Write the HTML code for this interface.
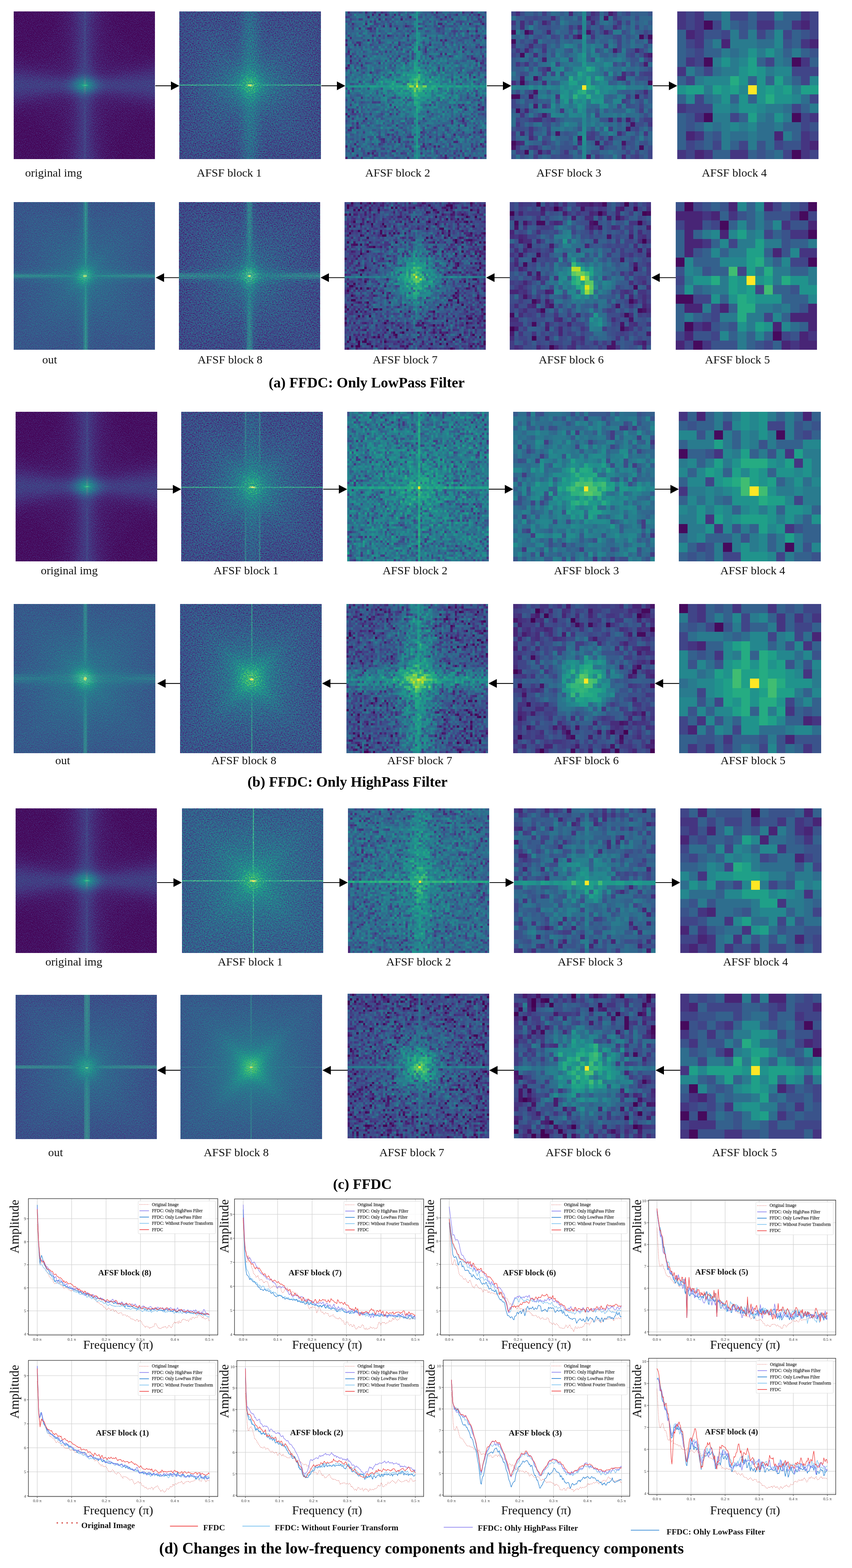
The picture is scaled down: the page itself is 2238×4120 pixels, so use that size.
<!DOCTYPE html><html><head><meta charset="utf-8"><title>FFDC figure</title><style>html,body{margin:0;padding:0;background:#fff}body{width:2238px;height:4120px;position:relative;overflow:hidden;font-family:"Liberation Serif","Times New Roman",serif}.p{position:absolute;display:block;shape-rendering:crispEdges}.l{position:absolute;white-space:nowrap;font-size:31px;line-height:1;color:#111}.t{position:absolute;white-space:nowrap;font-weight:bold;font-size:39px;line-height:1;color:#000}.ov{position:absolute;left:0;top:0}</style></head><body><svg width="0" height="0" style="position:absolute"><defs><filter id="fbA" filterUnits="userSpaceOnUse" x="-4" y="-4" width="72" height="72" color-interpolation-filters="sRGB"><feGaussianBlur in="SourceGraphic" stdDeviation="0.75" result="b"/><feTurbulence type="fractalNoise" baseFrequency="4.2" numOctaves="2" seed="7" result="t"/><feColorMatrix in="t" type="matrix" values="1 0 0 0 0 1 0 0 0 0 1 0 0 0 0 0 0 0 0 1" result="n"/><feComposite in="b" in2="n" operator="arithmetic" k1="0" k2="1" k3="0.7" k4="-0.35"/><feComponentTransfer><feFuncR type="table" tableValues="0.267 0.277 0.282 0.283 0.279 0.271 0.259 0.245 0.230 0.214 0.199 0.186 0.173 0.161 0.149 0.138 0.128 0.121 0.121 0.132 0.158 0.197 0.246 0.304 0.369 0.440 0.516 0.596 0.678 0.762 0.846 0.926 0.993"/><feFuncG type="table" tableValues="0.005 0.050 0.095 0.136 0.175 0.214 0.252 0.288 0.322 0.356 0.388 0.419 0.449 0.479 0.508 0.537 0.567 0.596 0.626 0.655 0.684 0.712 0.739 0.765 0.789 0.811 0.831 0.849 0.864 0.876 0.887 0.897 0.906"/><feFuncB type="table" tableValues="0.329 0.376 0.417 0.453 0.483 0.507 0.525 0.537 0.546 0.551 0.555 0.557 0.558 0.558 0.557 0.555 0.551 0.544 0.533 0.520 0.502 0.479 0.452 0.420 0.383 0.341 0.294 0.243 0.190 0.137 0.100 0.104 0.144"/></feComponentTransfer></filter><filter id="fsA" filterUnits="userSpaceOnUse" x="0" y="0" width="64" height="64" color-interpolation-filters="sRGB"><feTurbulence type="fractalNoise" baseFrequency="4.2" numOctaves="2" seed="7" result="t"/><feColorMatrix in="t" type="matrix" values="1 0 0 0 0 1 0 0 0 0 1 0 0 0 0 0 0 0 0 1" result="n"/><feComposite in="SourceGraphic" in2="n" operator="arithmetic" k1="0" k2="1" k3="0.7" k4="-0.35"/><feComponentTransfer><feFuncR type="table" tableValues="0.267 0.277 0.282 0.283 0.279 0.271 0.259 0.245 0.230 0.214 0.199 0.186 0.173 0.161 0.149 0.138 0.128 0.121 0.121 0.132 0.158 0.197 0.246 0.304 0.369 0.440 0.516 0.596 0.678 0.762 0.846 0.926 0.993"/><feFuncG type="table" tableValues="0.005 0.050 0.095 0.136 0.175 0.214 0.252 0.288 0.322 0.356 0.388 0.419 0.449 0.479 0.508 0.537 0.567 0.596 0.626 0.655 0.684 0.712 0.739 0.765 0.789 0.811 0.831 0.849 0.864 0.876 0.887 0.897 0.906"/><feFuncB type="table" tableValues="0.329 0.376 0.417 0.453 0.483 0.507 0.525 0.537 0.546 0.551 0.555 0.557 0.558 0.558 0.557 0.555 0.551 0.544 0.533 0.520 0.502 0.479 0.452 0.420 0.383 0.341 0.294 0.243 0.190 0.137 0.100 0.104 0.144"/></feComponentTransfer><feComposite in2="SourceAlpha" operator="in"/></filter><filter id="fbB" filterUnits="userSpaceOnUse" x="-4" y="-4" width="72" height="72" color-interpolation-filters="sRGB"><feGaussianBlur in="SourceGraphic" stdDeviation="0.75" result="b"/><feTurbulence type="fractalNoise" baseFrequency="6.5" numOctaves="2" seed="7" result="t"/><feColorMatrix in="t" type="matrix" values="1 0 0 0 0 1 0 0 0 0 1 0 0 0 0 0 0 0 0 1" result="n"/><feComposite in="b" in2="n" operator="arithmetic" k1="0" k2="1" k3="0.6" k4="-0.3"/><feComponentTransfer><feFuncR type="table" tableValues="0.267 0.277 0.282 0.283 0.279 0.271 0.259 0.245 0.230 0.214 0.199 0.186 0.173 0.161 0.149 0.138 0.128 0.121 0.121 0.132 0.158 0.197 0.246 0.304 0.369 0.440 0.516 0.596 0.678 0.762 0.846 0.926 0.993"/><feFuncG type="table" tableValues="0.005 0.050 0.095 0.136 0.175 0.214 0.252 0.288 0.322 0.356 0.388 0.419 0.449 0.479 0.508 0.537 0.567 0.596 0.626 0.655 0.684 0.712 0.739 0.765 0.789 0.811 0.831 0.849 0.864 0.876 0.887 0.897 0.906"/><feFuncB type="table" tableValues="0.329 0.376 0.417 0.453 0.483 0.507 0.525 0.537 0.546 0.551 0.555 0.557 0.558 0.558 0.557 0.555 0.551 0.544 0.533 0.520 0.502 0.479 0.452 0.420 0.383 0.341 0.294 0.243 0.190 0.137 0.100 0.104 0.144"/></feComponentTransfer></filter><filter id="fsB" filterUnits="userSpaceOnUse" x="0" y="0" width="64" height="64" color-interpolation-filters="sRGB"><feTurbulence type="fractalNoise" baseFrequency="6.5" numOctaves="2" seed="7" result="t"/><feColorMatrix in="t" type="matrix" values="1 0 0 0 0 1 0 0 0 0 1 0 0 0 0 0 0 0 0 1" result="n"/><feComposite in="SourceGraphic" in2="n" operator="arithmetic" k1="0" k2="1" k3="0.6" k4="-0.3"/><feComponentTransfer><feFuncR type="table" tableValues="0.267 0.277 0.282 0.283 0.279 0.271 0.259 0.245 0.230 0.214 0.199 0.186 0.173 0.161 0.149 0.138 0.128 0.121 0.121 0.132 0.158 0.197 0.246 0.304 0.369 0.440 0.516 0.596 0.678 0.762 0.846 0.926 0.993"/><feFuncG type="table" tableValues="0.005 0.050 0.095 0.136 0.175 0.214 0.252 0.288 0.322 0.356 0.388 0.419 0.449 0.479 0.508 0.537 0.567 0.596 0.626 0.655 0.684 0.712 0.739 0.765 0.789 0.811 0.831 0.849 0.864 0.876 0.887 0.897 0.906"/><feFuncB type="table" tableValues="0.329 0.376 0.417 0.453 0.483 0.507 0.525 0.537 0.546 0.551 0.555 0.557 0.558 0.558 0.557 0.555 0.551 0.544 0.533 0.520 0.502 0.479 0.452 0.420 0.383 0.341 0.294 0.243 0.190 0.137 0.100 0.104 0.144"/></feComponentTransfer><feComposite in2="SourceAlpha" operator="in"/></filter><filter id="fbC" filterUnits="userSpaceOnUse" x="-4" y="-4" width="72" height="72" color-interpolation-filters="sRGB"><feGaussianBlur in="SourceGraphic" stdDeviation="0.75" result="b"/><feTurbulence type="fractalNoise" baseFrequency="6.5" numOctaves="2" seed="7" result="t"/><feColorMatrix in="t" type="matrix" values="1 0 0 0 0 1 0 0 0 0 1 0 0 0 0 0 0 0 0 1" result="n"/><feComposite in="b" in2="n" operator="arithmetic" k1="0" k2="1" k3="0.45" k4="-0.225"/><feComponentTransfer><feFuncR type="table" tableValues="0.267 0.277 0.282 0.283 0.279 0.271 0.259 0.245 0.230 0.214 0.199 0.186 0.173 0.161 0.149 0.138 0.128 0.121 0.121 0.132 0.158 0.197 0.246 0.304 0.369 0.440 0.516 0.596 0.678 0.762 0.846 0.926 0.993"/><feFuncG type="table" tableValues="0.005 0.050 0.095 0.136 0.175 0.214 0.252 0.288 0.322 0.356 0.388 0.419 0.449 0.479 0.508 0.537 0.567 0.596 0.626 0.655 0.684 0.712 0.739 0.765 0.789 0.811 0.831 0.849 0.864 0.876 0.887 0.897 0.906"/><feFuncB type="table" tableValues="0.329 0.376 0.417 0.453 0.483 0.507 0.525 0.537 0.546 0.551 0.555 0.557 0.558 0.558 0.557 0.555 0.551 0.544 0.533 0.520 0.502 0.479 0.452 0.420 0.383 0.341 0.294 0.243 0.190 0.137 0.100 0.104 0.144"/></feComponentTransfer></filter><filter id="fsC" filterUnits="userSpaceOnUse" x="0" y="0" width="64" height="64" color-interpolation-filters="sRGB"><feTurbulence type="fractalNoise" baseFrequency="6.5" numOctaves="2" seed="7" result="t"/><feColorMatrix in="t" type="matrix" values="1 0 0 0 0 1 0 0 0 0 1 0 0 0 0 0 0 0 0 1" result="n"/><feComposite in="SourceGraphic" in2="n" operator="arithmetic" k1="0" k2="1" k3="0.45" k4="-0.225"/><feComponentTransfer><feFuncR type="table" tableValues="0.267 0.277 0.282 0.283 0.279 0.271 0.259 0.245 0.230 0.214 0.199 0.186 0.173 0.161 0.149 0.138 0.128 0.121 0.121 0.132 0.158 0.197 0.246 0.304 0.369 0.440 0.516 0.596 0.678 0.762 0.846 0.926 0.993"/><feFuncG type="table" tableValues="0.005 0.050 0.095 0.136 0.175 0.214 0.252 0.288 0.322 0.356 0.388 0.419 0.449 0.479 0.508 0.537 0.567 0.596 0.626 0.655 0.684 0.712 0.739 0.765 0.789 0.811 0.831 0.849 0.864 0.876 0.887 0.897 0.906"/><feFuncB type="table" tableValues="0.329 0.376 0.417 0.453 0.483 0.507 0.525 0.537 0.546 0.551 0.555 0.557 0.558 0.558 0.557 0.555 0.551 0.544 0.533 0.520 0.502 0.479 0.452 0.420 0.383 0.341 0.294 0.243 0.190 0.137 0.100 0.104 0.144"/></feComponentTransfer><feComposite in2="SourceAlpha" operator="in"/></filter></defs></svg><svg class="p" style="left:36.0px;top:30.0px" width="371.0" height="388.0" viewBox="0 0 32 32" preserveAspectRatio="none"><g fill="none" stroke-width="1.02" filter="url(#fbC)"><path stroke="#080808" d="M-4 -3.5h12m16 0h12M-4 -2.5h13m14 0h13M-4 -1.5h13m14 0h13M-4 -0.5h13m14 0h13M-4 0.5h13m14 0h13M-4 1.5h13m14 0h13M-4 2.5h14m12 0h14M-4 3.5h13m14 0h13M-4 4.5h13m14 0h13M-4 5.5h12m16 0h12M-4 6.5h11m18 0h11M-4 7.5h10m20 0h10M-1 8.5h6m22 0h6M-1 23.5h6m22 0h6M-4 24.5h10m20 0h10M-4 25.5h11m18 0h11M-4 26.5h12m16 0h12M-4 27.5h13m14 0h13M-4 28.5h13m14 0h13M-4 29.5h14m12 0h14M-4 30.5h13m14 0h13M-4 31.5h13m14 0h13M-4 32.5h13m14 0h13M-4 33.5h13m14 0h13M-4 34.5h13m14 0h13M-4 35.5h12m16 0h12"/><path stroke="#0c0c0c" d="M8 -3.5h2m12 0h2M9 -2.5h1m12 0h1M9 -1.5h2m10 0h2M9 -0.5h2m10 0h2M9 0.5h2m10 0h2M9 1.5h2m10 0h2M10 2.5h1m10 0h1M9 3.5h2m10 0h2M9 4.5h2m10 0h2M8 5.5h3m10 0h3M7 6.5h4m10 0h4M6 7.5h5m10 0h5M-4 8.5h3m6 0h6m10 0h6m6 0h3M-2 9.5h12m12 0h12M1 10.5h8m14 0h8M1 21.5h8m14 0h8M-2 22.5h12m12 0h12M-4 23.5h3m6 0h6m10 0h6m6 0h3M6 24.5h5m10 0h5M7 25.5h4m10 0h4M8 26.5h3m10 0h3M9 27.5h2m10 0h2M9 28.5h2m10 0h2M10 29.5h1m10 0h1M9 30.5h2m10 0h2M9 31.5h2m10 0h2M9 32.5h2m10 0h2M9 33.5h2m10 0h2M9 34.5h1m12 0h1M8 35.5h2m12 0h2"/><path stroke="#101010" d="M10 -3.5h1m10 0h1M10 -2.5h2m8 0h2M11 -1.5h1m8 0h1M11 -0.5h1m8 0h1M11 0.5h1m8 0h1M11 1.5h1m8 0h1M11 2.5h1m8 0h1M11 3.5h1m8 0h1M11 4.5h1m8 0h1M11 5.5h1m8 0h1M11 6.5h2m6 0h2M11 7.5h1m8 0h1M11 8.5h1m8 0h1M-4 9.5h2m12 0h2m8 0h2m12 0h2M-2 10.5h3m8 0h3m8 0h3m8 0h3M2 11.5h9m10 0h9M2 20.5h9m10 0h9M-2 21.5h3m8 0h3m8 0h3m8 0h3M-4 22.5h2m12 0h2m8 0h2m12 0h2M11 23.5h1m8 0h1M11 24.5h1m8 0h1M11 25.5h2m6 0h2M11 26.5h1m8 0h1M11 27.5h1m8 0h1M11 28.5h1m8 0h1M11 29.5h1m8 0h1M11 30.5h1m8 0h1M11 31.5h1m8 0h1M11 32.5h1m8 0h1M11 33.5h1m8 0h1M10 34.5h2m8 0h2M10 35.5h1m10 0h1"/><path stroke="#141414" d="M11 -3.5h1m8 0h1M12 -1.5h1m6 0h1M12 -0.5h1m6 0h1M12 0.5h1m6 0h1M12 1.5h1m6 0h1M12 2.5h1m6 0h1M12 3.5h1m6 0h1M12 4.5h1m6 0h1M12 5.5h1m6 0h1M12 7.5h1m6 0h1M12 8.5h1m6 0h1M12 9.5h1m6 0h1M-4 10.5h2m14 0h1m6 0h1m14 0h2M-1 11.5h3m9 0h2m6 0h2m9 0h3M4 12.5h8m8 0h8M4 19.5h8m8 0h8M-1 20.5h3m9 0h2m6 0h2m9 0h3M-4 21.5h2m14 0h1m6 0h1m14 0h2M12 22.5h1m6 0h1M12 23.5h1m6 0h1M12 24.5h1m6 0h1M12 26.5h1m6 0h1M12 27.5h1m6 0h1M12 28.5h1m6 0h1M12 29.5h1m6 0h1M12 30.5h1m6 0h1M12 31.5h1m6 0h1M12 32.5h1m6 0h1M12 33.5h1m6 0h1M11 35.5h1m8 0h1"/><path stroke="#181818" d="M12 -3.5h1m6 0h1M12 -2.5h1m6 0h1M13 1.5h1m4 0h1M13 2.5h1m4 0h1M13 3.5h1m4 0h1M13 4.5h1m4 0h1M13 5.5h1m4 0h1M13 6.5h1m4 0h1M13 7.5h1m4 0h1M13 8.5h1m4 0h1M13 9.5h1m4 0h1M13 10.5h1m4 0h1M-3 11.5h2m14 0h1m4 0h1m14 0h2M1 12.5h3m8 0h1m6 0h1m8 0h3M8 13.5h4m8 0h4M8 18.5h4m8 0h4M1 19.5h3m8 0h1m6 0h1m8 0h3M-3 20.5h2m14 0h1m4 0h1m14 0h2M13 21.5h1m4 0h1M13 22.5h1m4 0h1M13 23.5h1m4 0h1M13 24.5h1m4 0h1M13 25.5h1m4 0h1M13 26.5h1m4 0h1M13 27.5h1m4 0h1M13 28.5h1m4 0h1M13 29.5h1m4 0h1M13 30.5h1m4 0h1M12 34.5h1m6 0h1M12 35.5h1m6 0h1"/><path stroke="#1c1c1c" d="M13 -3.5h1m4 0h1M13 -2.5h1m4 0h1M13 -1.5h1m4 0h1M13 -0.5h1m4 0h1M13 0.5h1m4 0h1M-4 11.5h1m38 0h1M-1 12.5h2m12 0h1m4 0h1m12 0h2M5 13.5h3m4 0h1m6 0h1m4 0h3M5 18.5h3m4 0h1m6 0h1m4 0h3M-1 19.5h2m12 0h1m4 0h1m12 0h2M-4 20.5h1m38 0h1M13 31.5h1m4 0h1M13 32.5h1m4 0h1M13 33.5h1m4 0h1M13 34.5h1m4 0h1M13 35.5h1m4 0h1"/><path stroke="#202020" d="M14 2.5h1m2 0h1M14 3.5h1m2 0h1M14 4.5h1m2 0h1M14 5.5h1m2 0h1M14 6.5h1m2 0h1M14 7.5h1m2 0h1M14 8.5h1m2 0h1M14 9.5h1m2 0h1M14 10.5h1m2 0h1M-4 12.5h3m34 0h3M2 13.5h3m8 0h1m4 0h1m8 0h3M2 18.5h3m8 0h1m4 0h1m8 0h3M-4 19.5h3m34 0h3M14 21.5h1m2 0h1M14 22.5h1m2 0h1M14 23.5h1m2 0h1M14 24.5h1m2 0h1M14 25.5h1m2 0h1M14 26.5h1m2 0h1M14 27.5h1m2 0h1M14 28.5h1m2 0h1M14 29.5h1m2 0h1"/><path stroke="#242424" d="M14 -3.5h1m2 0h1M14 -2.5h1m2 0h1M14 -1.5h1m2 0h1M14 -0.5h1m2 0h1M14 0.5h1m2 0h1M14 1.5h1m2 0h1M14 11.5h1m2 0h1M14 12.5h1m2 0h1M-1 13.5h3m28 0h3M7 14.5h5m8 0h5M7 17.5h5m8 0h5M-1 18.5h3m28 0h3M14 19.5h1m2 0h1M14 20.5h1m2 0h1M14 30.5h1m2 0h1M14 31.5h1m2 0h1M14 32.5h1m2 0h1M14 33.5h1m2 0h1M14 34.5h1m2 0h1M14 35.5h1m2 0h1"/><path stroke="#282828" d="M-4 13.5h3m34 0h3M2 14.5h5m5 0h1m6 0h1m5 0h5M2 17.5h5m5 0h1m6 0h1m5 0h5M-4 18.5h3m34 0h3"/><path stroke="#2d2d2d" d="M15 -3.5h2M15 -2.5h2M15 -1.5h2M15 -0.5h2M15 0.5h2M15 1.5h2M15 2.5h2M15 3.5h2M15 4.5h2M15 5.5h2M15 6.5h2M15 7.5h2M15 8.5h2M15 9.5h2M15 10.5h2M14 13.5h1m2 0h1M-3 14.5h5m28 0h5M-3 17.5h5m28 0h5M14 18.5h1m2 0h1M15 21.5h2M15 22.5h2M15 23.5h2M15 24.5h2M15 25.5h2M15 26.5h2M15 27.5h2M15 28.5h2M15 29.5h2M15 30.5h2M15 31.5h2M15 32.5h2M15 33.5h2M15 34.5h2M15 35.5h2"/><path stroke="#313131" d="M15 11.5h2M15 12.5h2M-4 14.5h1m16 0h1m4 0h1m16 0h1M-3 15.5h14m10 0h14M-3 16.5h14m10 0h14M-4 17.5h1m16 0h1m4 0h1m16 0h1M15 19.5h2M15 20.5h2"/><path stroke="#353535" d="M-4 15.5h1m14 0h1m8 0h1m14 0h1M-4 16.5h1m14 0h1m8 0h1m14 0h1"/><path stroke="#393939" d="M15 13.5h2M15 18.5h2"/><path stroke="#414141" d="M14 14.5h1m2 0h1M12 15.5h1m6 0h1M12 16.5h1m6 0h1M14 17.5h1m2 0h1"/><path stroke="#555555" d="M15 14.5h2M13 15.5h1m4 0h1M13 16.5h1m4 0h1M15 17.5h2"/><path stroke="#717171" d="M14 15.5h1m2 0h1M14 16.5h1m2 0h1"/><path stroke="#929292" d="M15 15.5h2M15 16.5h2"/></g><g filter="url(#fsC)" style="mix-blend-mode:lighten"><rect x="15.901" y="0.00" width="0.518" height="32.00" fill="#333333"/><ellipse cx="16.160" cy="16.000" rx="0.776" ry="0.247" fill="#949494"/><ellipse cx="16.160" cy="16.000" rx="0.345" ry="0.124" fill="#b2b2b2"/></g></svg><svg class="p" style="left:471.0px;top:30.0px" width="372.0" height="388.0" viewBox="0 0 32 32" preserveAspectRatio="none"><g fill="none" stroke-width="1.02" filter="url(#fbA)"><path stroke="#313131" d="M-4 -3.5h17m6 0h17M-4 -2.5h1m38 0h1M-4 -1.5h1m38 0h1M-4 -0.5h1m38 0h1M-4 0.5h1m38 0h1M-4 1.5h1m38 0h1M-4 2.5h1m38 0h1M-4 3.5h1m38 0h1M-4 4.5h1m38 0h1M-4 5.5h1m38 0h1M-4 6.5h1m38 0h1M-4 7.5h1m38 0h1M-4 8.5h1m38 0h1M-4 9.5h1m38 0h1M-4 10.5h1m38 0h1M-4 11.5h1m38 0h1M-4 12.5h1m38 0h1M-4 13.5h1m38 0h1M-4 14.5h1m38 0h1M-4 15.5h1m38 0h1M-4 16.5h1m38 0h1M-4 17.5h1m38 0h1M-4 18.5h1m38 0h1M-4 19.5h1m38 0h1M-4 20.5h1m38 0h1M-4 21.5h1m38 0h1M-4 22.5h1m38 0h1M-4 23.5h1m38 0h1M-4 24.5h1m38 0h1M-4 25.5h1m38 0h1M-4 26.5h1m38 0h1M-4 27.5h1m38 0h1M-4 28.5h1m38 0h1M-4 29.5h1m38 0h1M-4 30.5h1m38 0h1M-4 31.5h1m38 0h1M-4 32.5h1m38 0h1M-4 33.5h1m38 0h1M-4 34.5h1m38 0h1M-4 35.5h17m6 0h17"/><path stroke="#353535" d="M13 -3.5h1m4 0h1M-3 -2.5h16m6 0h16M-3 -1.5h16m6 0h16M-3 -0.5h2m34 0h2M-3 0.5h2m34 0h2M-3 1.5h2m34 0h2M-3 2.5h2m34 0h2M-3 3.5h2m34 0h2M-3 4.5h2m34 0h2M-3 5.5h2m34 0h2M-3 6.5h2m34 0h2M-3 7.5h2m34 0h2M-3 8.5h2m34 0h2M-3 9.5h2m34 0h2M-3 10.5h2m34 0h2M-3 11.5h2m34 0h2M-3 12.5h2m34 0h2M-3 13.5h2m34 0h2M-3 14.5h2m34 0h2M-3 15.5h2m34 0h2M-3 16.5h2m34 0h2M-3 17.5h2m34 0h2M-3 18.5h2m34 0h2M-3 19.5h2m34 0h2M-3 20.5h2m34 0h2M-3 21.5h2m34 0h2M-3 22.5h2m34 0h2M-3 23.5h2m34 0h2M-3 24.5h2m34 0h2M-3 25.5h2m34 0h2M-3 26.5h2m34 0h2M-3 27.5h2m34 0h2M-3 28.5h2m34 0h2M-3 29.5h2m34 0h2M-3 30.5h2m34 0h2M-3 31.5h2m34 0h2M-3 32.5h2m34 0h2M-3 33.5h16m6 0h16M-3 34.5h16m6 0h16M13 35.5h1m4 0h1"/><path stroke="#393939" d="M13 -2.5h1m4 0h1M13 -1.5h1m4 0h1M-1 -0.5h14m6 0h14M-1 0.5h14m6 0h14M-1 1.5h2m30 0h2M-1 2.5h2m30 0h2M-1 3.5h2m30 0h2M-1 4.5h2m30 0h2M-1 5.5h2m30 0h2M-1 6.5h2m30 0h2M-1 7.5h2m30 0h2M-1 8.5h2m30 0h2M-1 9.5h2m30 0h2M-1 10.5h2m30 0h2M-1 11.5h2m30 0h2M-1 12.5h2m30 0h2M-1 13.5h2m30 0h2M-1 14.5h2m30 0h2M-1 15.5h1m32 0h1M-1 16.5h1m32 0h1M-1 17.5h2m30 0h2M-1 18.5h2m30 0h2M-1 19.5h2m30 0h2M-1 20.5h2m30 0h2M-1 21.5h2m30 0h2M-1 22.5h2m30 0h2M-1 23.5h2m30 0h2M-1 24.5h2m30 0h2M-1 25.5h2m30 0h2M-1 26.5h2m30 0h2M-1 27.5h2m30 0h2M-1 28.5h2m30 0h2M-1 29.5h2m30 0h2M-1 30.5h2m30 0h2M-1 31.5h14m6 0h14M-1 32.5h14m6 0h14M13 33.5h1m4 0h1M13 34.5h1m4 0h1"/><path stroke="#3d3d3d" d="M13 -0.5h1m4 0h1M13 0.5h1m4 0h1M1 1.5h12m6 0h12M1 2.5h12m6 0h12M1 3.5h12m6 0h12M1 4.5h3m24 0h3M1 5.5h3m24 0h3M1 6.5h3m24 0h3M1 7.5h3m24 0h3M1 8.5h3m24 0h3M1 9.5h3m24 0h3M1 10.5h2m26 0h2M1 11.5h2m26 0h2M1 12.5h2m26 0h2M1 13.5h1m28 0h1M1 14.5h1m28 0h1M0 15.5h2m28 0h2M0 16.5h2m28 0h2M1 17.5h1m28 0h1M1 18.5h1m28 0h1M1 19.5h2m26 0h2M1 20.5h2m26 0h2M1 21.5h2m26 0h2M1 22.5h3m24 0h3M1 23.5h3m24 0h3M1 24.5h3m24 0h3M1 25.5h3m24 0h3M1 26.5h3m24 0h3M1 27.5h3m24 0h3M1 28.5h12m6 0h12M1 29.5h12m6 0h12M1 30.5h12m6 0h12M13 31.5h1m4 0h1M13 32.5h1m4 0h1"/><path stroke="#414141" d="M14 -3.5h1m2 0h1M13 1.5h1m4 0h1M13 2.5h1m4 0h1M13 3.5h1m4 0h1M4 4.5h9m6 0h9M4 5.5h9m6 0h9M4 6.5h2m4 0h2m8 0h2m4 0h2M4 7.5h2m20 0h2M4 8.5h2m20 0h2M4 9.5h2m20 0h2M3 10.5h3m20 0h3M3 11.5h2m22 0h2M3 12.5h2m22 0h2M2 13.5h2m24 0h2M2 14.5h2m24 0h2M2 15.5h2m24 0h2M2 16.5h2m24 0h2M2 17.5h2m24 0h2M2 18.5h2m24 0h2M3 19.5h2m22 0h2M3 20.5h2m22 0h2M3 21.5h3m20 0h3M4 22.5h2m20 0h2M4 23.5h2m20 0h2M4 24.5h2m20 0h2M4 25.5h2m4 0h2m8 0h2m4 0h2M4 26.5h9m6 0h9M4 27.5h9m6 0h9M13 28.5h1m4 0h1M13 29.5h1m4 0h1M13 30.5h1m4 0h1M14 35.5h1m2 0h1"/><path stroke="#454545" d="M14 -2.5h1m2 0h1M14 -1.5h1m2 0h1M13 4.5h1m4 0h1M13 5.5h1m4 0h1M6 6.5h4m2 0h2m4 0h2m2 0h4M6 7.5h7m6 0h7M6 8.5h3m1 0h3m6 0h3m1 0h3M6 9.5h2m16 0h2M6 10.5h2m16 0h2M5 11.5h2m18 0h2M5 12.5h2m18 0h2M4 13.5h2m20 0h2M4 14.5h1m22 0h1M4 15.5h1m22 0h1M4 16.5h1m22 0h1M4 17.5h1m22 0h1M4 18.5h2m20 0h2M5 19.5h2m18 0h2M5 20.5h2m18 0h2M6 21.5h2m16 0h2M6 22.5h2m16 0h2M6 23.5h3m1 0h3m6 0h3m1 0h3M6 24.5h7m6 0h7M6 25.5h4m2 0h2m4 0h2m2 0h4M13 26.5h1m4 0h1M13 27.5h1m4 0h1M14 33.5h1m2 0h1M14 34.5h1m2 0h1"/><path stroke="#494949" d="M14 -0.5h1m2 0h1M14 0.5h1m2 0h1M14 1.5h1m2 0h1M13 7.5h1m4 0h1M9 8.5h1m3 0h1m4 0h1m3 0h1M8 9.5h5m6 0h5M8 10.5h2m12 0h2M7 11.5h2m14 0h2M7 12.5h1m16 0h1M6 13.5h1m18 0h1M5 14.5h2m18 0h2M5 15.5h1m20 0h1M5 16.5h1m20 0h1M5 17.5h2m18 0h2M6 18.5h1m18 0h1M7 19.5h1m16 0h1M7 20.5h2m14 0h2M8 21.5h2m12 0h2M8 22.5h5m6 0h5M9 23.5h1m3 0h1m4 0h1m3 0h1M13 24.5h1m4 0h1M14 30.5h1m2 0h1M14 31.5h1m2 0h1M14 32.5h1m2 0h1"/><path stroke="#4d4d4d" d="M14 2.5h1m2 0h1M14 3.5h1m2 0h1M13 9.5h1m4 0h1M10 10.5h3m6 0h3M9 11.5h2m10 0h2M8 12.5h2m12 0h2M7 13.5h2m14 0h2M7 14.5h1m16 0h1M6 15.5h2m16 0h2M6 16.5h2m16 0h2M7 17.5h1m16 0h1M7 18.5h2m14 0h2M8 19.5h2m12 0h2M9 20.5h2m10 0h2M10 21.5h3m6 0h3M13 22.5h1m4 0h1M14 28.5h1m2 0h1M14 29.5h1m2 0h1"/><path stroke="#515151" d="M15 -3.5h2M15 -2.5h2M14 4.5h1m2 0h1M14 5.5h1m2 0h1M14 6.5h1m2 0h1M13 10.5h1m4 0h1M11 11.5h2m6 0h2M10 12.5h1m10 0h1M9 13.5h1m12 0h1M8 14.5h1m14 0h1M8 15.5h1m14 0h1M8 16.5h1m14 0h1M8 17.5h1m14 0h1M9 18.5h1m12 0h1M10 19.5h1m10 0h1M11 20.5h2m6 0h2M13 21.5h1m4 0h1M14 25.5h1m2 0h1M14 26.5h1m2 0h1M14 27.5h1m2 0h1M15 34.5h2M15 35.5h2"/><path stroke="#555555" d="M15 -1.5h2M15 -0.5h2M14 7.5h1m2 0h1M14 8.5h1m2 0h1M13 11.5h1m4 0h1M11 12.5h1m8 0h1M10 13.5h1m10 0h1M9 14.5h1m12 0h1M9 15.5h1m12 0h1M9 16.5h1m12 0h1M9 17.5h1m12 0h1M10 18.5h1m10 0h1M11 19.5h1m8 0h1M13 20.5h1m4 0h1M14 23.5h1m2 0h1M14 24.5h1m2 0h1M15 32.5h2M15 33.5h2"/><path stroke="#595959" d="M15 0.5h2M15 1.5h2M14 9.5h1m2 0h1M14 10.5h1m2 0h1M12 12.5h1m6 0h1M11 13.5h1m8 0h1M10 14.5h1m10 0h1M10 15.5h1m10 0h1M10 16.5h1m10 0h1M10 17.5h1m10 0h1M11 18.5h1m8 0h1M12 19.5h1m6 0h1M14 21.5h1m2 0h1M14 22.5h1m2 0h1M15 30.5h2M15 31.5h2"/><path stroke="#5d5d5d" d="M15 2.5h2M15 3.5h2M15 4.5h2M13 12.5h1m4 0h1M12 13.5h1m6 0h1M11 14.5h1m8 0h1M11 17.5h1m8 0h1M12 18.5h1m6 0h1M13 19.5h1m4 0h1M15 27.5h2M15 28.5h2M15 29.5h2"/><path stroke="#616161" d="M15 5.5h2M15 6.5h2M15 7.5h2M14 11.5h1m2 0h1M11 15.5h1m8 0h1M11 16.5h1m8 0h1M14 20.5h1m2 0h1M15 24.5h2M15 25.5h2M15 26.5h2"/><path stroke="#656565" d="M15 8.5h2M15 9.5h2M13 13.5h1m4 0h1M12 14.5h1m6 0h1M12 17.5h1m6 0h1M13 18.5h1m4 0h1M15 22.5h2M15 23.5h2"/><path stroke="#696969" d="M15 10.5h2M14 12.5h1m2 0h1M12 15.5h1m6 0h1M12 16.5h1m6 0h1M14 19.5h1m2 0h1M15 21.5h2"/><path stroke="#6d6d6d" d="M15 11.5h2M13 14.5h1m4 0h1M13 17.5h1m4 0h1M15 20.5h2"/><path stroke="#717171" d="M14 13.5h1m2 0h1M14 18.5h1m2 0h1"/><path stroke="#757575" d="M15 12.5h2M15 19.5h2"/><path stroke="#797979" d="M13 15.5h1m4 0h1M13 16.5h1m4 0h1"/><path stroke="#828282" d="M15 13.5h2M14 14.5h1m2 0h1M14 17.5h1m2 0h1M15 18.5h2"/><path stroke="#929292" d="M14 15.5h1m2 0h1M14 16.5h1m2 0h1"/><path stroke="#969696" d="M15 14.5h2M15 17.5h2"/><path stroke="#aaaaaa" d="M15 15.5h2M15 16.5h2"/></g><g filter="url(#fsA)" style="mix-blend-mode:lighten"><rect x="0.00" y="15.876" width="32.00" height="0.247" fill="#949494"/><ellipse cx="16.000" cy="16.000" rx="1.032" ry="0.247" fill="#bfbfbf"/><ellipse cx="16.000" cy="16.000" rx="0.430" ry="0.165" fill="#e6e6e6"/></g></svg><svg class="p" style="left:907.0px;top:30.0px" width="371.0" height="388.0" viewBox="0 0 64 64" preserveAspectRatio="none"><g fill="none" stroke-width="1.02"><path stroke="#481c6e" d="M41 0.5h1M12 1.5h1m2 0h1m2 0h1m41 0h1M10 2.5h1m18 0h1M25 3.5h1M62 5.5h1M63 11.5h1M0 14.5h1M61 15.5h1M2 19.5h1M2 21.5h1M1 23.5h1M0 24.5h1M0 44.5h1M1 45.5h1M61 52.5h1M61 57.5h1M0 58.5h1M3 60.5h1M10 61.5h1m1 0h1M0 63.5h1m44 0h1m8 0h1m3 0h1"/><path stroke="#482576" d="M1 0.5h1m7 0h1m47 0h1M22 1.5h1M45 2.5h1M15 3.5h1M9 5.5h1m32 0h2m12 0h1M17 6.5h1m2 0h1m6 0h1M10 7.5h2m11 0h1M55 8.5h1m3 0h1M19 10.5h1m8 0h1M2 11.5h1M0 12.5h1m9 0h1m32 0h1m1 0h1m12 0h1M6 14.5h1M53 15.5h1M1 17.5h1M58 20.5h1M59 21.5h1M61 22.5h1M7 23.5h1M61 37.5h1M60 40.5h1M62 41.5h1M60 42.5h1M3 43.5h1M9 46.5h1m43 0h1M53 47.5h1M5 48.5h1M2 50.5h1m2 0h1M49 53.5h1M44 54.5h1M8 55.5h1m8 0h1m6 0h1M24 56.5h1m24 0h2M4 57.5h1M35 58.5h1m4 0h1m1 0h1M3 59.5h1M21 60.5h1M5 62.5h1m39 0h1m17 0h1M7 63.5h1m20 0h1m26 0h1"/><path stroke="#472d7b" d="M13 0.5h1m2 0h1m36 0h1M50 1.5h1M62 2.5h1M43 3.5h1m4 0h1M61 4.5h1M3 5.5h1M6 7.5h1M12 10.5h1m2 0h1m44 0h1M5 13.5h2M4 14.5h1m19 0h1m13 0h1M36 16.5h1M36 17.5h1M43 18.5h1m1 0h1M8 19.5h1m53 0h1M57 20.5h1M61 24.5h1M11 26.5h1M58 28.5h1M7 37.5h1M53 40.5h1M52 41.5h1M54 42.5h1m7 0h1M48 47.5h1M1 51.5h2m58 0h1M34 52.5h1m23 0h1M19 53.5h1M38 54.5h1M16 55.5h1M17 56.5h1M35 57.5h1m2 0h1M62 58.5h1M36 59.5h1m21 0h1M22 60.5h1m29 0h1M13 62.5h1m37 0h1M49 63.5h1"/><path stroke="#453581" d="M0 2.5h1M18 3.5h1m41 0h1M13 4.5h1M28 6.5h1m15 0h1M13 7.5h1M30 8.5h1M1 10.5h1m55 0h1M15 13.5h1m8 0h1M22 15.5h1m36 0h1M41 16.5h1M18 17.5h1m34 0h1M1 18.5h1M24 19.5h1m13 0h1m8 0h1m9 0h1M39 20.5h1M6 21.5h1m55 0h1M2 22.5h1m12 0h1m46 0h1M42 24.5h1M5 25.5h1M56 27.5h1M63 28.5h1M59 36.5h1M3 38.5h1M2 40.5h1m17 0h1m30 0h1M22 41.5h1m24 0h1M1 42.5h1m1 0h1M5 43.5h1m31 0h1M20 44.5h1M3 46.5h1m31 0h1M8 47.5h1M48 48.5h1M23 49.5h1m27 0h1m2 0h1M3 50.5h1m36 0h1M56 53.5h1M28 54.5h3M22 56.5h1m40 0h1M15 57.5h1M27 58.5h1m31 0h1M13 60.5h1m16 0h1M25 61.5h1m8 0h1m14 0h1M3 63.5h1"/><path stroke="#433d84" d="M39 0.5h1M24 1.5h1m31 0h1M1 2.5h1m19 0h1m19 0h1m5 0h1M2 3.5h1m3 0h2M11 4.5h1M13 5.5h1m6 0h1m31 0h1M59 6.5h1M3 7.5h1m29 0h1m8 0h1M11 8.5h1m37 0h1M20 10.5h1m15 0h1M59 11.5h1M12 12.5h1M44 13.5h1M29 14.5h1M36 15.5h1M54 16.5h1M28 17.5h1m20 0h1m7 0h1M55 19.5h1M26 20.5h1m3 0h1M28 21.5h1M5 22.5h1m21 0h1M1 24.5h1M63 25.5h1M51 26.5h1M20 27.5h1M52 28.5h1M12 29.5h1M6 30.5h1M3 33.5h1M1 35.5h1M17 36.5h1M55 37.5h1M60 38.5h1M12 39.5h2m1 0h1M38 40.5h1M61 42.5h1M3 44.5h2m6 0h1m11 0h1m38 0h1M50 46.5h1M54 48.5h1M5 49.5h1m38 0h1M58 50.5h1M21 51.5h1m24 0h1m4 0h1M8 52.5h1m44 0h1M21 53.5h1M15 54.5h1m6 0h1m1 0h1m9 0h1M21 55.5h1m19 0h1M5 56.5h1m10 0h1m11 0h1m1 0h1M12 57.5h1m44 0h1M5 58.5h1m51 0h1M17 59.5h1m11 0h1M12 60.5h1m28 0h1M41 61.5h1M14 62.5h1m28 0h1m12 0h1M44 63.5h1m14 0h1m1 0h1"/><path stroke="#404588" d="M17 0.5h2M2 1.5h1m16 0h1m20 0h1m17 0h1M25 2.5h1M61 3.5h1M52 4.5h1M14 5.5h1m18 0h1m15 0h1M36 6.5h1M34 7.5h1m24 0h1M42 8.5h1m5 0h1m1 0h1M44 9.5h1m4 0h1M26 10.5h1m32 0h1m3 0h1M38 11.5h1M15 12.5h1m12 0h1M35 13.5h1M11 14.5h1m32 0h1m15 0h1M62 15.5h1M1 16.5h1m21 0h1m1 0h1m7 0h1M20 17.5h1M0 18.5h1m2 0h1m26 0h1M28 19.5h1M20 20.5h1m2 0h1M22 21.5h1M9 22.5h1m27 0h1M22 23.5h1m36 0h1m3 0h1M44 24.5h1M42 25.5h1m1 0h1m16 0h1M2 26.5h1m5 0h1m48 0h1M48 29.5h1M12 30.5h1m45 0h1M0 33.5h1m9 0h1M59 34.5h1M21 37.5h2M0 38.5h1m62 0h1M7 39.5h1m6 0h1M0 41.5h1m4 0h1m55 0h1M23 42.5h1M16 44.5h1m43 0h1M52 45.5h1M27 46.5h1m29 0h1M0 47.5h1m20 0h1m30 0h1M3 48.5h1m26 0h1m2 0h1m19 0h1M10 49.5h1m26 0h1M25 50.5h1M35 51.5h1M23 52.5h1m11 0h1m24 0h1m1 0h1M29 53.5h1m5 0h1m8 0h1M14 54.5h1m46 0h2M15 55.5h1m29 0h1M16 57.5h1m30 0h1m14 0h1M29 58.5h1m4 0h1m13 0h1M7 59.5h1m8 0h1M50 60.5h1M8 61.5h1m5 0h1m1 0h1m1 0h1m7 0h2m25 0h1M53 62.5h1M23 63.5h1m11 0h1m7 0h1m2 0h1"/><path stroke="#3d4d8a" d="M6 0.5h1m5 0h1m11 0h1m38 0h1M9 1.5h1m18 0h1m7 0h1m10 0h1m1 0h1m9 0h1M14 2.5h1m19 0h1m7 0h1m12 0h1m4 0h1M20 3.5h1m6 0h1m17 0h1m9 0h1M0 4.5h1m1 0h1m6 0h1m9 0h1m18 0h1m7 0h1m3 0h2m6 0h2M1 5.5h1m25 0h1m29 0h1M3 6.5h1m7 0h2m1 0h1m7 0h1m6 0h1m10 0h1m6 0h2m11 0h1M41 7.5h1m2 0h1M12 8.5h2m1 0h1m12 0h1m8 0h1m3 0h1m10 0h1M17 10.5h1m5 0h1M17 11.5h1m23 0h1m6 0h1m4 0h3M8 12.5h1m42 0h2M0 13.5h1m2 0h1m34 0h1m9 0h1M20 14.5h1m6 0h1M23 15.5h1m9 0h1m11 0h1m5 0h1M51 16.5h1M8 17.5h1m6 0h1m45 0h1M14 18.5h1M5 19.5h1m24 0h1m11 0h1m5 0h1M2 20.5h1m1 0h1m54 0h1m2 0h2M18 21.5h1m14 0h1M35 22.5h1m10 0h1M20 23.5h1m41 0h1M4 24.5h1m2 0h2M21 25.5h1m30 0h1m5 0h1M14 26.5h1m45 0h1M60 27.5h1M0 28.5h1m55 0h1M2 31.5h2m48 0h1m7 0h1M16 33.5h1M1 34.5h1M14 35.5h1m40 0h1M42 38.5h1m15 0h1M39 39.5h1M7 41.5h1m50 0h1M24 43.5h1M2 44.5h1m5 0h1m30 0h1m17 0h1m3 0h1M6 45.5h1m1 0h1m49 0h1M12 46.5h1m3 0h1M51 47.5h1M7 48.5h1m13 0h1m4 0h1m1 0h1m29 0h1M19 49.5h1m22 0h1m16 0h1M6 50.5h1m28 0h1m5 0h1M20 51.5h1m42 0h1M15 52.5h1m11 0h1m10 0h1M15 53.5h1m21 0h1m15 0h1M21 54.5h1m19 0h1m10 0h1m5 0h1m4 0h1M3 55.5h1m3 0h1m3 0h1m21 0h1m14 0h1m8 0h1M20 56.5h1m6 0h1m13 0h1M19 57.5h1m7 0h1m31 0h1M2 58.5h1m25 0h1m18 0h1m15 0h1M34 59.5h1m5 0h1m9 0h1M1 60.5h1m6 0h1m40 0h1m7 0h1M20 61.5h1M8 62.5h2m2 0h1m3 0h2m3 0h1M4 63.5h1m7 0h1m24 0h2"/><path stroke="#3a538b" d="M2 0.5h1m1 0h1m2 0h1m2 0h1m14 0h1m4 0h1m11 0h2m10 0h2M1 1.5h1m39 0h1m2 0h1m1 0h1m6 0h1m7 0h1M28 2.5h1m4 0h1m23 0h1m1 0h1M3 3.5h1m9 0h1m5 0h1m11 0h1m5 0h1m6 0h1m12 0h1M1 4.5h1m14 0h1m4 0h1m13 0h1m4 0h1m12 0h1m6 0h1m1 0h1M15 5.5h1m1 0h1m17 0h1m4 0h1m4 0h1m8 0h1m6 0h1m1 0h1M2 6.5h1m5 0h1m7 0h1m6 0h1m2 0h1m3 0h1m10 0h1m8 0h1m12 0h1M9 7.5h1m33 0h1m5 0h1M24 8.5h1m11 0h1m7 0h1M0 9.5h1m5 0h1m22 0h1m17 0h1m3 0h1m3 0h1M8 10.5h1m12 0h1m25 0h1m1 0h1M7 11.5h1m6 0h1m35 0h1m9 0h1M14 12.5h1m16 0h1m9 0h1m19 0h1M7 13.5h1m4 0h1m3 0h1m4 0h1m4 0h1m3 0h1m22 0h1M12 14.5h1m15 0h1m30 0h1M13 15.5h2m48 0h1M2 16.5h1m4 0h1m4 0h1m16 0h1m31 0h1M30 17.5h1m4 0h1m27 0h1M4 18.5h1m11 0h1m19 0h1m24 0h2M0 19.5h1m8 0h1m9 0h1m1 0h1m21 0h1M6 20.5h1m20 0h1m27 0h1M26 21.5h1m26 0h1m7 0h1m1 0h1M3 22.5h1m3 0h1m2 0h1m39 0h1M4 23.5h1M36 24.5h1m15 0h1M0 25.5h1m13 0h2m46 0h1M55 26.5h2M17 27.5h1M13 28.5h1m5 0h1M14 29.5h1m39 0h1m6 0h1M23 30.5h1M48 35.5h1m10 0h1M5 36.5h2m48 0h1M2 37.5h1m9 0h1m11 0h1m2 0h1m19 0h1m15 0h1M19 38.5h1m8 0h2M4 39.5h1m3 0h1m48 0h1m3 0h1m1 0h1M36 40.5h1m3 0h1m8 0h1m2 0h1m3 0h1m4 0h1M51 41.5h1m2 0h1M2 42.5h1m7 0h1m2 0h1m7 0h1m26 0h1M7 43.5h1m11 0h1m24 0h1m13 0h1M6 44.5h1m45 0h1m10 0h1M14 45.5h2m22 0h1m15 0h1m8 0h1M29 46.5h1m29 0h1M30 47.5h1m5 0h1m18 0h1M0 48.5h1m10 0h1m5 0h1m7 0h1m37 0h1M3 49.5h1m11 0h1M0 50.5h1m45 0h1M12 51.5h2m12 0h2m11 0h1m1 0h1m3 0h1M0 52.5h1m4 0h1m30 0h1M2 53.5h2m14 0h1m4 0h1m17 0h1m9 0h2m7 0h1m1 0h1M0 54.5h1m9 0h3m30 0h1m4 0h2m4 0h2M2 55.5h1m32 0h1M18 56.5h1m7 0h1m32 0h1M25 57.5h1m11 0h1m6 0h1M6 58.5h1m6 0h1m1 0h1m5 0h1m14 0h1m15 0h1m8 0h1M0 59.5h1m1 0h1m16 0h1m3 0h1m14 0h1m6 0h2M7 60.5h1m18 0h1m13 0h1m4 0h1m1 0h1m6 0h1m3 0h1m3 0h1M2 61.5h1m8 0h1m5 0h1m5 0h1m14 0h1m3 0h1M10 62.5h1m9 0h1m6 0h1m2 0h1m5 0h1m10 0h2m1 0h1M22 63.5h1m1 0h1m17 0h1"/><path stroke="#375b8d" d="M3 0.5h1m15 0h1m8 0h1m9 0h1m8 0h1m3 0h1m4 0h1m1 0h2M3 1.5h1m9 0h1m20 0h1m4 0h1M2 2.5h1m12 0h1m3 0h1m18 0h1m12 0h1M4 3.5h1m17 0h2m4 0h2m12 0h1m3 0h1m4 0h1M17 4.5h1m29 0h1M4 5.5h1m14 0h1m2 0h1m11 0h1M5 6.5h1m32 0h1m4 0h1m2 0h1m10 0h2M1 7.5h1m24 0h1m2 0h1m31 0h1m1 0h1M0 8.5h1m2 0h1m3 0h1m12 0h1m2 0h1m1 0h1m5 0h1m11 0h1m18 0h1M7 9.5h1m5 0h1m4 0h1m3 0h1m3 0h1m15 0h2m15 0h1M13 10.5h1m21 0h1m15 0h2m2 0h1m6 0h1M21 11.5h1m3 0h1m2 0h1m16 0h1m16 0h1M3 12.5h1m40 0h1m1 0h1m6 0h1M17 13.5h1m7 0h1m24 0h1m7 0h1M35 14.5h1m1 0h1m2 0h1m7 0h1m2 0h1m2 0h1M1 15.5h1m2 0h1m1 0h2m1 0h1m9 0h2m21 0h1m17 0h1M13 16.5h2m20 0h1m2 0h1m7 0h1m9 0h2M4 17.5h1m22 0h1m12 0h1m2 0h1M12 18.5h2m10 0h3m8 0h1M3 19.5h1m35 0h1m1 0h1m14 0h1M10 20.5h1m35 0h1M0 21.5h1m13 0h1m35 0h1m3 0h1m5 0h1M11 22.5h1m5 0h1m3 0h1m29 0h1m7 0h1M42 23.5h1m13 0h1m4 0h1M9 24.5h1m7 0h1m2 0h1m32 0h1m4 0h1m1 0h1m2 0h1M50 25.5h1M7 26.5h1m4 0h1m9 0h1M40 27.5h1M38 28.5h1m7 0h1m1 0h1M61 30.5h1M5 31.5h1m44 0h1M6 33.5h1m35 0h1M14 34.5h1m36 0h1m6 0h1M57 35.5h1M2 36.5h1m19 0h1M3 37.5h1m6 0h1m41 0h1M12 38.5h1m36 0h1m2 0h1m6 0h1M6 39.5h1m3 0h1m10 0h1m5 0h1M6 40.5h1m40 0h1m15 0h1M63 41.5h1M4 42.5h1m2 0h1m4 0h1m1 0h1m14 0h1m25 0h1M1 43.5h2m13 0h1m29 0h1m6 0h1m7 0h1m1 0h1M5 44.5h1m3 0h1m5 0h1m1 0h1m3 0h1M4 45.5h1m11 0h1m26 0h1m4 0h1m6 0h1m6 0h1M0 46.5h1m16 0h1m12 0h1m16 0h1m13 0h1M1 47.5h1m3 0h1m3 0h1m9 0h1m7 0h2m6 0h1m6 0h1m4 0h1M8 48.5h2m46 0h1m3 0h1M6 49.5h1m7 0h1m5 0h1m5 0h1M24 50.5h1m4 0h1m15 0h1m10 0h1M15 51.5h1m2 0h1m21 0h1m18 0h1M1 52.5h1m16 0h1m3 0h1m6 0h1m11 0h1m2 0h1m1 0h2m2 0h1M20 53.5h1m7 0h1m2 0h1m23 0h1m3 0h1M5 54.5h1m1 0h1m19 0h1m11 0h1m2 0h1M0 55.5h1m22 0h1m23 0h1m2 0h1m3 0h1m8 0h1M1 56.5h1m6 0h1m24 0h3m7 0h1m2 0h2m6 0h1m1 0h1m3 0h1M2 57.5h1m8 0h1m5 0h1m2 0h1m7 0h1m22 0h2M11 58.5h1m4 0h1m8 0h1m11 0h1m1 0h1m5 0h1m14 0h1M5 59.5h1m24 0h1m13 0h1m7 0h1M0 60.5h1m10 0h1m43 0h1m3 0h1M5 61.5h1m31 0h1m6 0h1m1 0h1m10 0h1m1 0h1M42 62.5h1M11 63.5h1m3 0h1m2 0h1m2 0h1m4 0h1m7 0h1m6 0h1m9 0h1m5 0h1m4 0h1"/><path stroke="#34618d" d="M5 0.5h1m8 0h2m10 0h1m2 0h1m5 0h3m10 0h1m1 0h1m10 0h1M0 1.5h1m9 0h1m10 0h1m20 0h2m4 0h1m5 0h1m7 0h1M3 2.5h2m4 0h1m2 0h1m3 0h2m2 0h1m5 0h1m9 0h1m3 0h1m3 0h1m18 0h1M16 3.5h1m13 0h1m5 0h1m4 0h1m20 0h2M18 4.5h1m7 0h1m2 0h1m6 0h1m5 0h1m11 0h2m7 0h1M16 5.5h1m9 0h1m2 0h1M4 6.5h1m14 0h1m4 0h1m12 0h1m7 0h1m3 0h1m6 0h1M12 7.5h1m2 0h1m4 0h1m7 0h1m11 0h1m10 0h1M1 8.5h2m7 0h1m5 0h2m9 0h1m10 0h1m14 0h2m1 0h3M2 9.5h1m7 0h1m1 0h1m3 0h1m8 0h1m22 0h1m5 0h1m6 0h1M2 10.5h1m1 0h1m20 0h1m15 0h1m12 0h1m1 0h1m1 0h1M4 11.5h3m5 0h1m3 0h1m2 0h2m3 0h1m27 0h1m4 0h1M1 12.5h1m20 0h1m7 0h1m8 0h1m7 0h1m2 0h1m12 0h1M4 13.5h1m8 0h1m33 0h1m7 0h1M7 14.5h2m4 0h3m9 0h1m16 0h1m13 0h1M0 15.5h1m10 0h1m5 0h1m7 0h3m2 0h1m6 0h1m5 0h1m10 0h3M18 16.5h1m2 0h1m18 0h1m8 0h1m8 0h2M6 17.5h1m2 0h1m2 0h1m3 0h1m7 0h1m12 0h1m4 0h1M22 18.5h1m8 0h1m17 0h2m3 0h1m3 0h1M11 19.5h1m11 0h1m12 0h1m9 0h1m11 0h1m1 0h1M3 20.5h1m3 0h1m28 0h1m16 0h1m6 0h1M3 21.5h1m11 0h1m9 0h1m26 0h1M4 22.5h1m19 0h1m15 0h1m8 0h1M0 23.5h1m4 0h2m6 0h1m38 0h1M19 24.5h1m1 0h2m24 0h1m2 0h2m10 0h1M2 25.5h1m4 0h1m1 0h1m3 0h1m2 0h1m11 0h1m8 0h1m19 0h1m1 0h1M39 26.5h2m1 0h1m2 0h1m16 0h2M2 27.5h1m3 0h2m4 0h1m11 0h1m23 0h1m5 0h1M4 28.5h1m2 0h1m7 0h1M3 29.5h1m46 0h1M7 30.5h1m3 0h1m36 0h1M7 31.5h1m18 0h1M58 33.5h1M3 34.5h1m44 0h1M5 35.5h1m10 0h1m33 0h1M4 36.5h1m2 0h1m3 0h1m40 0h1m9 0h1M0 37.5h1m14 0h1m13 0h1m12 0h1m14 0h1M26 38.5h1m24 0h1m2 0h2M0 39.5h1m1 0h1m6 0h1m9 0h1m20 0h1m2 0h1m1 0h1M7 40.5h1m8 0h2M9 41.5h1m33 0h1m1 0h1M8 42.5h1m8 0h1m2 0h1m32 0h1m5 0h1M11 43.5h1m5 0h1m30 0h1m2 0h1m7 0h1M41 44.5h1m6 0h1M19 45.5h2m6 0h1m11 0h1m20 0h2M1 46.5h1m12 0h1m10 0h1m36 0h2M10 47.5h2m12 0h1m4 0h1m24 0h1m7 0h1M1 48.5h1m10 0h1m16 0h1m14 0h3m5 0h1M4 49.5h1m4 0h1m17 0h1m10 0h1m2 0h1m3 0h1M27 50.5h1m11 0h1m11 0h1m7 0h1M8 51.5h1m29 0h1m11 0h1m1 0h1m5 0h1m1 0h1M2 52.5h1m11 0h1m44 0h1m3 0h1M5 53.5h1m20 0h1m11 0h3m7 0h1m5 0h1m3 0h1M3 54.5h1m12 0h1m2 0h1m5 0h1M1 55.5h1m3 0h1m6 0h1m5 0h1m1 0h1m4 0h1m11 0h1m4 0h1m3 0h1m12 0h1m1 0h1M3 56.5h1m7 0h1m39 0h1M0 57.5h1m2 0h1m2 0h1m3 0h1m10 0h1m17 0h1m3 0h1M9 58.5h1m4 0h1m9 0h1m13 0h1m4 0h1m11 0h1m2 0h1M8 59.5h1m4 0h1m7 0h1m2 0h1m17 0h2m10 0h1m2 0h1M14 60.5h2m2 0h1m1 0h1m7 0h1m5 0h1m1 0h1m5 0h3m15 0h1M9 61.5h1m3 0h1m5 0h1m9 0h1m10 0h1m6 0h1m2 0h2M2 62.5h1m1 0h1m21 0h1m22 0h1m7 0h1m2 0h1M5 63.5h2m49 0h1m6 0h1"/><path stroke="#31688e" d="M11 0.5h1m9 0h1m40 0h1M5 1.5h1m21 0h1m7 0h1m2 0h1m13 0h1m10 0h1M11 2.5h1m6 0h1m3 0h1m14 0h1m8 0h1m1 0h2M0 3.5h1m4 0h1m3 0h2m22 0h1m6 0h1m6 0h1M12 4.5h1m9 0h1m1 0h1m5 0h1m12 0h2m12 0h1M2 5.5h1m2 0h3m16 0h2m2 0h1m15 0h1m5 0h2M0 6.5h2m7 0h1m3 0h1m7 0h1m3 0h1m9 0h1m19 0h1m5 0h2M0 7.5h1m1 0h1m22 0h1m5 0h1m3 0h1m3 0h1m6 0h1m6 0h2M4 8.5h2m2 0h1m10 0h1m25 0h2m4 0h1M4 9.5h1m6 0h1m5 0h1m3 0h1m1 0h1m12 0h3m2 0h1m4 0h1m13 0h1M11 10.5h1m4 0h1m7 0h1m19 0h3m14 0h1M3 11.5h1m42 0h1m2 0h1m1 0h1m4 0h1m1 0h1M2 12.5h1m1 0h1m4 0h1m13 0h2m10 0h1m19 0h1m1 0h1M27 13.5h1m6 0h1m17 0h1m4 0h1m1 0h2M2 14.5h1m6 0h1m6 0h1m1 0h2m2 0h1m18 0h1m5 0h1m2 0h1m2 0h1m8 0h2M16 15.5h1m31 0h2m7 0h2M0 16.5h1m2 0h3m5 0h1m3 0h1m12 0h1m15 0h1m10 0h1m4 0h1m1 0h1M22 17.5h1m21 0h4m10 0h2M6 18.5h1m1 0h2m1 0h1m6 0h1m1 0h1m6 0h2m8 0h1M34 19.5h1m18 0h2m4 0h1M0 20.5h2m3 0h1m9 0h1m6 0h1m11 0h1m7 0h1m11 0h1m1 0h1m4 0h1M4 21.5h1m3 0h2m3 0h1m6 0h1m14 0h1m2 0h1m7 0h2m10 0h1M12 22.5h1m1 0h1m5 0h1m2 0h1m19 0h1m12 0h1m6 0h1M8 23.5h1m3 0h1m2 0h1m1 0h1m21 0h1m1 0h1m6 0h1M2 24.5h1m10 0h3m22 0h1m16 0h1M17 25.5h1m28 0h1m8 0h2M3 26.5h1m9 0h1m1 0h1m2 0h1m14 0h1m12 0h1m1 0h1m3 0h1M1 27.5h1m12 0h1m8 0h1M1 28.5h1m10 0h1M0 29.5h2m54 0h1m5 0h1M1 30.5h1m22 0h1m3 0h1m24 0h2m5 0h1m2 0h1M4 31.5h1m54 0h1M4 33.5h1m49 0h1m5 0h1M19 34.5h2m32 0h1m2 0h1m6 0h1M4 35.5h1m1 0h1m39 0h1M3 36.5h1m52 0h1m3 0h1M8 37.5h1m11 0h1m33 0h1m1 0h1M4 38.5h1m1 0h1m13 0h1m9 0h1m6 0h1m3 0h1m2 0h1m1 0h1m9 0h1M58 39.5h1m1 0h1M0 40.5h1m7 0h2m1 0h1m43 0h1M14 41.5h2m8 0h1m1 0h1m30 0h1m2 0h1M0 42.5h1m4 0h1m31 0h1m2 0h2M8 43.5h1m9 0h1m2 0h1m4 0h1m11 0h1m17 0h1m5 0h1M10 44.5h1m3 0h1m12 0h2m4 0h1m1 0h1m1 0h1m4 0h1m7 0h1m7 0h1M0 45.5h1m1 0h2m7 0h1m1 0h1m23 0h1m7 0h1m4 0h2m4 0h1M4 46.5h1m17 0h1m1 0h1m6 0h1m6 0h1m6 0h1m3 0h1m2 0h1m1 0h1m5 0h1M12 47.5h1m5 0h1m4 0h1m9 0h2m5 0h1m5 0h1m3 0h1m8 0h2M2 48.5h1m1 0h1m15 0h1m3 0h1m10 0h1m7 0h1m3 0h1m3 0h1M13 49.5h1m2 0h1m1 0h1m5 0h1m3 0h2m1 0h1m2 0h1m15 0h1m9 0h2M1 50.5h1m2 0h1m6 0h1m2 0h2m5 0h1m4 0h1m7 0h1m12 0h1M0 51.5h1m9 0h1m3 0h1m1 0h1m6 0h1m12 0h2m9 0h2m13 0h1M6 52.5h1m21 0h1m10 0h1m3 0h1m5 0h1m2 0h1m4 0h1M4 53.5h1m2 0h2m4 0h1m20 0h1m8 0h1m1 0h1m11 0h1m3 0h1M2 54.5h1m1 0h1m13 0h1m16 0h1m9 0h1M4 55.5h1m17 0h1m5 0h1m9 0h1m1 0h1m17 0h1m1 0h1M6 56.5h2m11 0h1m9 0h1m7 0h1m2 0h1m16 0h1M7 57.5h1m14 0h1m7 0h2m1 0h1m11 0h1m4 0h1m7 0h1M3 58.5h1m14 0h1m22 0h1m8 0h2m2 0h1M18 59.5h1m8 0h1m5 0h1m3 0h1m21 0h1m3 0h1M5 60.5h2m3 0h1m5 0h2m6 0h2m1 0h1m10 0h1m9 0h1m2 0h1m9 0h1M0 61.5h1m35 0h1m15 0h1m2 0h2m4 0h2M0 62.5h1m6 0h1m11 0h1m3 0h3m2 0h1m11 0h1m5 0h1m8 0h1m2 0h2M2 63.5h1m6 0h1m7 0h1m7 0h1m3 0h1m6 0h1m2 0h1m10 0h1"/><path stroke="#2e6e8e" d="M0 0.5h1m7 0h1m14 0h1m7 0h1m2 0h1m9 0h3m2 0h1M7 1.5h2m5 0h1m1 0h2m2 0h1m2 0h1m2 0h1m6 0h1m3 0h1m13 0h1m3 0h1m1 0h1M7 2.5h1m5 0h1m10 0h1m2 0h1m2 0h1m12 0h1m6 0h1m1 0h1m3 0h1m1 0h1M1 3.5h1m6 0h1m2 0h1m12 0h1m1 0h1m7 0h1m15 0h1m1 0h1m5 0h2M4 4.5h1m15 0h1m4 0h1m1 0h2m8 0h1m10 0h1M21 5.5h1m1 0h1m12 0h2m20 0h2M39 6.5h1m11 0h4M4 7.5h1m11 0h1m1 0h2m10 0h1m6 0h2m9 0h1m1 0h1m4 0h1M6 8.5h1m19 0h1m2 0h1m4 0h1m5 0h1m6 0h1m12 0h1m2 0h1M3 9.5h1m35 0h2m16 0h1M0 10.5h1m2 0h1m5 0h1m4 0h1m7 0h1m11 0h1m13 0h1M0 11.5h1m7 0h2m1 0h1m3 0h1m2 0h1m8 0h1m2 0h1m8 0h1m4 0h1m2 0h1M5 12.5h3m9 0h2m1 0h2m5 0h1m10 0h1m1 0h1m1 0h1m5 0h2m4 0h1m1 0h1m3 0h1M1 13.5h1m6 0h2m8 0h1m9 0h2m12 0h1m3 0h1m2 0h1m1 0h1m9 0h1m1 0h1M1 14.5h1m1 0h1m19 0h1m2 0h1m9 0h1M5 15.5h1m4 0h1m24 0h1m4 0h2m2 0h1m5 0h1M19 16.5h1m4 0h1m2 0h1m6 0h1m4 0h1m5 0h1m1 0h1m5 0h1M0 17.5h1m2 0h1m9 0h1m3 0h1m3 0h1m3 0h1m12 0h1m2 0h1m8 0h1m3 0h1m1 0h1m3 0h1m1 0h1M7 18.5h1m2 0h1m8 0h1m1 0h1m26 0h1m4 0h1m2 0h1m3 0h1M1 19.5h1m15 0h1m9 0h1m16 0h2m17 0h1M8 20.5h1m4 0h1m14 0h1m11 0h1m3 0h1m3 0h1M1 21.5h1m3 0h1m1 0h1m4 0h1m3 0h1m10 0h1m9 0h1m3 0h1m6 0h2m6 0h1M0 22.5h1m18 0h1m25 0h1m8 0h1m2 0h1M16 23.5h1m2 0h1m5 0h1m1 0h1m5 0h1m10 0h1m13 0h1M11 24.5h1m12 0h1m4 0h1m19 0h1m9 0h1M6 25.5h1m1 0h1m2 0h1m10 0h1m2 0h1m15 0h1m6 0h1m11 0h1M5 26.5h1m41 0h1m10 0h2m1 0h1M4 27.5h2m13 0h1m21 0h1m1 0h1m6 0h1m8 0h1m3 0h1M9 28.5h1m8 0h1m28 0h1m11 0h2m1 0h1M8 29.5h1m12 0h1m41 0h1M9 30.5h2m30 0h1m2 0h2m13 0h1M11 31.5h3m37 0h1m4 0h1M2 33.5h1m5 0h1m34 0h1m4 0h1M8 34.5h1m36 0h1m16 0h1M0 35.5h1m1 0h1m9 0h1m6 0h1m32 0h1m7 0h1M8 36.5h1m5 0h1m33 0h1m4 0h2M4 37.5h1m8 0h1m44 0h2m2 0h1M8 38.5h1m2 0h1m2 0h2m37 0h1m3 0h1M1 39.5h1m9 0h1m5 0h1m26 0h1m5 0h1m11 0h1M1 40.5h1m1 0h1m9 0h1m12 0h1m8 0h1m1 0h1m5 0h2m1 0h1m7 0h1m3 0h1m3 0h1M2 41.5h1m8 0h1m1 0h1m3 0h2m12 0h1m3 0h1m6 0h1m12 0h1m3 0h1M15 42.5h1m3 0h1m25 0h1m12 0h1m4 0h1M0 43.5h1m11 0h1m21 0h1m6 0h1m13 0h1M13 44.5h1m26 0h1m13 0h1M7 45.5h1m2 0h1m7 0h1m22 0h1M2 46.5h1m3 0h1m1 0h1m9 0h1m2 0h1m4 0h1m14 0h2m5 0h1m2 0h1m4 0h1M3 47.5h1m2 0h2m5 0h1m1 0h1m21 0h1m1 0h1m3 0h1m12 0h1m6 0h1M13 48.5h1m5 0h1m2 0h1m11 0h1m5 0h2m13 0h1m1 0h1M0 49.5h1m10 0h1m27 0h2m2 0h1m4 0h1m6 0h1m1 0h2M7 50.5h1m1 0h2m1 0h1m4 0h1m4 0h1m7 0h1m12 0h1m5 0h1m2 0h2m6 0h1M4 51.5h4m9 0h1m10 0h2m12 0h2m12 0h1M17 52.5h1m6 0h2m16 0h1m8 0h1m2 0h1m1 0h1M0 53.5h1m21 0h1m1 0h1m2 0h1m22 0h1M6 54.5h1m1 0h1m14 0h1m2 0h1m10 0h1m8 0h1m6 0h1m5 0h1M6 55.5h1m20 0h1m2 0h1m25 0h1M0 56.5h1m3 0h1m5 0h1m4 0h1m7 0h1m1 0h1m13 0h1m2 0h1m5 0h1m4 0h1m4 0h1M13 57.5h1m4 0h1m10 0h1m6 0h1m3 0h1m1 0h1m5 0h1m4 0h3M1 58.5h1m6 0h1m3 0h1m4 0h1m1 0h1m6 0h1m22 0h1m6 0h1M1 59.5h1m2 0h1m4 0h1m4 0h2m9 0h1m21 0h1m3 0h1m1 0h1m2 0h1m4 0h2M2 60.5h1m1 0h1m4 0h1m21 0h1m31 0h1M1 61.5h1m2 0h1m1 0h2m7 0h1m8 0h1m5 0h1m4 0h1m7 0h1m4 0h1M1 62.5h1m1 0h1m14 0h1m10 0h1m4 0h1m4 0h1m4 0h1m9 0h1m6 0h2M1 63.5h1m12 0h1m1 0h1m2 0h2m9 0h1m16 0h1m4 0h1"/><path stroke="#2b748e" d="M20 0.5h1M6 1.5h1m4 0h1m17 0h1M6 2.5h1m1 0h1m14 0h1m11 0h1m3 0h1m14 0h1M14 3.5h1m20 0h1m3 0h1m9 0h1m3 0h1m2 0h1M5 4.5h4m5 0h2m23 0h1m9 0h1m6 0h1M12 5.5h1m5 0h1m11 0h1m8 0h1m1 0h1m4 0h2M6 6.5h2M7 7.5h1m9 0h1m3 0h1m2 0h1m2 0h1m17 0h1m11 0h1m2 0h1M18 8.5h1m2 0h2m10 0h1m1 0h1m3 0h1m21 0h1M1 9.5h1m22 0h1m3 0h1m1 0h2m2 0h2m14 0h1m1 0h1m9 0h1M5 10.5h1m1 0h1m2 0h1m7 0h1m10 0h2m7 0h1M10 11.5h1m11 0h2m2 0h1m4 0h1m8 0h1m1 0h2m17 0h1M11 12.5h1m1 0h1m2 0h1m2 0h1m5 0h1m3 0h1m29 0h1M11 13.5h1m2 0h1m21 0h1m3 0h2m1 0h1m1 0h1m10 0h1m5 0h1M5 14.5h1m4 0h1m10 0h1m17 0h1m3 0h1m1 0h1m6 0h1m2 0h1m1 0h2M3 15.5h1m24 0h1m17 0h1M6 16.5h1m2 0h1m7 0h1m2 0h1m21 0h1m5 0h1m1 0h1m12 0h1M5 17.5h1m4 0h1m8 0h1m19 0h1m8 0h1m6 0h1M5 18.5h1m9 0h1m7 0h1m18 0h1m8 0h1m5 0h1m1 0h1m3 0h1M6 19.5h2m4 0h1m1 0h3m1 0h1m3 0h1m3 0h1m2 0h1m1 0h1m5 0h1m2 0h1m10 0h1M14 20.5h1m4 0h1m1 0h1m3 0h1m5 0h1m20 0h1M10 21.5h2m17 0h1m12 0h1m8 0h1M6 22.5h1m1 0h1m19 0h1m5 0h1m6 0h1m2 0h1m2 0h1m4 0h2m1 0h1M2 23.5h2m5 0h1m1 0h1m2 0h1m3 0h1m9 0h1m1 0h1m6 0h1m13 0h1m1 0h1m1 0h1M6 24.5h1m27 0h1m19 0h1m1 0h1M3 25.5h1m14 0h2m19 0h1m9 0h1m4 0h1M0 26.5h1m3 0h1m4 0h2m42 0h2M9 27.5h1m5 0h1m20 0h1m1 0h2m4 0h1m12 0h1M3 28.5h1m1 0h1m4 0h1m9 0h1m22 0h1m1 0h1M4 29.5h1m1 0h2m8 0h1m28 0h1m7 0h1m6 0h1M0 30.5h1m24 0h1m20 0h1m4 0h1m3 0h1M8 31.5h1m18 0h1m7 0h1m7 0h1m10 0h1m3 0h1m3 0h1M5 33.5h1m9 0h1m45 0h1m1 0h1M7 34.5h1m5 0h1m25 0h1m3 0h1m3 0h1m6 0h1M3 35.5h1m4 0h3m10 0h1m17 0h1m2 0h1m4 0h1M13 36.5h1m25 0h2m4 0h1m5 0h1m11 0h1M1 37.5h1m3 0h1m3 0h1m9 0h1m3 0h1m17 0h1m11 0h1M1 38.5h2m2 0h1m1 0h1m2 0h1m2 0h1m47 0h1M5 39.5h1m10 0h1m7 0h1m21 0h1m6 0h2M12 40.5h1m14 0h1m6 0h1m7 0h1m2 0h1m2 0h1m1 0h1m6 0h1M1 41.5h1m1 0h1m8 0h1m7 0h1m7 0h1m7 0h1m12 0h2M9 42.5h1m1 0h1m4 0h1m8 0h1m2 0h1m14 0h1m2 0h2m2 0h1M9 43.5h1m3 0h1m9 0h1m11 0h2m3 0h1m6 0h1m4 0h1m1 0h1m5 0h1M1 44.5h1m10 0h1m11 0h1m9 0h1m3 0h1m4 0h1m1 0h1m1 0h1m3 0h1m3 0h1m3 0h1M9 45.5h1m11 0h4m1 0h1m3 0h1m5 0h1m3 0h1m5 0h1m2 0h1m3 0h1m5 0h1M7 46.5h1m2 0h2m7 0h1m3 0h1m4 0h1m7 0h2m5 0h2M2 47.5h1m19 0h1m22 0h1m12 0h1M6 48.5h1m8 0h1m2 0h1m23 0h1m6 0h1m12 0h1M1 49.5h1m15 0h1m7 0h1m10 0h1m19 0h1m6 0h1M8 50.5h1m4 0h1m4 0h1m18 0h2m5 0h1m9 0h1m2 0h1m4 0h1M9 51.5h1m1 0h1m7 0h1m2 0h1m2 0h1m27 0h1M3 52.5h1m3 0h1m1 0h2m1 0h2m2 0h1m2 0h1m17 0h1m10 0h1m6 0h1M6 53.5h1m2 0h3m13 0h1m10 0h1m10 0h1M1 54.5h1m7 0h1m7 0h1m2 0h1m15 0h1m3 0h1m6 0h1m12 0h1M19 55.5h1m14 0h1m1 0h1m2 0h1m4 0h1M13 56.5h1m22 0h1m7 0h2m9 0h1m6 0h1M1 57.5h1m7 0h1m4 0h1m11 0h1m22 0h1m6 0h1m3 0h1m2 0h1M4 58.5h1m2 0h1m12 0h1m2 0h1m22 0h1m6 0h1M10 59.5h3m7 0h1m1 0h1m3 0h1m8 0h1m5 0h1m6 0h1m11 0h1M35 60.5h1m10 0h1M22 61.5h1m16 0h1m5 0h1m12 0h1m1 0h1m2 0h1M6 62.5h1m8 0h1m21 0h2m13 0h1M8 63.5h1m1 0h1m22 0h1m14 0h1m4 0h1m6 0h1"/><path stroke="#297b8e" d="M33 0.5h1m6 0h1m11 0h1M45 1.5h1M5 2.5h1m47 0h1M12 3.5h1m8 0h1m16 0h1M3 4.5h1m6 0h1m12 0h1m17 0h1M0 5.5h1m9 0h1m27 0h1m9 0h1m11 0h1M15 6.5h1m2 0h1M8 7.5h1m49 0h1m3 0h1M9 8.5h1m4 0h1M5 9.5h1m3 0h1m4 0h2m11 0h1m35 0h1M37 10.5h1m1 0h2m2 0h1M1 11.5h1m32 0h1m1 0h2M26 12.5h1m9 0h2m24 0h1M2 13.5h1m28 0h1m5 0h1m1 0h1m14 0h1M17 14.5h1m43 0h1M2 15.5h1m5 0h1m38 0h1M8 16.5h1m1 0h1m41 0h1M2 17.5h1m4 0h1m3 0h1m11 0h1m10 0h1M2 18.5h1m14 0h1m20 0h3m11 0h1m2 0h1M4 19.5h1m5 0h1m14 0h1m23 0h1m2 0h1m8 0h1M9 20.5h1m2 0h1m3 0h3m10 0h1m7 0h2m2 0h1m3 0h1m3 0h3M21 21.5h1m17 0h1m4 0h1m10 0h1m1 0h1M1 22.5h1m11 0h1m8 0h1m7 0h1m5 0h1m1 0h2M24 23.5h1m11 0h1m3 0h1m2 0h1m1 0h1m3 0h1m7 0h1M16 24.5h1m6 0h1m3 0h1m2 0h1m4 0h1m5 0h1m4 0h1M1 25.5h1m8 0h1m12 0h1m3 0h1m17 0h1M1 26.5h1m4 0h1m10 0h1m17 0h1m13 0h1M0 27.5h1m7 0h1m7 0h1m5 0h1m24 0h1m3 0h3m7 0h2M2 28.5h1m3 0h1m1 0h1m12 0h1m1 0h1m33 0h1m3 0h1M2 29.5h1m7 0h2m31 0h1M2 30.5h1m1 0h1m8 0h1m23 0h1m12 0h1M0 31.5h2m13 0h1m1 0h2m27 0h1m1 0h1m6 0h1M47 33.5h1m2 0h1m2 0h1M4 34.5h2m3 0h2m5 0h1m4 0h1m2 0h1m2 0h1m32 0h1M36 35.5h1m6 0h1m7 0h1m1 0h2m7 0h1M0 36.5h1m11 0h1m5 0h1m38 0h1M6 37.5h1m4 0h1m2 0h1m24 0h1m11 0h1m8 0h1M9 38.5h1m35 0h1m1 0h1M3 39.5h1m16 0h1m4 0h1m2 0h1m1 0h1m4 0h1m6 0h1m8 0h1m7 0h1M4 40.5h1m5 0h1m3 0h1m3 0h1m3 0h2m6 0h1m28 0h1M4 41.5h1m1 0h1m9 0h1m8 0h1m1 0h1m1 0h2m7 0h1m7 0h1m6 0h1M6 42.5h1m20 0h1m8 0h1m1 0h1m3 0h1m14 0h1M10 43.5h1m4 0h1m6 0h1m2 0h1m1 0h1m1 0h1m13 0h1m13 0h1M7 44.5h1m11 0h1m9 0h1m6 0h1m9 0h1m2 0h1m6 0h1M5 45.5h1m6 0h1m4 0h1m10 0h2m17 0h1m9 0h1M5 46.5h1m7 0h1m6 0h1M16 47.5h2m20 0h1m2 0h1m2 0h1m16 0h1M27 48.5h1m8 0h4m10 0h1m8 0h1m1 0h1M7 49.5h1m4 0h1m8 0h2m10 0h1m1 0h1m10 0h2m5 0h1M20 50.5h1m7 0h1m13 0h1m7 0h1m10 0h1m1 0h1M3 51.5h1m20 0h1m19 0h1m9 0h2m1 0h1M20 52.5h2M1 53.5h1m12 0h1m1 0h2m15 0h1m8 0h1m20 0h1M50 54.5h1m6 0h1M9 55.5h2m2 0h2m11 0h1m2 0h1m21 0h1m1 0h1m1 0h1M2 56.5h1m6 0h1m11 0h1m9 0h1m6 0h1M5 57.5h1m2 0h1m14 0h2m16 0h1m4 0h1M10 58.5h1m11 0h1m7 0h1M28 59.5h1m10 0h1m9 0h1M19 60.5h1m3 0h1m5 0h1m7 0h1m15 0h1m2 0h1M21 61.5h1m9 0h1M11 62.5h1m10 0h1m18 0h1M13 63.5h1m13 0h1m12 0h1"/><path stroke="#26818e" d="M22 0.5h1m4 0h1m32 0h1M25 1.5h1M61 2.5h1M17 3.5h1m36 0h1M31 4.5h1m1 0h2m10 0h1M53 5.5h1m1 0h1M10 6.5h1m20 0h1m2 0h1M5 7.5h1m8 0h1m7 0h1m13 0h1m10 0h1M8 9.5h1m10 0h1m25 0h1m10 0h1m1 0h1M6 10.5h1m20 0h1m3 0h1m10 0h1m7 0h1m2 0h1M13 11.5h1m15 0h1M19 13.5h2m1 0h2M30 14.5h2m1 0h1m12 0h1M12 15.5h1m5 0h1m2 0h1m2 0h1m4 0h1m4 0h1m3 0h2m12 0h1M26 16.5h1m16 0h1M51 17.5h2M29 18.5h1m4 0h1m6 0h1m4 0h1M11 20.5h1m31 0h1m3 0h1M17 21.5h1m5 0h1m6 0h1M18 22.5h1m7 0h1m21 0h1m9 0h1M10 23.5h1m10 0h1m1 0h1m11 0h1m10 0h2m6 0h1M3 24.5h1m1 0h1m4 0h1m1 0h1m15 0h1m8 0h1m1 0h1m3 0h1m4 0h1m8 0h1M20 25.5h1m5 0h1m24 0h1M16 26.5h1m2 0h1m5 0h1m11 0h1m5 0h1m6 0h1M3 27.5h1m7 0h1m1 0h1m4 0h1m8 0h1m9 0h1m8 0h1m2 0h1M14 28.5h1m9 0h1m2 0h1m25 0h2M9 29.5h1m9 0h1m16 0h1m2 0h1m6 0h1m2 0h1m7 0h1M3 30.5h1m10 0h1m2 0h1m15 0h1m9 0h1m12 0h1m5 0h1M47 31.5h1m15 0h1M56 32.5h1M9 33.5h1m3 0h2m40 0h1M0 34.5h1m10 0h2m2 0h1m28 0h1m4 0h1m2 0h1m4 0h1m3 0h1M13 35.5h1m1 0h1m6 0h1m6 0h1m19 0h1M1 36.5h1m7 0h1m5 0h2m2 0h2m2 0h1m34 0h1m2 0h1M16 37.5h1m8 0h1m19 0h1m2 0h1M16 38.5h2m3 0h1m1 0h1m14 0h1m1 0h1m21 0h1M18 39.5h1m3 0h1m29 0h1M15 40.5h1m8 0h1m4 0h1M8 41.5h1m1 0h1m26 0h1m1 0h1m4 0h1M22 42.5h1m1 0h1m5 0h2m3 0h1m3 0h1m4 0h1m4 0h1m6 0h1M4 43.5h1m34 0h1m5 0h1M18 44.5h1m3 0h1m2 0h2m3 0h1m22 0h1M25 45.5h1m7 0h2m9 0h1M15 46.5h1m17 0h1m6 0h1m5 0h1M4 47.5h1m15 0h1m28 0h1M10 48.5h1m3 0h1m8 0h1m7 0h1M2 49.5h1m5 0h1m40 0h1M19 50.5h1m3 0h1m24 0h1m6 0h1M31 51.5h1m2 0h1m14 0h1M4 52.5h1m21 0h1m3 0h1m9 0h1m4 0h1M30 53.5h1m15 0h1M51 54.5h1m4 0h1M49 55.5h1m2 0h1m9 0h1M12 56.5h1m1 0h1m37 0h1m8 0h1M34 57.5h1M44 58.5h1M55 59.5h1M33 60.5h1M3 61.5h1m24 0h1m4 0h1m20 0h1M31 63.5h1"/><path stroke="#24878e" d="M4 1.5h1m25 0h2M31 2.5h1M8 5.5h1m2 0h1m19 0h1M42 6.5h1M52 7.5h1m3 0h1M20 9.5h1m32 0h1M34 12.5h1M10 13.5h1m22 0h1M34 14.5h1m14 0h1M15 15.5h1M16 16.5h1m5 0h1m7 0h1m6 0h1M14 17.5h1m14 0h1M44 18.5h1m2 0h1M13 19.5h1m6 0h1m14 0h1M35 20.5h1M19 21.5h1m4 0h1m11 0h1m3 0h1m2 0h1m1 0h1M16 22.5h1m8 0h1m7 0h1m8 0h1m17 0h1M29 23.5h1m30 0h1M40 24.5h1m4 0h1M4 25.5h1m19 0h1m5 0h1m5 0h1m6 0h1m3 0h1M28 26.5h1m9 0h1M25 27.5h1m19 0h1m9 0h1m2 0h1M11 28.5h1m5 0h1m8 0h1m13 0h2m2 0h1m5 0h2m3 0h1M5 29.5h1m7 0h1m1 0h1m1 0h1m9 0h1m14 0h1m9 0h1M5 30.5h1m21 0h1m8 0h1m20 0h1M6 31.5h1m3 0h1m8 0h1m16 0h1m16 0h1m7 0h1M0 32.5h1M7 33.5h1m3 0h1m13 0h1m19 0h1m5 0h1m4 0h1M6 34.5h1m11 0h1m7 0h1m1 0h1m6 0h1m6 0h1M7 35.5h1m9 0h1m2 0h1m20 0h1m14 0h1m1 0h1m2 0h1m1 0h1M10 36.5h1m10 0h1m4 0h1m1 0h1m15 0h1m1 0h1m2 0h1M17 37.5h1m17 0h1m7 0h1m2 0h1m2 0h1M22 38.5h1m1 0h1m2 0h1m11 0h1m8 0h1m1 0h1M23 39.5h1m10 0h1m1 0h2m10 0h1m7 0h1M5 40.5h1m13 0h1m19 0h1m1 0h1M19 41.5h1m1 0h1m19 0h1m6 0h1m7 0h1M34 42.5h1m16 0h2M6 43.5h1m7 0h1m5 0h1m7 0h1m1 0h2m10 0h1m6 0h2M42 45.5h1M39 46.5h1m15 0h1m2 0h1M14 47.5h1m10 0h1m31 0h1M16 48.5h1M30 49.5h1m21 0h1m9 0h1M33 50.5h1M30 51.5h1m2 0h1M11 52.5h1m19 0h1M12 53.5h1M31 55.5h1m11 0h1M31 59.5h1M39 60.5h1M33 62.5h1m1 0h1"/><path stroke="#228d8d" d="M32 4.5h1M32 5.5h1M32 6.5h2M33 10.5h1M33 11.5h1m1 0h1M32 12.5h2M26 17.5h1M50 19.5h1M24 20.5h1M31 21.5h1m2 0h1M29 22.5h1M34 23.5h1m3 0h1m11 0h1M18 24.5h1m6 0h1M12 25.5h1m16 0h1m5 0h1M23 26.5h2m4 0h3m2 0h1m6 0h1M10 27.5h1m10 0h1m13 0h1m6 0h1M28 28.5h2m6 0h1M20 29.5h1m4 0h2m1 0h1m11 0h1m6 0h1m3 0h1m3 0h1m2 0h2M20 30.5h1m19 0h1m11 0h1M9 31.5h1m15 0h1m12 0h1m5 0h1m4 0h1M9 32.5h1m39 0h1m3 0h1m3 0h1m1 0h2M1 33.5h1m16 0h3m1 0h1m1 0h1m19 0h1m4 0h1m2 0h1m4 0h1m4 0h1M23 34.5h1m26 0h1M11 35.5h1m6 0h1m21 0h1M24 36.5h1m4 0h1m17 0h1M18 37.5h1m11 0h1m3 0h1m3 0h1m1 0h1m9 0h1M18 38.5h1m14 0h1m2 0h1M41 39.5h1m5 0h1m1 0h1m5 0h1M21 40.5h1m3 0h1M40 41.5h1M18 42.5h1M44 44.5h1M35 45.5h1M34 46.5h1M26 47.5h1M16 50.5h1m14 0h1m4 0h1M33 52.5h1M13 54.5h1m19 0h1M31 58.5h1M6 59.5h1M32 60.5h1M32 61.5h1M31 62.5h1"/><path stroke="#20938c" d="M32 1.5h1M32 3.5h1M32 8.5h1M33 9.5h1M32 10.5h1M31 15.5h1M31 16.5h1M32 17.5h1M32 18.5h2M32 19.5h2M32 20.5h2M32 23.5h1M26 24.5h1M34 25.5h1m5 0h1m12 0h1M20 26.5h2m4 0h2M22 28.5h1m2 0h1m9 0h1m1 0h1m4 0h1m6 0h1M18 29.5h1m3 0h3m9 0h1m3 0h1m5 0h1M8 30.5h1m6 0h1m14 0h1m11 0h1m6 0h1M14 31.5h1m5 0h1m1 0h1m1 0h1m14 0h1m5 0h1M1 32.5h3m1 0h1m2 0h1m1 0h1m4 0h1m2 0h1m26 0h1m16 0h2M12 33.5h1m4 0h1M2 34.5h1m14 0h1m19 0h1m2 0h1M23 35.5h1m2 0h1m11 0h1m5 0h1M25 36.5h1m1 0h1m22 0h1M36 37.5h2M25 38.5h1M26 39.5h1m2 0h1M28 40.5h1M23 41.5h1M26 42.5h1m6 0h1M33 43.5h1M31 44.5h1M31 45.5h1M31 47.5h2M32 48.5h1M32 50.5h1M32 51.5h1M32 53.5h1M31 54.5h2M33 58.5h1M32 59.5h1M32 62.5h1"/><path stroke="#1f998a" d="M32 0.5h1M32 2.5h1M32 7.5h1M32 9.5h1M32 11.5h1M32 14.5h1M31 17.5h1m1 0h1M32 22.5h1M26 23.5h1M33 24.5h1M38 25.5h1M44 26.5h1M29 27.5h1M16 28.5h1m17 0h1M37 29.5h1M18 30.5h2m19 0h1M16 31.5h1m6 0h1m13 0h1m2 0h3m14 0h1M4 32.5h1m1 0h2m6 0h1m1 0h2m1 0h1m1 0h2m14 0h2m2 0h1m2 0h1m1 0h1m1 0h1m5 0h1m3 0h1m2 0h1M23 33.5h1m5 0h1m10 0h1m18 0h1M22 34.5h1m32 0h1M25 35.5h1m2 0h1m8 0h1m7 0h1M33 36.5h1m3 0h2m2 0h3M26 37.5h1m1 0h1M32 38.5h1m1 0h2m7 0h1M38 39.5h1M33 40.5h1M34 41.5h1M32 44.5h1M32 45.5h1M32 49.5h1M32 52.5h1M32 55.5h1M32 56.5h1M32 57.5h1M32 63.5h1"/><path stroke="#1fa088" d="M32 21.5h1M31 22.5h1M31 23.5h1M32 24.5h1M31 25.5h2M36 26.5h1M30 27.5h2m2 0h1M41 29.5h1M21 30.5h2m3 0h1m20 0h1M34 31.5h1M11 32.5h3m12 0h1m15 0h1m4 0h1m4 0h1m2 0h1M27 33.5h1m9 0h1M32 34.5h1m8 0h1m4 0h1M24 35.5h1m2 0h1m6 0h1M30 36.5h1m3 0h3M31 37.5h1m12 0h1M31 38.5h1M33 39.5h1M31 40.5h1M32 41.5h1M32 46.5h1"/><path stroke="#21a585" d="M32 13.5h1M32 15.5h1M32 16.5h1M31 24.5h1M32 26.5h1M26 27.5h1m1 0h1m3 0h1M30 28.5h2m7 0h1M29 29.5h1m5 0h1M16 30.5h1m12 0h1m5 0h1M30 31.5h1m2 0h1M20 32.5h1m2 0h2m2 0h1m15 0h1m6 0h2M26 33.5h1m9 0h1m1 0h1m2 0h1m4 0h1M25 34.5h1m3 0h2m5 0h1m1 0h1M33 35.5h1m1 0h1M32 40.5h1M33 41.5h1M32 43.5h1M32 58.5h1"/><path stroke="#25ac82" d="M33 25.5h1M30 29.5h1M31 30.5h1m2 0h1M21 31.5h1M25 32.5h1m5 0h1m7 0h2M21 33.5h1m17 0h1M30 35.5h1m1 0h1M32 37.5h2M31 39.5h2M32 42.5h1"/><path stroke="#2db27d" d="M32 28.5h1M38 30.5h1M28 32.5h1M28 33.5h1m6 0h1M34 34.5h1"/><path stroke="#35b779" d="M33 27.5h1M33 29.5h1M34 32.5h1M30 33.5h1m1 0h1m1 0h1M31 35.5h1M32 36.5h1"/><path stroke="#40bd72" d="M33 28.5h1M31 29.5h1M29 31.5h1m1 0h1M33 32.5h1M33 34.5h1M31 36.5h1"/><path stroke="#4cc26c" d="M32 29.5h1M28 31.5h1"/><path stroke="#5ac864" d="M32 30.5h1M33 33.5h1"/><path stroke="#67cc5c" d="M31 33.5h1"/><path stroke="#77d153" d="M35 32.5h2M31 34.5h1"/><path stroke="#89d548" d="M32 31.5h1M30 32.5h1"/><path stroke="#98d83e" d="M29 32.5h1"/><path stroke="#fde725" d="M32 32.5h1"/></g></svg><svg class="p" style="left:1343.0px;top:30.0px" width="371.0" height="388.0" viewBox="0 0 32 32" preserveAspectRatio="none"><g fill="none" stroke-width="1.02"><path stroke="#460a5d" d="M0 4.5h1m2 0h1M29 5.5h1m1 0h1M0 6.5h1M2 9.5h1M2 15.5h1m28 0h1M0 18.5h2M1 21.5h1M0 28.5h1M29 29.5h1M3 30.5h1"/><path stroke="#481467" d="M21 1.5h1M17 4.5h1M15 5.5h1M5 14.5h1M5 17.5h1M4 18.5h1m23 0h1M27 24.5h1M26 25.5h1M10 26.5h1M15 27.5h1M19 28.5h1m5 0h1M0 29.5h1"/><path stroke="#481c6e" d="M22 0.5h1M23 8.5h1M31 9.5h1M7 10.5h1M30 11.5h1M2 14.5h1M5 20.5h1M7 22.5h1M26 23.5h1M6 30.5h1M17 31.5h1"/><path stroke="#482576" d="M13 0.5h1M17 1.5h1M7 2.5h1m10 0h1M4 4.5h1m3 0h1m12 0h1M3 8.5h1m24 0h1M8 12.5h1M25 14.5h1M3 21.5h1M22 23.5h1M2 26.5h1M1 28.5h1M25 31.5h1"/><path stroke="#472d7b" d="M1 0.5h1m16 0h1M9 1.5h1M2 2.5h1M2 3.5h1m12 0h1m7 0h1M14 5.5h1M5 6.5h1m25 0h1M4 7.5h1M5 9.5h1m24 0h1M25 13.5h1M24 14.5h1M0 15.5h1m6 0h1M30 17.5h1M5 23.5h2m17 0h1M24 26.5h1M4 27.5h1m17 0h1M2 28.5h1m12 0h1M20 29.5h1"/><path stroke="#453581" d="M23 0.5h1M0 2.5h1m23 0h1M18 5.5h1M0 7.5h1M1 8.5h1m5 0h1M1 11.5h1m1 0h1M10 18.5h1M7 20.5h1M11 21.5h1M2 22.5h1M9 23.5h1M1 24.5h1m29 0h1M4 25.5h1M4 26.5h1m25 0h1M5 29.5h1M8 30.5h1m3 0h1"/><path stroke="#433d84" d="M7 0.5h1m11 0h1M18 1.5h1m4 0h1M4 2.5h1m3 0h1M13 3.5h1M7 7.5h1m13 0h1M31 10.5h1M7 12.5h1M7 13.5h1m19 0h1m2 0h2M26 18.5h1M25 19.5h1M29 21.5h1M4 23.5h1m25 0h2M22 25.5h1M0 26.5h1m7 0h1m9 0h1M17 27.5h2M7 28.5h1m13 0h1M1 29.5h1m2 0h1m9 0h1m10 0h1M1 30.5h1M5 31.5h1m13 0h1m8 0h1"/><path stroke="#404588" d="M0 0.5h1m25 0h1M5 1.5h1m13 0h1M26 2.5h1M17 3.5h1m2 0h1m3 0h1m3 0h1M13 4.5h1m1 0h1m2 0h1m3 0h1m7 0h1M9 5.5h1m2 0h1m11 0h1m5 0h1M24 6.5h1M24 7.5h1M24 8.5h1m4 0h1M0 9.5h1m26 0h1M13 10.5h1M10 11.5h1M9 13.5h1m19 0h1M31 14.5h1M4 17.5h1M30 18.5h1M0 19.5h1M0 20.5h1m28 0h1M6 22.5h1m1 0h1m10 0h1M1 23.5h1m6 0h1M1 25.5h1m6 0h1m19 0h1M17 26.5h1M0 27.5h1m4 0h1m14 0h1M2 30.5h1m4 0h1m18 0h1m1 0h1m2 0h1M11 31.5h2m14 0h1m3 0h1"/><path stroke="#3d4d8a" d="M2 0.5h1M3 1.5h2m1 0h1m8 0h1m12 0h1M0 3.5h1m7 0h1M20 4.5h1m4 0h1M3 5.5h1m2 0h1m3 0h1m12 0h1M2 6.5h1M3 7.5h1m26 0h1M0 8.5h1m3 0h1m14 0h1m7 0h1M26 9.5h1m2 0h1M30 10.5h1M2 11.5h1m2 0h1m17 0h1m1 0h1m3 0h1M6 12.5h1m24 0h1M2 13.5h1m8 0h1m14 0h1M6 14.5h1m22 0h1M1 15.5h1m1 0h1m22 0h1M1 17.5h1m27 0h1M5 18.5h1M5 19.5h1m20 0h1m2 0h1M1 20.5h1m6 0h1m15 0h1m1 0h1M2 21.5h1M30 22.5h1M3 23.5h1m3 0h1m19 0h1m1 0h1M8 24.5h1m19 0h2M2 25.5h1m2 0h1m21 0h1M19 26.5h1m5 0h1M7 27.5h1m19 0h1M8 28.5h1m13 0h1m3 0h1m3 0h1M6 29.5h1m24 0h1M5 30.5h1m5 0h1m3 0h1M2 31.5h1m6 0h1m3 0h1"/><path stroke="#3a538b" d="M5 0.5h1m11 0h1m3 0h1m3 0h1m5 0h1M7 1.5h2m1 0h1m13 0h1M3 2.5h1m2 0h1m3 0h1m6 0h1m1 0h1m3 0h1M6 3.5h2m6 0h1M7 4.5h1m23 0h1M5 5.5h1m20 0h1M4 6.5h1m5 0h1m7 0h1M5 7.5h2M2 8.5h1m10 0h1m12 0h1M1 9.5h1m5 0h1m1 0h1M4 10.5h1m13 0h1m8 0h2M27 11.5h1M4 12.5h1M3 13.5h1m17 0h1M23 14.5h1m4 0h1m1 0h1M3 17.5h1m24 0h1M2 18.5h1M3 19.5h1m6 0h1M3 20.5h1m23 0h1M19 21.5h1m11 0h1M2 23.5h1m7 0h1m9 0h2M2 24.5h1m4 0h1m18 0h1M0 25.5h1m2 0h1m11 0h1m2 0h1m12 0h1M12 26.5h1m15 0h1M8 27.5h1m4 0h1M12 28.5h1m14 0h1m1 0h1M9 29.5h1m1 0h3m7 0h1m5 0h1M18 30.5h2M0 31.5h1m9 0h1m9 0h1m8 0h1"/><path stroke="#375b8d" d="M8 0.5h1m2 0h1m16 0h1M1 1.5h2M15 2.5h1m12 0h1m2 0h1M9 3.5h2m8 0h1m6 0h1m3 0h1M9 4.5h1m16 0h1m2 0h1M7 5.5h1M3 6.5h1m4 0h1m8 0h1m8 0h1m1 0h1M2 7.5h1m7 0h1m4 0h1M9 8.5h1m2 0h1m17 0h1M23 9.5h1M0 10.5h1m5 0h1M0 11.5h1m3 0h1M1 12.5h1m28 0h1M1 13.5h1M5 15.5h1m3 0h1m12 0h1M8 17.5h1m16 0h2m4 0h1M3 18.5h1m25 0h1m1 0h1M1 19.5h1m2 0h1m1 0h1m1 0h1m19 0h1m2 0h1M2 20.5h1m25 0h1M0 21.5h1m3 0h1m16 0h1m6 0h1M3 22.5h1m1 0h1M4 24.5h1m5 0h1m13 0h1m5 0h1M6 25.5h1m13 0h1M3 26.5h1m7 0h1m1 0h1M19 27.5h1m3 0h1m6 0h1M9 28.5h1m1 0h1m1 0h1M3 29.5h1m18 0h2m2 0h1m3 0h1M25 30.5h1m4 0h1M3 31.5h1m2 0h1m15 0h1m3 0h1"/><path stroke="#34618d" d="M3 0.5h2m1 0h1m7 0h1m9 0h1m2 0h1m1 0h2M12 1.5h2m11 0h2M1 2.5h1m7 0h1m3 0h2m10 0h1M1 3.5h1m1 0h1m1 0h1m6 0h1m5 0h1m2 0h2M2 4.5h1m2 0h2m4 0h2m6 0h1m8 0h1M0 5.5h2m11 0h1m5 0h1m1 0h2m4 0h1M1 6.5h1m5 0h1m1 0h1m3 0h1m6 0h2m1 0h1m5 0h1M1 7.5h1m6 0h1m17 0h1M6 8.5h1m13 0h1m1 0h1M4 9.5h1m1 0h1m5 0h1m7 0h2m6 0h1M1 10.5h1m24 0h1M24 11.5h1m3 0h1M0 12.5h1m1 0h1m9 0h1m16 0h1M23 13.5h1M1 14.5h1M4 15.5h1m5 0h1m12 0h1m4 0h1m1 0h1M0 17.5h1m23 0h1M22 18.5h1m4 0h1M7 19.5h1m13 0h1M30 20.5h1M17 21.5h1m5 0h3M1 22.5h1m27 0h1m1 0h1M11 23.5h1m11 0h1m1 0h1M15 24.5h1M24 25.5h1m4 0h1M5 26.5h2m7 0h1M1 27.5h1m9 0h2m8 0h1m2 0h1m1 0h1m1 0h1M5 28.5h2m11 0h1m12 0h1M2 29.5h1m5 0h1m1 0h1m8 0h1m8 0h1M0 30.5h1m9 0h1m2 0h1m10 0h1m2 0h1m1 0h1M8 31.5h1m6 0h1m5 0h1m2 0h1m5 0h1"/><path stroke="#31688e" d="M10 0.5h1m1 0h1m2 0h1m4 0h1M27 1.5h1m1 0h3M5 2.5h1m16 0h1m6 0h1M11 3.5h1m17 0h1m1 0h1M4 5.5h1m3 0h1m2 0h1m5 0h1m2 0h1m4 0h1M12 6.5h1m12 0h1M25 7.5h1m2 0h2m1 0h1M8 8.5h1m6 0h1M17 9.5h1M3 10.5h1m13 0h1M6 11.5h1M26 12.5h2M6 13.5h1M0 14.5h1M6 15.5h1m18 0h1m3 0h1M27 17.5h1M21 18.5h1m1 0h1M13 19.5h1m8 0h1M18 20.5h2m11 0h1M5 21.5h1m8 0h1m3 0h1M0 22.5h1m16 0h1m8 0h1M14 23.5h2M3 24.5h1m5 0h1m12 0h1M7 25.5h1m6 0h1m2 0h1m7 0h1M1 26.5h1m7 0h1m17 0h1m3 0h1M3 27.5h1m6 0h1m14 0h1m5 0h1M4 28.5h1m12 0h1m2 0h1m3 0h1m3 0h1M7 29.5h1m10 0h1m5 0h1M9 30.5h1m7 0h1m2 0h2m1 0h1M4 31.5h1m2 0h1m6 0h1"/><path stroke="#2e6e8e" d="M9 0.5h1M0 1.5h1m10 0h1m2 0h1m7 0h1M12 2.5h1m7 0h1m6 0h1m2 0h1M25 3.5h1m1 0h1M10 4.5h1m3 0h1M2 5.5h1m25 0h1M11 6.5h1m2 0h2m3 0h1m10 0h1M9 7.5h1m13 0h1M5 8.5h1m11 0h1M3 9.5h1m4 0h1m2 0h1m1 0h1m8 0h1M2 10.5h1m5 0h1m1 0h1m10 0h1M7 11.5h1m3 0h1m19 0h1M13 12.5h1m6 0h1m2 0h2m3 0h1M4 13.5h1m23 0h1M3 14.5h1m8 0h1m9 0h1m3 0h2M30 16.5h1M2 17.5h1M2 19.5h1m24 0h1M10 20.5h1m6 0h1m4 0h1M10 21.5h1m11 0h1m7 0h1M12 22.5h1m11 0h1m2 0h2M0 23.5h1m11 0h2m3 0h1m10 0h1M0 24.5h1m4 0h1m13 0h1m1 0h1m1 0h1m1 0h1M12 25.5h1m10 0h1m6 0h1M7 26.5h1m12 0h2m4 0h1m2 0h1M2 27.5h1M10 28.5h1m12 0h1M15 29.5h1m1 0h1M4 30.5h1m9 0h1M1 31.5h1m16 0h1"/><path stroke="#2b748e" d="M20 1.5h1M21 2.5h1M27 4.5h1M6 6.5h1m15 0h1m4 0h1M11 7.5h1m2 0h1m2 0h1m1 0h2m6 0h1M10 8.5h2m19 0h1M14 9.5h1m9 0h2M5 10.5h1m3 0h1m4 0h1m7 0h1m2 0h1M8 11.5h1m3 0h1m1 0h2M3 12.5h1m1 0h1m16 0h1M0 13.5h1m4 0h1m2 0h1m11 0h1m3 0h1M4 14.5h1m2 0h2m2 0h1m9 0h1M8 15.5h1m9 0h1m5 0h1m2 0h1M6 17.5h2m1 0h2M8 18.5h1M17 19.5h1m12 0h1M4 20.5h1m1 0h1m6 0h1M6 21.5h1m20 0h1M4 22.5h1m15 0h3M19 23.5h1M6 24.5h1m4 0h1m5 0h1M9 25.5h2m2 0h1M23 26.5h1M3 28.5h1m10 0h1M22 30.5h1"/><path stroke="#297b8e" d="M11 2.5h1M4 3.5h1M1 4.5h1m21 0h2M22 7.5h1M14 8.5h1m6 0h1m3 0h1M19 9.5h1M20 10.5h1m2 0h1m5 0h1M13 11.5h1m5 0h2m5 0h1M9 12.5h1M14 13.5h1m4 0h1M9 14.5h1m8 0h1M1 16.5h3m1 0h1m1 0h1m2 0h1m15 0h4M6 18.5h1m18 0h1M23 20.5h1m1 0h1M7 21.5h2m3 0h1m7 0h1M23 22.5h1m1 0h1M18 23.5h1M13 24.5h2m5 0h1M11 25.5h1m7 0h1M6 27.5h1m2 0h1m4 0h1m14 0h1M23 31.5h1"/><path stroke="#26818e" d="M16 4.5h1M13 7.5h1m4 0h1M10 9.5h1m7 0h1M11 10.5h2m11 0h1M17 11.5h2M10 12.5h1m8 0h1m1 0h1m3 0h1M12 13.5h2m4 0h1M10 14.5h1M11 15.5h1m7 0h1M0 16.5h1m8 0h1m13 0h1m7 0h1M13 17.5h1m8 0h2M7 18.5h1m1 0h1m3 0h1m10 0h1M9 19.5h1M12 20.5h1m1 0h1M9 21.5h1m16 0h1M10 22.5h2m3 0h1M18 24.5h1M15 26.5h1m6 0h1"/><path stroke="#24878e" d="M16 0.5h1M16 2.5h1M16 3.5h1M12 7.5h1M18 8.5h1M15 9.5h1M15 10.5h1M9 11.5h1m12 0h1M14 12.5h2M10 13.5h1m6 0h1M14 14.5h1M12 15.5h1m2 0h1m5 0h1M6 16.5h1m1 0h1m3 0h1m7 0h1M18 17.5h1m1 0h1M11 19.5h1m3 0h1m7 0h2M11 20.5h1M13 21.5h1m2 0h1M9 22.5h1m3 0h2m3 0h1M16 23.5h1M12 24.5h1m3 0h1M16 29.5h1M16 30.5h1M16 31.5h1"/><path stroke="#228d8d" d="M16 1.5h1M16 6.5h1M16 7.5h1M16 8.5h1M19 10.5h1M21 11.5h1M11 12.5h1m4 0h1M22 13.5h1M16 14.5h1M16 15.5h1m3 0h1M4 16.5h1m9 0h1m6 0h2m1 0h1M11 17.5h1m5 0h1m3 0h1M18 18.5h2M9 20.5h1m6 0h1m3 0h2M16 22.5h1M16 25.5h1m4 0h1M16 26.5h1M16 28.5h1"/><path stroke="#20938c" d="M16 5.5h1M16 10.5h1M16 13.5h1M11 16.5h1m1 0h1m1 0h1m3 0h1m5 0h1M12 17.5h1m1 0h1M12 18.5h1m3 0h1m3 0h1M14 19.5h1m1 0h1m2 0h1M15 21.5h1M16 27.5h1"/><path stroke="#1f998a" d="M16 9.5h1M16 11.5h1M15 14.5h1m4 0h1M11 18.5h1m3 0h1M12 19.5h1m5 0h1m1 0h1M15 20.5h1"/><path stroke="#1fa088" d="M18 12.5h1M13 15.5h2"/><path stroke="#21a585" d="M15 13.5h1M17 14.5h1m1 0h1M17 15.5h1M18 16.5h1M19 17.5h1"/><path stroke="#25ac82" d="M17 12.5h1M13 14.5h1M17 16.5h1M15 17.5h1"/><path stroke="#2db27d" d="M16 17.5h1M14 18.5h1m2 0h1"/><path stroke="#fde725" d="M16 16.5h1"/></g></svg><svg class="p" style="left:1779.0px;top:30.0px" width="371.0" height="388.0" viewBox="0 0 16 16" preserveAspectRatio="none"><g fill="none" stroke-width="1.02"><path stroke="#460a5d" d="M3 1.5h1M3 5.5h1m9 0h1M3 11.5h1m9 0h1M13 15.5h1"/><path stroke="#482576" d="M14 1.5h1M1 2.5h1M5 3.5h1m9 0h1M1 13.5h1m9 0h1M15 14.5h1M2 15.5h1"/><path stroke="#453581" d="M0 0.5h1m1 0h1m11 0h1M0 1.5h1m1 0h1m6 0h2m2 0h1M2 2.5h1M2 3.5h1m11 0h1M1 5.5h1m12 0h1M0 6.5h1M0 10.5h1M2 11.5h1m12 0h1M2 13.5h1m11 0h1M14 14.5h1M0 15.5h1m2 0h1m2 0h2m6 0h1"/><path stroke="#404588" d="M1 0.5h1m4 0h2m1 0h2m4 0h1M1 1.5h1m2 0h1m10 0h1M5 2.5h1m3 0h1m2 0h1m2 0h1M1 3.5h1M2 4.5h1M2 5.5h1m7 0h1M3 6.5h1m9 0h3M1 7.5h1m12 0h1M2 9.5h1m12 0h1M1 10.5h3m9 0h1M6 11.5h1m7 0h1M14 12.5h1M15 13.5h1M1 14.5h1m2 0h1m2 0h1m3 0h1M1 15.5h1m10 0h1m2 0h1"/><path stroke="#3a538b" d="M7 1.5h1M3 2.5h2m2 0h1m6 0h1M12 3.5h1M1 4.5h1m13 0h1M1 11.5h1M1 12.5h1m13 0h1M4 13.5h1M2 14.5h1m6 0h1m2 0h2M9 15.5h1"/><path stroke="#34618d" d="M3 0.5h2m3 0h1m3 0h2M6 1.5h1m1 0h1m2 0h2M0 2.5h1m9 0h1m2 0h1M0 3.5h1m2 0h1m9 0h1M0 4.5h1m2 0h2m7 0h1m1 0h1M0 5.5h1m8 0h1m5 0h1M2 6.5h1M0 7.5h1m7 0h1m1 0h1m2 0h1M0 9.5h1m5 0h1m1 0h1M14 10.5h1M0 11.5h1m6 0h1M0 12.5h1m1 0h1m9 0h2M0 13.5h1m2 0h1m9 0h1M0 14.5h1m2 0h1m2 0h1M4 15.5h2m2 0h1m1 0h1"/><path stroke="#2e6e8e" d="M9 3.5h2M6 4.5h1M12 5.5h1M4 6.5h1M3 9.5h1m10 0h1M12 10.5h1M10 11.5h1M4 12.5h1m4 0h2M6 13.5h2m1 0h2M10 14.5h1M11 15.5h1"/><path stroke="#297b8e" d="M5 0.5h1m5 0h1M5 1.5h1M6 2.5h1m1 0h1M4 3.5h1m1 0h3M5 4.5h1m1 0h1m1 0h1m1 0h1m1 0h1M4 5.5h1m1 0h1m4 0h1M1 6.5h1m3 0h2m3 0h1M2 7.5h1m9 0h1M3 8.5h1m9 0h1M4 9.5h1M6 10.5h1m3 0h2m3 0h1M4 11.5h2m3 0h1m2 0h1M3 12.5h1m1 0h1m1 0h1m3 0h1M5 13.5h1m2 0h1m3 0h1M5 14.5h1m2 0h1"/><path stroke="#24878e" d="M11 2.5h1M11 3.5h1M7 5.5h1M11 6.5h2M3 7.5h3m9 0h1M7 8.5h1M1 9.5h1m11 0h1M4 10.5h2m3 0h1M6 12.5h1m1 0h1"/><path stroke="#20938c" d="M8 4.5h1m1 0h1M5 5.5h1M7 6.5h1m1 0h1M7 7.5h1m1 0h1M0 8.5h1m4 0h1m3 0h1m1 0h1M5 9.5h1m1 0h1m1 0h1m1 0h2M7 10.5h2M11 11.5h1"/><path stroke="#1fa088" d="M8 5.5h1M8 6.5h1M11 7.5h1M1 8.5h2m1 0h1m1 0h1m3 0h1m1 0h1m1 0h2M8 11.5h1"/><path stroke="#25ac82" d="M6 7.5h1M10 9.5h1"/><path stroke="#fde725" d="M8 8.5h1"/></g></svg><svg class="p" style="left:36.0px;top:531.0px" width="371.0" height="388.0" viewBox="0 0 32 32" preserveAspectRatio="none"><g fill="none" stroke-width="1.02" filter="url(#fbB)"><path stroke="#3d3d3d" d="M-4 -3.5h19m2 0h19M-4 -2.5h19m2 0h19M-4 -1.5h2m36 0h2M-4 -0.5h2m36 0h2M-4 0.5h2m36 0h2M-4 1.5h2m36 0h2M-4 2.5h2m36 0h2M-4 3.5h2m36 0h2M-4 4.5h2m36 0h2M-4 5.5h2m36 0h2M-4 6.5h2m36 0h2M-4 7.5h2m36 0h2M-4 8.5h2m36 0h2M-4 9.5h2m36 0h2M-4 10.5h2m36 0h2M-4 11.5h2m36 0h2M-4 12.5h2m36 0h2M-4 13.5h2m36 0h2M-4 14.5h2m36 0h2M-4 17.5h2m36 0h2M-4 18.5h2m36 0h2M-4 19.5h2m36 0h2M-4 20.5h2m36 0h2M-4 21.5h2m36 0h2M-4 22.5h2m36 0h2M-4 23.5h2m36 0h2M-4 24.5h2m36 0h2M-4 25.5h2m36 0h2M-4 26.5h2m36 0h2M-4 27.5h2m36 0h2M-4 28.5h2m36 0h2M-4 29.5h2m36 0h2M-4 30.5h2m36 0h2M-4 31.5h2m36 0h2M-4 32.5h2m36 0h2M-4 33.5h2m36 0h2M-4 34.5h19m2 0h19M-4 35.5h19m2 0h19"/><path stroke="#414141" d="M-2 -1.5h17m2 0h17M-2 -0.5h17m2 0h17M-2 0.5h2m32 0h2M-2 1.5h2m32 0h2M-2 2.5h2m32 0h2M-2 3.5h2m32 0h2M-2 4.5h2m32 0h2M-2 5.5h2m32 0h2M-2 6.5h2m32 0h2M-2 7.5h2m32 0h2M-2 8.5h2m32 0h2M-2 9.5h2m32 0h2M-2 10.5h2m32 0h2M-2 11.5h2m32 0h2M-2 12.5h2m32 0h2M-2 13.5h2m32 0h2M-2 14.5h2m32 0h2M-2 17.5h2m32 0h2M-2 18.5h2m32 0h2M-2 19.5h2m32 0h2M-2 20.5h2m32 0h2M-2 21.5h2m32 0h2M-2 22.5h2m32 0h2M-2 23.5h2m32 0h2M-2 24.5h2m32 0h2M-2 25.5h2m32 0h2M-2 26.5h2m32 0h2M-2 27.5h2m32 0h2M-2 28.5h2m32 0h2M-2 29.5h2m32 0h2M-2 30.5h2m32 0h2M-2 31.5h2m32 0h2M-2 32.5h17m2 0h17M-2 33.5h17m2 0h17"/><path stroke="#454545" d="M0 0.5h15m2 0h15M0 1.5h15m2 0h15M0 2.5h15m2 0h15M0 3.5h3m26 0h3M0 4.5h3m26 0h3M0 5.5h3m26 0h3M0 6.5h3m26 0h3M0 7.5h3m26 0h3M0 8.5h3m26 0h3M0 9.5h3m26 0h3M0 10.5h3m26 0h3M0 11.5h3m26 0h3M0 12.5h3m26 0h3M0 13.5h3m26 0h3M0 14.5h3m26 0h3M0 17.5h3m26 0h3M0 18.5h3m26 0h3M0 19.5h3m26 0h3M0 20.5h3m26 0h3M0 21.5h3m26 0h3M0 22.5h3m26 0h3M0 23.5h3m26 0h3M0 24.5h3m26 0h3M0 25.5h3m26 0h3M0 26.5h3m26 0h3M0 27.5h3m26 0h3M0 28.5h3m26 0h3M0 29.5h15m2 0h15M0 30.5h15m2 0h15M0 31.5h15m2 0h15"/><path stroke="#494949" d="M3 3.5h12m2 0h12M3 4.5h12m2 0h12M3 5.5h12m2 0h12M3 6.5h5m16 0h5M3 7.5h4m18 0h4M3 8.5h3m20 0h3M3 9.5h3m20 0h3M3 10.5h3m20 0h3M3 11.5h3m20 0h3M3 12.5h3m20 0h3M3 13.5h3m20 0h3M3 14.5h3m20 0h3M3 17.5h3m20 0h3M3 18.5h3m20 0h3M3 19.5h3m20 0h3M3 20.5h3m20 0h3M3 21.5h3m20 0h3M3 22.5h3m20 0h3M3 23.5h3m20 0h3M3 24.5h4m18 0h4M3 25.5h5m16 0h5M3 26.5h12m2 0h12M3 27.5h12m2 0h12M3 28.5h12m2 0h12"/><path stroke="#4d4d4d" d="M15 -3.5h2M15 -2.5h2M15 -1.5h2M8 6.5h7m2 0h7M7 7.5h8m2 0h8M6 8.5h6m8 0h6M6 9.5h4m13 0h3M6 10.5h3m14 0h3M6 11.5h3m14 0h3M6 12.5h2m16 0h2M6 13.5h2m16 0h2M6 14.5h2m16 0h2M-4 15.5h3m34 0h3M-4 16.5h3m34 0h3M6 17.5h2m16 0h2M6 18.5h2m16 0h2M6 19.5h2m16 0h2M6 20.5h3m14 0h3M6 21.5h3m14 0h3M6 22.5h3m13 0h4M6 23.5h6m8 0h6M7 24.5h8m2 0h8M8 25.5h7m2 0h7M15 33.5h2M15 34.5h2M15 35.5h2"/><path stroke="#515151" d="M15 -0.5h2M15 0.5h2M12 8.5h3m2 0h3M10 9.5h5m2 0h6M9 10.5h4m6 0h2m1 0h1M9 11.5h2m10 0h2M8 12.5h3m10 0h3M8 13.5h2m12 0h2M8 14.5h2m12 0h2M-1 15.5h2m30 0h2M-1 16.5h2m30 0h2M8 17.5h2m12 0h2M8 18.5h2m12 0h2M8 19.5h3m10 0h3M9 20.5h2m10 0h2M9 21.5h1m1 0h2m6 0h4M9 22.5h6m2 0h5M12 23.5h3m2 0h3M15 31.5h2M15 32.5h2"/><path stroke="#555555" d="M15 1.5h2M15 2.5h2M15 3.5h2M13 10.5h2m2 0h2m2 0h1M11 11.5h4m2 0h3M11 12.5h2m7 0h1M10 13.5h2m8 0h2M10 14.5h2m8 0h2M1 15.5h3m24 0h3M1 16.5h3m24 0h3M10 17.5h2m8 0h2M10 18.5h2m8 0h2M11 19.5h1m7 0h2M12 20.5h3m2 0h4M10 21.5h1m2 0h2m2 0h2M15 28.5h2M15 29.5h2M15 30.5h2"/><path stroke="#595959" d="M15 4.5h2M15 5.5h2M20 11.5h1M13 12.5h2m2 0h2M12 13.5h2m5 0h1M12 14.5h1m6 0h1M4 15.5h2m20 0h2M4 16.5h2m20 0h2M12 17.5h1m6 0h1M12 18.5h1m5 0h2M13 19.5h2m2 0h2M11 20.5h1M15 26.5h2M15 27.5h2"/><path stroke="#5d5d5d" d="M15 6.5h2M15 7.5h2M15 8.5h2M14 13.5h1M13 14.5h1M6 15.5h3m14 0h3M6 16.5h3m14 0h3M18 17.5h1M17 18.5h1M15 23.5h2M15 24.5h2M15 25.5h2"/><path stroke="#616161" d="M15 9.5h2M19 12.5h1M17 13.5h1M18 14.5h1M9 15.5h1m12 0h1M9 16.5h1m12 0h1M13 17.5h1M14 18.5h1M12 19.5h1M15 22.5h2"/><path stroke="#656565" d="M15 10.5h2M15 11.5h2M14 14.5h1M10 15.5h2m8 0h2M10 16.5h2m8 0h2M17 17.5h1M15 20.5h2M15 21.5h2"/><path stroke="#696969" d="M15 12.5h2M18 13.5h1M12 15.5h1m6 0h1M12 16.5h1m6 0h1M13 18.5h1M15 19.5h2"/><path stroke="#6d6d6d" d="M15 13.5h2M13 15.5h1m4 0h1M13 16.5h1m4 0h1M15 18.5h2"/><path stroke="#757575" d="M17 14.5h1M14 17.5h1"/><path stroke="#828282" d="M15 14.5h2M14 15.5h1m2 0h1M14 16.5h1m2 0h1M15 17.5h2"/><path stroke="#aaaaaa" d="M15 15.5h1M16 16.5h1"/><path stroke="#bababa" d="M16 15.5h1M15 16.5h1"/></g><g filter="url(#fsB)" style="mix-blend-mode:lighten"><rect x="0.00" y="15.505" width="32.00" height="0.990" fill="#666666"/><rect x="0.00" y="15.835" width="32.00" height="0.330" fill="#7a7a7a"/><rect x="15.802" y="0.00" width="1.035" height="32.00" fill="#696969"/><rect x="16.147" y="0.00" width="0.345" height="32.00" fill="#808080"/><ellipse cx="16.160" cy="16.000" rx="0.431" ry="0.247" fill="#d9d9d9"/></g></svg><svg class="p" style="left:470.0px;top:531.0px" width="371.0" height="388.0" viewBox="0 0 32 32" preserveAspectRatio="none"><g fill="none" stroke-width="1.02" filter="url(#fbA)"><path stroke="#313131" d="M-4 -3.5h19m2 0h19M-4 -2.5h1m38 0h1M-4 -1.5h1m38 0h1M-4 -0.5h1m38 0h1M-4 0.5h1m38 0h1M-4 1.5h1m38 0h1M-4 2.5h1m38 0h1M-4 3.5h1m38 0h1M-4 4.5h1m38 0h1M-4 5.5h1m38 0h1M-4 6.5h1m38 0h1M-4 7.5h1m38 0h1M-4 8.5h1m38 0h1M-4 9.5h1m38 0h1M-4 10.5h1m38 0h1M-4 11.5h1m38 0h1M-4 12.5h1m38 0h1M-4 13.5h1m38 0h1M-4 14.5h1m38 0h1M-4 17.5h1m38 0h1M-4 18.5h1m38 0h1M-4 19.5h1m38 0h1M-4 20.5h1m38 0h1M-4 21.5h1m38 0h1M-4 22.5h1m38 0h1M-4 23.5h1m38 0h1M-4 24.5h1m38 0h1M-4 25.5h1m38 0h1M-4 26.5h1m38 0h1M-4 27.5h1m38 0h1M-4 28.5h1m38 0h1M-4 29.5h1m38 0h1M-4 30.5h1m38 0h1M-4 31.5h1m38 0h1M-4 32.5h1m38 0h1M-4 33.5h1m38 0h1M-4 34.5h1m38 0h1M-4 35.5h19m2 0h19"/><path stroke="#353535" d="M-3 -2.5h18m2 0h18M-3 -1.5h18m2 0h18M-3 -0.5h2m34 0h2M-3 0.5h2m34 0h2M-3 1.5h2m34 0h2M-3 2.5h2m34 0h2M-3 3.5h2m34 0h2M-3 4.5h2m34 0h2M-3 5.5h2m34 0h2M-3 6.5h2m34 0h2M-3 7.5h2m34 0h2M-3 8.5h2m34 0h2M-3 9.5h2m34 0h2M-3 10.5h2m34 0h2M-3 11.5h2m34 0h2M-3 12.5h2m34 0h2M-3 13.5h2m34 0h2M-3 14.5h2m34 0h2M-3 17.5h2m34 0h2M-3 18.5h2m34 0h2M-3 19.5h2m34 0h2M-3 20.5h2m34 0h2M-3 21.5h2m34 0h2M-3 22.5h2m34 0h2M-3 23.5h2m34 0h2M-3 24.5h2m34 0h2M-3 25.5h2m34 0h2M-3 26.5h2m34 0h2M-3 27.5h2m34 0h2M-3 28.5h2m34 0h2M-3 29.5h2m34 0h2M-3 30.5h2m34 0h2M-3 31.5h2m34 0h2M-3 32.5h2m34 0h2M-3 33.5h18m2 0h18M-3 34.5h18m2 0h18"/><path stroke="#393939" d="M-1 -0.5h16m2 0h16M-1 0.5h16m2 0h16M-1 1.5h16m2 0h16M-1 2.5h3m28 0h3M-1 3.5h3m28 0h3M-1 4.5h3m28 0h3M-1 5.5h3m28 0h3M-1 6.5h3m28 0h3M-1 7.5h3m28 0h3M-1 8.5h3m28 0h3M-1 9.5h3m28 0h3M-1 10.5h3m28 0h3M-1 11.5h3m28 0h3M-1 12.5h3m28 0h3M-1 13.5h3m28 0h3M-1 14.5h3m28 0h3M-1 17.5h3m28 0h3M-1 18.5h3m28 0h3M-1 19.5h3m28 0h3M-1 20.5h3m28 0h3M-1 21.5h3m28 0h3M-1 22.5h3m28 0h3M-1 23.5h3m28 0h3M-1 24.5h3m28 0h3M-1 25.5h3m28 0h3M-1 26.5h3m28 0h3M-1 27.5h3m28 0h3M-1 28.5h3m28 0h3M-1 29.5h3m28 0h3M-1 30.5h16m2 0h16M-1 31.5h16m2 0h16M-1 32.5h16m2 0h16"/><path stroke="#3d3d3d" d="M2 2.5h13m2 0h13M2 3.5h13m2 0h13M2 4.5h9m10 0h9M2 5.5h3m22 0h3M2 6.5h3m22 0h3M2 7.5h3m22 0h3M2 8.5h3m22 0h3M2 9.5h3m22 0h3M2 10.5h3m22 0h3M2 11.5h2m24 0h2M2 12.5h2m24 0h2M2 13.5h2m24 0h2M2 14.5h2m24 0h2M2 17.5h2m24 0h2M2 18.5h2m24 0h2M2 19.5h2m24 0h2M2 20.5h2m24 0h2M2 21.5h3m22 0h3M2 22.5h3m22 0h3M2 23.5h3m22 0h3M2 24.5h3m22 0h3M2 25.5h3m22 0h3M2 26.5h3m22 0h3M2 27.5h9m10 0h9M2 28.5h13m2 0h13M2 29.5h13m2 0h13"/><path stroke="#414141" d="M11 4.5h4m2 0h4M5 5.5h10m2 0h10M5 6.5h10m2 0h10M5 7.5h5m12 0h5M5 8.5h3m16 0h3M5 9.5h3m16 0h3M5 10.5h2m18 0h2M4 11.5h3m18 0h3M4 12.5h3m18 0h3M4 13.5h3m18 0h3M4 14.5h3m18 0h3M4 17.5h3m18 0h3M4 18.5h3m18 0h3M4 19.5h3m18 0h3M4 20.5h3m18 0h3M5 21.5h2m18 0h2M5 22.5h3m16 0h3M5 23.5h3m16 0h3M5 24.5h5m12 0h5M5 25.5h10m2 0h10M5 26.5h10m2 0h10M11 27.5h4m2 0h4"/><path stroke="#454545" d="M10 7.5h5m2 0h5M8 8.5h6m4 0h6M8 9.5h3m10 0h3M7 10.5h3m12 0h3M7 11.5h2m14 0h2M7 12.5h2m14 0h2M7 13.5h2m14 0h2M7 14.5h1m16 0h1M7 17.5h1m16 0h1M7 18.5h2m14 0h2M7 19.5h2m14 0h2M7 20.5h2m14 0h2M7 21.5h3m12 0h3M8 22.5h3m10 0h3M8 23.5h6m4 0h6M10 24.5h5m2 0h5"/><path stroke="#494949" d="M15 -3.5h2M15 -2.5h2M14 8.5h1m2 0h1M11 9.5h4m2 0h4M10 10.5h3m6 0h3M9 11.5h2m10 0h2M9 12.5h2m10 0h2M9 13.5h1m12 0h1M8 14.5h2m12 0h2M-4 15.5h2m36 0h2M-4 16.5h2m36 0h2M8 17.5h2m12 0h2M9 18.5h1m12 0h1M9 19.5h2m10 0h2M9 20.5h2m10 0h2M10 21.5h3m6 0h3M11 22.5h4m2 0h4M14 23.5h1m2 0h1M15 34.5h2M15 35.5h2"/><path stroke="#4d4d4d" d="M15 -1.5h2M15 -0.5h2M13 10.5h2m2 0h2M11 11.5h3m4 0h3M11 12.5h1m8 0h1M10 13.5h2m8 0h2M10 14.5h1m10 0h1M-2 15.5h2m32 0h2M-2 16.5h2m32 0h2M10 17.5h1m10 0h1M10 18.5h2m8 0h2M11 19.5h1m8 0h1M11 20.5h3m4 0h3M13 21.5h2m2 0h2M15 32.5h2M15 33.5h2"/><path stroke="#515151" d="M15 0.5h2M15 1.5h2M15 2.5h2M14 11.5h1m2 0h1M12 12.5h2m4 0h2M12 13.5h1m6 0h1M11 14.5h1m8 0h1M0 15.5h3m26 0h3M0 16.5h3m26 0h3M11 17.5h1m8 0h1M12 18.5h1m6 0h1M12 19.5h2m4 0h2M14 20.5h1m2 0h1M15 29.5h2M15 30.5h2M15 31.5h2"/><path stroke="#555555" d="M15 3.5h2M15 4.5h2M15 5.5h2M14 12.5h1m2 0h1M13 13.5h1m4 0h1M12 14.5h1m6 0h1M3 15.5h3m20 0h3M3 16.5h3m20 0h3M12 17.5h1m6 0h1M13 18.5h1m4 0h1M14 19.5h1m2 0h1M15 26.5h2M15 27.5h2M15 28.5h2"/><path stroke="#595959" d="M15 6.5h2M15 7.5h2M14 13.5h1m2 0h1M13 14.5h1m4 0h1M6 15.5h2m16 0h2M6 16.5h2m16 0h2M13 17.5h1m4 0h1M14 18.5h1m2 0h1M15 24.5h2M15 25.5h2"/><path stroke="#5d5d5d" d="M15 8.5h2M8 15.5h1m14 0h1M8 16.5h1m14 0h1M15 23.5h2"/><path stroke="#616161" d="M15 9.5h2M9 15.5h1m12 0h1M9 16.5h1m12 0h1M15 22.5h2"/><path stroke="#656565" d="M15 10.5h2M15 11.5h2M10 15.5h2m8 0h2M10 16.5h2m8 0h2M15 20.5h2M15 21.5h2"/><path stroke="#696969" d="M14 14.5h1m2 0h1M14 17.5h1m2 0h1"/><path stroke="#6d6d6d" d="M15 12.5h2M12 15.5h1m6 0h1M12 16.5h1m6 0h1M15 19.5h2"/><path stroke="#757575" d="M15 13.5h2M13 15.5h1m4 0h1M13 16.5h1m4 0h1M15 18.5h2"/><path stroke="#8a8a8a" d="M15 14.5h2M14 15.5h1m2 0h1M14 16.5h1m2 0h1M15 17.5h2"/><path stroke="#b6b6b6" d="M15 15.5h2M15 16.5h2"/></g><g filter="url(#fsA)" style="mix-blend-mode:lighten"><rect x="0.00" y="15.340" width="32.00" height="1.320" fill="#616161"/><rect x="0.00" y="15.753" width="32.00" height="0.495" fill="#6e6e6e"/><rect x="15.310" y="0.00" width="1.380" height="32.00" fill="#616161"/><rect x="15.741" y="0.00" width="0.518" height="32.00" fill="#6e6e6e"/><ellipse cx="16.000" cy="16.000" rx="0.345" ry="0.165" fill="#ebebeb"/></g></svg><svg class="p" style="left:905.0px;top:531.0px" width="371.0" height="388.0" viewBox="0 0 64 64" preserveAspectRatio="none"><g fill="none" stroke-width="1.02"><path stroke="#440154" d="M3 0.5h1m3 0h1m49 0h1M1 1.5h1m36 0h1m7 0h1m1 0h1m14 0h1M1 2.5h1m5 0h1m13 0h1m26 0h1M6 3.5h1m8 0h1m30 0h1m10 0h1M37 4.5h1M0 5.5h1m1 0h1M41 6.5h1m13 0h1m3 0h1M46 7.5h1M4 8.5h1m33 0h1m16 0h1M12 9.5h1m4 0h1m23 0h1M2 10.5h1m15 0h1m39 0h1M37 11.5h1m6 0h1M6 12.5h1M2 13.5h1m19 0h1m40 0h1M7 14.5h1m9 0h2m28 0h1M10 15.5h1M50 16.5h1M1 17.5h1m48 0h1m10 0h1m1 0h1M7 18.5h1M13 19.5h1m49 0h1M63 20.5h1M10 21.5h1m42 0h1M7 22.5h1M61 23.5h1M61 26.5h1M9 28.5h1m51 0h1M8 29.5h1m51 0h1M7 31.5h1M9 34.5h1M4 35.5h1M3 36.5h1m54 0h1M7 37.5h1m2 0h1M1 38.5h1M3 40.5h1M63 41.5h1M3 42.5h2M10 43.5h1m40 0h1M53 44.5h1M0 45.5h1M13 46.5h1m48 0h1M5 47.5h1M63 48.5h1M6 49.5h1m4 0h1M56 50.5h2M46 51.5h1m16 0h1M0 52.5h1m17 0h1m36 0h1M40 53.5h1M58 54.5h1M19 55.5h1m8 0h1M22 56.5h1m3 0h1M23 57.5h1m20 0h1m7 0h1m5 0h1M15 58.5h1m35 0h1m9 0h1M2 59.5h1m6 0h1m35 0h1m3 0h1m3 0h1M6 60.5h1m2 0h1m8 0h1m44 0h1M6 61.5h1m39 0h1m16 0h1M3 62.5h1m1 0h2m5 0h1m44 0h1M18 63.5h1m29 0h1"/><path stroke="#460a5d" d="M11 0.5h1M47 1.5h1M23 2.5h1m7 0h1M4 3.5h1m35 0h1M42 4.5h1M53 5.5h1M51 7.5h1M7 9.5h1M43 11.5h1M16 12.5h1m30 0h1M16 13.5h1m40 0h1M37 15.5h1M56 16.5h2M23 17.5h1m29 0h1M4 18.5h2M50 22.5h1M54 23.5h1M0 24.5h1M51 26.5h1M51 27.5h1M59 33.5h1M54 34.5h1M63 35.5h1M2 36.5h1M5 37.5h1M50 39.5h1M49 40.5h1M50 41.5h1m9 0h1M47 42.5h1m3 0h1M1 46.5h1m12 0h1m1 0h1M40 47.5h1M0 50.5h1M35 52.5h1M25 54.5h1m10 0h1M2 58.5h1m10 0h1m27 0h1M5 59.5h1M1 60.5h1m6 0h1M10 61.5h1m28 0h1m3 0h1M28 62.5h1M1 63.5h1"/><path stroke="#481467" d="M13 0.5h1m21 0h1M57 1.5h1M39 2.5h1m5 0h1M11 3.5h1m15 0h1M38 4.5h1m10 0h1m10 0h1M44 5.5h1m3 0h1M28 6.5h1M61 7.5h1M10 8.5h1m22 0h1m20 0h1M27 9.5h1M4 10.5h1M10 12.5h1M24 13.5h1m2 0h1m16 0h1M1 14.5h1M39 15.5h1m5 0h1m6 0h1M55 16.5h1M4 17.5h1m35 0h1M3 18.5h1m6 0h1M11 19.5h2m40 0h1M44 21.5h1m16 0h1M59 22.5h1M6 23.5h1M47 25.5h1M59 26.5h1M17 27.5h1M50 28.5h1M7 29.5h1M47 30.5h1M58 33.5h1M1 35.5h1m54 0h1M55 37.5h1M51 38.5h1m11 0h1M17 39.5h1M60 40.5h1M19 41.5h1M48 42.5h1M6 43.5h1M3 44.5h1m39 0h1m2 0h1M10 45.5h1m31 0h1M0 47.5h1m28 0h1M55 49.5h1M40 50.5h1m11 0h1M19 51.5h1M60 52.5h1M44 53.5h1M9 55.5h1M33 56.5h1m6 0h1m2 0h1m2 0h1M22 57.5h1M23 58.5h1M31 59.5h1m11 0h1M11 61.5h1M26 62.5h1M20 63.5h1m17 0h1"/><path stroke="#481c6e" d="M17 0.5h1m11 0h1m6 0h1m10 0h1M3 1.5h1m5 0h1m6 0h2m16 0h1m26 0h1M11 2.5h1m32 0h1m10 0h1M41 3.5h1m18 0h1M9 4.5h1m12 0h1M4 5.5h1m4 0h1m3 0h1m35 0h1M24 6.5h2M8 7.5h1m20 0h1m1 0h1m16 0h1m4 0h1M25 8.5h1m4 0h1m19 0h1m6 0h1M51 9.5h1M12 10.5h1m9 0h1M33 11.5h1m17 0h1M3 12.5h1m49 0h1M20 13.5h1m26 0h1m14 0h1M8 14.5h1m47 0h2m1 0h1m1 0h1M53 15.5h1M49 16.5h1M11 17.5h1M59 18.5h1M16 19.5h1m24 0h1M0 20.5h1m46 0h1m1 0h1M3 21.5h1m3 0h1m32 0h1m18 0h1M57 23.5h1M5 24.5h1m11 0h1m27 0h1m17 0h1M20 25.5h1M6 26.5h1m6 0h1m36 0h1m6 0h1M49 28.5h1M5 30.5h1m46 0h1M45 31.5h1M19 33.5h1M45 34.5h1M18 36.5h1M56 37.5h1M13 38.5h1m45 0h1M20 39.5h1M13 40.5h1m37 0h1M7 41.5h1M7 43.5h1m12 0h1m40 0h1M6 46.5h1m43 0h1M7 47.5h1m1 0h1M8 49.5h1m53 0h1M61 51.5h1M4 52.5h1m4 0h1m11 0h1m11 0h1M32 53.5h3M6 54.5h1M40 55.5h1M36 56.5h1m26 0h1M8 57.5h1m6 0h1M20 58.5h1m12 0h1M24 60.5h1m1 0h1m8 0h1M29 61.5h1m28 0h1m1 0h1M14 62.5h1m10 0h1m8 0h1m27 0h1M5 63.5h1m21 0h1m21 0h1"/><path stroke="#482576" d="M10 0.5h1m12 0h1m25 0h1M2 1.5h1m9 0h1M5 2.5h1m9 0h1m10 0h1m2 0h1m20 0h1m2 0h2M8 3.5h1m39 0h1M15 4.5h1m25 0h1M5 5.5h1M11 6.5h1m20 0h1m23 0h1M4 7.5h1m12 0h1M8 8.5h1m28 0h1m4 0h1m20 0h1M1 9.5h1m6 0h1M1 11.5h1m61 0h1M29 12.5h1m14 0h1M13 13.5h1m28 0h1m11 0h1M21 14.5h1m33 0h1M3 15.5h1m22 0h1m33 0h1m1 0h1M31 16.5h1m4 0h1M27 17.5h1m14 0h1m14 0h1M48 18.5h1m8 0h1M1 19.5h1m19 0h1m18 0h1M60 20.5h1M4 21.5h1m36 0h1M62 22.5h2M4 23.5h1m45 0h1M60 24.5h1M3 25.5h1m8 0h1M5 27.5h1m40 0h1m3 0h1m11 0h2M58 28.5h1M63 29.5h1M49 30.5h1m5 0h1M0 31.5h1m57 0h1m4 0h1M1 33.5h1m7 0h2M52 34.5h1m7 0h1M15 35.5h1M1 37.5h2m56 0h1m3 0h1M1 39.5h1m10 0h1m38 0h1M4 40.5h1M49 41.5h1m4 0h1M27 44.5h1m20 0h1M24 45.5h1m20 0h1m9 0h1M11 46.5h1m45 0h1M25 47.5h1m13 0h1m15 0h1m6 0h1M27 48.5h1m30 0h1M38 49.5h1m10 0h1m7 0h1m1 0h1M5 50.5h1m31 0h1m3 0h1m18 0h1m1 0h1M50 51.5h1M8 52.5h1m19 0h1m28 0h1M0 53.5h1m13 0h1m9 0h1m17 0h1m10 0h1m9 0h1M35 54.5h1m27 0h1M8 55.5h1m34 0h1m3 0h1M18 56.5h1m2 0h1m3 0h1m19 0h1m8 0h1M4 57.5h1m1 0h1m10 0h1m39 0h1M5 58.5h1M18 59.5h1m9 0h1m9 0h1M16 60.5h1m37 0h1M30 61.5h1m4 0h1M59 62.5h1m1 0h1"/><path stroke="#472d7b" d="M58 0.5h1M19 1.5h1m4 0h1m8 0h1M27 2.5h1m2 0h1m15 0h1M11 4.5h1m13 0h1m3 0h1m22 0h1M25 5.5h1m19 0h1m5 0h2m1 0h1m6 0h2M21 6.5h1m21 0h1m4 0h1M13 7.5h1m13 0h1m10 0h1m4 0h1M3 8.5h1m9 0h1m9 0h1m28 0h1M42 9.5h1m2 0h1M1 10.5h1m5 0h1m8 0h1m25 0h1m8 0h1m2 0h1M22 11.5h1M7 12.5h1m15 0h1M55 13.5h2M15 14.5h2m46 0h1M29 15.5h2M6 16.5h1m47 0h1m3 0h1M38 17.5h2m5 0h1M9 18.5h1m10 0h1M3 19.5h1m6 0h1M7 20.5h1m11 0h1m18 0h1m19 0h1M55 21.5h1m4 0h1m1 0h1M8 22.5h1m17 0h1m1 0h1m9 0h1m1 0h1m20 0h1M19 23.5h1M9 24.5h1m38 0h1M49 25.5h1M2 26.5h2m18 0h1M6 27.5h1m2 0h1m5 0h1m45 0h1M1 28.5h1m2 0h1M6 29.5h1m4 0h1M50 30.5h1m6 0h1M2 31.5h1m50 0h1m5 0h1M6 33.5h2m46 0h1M3 34.5h1M6 35.5h1M4 36.5h1M11 37.5h1m38 0h1m11 0h1M0 38.5h1m3 0h1m1 0h1M0 39.5h1M8 40.5h1m5 0h1m4 0h1m25 0h1m7 0h1M5 41.5h1m53 0h1m2 0h1M60 42.5h1M5 43.5h1m3 0h1m26 0h1m26 0h1M0 44.5h1M34 45.5h1m22 0h1m2 0h1m2 0h1M4 46.5h1m49 0h1M3 47.5h1m34 0h1M2 48.5h2m36 0h1m5 0h1M61 49.5h1M36 50.5h1M15 51.5h1m18 0h1M2 52.5h1m9 0h1m9 0h1m33 0h1M35 53.5h1m3 0h1m10 0h1M10 54.5h1m7 0h1m36 0h1m5 0h2M3 55.5h1m1 0h1m43 0h1m9 0h1M10 56.5h1m28 0h1m1 0h1m2 0h1m12 0h1M10 57.5h1m23 0h1M10 58.5h1m1 0h1m37 0h1m8 0h1M5 60.5h1m5 0h1m7 0h1m21 0h1m6 0h1m12 0h1M0 61.5h1m21 0h1m33 0h1M18 62.5h1m37 0h1M0 63.5h1m46 0h1"/><path stroke="#453581" d="M14 0.5h1m1 0h1m10 0h1m5 0h1m9 0h1m6 0h2m9 0h1M10 1.5h1m3 0h1m12 0h1m4 0h1m2 0h1m1 0h1m11 0h1m9 0h1m2 0h1M4 2.5h1m4 0h1m7 0h1m7 0h1m10 0h1m12 0h1m10 0h1M12 3.5h1m5 0h1m5 0h1m1 0h1m2 0h1m6 0h1m21 0h1M5 4.5h1m48 0h1M7 5.5h1m28 0h2m17 0h1m3 0h1M3 6.5h1m3 0h1m5 0h1m15 0h1m19 0h1m13 0h1M1 7.5h1m1 0h1m16 0h1m1 0h1m10 0h1m1 0h1m9 0h1m3 0h1m9 0h1M1 8.5h1m9 0h1m5 0h1m11 0h1m32 0h1M37 9.5h1m2 0h1m14 0h1M17 10.5h1m9 0h2m4 0h1m13 0h1m9 0h1M9 11.5h1m3 0h2M0 12.5h2m3 0h1m15 0h1m30 0h1m2 0h1M7 13.5h1M39 14.5h1m1 0h1m18 0h1M6 15.5h1m20 0h1m18 0h1m1 0h1m2 0h1M9 16.5h1m20 0h1m20 0h1m7 0h1M15 17.5h1m2 0h2m31 0h1m3 0h1M18 18.5h2m26 0h1m2 0h1M15 19.5h1m2 0h1m29 0h1m9 0h1M45 20.5h1m4 0h1m5 0h2M27 21.5h1m18 0h1m9 0h1M2 22.5h2m11 0h1m40 0h1M22 23.5h1m3 0h1m17 0h1m13 0h1M12 24.5h1m3 0h1M15 25.5h1M60 26.5h1M2 27.5h1m38 0h1M0 29.5h1m13 0h1M3 30.5h2m9 0h1M1 31.5h1m8 0h1m43 0h1m6 0h1M56 33.5h1m6 0h1M0 34.5h1m1 0h1m11 0h1m48 0h1M60 35.5h1M56 36.5h1m6 0h1M14 37.5h1M16 38.5h1M3 39.5h1m15 0h1m34 0h1m5 0h1M50 40.5h1M10 41.5h1m1 0h1m24 0h1m13 0h1M1 42.5h1m53 0h1M13 43.5h1M10 44.5h1M2 45.5h1m1 0h1m4 0h1m9 0h1M8 46.5h1m49 0h1m4 0h1M9 48.5h1m1 0h1m22 0h1m7 0h1m14 0h1m4 0h1M16 49.5h1m2 0h1m9 0h1m12 0h1m1 0h1m11 0h1M46 50.5h1m6 0h1m1 0h1m5 0h1M0 51.5h1m1 0h1M10 52.5h1m6 0h1m6 0h1m11 0h1m7 0h1m8 0h1m7 0h1M23 53.5h1m2 0h1m11 0h1m7 0h1m5 0h1m2 0h1m5 0h1M41 54.5h1m14 0h1m3 0h1M1 55.5h1m13 0h1m1 0h1m32 0h2M13 56.5h1m41 0h1m3 0h1M62 57.5h2M7 58.5h1m6 0h1m2 0h1m16 0h1m5 0h1m2 0h1m8 0h1m10 0h1M56 59.5h1m1 0h1M53 60.5h1M3 61.5h1m19 0h1m1 0h1m12 0h1m18 0h1M19 62.5h1m7 0h1m18 0h1m6 0h1m9 0h1M9 63.5h1m2 0h1m3 0h1m6 0h1m4 0h1m10 0h1m5 0h1m8 0h1m1 0h3m4 0h1"/><path stroke="#433d84" d="M4 0.5h1m3 0h1m9 0h1m1 0h1m13 0h1m3 0h1m2 0h1m6 0h1m11 0h1m2 0h1M8 1.5h1m13 0h1m2 0h1m3 0h1m1 0h1m11 0h1m1 0h1m7 0h1m4 0h1M2 2.5h1m5 0h1m4 0h1m20 0h1m5 0h1m6 0h1m10 0h1m3 0h1M1 3.5h1m8 0h1m8 0h1m2 0h1m21 0h2m1 0h1m11 0h1m3 0h1M4 4.5h1m35 0h1m3 0h1m3 0h1m2 0h1m11 0h1M1 5.5h1m9 0h1m10 0h1m4 0h1m13 0h1m4 0h2m10 0h1M9 6.5h1m10 0h1m13 0h1m9 0h1m9 0h1M18 7.5h1m5 0h1m1 0h1m13 0h1m19 0h1M0 8.5h1m1 0h1m16 0h1m4 0h1m18 0h4m4 0h1M0 9.5h1m2 0h3m10 0h1m3 0h1m35 0h1M20 10.5h1m14 0h1m2 0h1m13 0h1m9 0h1M7 11.5h1m15 0h1m2 0h1m3 0h1m1 0h1m17 0h1m4 0h1m2 0h2M2 12.5h1m1 0h1m6 0h1m6 0h1m1 0h1m16 0h1m7 0h1m3 0h1M3 13.5h1m1 0h1m3 0h1m5 0h1m2 0h1m26 0h1m3 0h1m9 0h1M0 14.5h1m11 0h1m29 0h1m2 0h1M15 15.5h1m9 0h1m32 0h1M1 16.5h2m5 0h1m13 0h2m16 0h1m2 0h1M12 17.5h1m1 0h1m20 0h1m16 0h1m5 0h1M29 18.5h1m21 0h1m4 0h1M4 19.5h1m9 0h1m32 0h1m12 0h1M2 20.5h1m34 0h1m8 0h1M1 21.5h2m8 0h1m10 0h2m25 0h1M4 22.5h1m4 0h1m6 0h1m27 0h1m9 0h1M2 23.5h1m5 0h1m5 0h1m5 0h1m16 0h1m4 0h1m3 0h1m13 0h1m2 0h1M1 24.5h1m1 0h2m44 0h1m1 0h1m1 0h1M0 25.5h2m14 0h2m34 0h1m8 0h1M1 26.5h1m7 0h1m42 0h1M1 27.5h1m23 0h1M18 28.5h1m34 0h1m1 0h1m1 0h1m1 0h1m2 0h1M2 29.5h1m6 0h1m32 0h1m11 0h1m4 0h1M8 30.5h1m42 0h1m11 0h1M57 31.5h1M46 33.5h1m1 0h1m4 0h1m6 0h1M7 34.5h1m4 0h1m36 0h1M9 35.5h1m8 0h1m25 0h2m3 0h1m9 0h1m2 0h1M23 36.5h1M3 37.5h1m4 0h1m4 0h1m37 0h1m2 0h1M2 38.5h1m5 0h1m8 0h1m35 0h1M7 39.5h1M11 40.5h2m8 0h1m26 0h1m7 0h1M57 42.5h1m1 0h1M4 43.5h1m43 0h1m4 0h1m4 0h1m3 0h1M8 44.5h1m2 0h1m13 0h1m30 0h2m2 0h1m1 0h1M5 45.5h1m1 0h1m38 0h1m4 0h1M0 46.5h1m2 0h1m11 0h1M2 47.5h1m10 0h1m5 0h1m34 0h1m4 0h1M1 48.5h1m6 0h1m1 0h1m3 0h1m7 0h1m14 0h1m16 0h1M0 49.5h2m25 0h1m12 0h1M3 50.5h1m8 0h1M18 51.5h1m4 0h1m31 0h1m2 0h1m1 0h1m1 0h1M7 52.5h1m11 0h1m5 0h1m11 0h1m10 0h1m9 0h1M1 53.5h1m3 0h1m15 0h1M3 54.5h1m5 0h1m4 0h1m6 0h1m18 0h1m3 0h2m11 0h1M7 55.5h1m6 0h1m15 0h1m5 0h1m5 0h1m11 0h1M0 56.5h1m1 0h1m3 0h1m31 0h1m8 0h1M5 57.5h1m5 0h1m24 0h1m8 0h1m8 0h1M0 58.5h1m15 0h1m21 0h1m5 0h1m8 0h1m3 0h1M10 59.5h1m3 0h1m1 0h1m8 0h1M20 60.5h4m5 0h1m2 0h1m9 0h1m4 0h1m2 0h1m5 0h1M14 61.5h3m1 0h1m9 0h1m32 0h1M7 62.5h1m7 0h1m21 0h1m12 0h1m3 0h1M6 63.5h3m2 0h1m9 0h1m11 0h1m7 0h1m1 0h1m2 0h1"/><path stroke="#404588" d="M0 0.5h1m5 0h1m2 0h1m5 0h1m6 0h1m2 0h1m11 0h1m1 0h1m6 0h1m5 0h1m2 0h2m5 0h1M0 1.5h1m3 0h1m2 0h1m5 0h1m1 0h1m7 0h1m6 0h1m8 0h2M3 2.5h1m8 0h1m1 0h1m13 0h1m8 0h1M0 3.5h1m15 0h2m10 0h1m1 0h2m29 0h1M2 4.5h1m3 0h1m14 0h1m2 0h1m5 0h1m22 0h1m1 0h1m6 0h1M8 5.5h1m1 0h1m3 0h1m45 0h1M1 6.5h1m3 0h1m2 0h1m5 0h1m2 0h1m1 0h1m3 0h1m2 0h1m13 0h1m4 0h1m1 0h1M5 7.5h1m1 0h1m1 0h1m29 0h1m10 0h1m12 0h1M15 8.5h2m1 0h1m8 0h1m11 0h2m7 0h1m4 0h1m4 0h1m1 0h1M6 9.5h1m3 0h2m3 0h1m6 0h1m15 0h1m9 0h1m9 0h1m2 0h1m1 0h1M13 10.5h1m12 0h1m3 0h2m16 0h1m12 0h1m1 0h1M0 11.5h1m10 0h1m5 0h1m16 0h2m2 0h1m1 0h1m7 0h1m12 0h1M42 12.5h1m11 0h1m5 0h3M1 13.5h1m2 0h1m6 0h1m11 0h1m5 0h1m16 0h1m5 0h1m5 0h1m2 0h1M5 14.5h1m8 0h1m28 0h1m8 0h1m9 0h1M2 15.5h1m14 0h1m5 0h1m32 0h1m6 0h1M4 16.5h1m5 0h1m5 0h2m34 0h1m7 0h1m1 0h1M9 17.5h1m34 0h1m4 0h1m12 0h1M0 18.5h1m13 0h1m1 0h2m7 0h1m26 0h1m2 0h1m7 0h1M0 19.5h1m29 0h1m6 0h1m12 0h1m10 0h2M5 20.5h1m17 0h1m35 0h1m2 0h1M5 21.5h2m2 0h1m8 0h1m32 0h1m11 0h1M5 22.5h1m7 0h1m10 0h1m26 0h1m3 0h1M1 23.5h1m3 0h1m10 0h1m12 0h1m9 0h1m13 0h1M2 24.5h1m11 0h1m7 0h2m17 0h1m17 0h1M4 25.5h1m1 0h1m3 0h1m11 0h1M14 26.5h1m26 0h2m4 0h1m5 0h1M0 27.5h1m17 0h1M10 28.5h1m34 0h1M4 29.5h1m43 0h1m7 0h1M43 30.5h1m2 0h1m9 0h1M48 31.5h1M13 33.5h1m30 0h1M4 34.5h1m8 0h1m5 0h1M2 35.5h2m3 0h1M7 36.5h1m16 0h1m24 0h1m3 0h1m5 0h1M0 37.5h1m41 0h1m9 0h1m4 0h1M9 38.5h1m5 0h1m41 0h1M44 39.5h1m7 0h1M0 40.5h1m1 0h1m40 0h1m13 0h1m3 0h1M1 41.5h2m1 0h1m6 0h1M11 42.5h2M50 43.5h1m1 0h1m2 0h1M7 44.5h1m8 0h1M12 45.5h1m10 0h1m24 0h1m9 0h1M21 46.5h1m20 0h1m9 0h1m8 0h1M1 47.5h1m2 0h1m3 0h1m1 0h1m36 0h1m12 0h1M4 48.5h2m10 0h1m2 0h1m3 0h2m23 0h1m3 0h2M5 49.5h1m29 0h1m24 0h1M6 50.5h3m8 0h1m6 0h1m22 0h2m1 0h1m3 0h1m3 0h1M5 51.5h1m5 0h2m23 0h1m22 0h1M20 52.5h1m8 0h1m8 0h1m7 0h1m3 0h1m1 0h1M6 53.5h1m3 0h1m5 0h3m9 0h2m13 0h1m12 0h1M4 54.5h1m11 0h2m10 0h2m19 0h2m1 0h1M0 55.5h1m5 0h1m4 0h1m6 0h1m3 0h2m13 0h1m3 0h1m13 0h1m6 0h1M11 56.5h1m2 0h1m1 0h2m13 0h1m2 0h1m27 0h1M2 57.5h1m6 0h1m10 0h2m7 0h1m9 0h2m1 0h1m8 0h1m3 0h1M4 58.5h1m3 0h1m2 0h1m9 0h2m5 0h1m6 0h1m9 0h2m2 0h1m6 0h1M6 59.5h1m13 0h1m6 0h1m2 0h1m15 0h1m7 0h1M2 60.5h1m7 0h1m1 0h1m1 0h1m10 0h1m11 0h1m8 0h1m4 0h1m3 0h1m1 0h1M2 61.5h1m1 0h1m19 0h1m1 0h1m7 0h1m1 0h1m7 0h1m3 0h1m3 0h1M4 62.5h1m6 0h1m19 0h1m1 0h1m5 0h1m7 0h1m1 0h1m1 0h1m3 0h1M2 63.5h1m7 0h1m4 0h1m1 0h1m1 0h1m2 0h1m2 0h2m9 0h2m2 0h1m3 0h1m5 0h2m7 0h1m1 0h1"/><path stroke="#3d4d8a" d="M2 0.5h1m2 0h1m20 0h1m3 0h1m22 0h1M18 1.5h1m1 0h1m15 0h1m13 0h1m4 0h1m4 0h1M16 2.5h1m16 0h1m1 0h1m5 0h1m15 0h1m1 0h1M2 3.5h1m2 0h1m7 0h2m19 0h1m3 0h1m3 0h2m5 0h1m3 0h1m8 0h1M8 4.5h1m9 0h1m7 0h1m8 0h1M6 5.5h1m5 0h1m2 0h1m4 0h1m5 0h1m1 0h1m6 0h1m4 0h1m9 0h1m6 0h1M2 6.5h1m1 0h1m10 0h1m6 0h1m19 0h1m10 0h1m7 0h2M2 7.5h1m3 0h1m4 0h1m2 0h2m3 0h1m8 0h1m7 0h1m17 0h1m1 0h2M31 8.5h1m15 0h1m1 0h1m9 0h1m1 0h1M14 9.5h1m4 0h1m8 0h1m10 0h1m3 0h1m3 0h1m2 0h1m11 0h1M5 10.5h1m4 0h2m3 0h1m7 0h1m1 0h1m8 0h1m1 0h1m8 0h1m10 0h1m3 0h1M3 11.5h1m4 0h1m3 0h1m2 0h2m12 0h1m1 0h1m10 0h1m10 0h2m5 0h1M13 12.5h1m1 0h1m3 0h1m16 0h1m1 0h1m1 0h1m10 0h1m7 0h1M6 13.5h1m7 0h1m16 0h1m18 0h1M2 14.5h3m6 0h1m1 0h1m6 0h1m6 0h1m1 0h1m1 0h1m3 0h1M5 15.5h1m8 0h1m23 0h1m3 0h1m11 0h1m2 0h1M0 16.5h1m4 0h1m6 0h1m1 0h1m5 0h1m5 0h1m14 0h1m2 0h1m16 0h1m1 0h1M2 17.5h1m2 0h1m10 0h1m12 0h1m7 0h1m5 0h1M12 18.5h2m16 0h1m10 0h1m20 0h1M8 19.5h2m9 0h1m3 0h1m3 0h1m21 0h1m6 0h1m2 0h1M9 20.5h1m6 0h1m5 0h1m6 0h1m9 0h2m1 0h1m10 0h1M0 21.5h1M0 22.5h1m5 0h1m10 0h1M3 23.5h1m5 0h2m1 0h1m36 0h1m6 0h1M7 24.5h1m7 0h1m39 0h1m6 0h1M18 25.5h1m41 0h1m2 0h1M10 26.5h1m26 0h1m11 0h1m12 0h1M4 27.5h1m2 0h1m2 0h1m32 0h1m8 0h1m2 0h1m4 0h1M3 28.5h1m7 0h2m2 0h1m24 0h1m3 0h1m11 0h1m6 0h1M10 29.5h1m10 0h1m28 0h1m6 0h2M1 30.5h1m13 0h1m9 0h1m28 0h1m3 0h1m2 0h1M50 31.5h1m9 0h1M4 33.5h1m6 0h1m6 0h1m43 0h1M1 34.5h1m4 0h1m1 0h1m1 0h1M8 35.5h1m42 0h3m4 0h1m2 0h1M5 36.5h1m2 0h1m3 0h1m28 0h1m15 0h1m4 0h1M6 37.5h1m9 0h1m41 0h1M46 38.5h1m1 0h1m6 0h2m3 0h1M2 39.5h1m7 0h2m17 0h1m25 0h2m2 0h1M7 40.5h1m8 0h1m27 0h1m10 0h1M9 41.5h1m7 0h2m2 0h1m16 0h1m18 0h2m2 0h1M2 42.5h1m2 0h3m11 0h1m21 0h1m12 0h1m1 0h1m4 0h2M14 43.5h1m25 0h1m6 0h1m6 0h1m2 0h1M1 44.5h1m4 0h1m48 0h1m3 0h1m1 0h1M8 45.5h1m11 0h1m1 0h1m29 0h1m6 0h1m1 0h1M29 46.5h1m5 0h1m9 0h1M46 47.5h1m2 0h1M6 48.5h1m11 0h1m12 0h1m12 0h2m9 0h2m3 0h1M14 49.5h1m2 0h1m5 0h1m4 0h1m22 0h2M2 50.5h1m6 0h1m4 0h1m16 0h1m11 0h2M3 51.5h2m3 0h1m7 0h1m16 0h1m18 0h1M1 52.5h1m9 0h1m4 0h1m9 0h1m35 0h2M3 53.5h2m2 0h1m11 0h1m10 0h1m10 0h1m9 0h1m5 0h1M8 54.5h1m13 0h2m2 0h1m10 0h2M39 55.5h1m17 0h1m2 0h1M1 56.5h1m2 0h1m14 0h1m4 0h1m2 0h1m20 0h1m2 0h1m9 0h1M1 57.5h1m14 0h1m10 0h1m19 0h1M6 58.5h1m2 0h1m19 0h1m18 0h1m9 0h1M0 59.5h1m6 0h1m4 0h1m2 0h1m3 0h1m1 0h1m2 0h1m1 0h1m6 0h3m19 0h1m1 0h1m2 0h1m2 0h1M27 60.5h2m2 0h1m7 0h1m4 0h1M1 61.5h1m17 0h2m20 0h2m4 0h1m1 0h1m4 0h1m4 0h1M0 62.5h1m1 0h1m10 0h1m8 0h1m12 0h2m3 0h2m3 0h1M24 63.5h1m6 0h1m3 0h1m6 0h1m12 0h1"/><path stroke="#3a538b" d="M1 0.5h1m40 0h1m2 0h1M5 1.5h2m4 0h1m16 0h1m13 0h1m1 0h1m7 0h1M0 2.5h1m5 0h1m12 0h1m22 0h2m19 0h1M3 3.5h1m5 0h1m10 0h1m16 0h1m1 0h1M3 4.5h1m3 0h1m2 0h1m3 0h1m4 0h2m6 0h1m4 0h2m16 0h1m6 0h1m1 0h1M17 5.5h1m5 0h2m4 0h1m8 0h2m3 0h1M10 6.5h1m1 0h1m14 0h1m7 0h2m1 0h1m13 0h1m4 0h2M12 7.5h1m8 0h1m1 0h1m1 0h1m15 0h1m10 0h1M7 8.5h1m4 0h1m8 0h1m34 0h1M9 9.5h1m8 0h1m2 0h1m1 0h1m5 0h2m1 0h1m1 0h2m23 0h2M3 10.5h1m5 0h1m4 0h1m4 0h1m21 0h1m4 0h1m3 0h1m2 0h1m5 0h1M5 11.5h2m11 0h1m2 0h1m17 0h1m7 0h1m8 0h1M17 12.5h1m6 0h1m3 0h1m6 0h1m5 0h1m6 0h1m1 0h1m6 0h1m5 0h1M0 13.5h1m7 0h1m12 0h1m3 0h1m7 0h1m3 0h1m2 0h2m6 0h1m11 0h1M6 14.5h1m3 0h1m35 0h1m2 0h2M11 15.5h2m6 0h1m11 0h1m11 0h1m15 0h1M11 16.5h1m1 0h1m1 0h1m12 0h1M0 17.5h1m12 0h1m10 0h1m35 0h1M6 18.5h1M25 19.5h1m10 0h1m8 0h1m11 0h1M4 20.5h1m5 0h1m7 0h1m11 0h1m23 0h1M16 21.5h1m11 0h1m1 0h1m8 0h1m8 0h1m9 0h1M1 22.5h1m8 0h3m1 0h1m20 0h1m9 0h1m2 0h1m8 0h1M0 23.5h1m12 0h1m7 0h1m1 0h1m8 0h1m8 0h1m10 0h1m9 0h1M8 24.5h1m1 0h1m47 0h1M7 25.5h1m1 0h1m9 0h1m1 0h1m1 0h1m32 0h2m4 0h1M0 26.5h1m10 0h1M3 27.5h1m7 0h2m10 0h1m18 0h1m10 0h2m1 0h1m1 0h2M5 28.5h1m8 0h1m5 0h1M61 29.5h2M2 30.5h1m4 0h1m2 0h1m1 0h2m4 0h1m29 0h1m11 0h1M11 31.5h1m3 0h1m8 0h1m21 0h2m3 0h1m10 0h1M0 33.5h1m2 0h1m1 0h1m6 0h1m44 0h1M5 34.5h1m17 0h1m29 0h1m2 0h2M13 35.5h2m32 0h1m6 0h1M0 36.5h2m12 0h1m5 0h1m17 0h1m11 0h1m10 0h1M4 37.5h1m4 0h1m7 0h1m5 0h1m29 0h1M7 38.5h1m54 0h1M4 39.5h1m44 0h1m3 0h1m3 0h1m5 0h1M5 40.5h2m2 0h1m5 0h1m6 0h1m23 0h1m15 0h2M0 41.5h1m2 0h1m2 0h1m1 0h1m7 0h1m3 0h1m4 0h1m8 0h1m8 0h1m2 0h2m8 0h1M8 42.5h1m7 0h1m12 0h1m33 0h1M0 43.5h1m1 0h2m8 0h1m12 0h1m23 0h1m10 0h1M2 44.5h1m41 0h1m7 0h1M3 45.5h1m2 0h1m18 0h1m3 0h2m7 0h1m2 0h1m8 0h1m5 0h1M7 46.5h1m19 0h1m23 0h1m3 0h1M11 47.5h2m2 0h1m4 0h1m10 0h1m18 0h2m1 0h1m3 0h1m5 0h1M15 48.5h1m4 0h2m6 0h1m1 0h1m12 0h1m5 0h1m1 0h1m7 0h1m1 0h1M2 49.5h2m5 0h1m5 0h1m23 0h1m6 0h2m5 0h1m9 0h1M4 50.5h1m10 0h1m5 0h1m3 0h1m2 0h1m13 0h1m20 0h1M7 51.5h1m1 0h2m17 0h1m1 0h1m9 0h1m13 0h1M14 52.5h2m7 0h1m10 0h1m4 0h1m2 0h1m16 0h1M8 53.5h1m2 0h1m3 0h1m4 0h1m4 0h1m11 0h1m9 0h1m6 0h1m3 0h3M0 54.5h1m14 0h1m14 0h1m12 0h1m3 0h1m6 0h1m4 0h1M12 55.5h1m11 0h1m1 0h1m4 0h1m29 0h1M3 56.5h1m24 0h2m5 0h1m6 0h1m6 0h1m2 0h1m7 0h1M0 57.5h1m12 0h2m9 0h1m1 0h1m16 0h1m16 0h1M3 58.5h1m20 0h1m1 0h2M1 59.5h1m1 0h2m3 0h1m4 0h1m3 0h1m5 0h1m15 0h1m1 0h2m5 0h1m10 0h1m1 0h1M0 60.5h1m2 0h1m9 0h1m22 0h1m23 0h1M5 61.5h1m2 0h2m2 0h1m8 0h1m10 0h1m12 0h1m7 0h1m8 0h1M1 62.5h1m7 0h2m5 0h2m3 0h1m1 0h2m4 0h1m8 0h1m3 0h1M3 63.5h1m30 0h1m27 0h1"/><path stroke="#375b8d" d="M19 0.5h1m1 0h1m18 0h1m13 0h1m4 0h1M26 1.5h1m14 0h1m9 0h1m2 0h1m1 0h1M22 2.5h1m28 0h1m4 0h1m4 0h1M23 3.5h1m1 0h1m6 0h1m2 0h1m15 0h1M13 4.5h1m14 0h1m7 0h1m2 0h1m3 0h1m1 0h3m8 0h1m1 0h1m2 0h1M16 5.5h1m4 0h1m34 0h1M16 6.5h1m1 0h1m32 0h1m8 0h1M34 7.5h1m7 0h1m15 0h1m3 0h1M6 8.5h1m2 0h1m10 0h1m7 0h1m5 0h1m1 0h1M2 9.5h1m30 0h1m2 0h1m15 0h3M24 10.5h1m7 0h1m10 0h1M2 11.5h1m1 0h1m19 0h1m37 0h1M9 12.5h1m2 0h1m9 0h1m2 0h1m1 0h1m11 0h1m3 0h1m14 0h1M19 13.5h1m8 0h1m14 0h1M9 14.5h1m12 0h1m1 0h1m11 0h1m1 0h1m12 0h1m1 0h2m3 0h1M1 15.5h1m5 0h1m1 0h1m6 0h1m3 0h2m14 0h1m3 0h1m8 0h1M3 16.5h1m14 0h1m5 0h1m14 0h1m8 0h1M7 17.5h1m12 0h1m15 0h1m11 0h1m5 0h1M1 18.5h2m12 0h1m21 0h1m23 0h1M5 19.5h3m9 0h1m4 0h1m1 0h1m1 0h1m15 0h1m3 0h1m7 0h1M1 20.5h1m1 0h1m4 0h1m6 0h1m1 0h1m9 0h1m13 0h1m6 0h1m6 0h1M12 21.5h1m6 0h1m27 0h1m6 0h1m2 0h1M21 22.5h1m31 0h1M11 23.5h1m5 0h1m10 0h1m5 0h1m16 0h1M6 24.5h1m36 0h1m2 0h2m2 0h1m1 0h1m1 0h1m2 0h1m3 0h1M2 25.5h1m11 0h1m30 0h1m4 0h2M4 26.5h1m2 0h1m38 0h1m11 0h1M14 27.5h1m32 0h1m1 0h1m7 0h1M6 28.5h1m6 0h1m5 0h1m17 0h1m22 0h1M13 29.5h1m4 0h1m26 0h2m2 0h1m3 0h1m1 0h1M9 30.5h1m6 0h1m28 0h1m13 0h1M3 31.5h1m2 0h1m2 0h1m2 0h1m5 0h1m25 0h1m10 0h1M2 33.5h1m5 0h1m7 0h2m2 0h1m40 0h1M61 34.5h1M5 35.5h1m42 0h1m6 0h1m1 0h1M6 36.5h1m2 0h1m5 0h1m1 0h1m4 0h1m22 0h1m2 0h1m11 0h1M12 37.5h1m33 0h1m1 0h1m12 0h1M11 38.5h1m27 0h1m9 0h1m2 0h1m1 0h1m3 0h1M41 39.5h1m4 0h3m9 0h1m2 0h1M1 40.5h1m39 0h1m17 0h1M44 41.5h1m10 0h1M0 42.5h1m12 0h1m1 0h1m8 0h2m10 0h1m5 0h1m2 0h1M1 43.5h1m6 0h1m2 0h1m4 0h1m2 0h1m18 0h1m2 0h1m4 0h1m12 0h1M4 44.5h2m31 0h1m2 0h1m4 0h1m3 0h1m4 0h1M1 45.5h1m15 0h1m21 0h1m7 0h1m5 0h1m8 0h1M2 46.5h1m2 0h1m4 0h1m27 0h1m1 0h1m6 0h1m1 0h1m3 0h1m2 0h1m2 0h1M6 47.5h1m9 0h2m4 0h1m5 0h1m6 0h1m7 0h3m10 0h1m1 0h1M12 48.5h1m13 0h1m14 0h1m8 0h1M7 49.5h1m12 0h1m1 0h1m3 0h1m31 0h1M1 50.5h1m9 0h1m4 0h1m1 0h2m3 0h1m2 0h1m11 0h1m10 0h1m1 0h1m7 0h1M20 51.5h2m3 0h2m10 0h1m5 0h1m1 0h1m2 0h2m6 0h2M5 52.5h2m25 0h1m7 0h2m1 0h1m3 0h1m6 0h1M2 53.5h1m24 0h1m17 0h1m3 0h1m12 0h1M1 54.5h2m2 0h1m7 0h1m5 0h1m4 0h1m8 0h1m5 0h1M2 55.5h1m1 0h1m8 0h1m2 0h1m10 0h1m1 0h1m5 0h1m9 0h1m6 0h1M5 56.5h1m1 0h2m3 0h1m2 0h1m7 0h1m6 0h1m19 0h1m5 0h1M3 57.5h1m3 0h1m11 0h1m17 0h2m11 0h1m8 0h1M18 58.5h1m6 0h1m4 0h1m6 0h1m1 0h1m14 0h1M11 59.5h1m10 0h1m6 0h1m7 0h1m9 0h1m2 0h3m9 0h1M7 60.5h1m9 0h1m16 0h1m3 0h1m19 0h1m3 0h1M13 61.5h1m3 0h1m9 0h1m5 0h1m17 0h1m3 0h1M48 62.5h1m11 0h1M29 63.5h1m22 0h1"/><path stroke="#34618d" d="M12 0.5h1m11 0h1m3 0h1m3 0h1m11 0h1M10 2.5h1m13 0h1m7 0h1m19 0h1M7 3.5h1m13 0h1m30 0h1m1 0h3M0 4.5h1m15 0h2m5 0h1m10 0h1M3 5.5h1m14 0h1m14 0h1m8 0h1M0 6.5h1m5 0h1m24 0h1m1 0h1m3 0h1M16 7.5h1m30 0h1m7 0h1M5 8.5h1m8 0h1m26 0h1M13 9.5h1m11 0h1m5 0h1m17 0h1M6 10.5h1m1 0h1m20 0h1m7 0h1m1 0h1m9 0h1M27 11.5h1m18 0h1m2 0h1m2 0h1M8 12.5h1m5 0h1m18 0h2m11 0h1M12 13.5h1m4 0h1m12 0h1m3 0h1m16 0h1M19 14.5h1m8 0h1m1 0h1m2 0h1m3 0h1m10 0h1M0 15.5h1m3 0h1m3 0h1m4 0h1m4 0h1m3 0h1m5 0h1m3 0h1m8 0h1m19 0h1M7 16.5h1m13 0h1m7 0h1m7 0h1m4 0h1m3 0h2M6 17.5h1m1 0h1m13 0h1m23 0h2m8 0h1M8 18.5h1m2 0h1m10 0h1m13 0h1m6 0h2m2 0h1m10 0h1M2 19.5h1m36 0h1m3 0h2m6 0h1m3 0h1M13 20.5h2m5 0h1M50 21.5h1M18 22.5h2m19 0h1m20 0h1M7 23.5h1m7 0h1M11 24.5h1m6 0h1m2 0h1M11 25.5h1m25 0h1m8 0h1m1 0h1m5 0h1m3 0h2M5 26.5h1m6 0h1m2 0h2m3 0h1m2 0h1m3 0h1m27 0h1m7 0h1M8 27.5h1m4 0h1m7 0h1m2 0h1m2 0h1M0 28.5h1m1 0h1m4 0h1m35 0h1m2 0h1m4 0h2M1 29.5h1m1 0h1m8 0h1m4 0h1m1 0h2M6 30.5h1m4 0h1m50 0h1M4 31.5h2m7 0h1m2 0h1m19 0h1m12 0h1m2 0h1m3 0h1M37 33.5h1m12 0h3M17 34.5h1m30 0h1m9 0h2m2 0h1M12 35.5h1m3 0h1m4 0h1m28 0h1M10 36.5h2m39 0h1m2 0h1M22 37.5h1m7 0h1m7 0h1m2 0h1M3 38.5h1m1 0h1m4 0h1m1 0h1m5 0h1m31 0h1M5 39.5h1m2 0h1m5 0h1m1 0h1m5 0h1m19 0h1m19 0h1M10 40.5h1m12 0h1m1 0h1m1 0h1m24 0h1m1 0h1M14 41.5h1m8 0h1m29 0h1M9 42.5h1m7 0h1m31 0h1m3 0h1m4 0h1M17 43.5h1m6 0h1m5 0h1m11 0h3M12 44.5h1m4 0h1m2 0h1m18 0h1m10 0h2M11 45.5h1m3 0h1m2 0h1m21 0h1m2 0h1M17 46.5h4m1 0h1m7 0h1m10 0h1m4 0h1m1 0h1m11 0h1M14 47.5h1m3 0h1m7 0h2m9 0h1m14 0h1m8 0h1M0 48.5h1m12 0h1m15 0h1m9 0h1M37 49.5h1m5 0h1m1 0h1m4 0h1m3 0h1M10 50.5h1m2 0h1m13 0h1m7 0h1m3 0h1M6 51.5h1m10 0h1m11 0h1m2 0h1m2 0h1m3 0h1m2 0h1M3 52.5h1m9 0h1m16 0h1m18 0h1m1 0h1M13 53.5h1M11 54.5h2m7 0h1m11 0h1M10 55.5h1m14 0h1m8 0h1m11 0h1m1 0h1m4 0h1m4 0h1M32 56.5h1m20 0h1m4 0h1M18 57.5h1m13 0h1m2 0h1m25 0h1M19 58.5h1m16 0h1m10 0h1m14 0h1M40 59.5h1M15 60.5h1m17 0h1m6 0h1M40 61.5h1M8 62.5h1m11 0h1m11 0h1m10 0h1m8 0h1m5 0h1M4 63.5h1m25 0h1m22 0h1m6 0h1"/><path stroke="#31688e" d="M18 2.5h1m19 0h1M33 3.5h1M12 4.5h1M19 5.5h1m10 0h1m1 0h1m1 0h1M30 6.5h1m8 0h1m10 0h1M0 7.5h1m36 0h1m6 0h1M26 8.5h1m5 0h1m2 0h1M26 9.5h1m17 0h1m1 0h1m10 0h1M0 10.5h1m54 0h1M10 11.5h1m8 0h2m4 0h1m2 0h1m7 0h1m20 0h1M30 12.5h1m25 0h1M10 13.5h1m24 0h2m1 0h1m14 0h1M23 14.5h1M33 15.5h1m1 0h1m8 0h1m2 0h1m2 0h1M19 16.5h1m5 0h1m1 0h1m10 0h1m6 0h1M3 17.5h1m6 0h1m14 0h1m7 0h1m25 0h1M24 18.5h1m1 0h2m3 0h1m6 0h1m1 0h1m1 0h1m7 0h1m3 0h1m5 0h1M29 19.5h1M11 20.5h1m9 0h1m29 0h1M8 21.5h1m4 0h1m19 0h1m8 0h1M23 22.5h1m8 0h1m3 0h1m4 0h1m4 0h1m5 0h1M45 23.5h1m9 0h1m3 0h1M42 24.5h1m1 0h1m11 0h1M5 25.5h1m34 0h1m3 0h1m8 0h1M18 26.5h1m21 0h1m13 0h1M16 27.5h1m5 0h1m25 0h1M48 28.5h1m5 0h1M5 29.5h1m9 0h2m30 0h1m3 0h1M0 30.5h1m16 0h1m1 0h1m2 0h1m21 0h1m8 0h1M8 31.5h1m5 0h1m5 0h1m1 0h1M15 33.5h1m33 0h1m5 0h1M15 34.5h2m1 0h1m3 0h1m17 0h1m6 0h1m2 0h2M0 35.5h1m9 0h1M19 36.5h1m27 0h1m4 0h1M20 37.5h1m22 0h2m4 0h1m10 0h1M21 38.5h1m1 0h1m7 0h1m15 0h1m13 0h1M6 39.5h1m2 0h1m3 0h1m1 0h1m24 0h1m4 0h1M17 40.5h1m21 0h2m6 0h1M13 41.5h1m27 0h1M10 42.5h1m3 0h1m18 0h2m5 0h1m2 0h1m8 0h1M15 43.5h1m40 0h1M9 44.5h1m4 0h2m3 0h1m2 0h2m2 0h1m1 0h1m9 0h1m8 0h1M13 45.5h2m1 0h1m10 0h1m5 0h1m1 0h2m7 0h1m4 0h1m4 0h1M12 46.5h1m13 0h1m1 0h1m14 0h2M23 47.5h1m6 0h1m2 0h2m13 0h1M7 48.5h1m25 0h1m2 0h1m1 0h1M4 49.5h1m5 0h1m2 0h1m10 0h1m6 0h1m9 0h1m6 0h1M22 50.5h1m6 0h1m4 0h1m10 0h1M1 51.5h1m11 0h1m8 0h1m18 0h1m5 0h1m3 0h1m1 0h1M27 52.5h1m17 0h1M9 53.5h1m12 0h1m8 0h1M27 54.5h1m20 0h1m4 0h1M20 55.5h2m10 0h1m5 0h1m5 0h1m11 0h1m6 0h1M9 56.5h1m10 0h1M12 57.5h1m17 0h1m25 0h1M1 58.5h1m29 0h2m9 0h1m17 0h1M32 59.5h1m3 0h1M4 60.5h1m38 0h1m1 0h1m3 0h1m9 0h1M7 61.5h1m29 0h1m12 0h1M44 62.5h1M13 63.5h1"/><path stroke="#2e6e8e" d="M31 0.5h1M20 2.5h1M50 3.5h1M1 4.5h1M31 5.5h1m31 0h1M46 6.5h1M10 7.5h1M22 8.5h1M24 9.5h1M21 10.5h1m22 0h1M41 11.5h1m3 0h1M26 12.5h1m4 0h1M26 13.5h1m5 0h1M32 14.5h1m1 0h1m5 0h1M34 15.5h1m20 0h1M53 16.5h1M17 17.5h1m3 0h1m6 0h1m1 0h1m3 0h1M32 18.5h1m2 0h1m3 0h1m5 0h1m7 0h1M28 19.5h1m4 0h2m17 0h1M6 20.5h1m24 0h1m12 0h1m7 0h1m8 0h1M14 21.5h2m1 0h1m2 0h1m4 0h2m18 0h1m6 0h1M22 22.5h1m4 0h1m19 0h1M18 23.5h1m28 0h2M13 24.5h1m5 0h1m5 0h1m14 0h1M8 25.5h1m17 0h1m7 0h1m20 0h1M8 26.5h1m8 0h1m8 0h1m21 0h1M19 27.5h1m6 0h1M16 28.5h2m3 0h2m19 0h1M52 29.5h1M20 30.5h1m14 0h1m5 0h2M17 31.5h1M16 32.5h1m2 0h1m42 0h1M14 33.5h1m6 0h1m1 0h1m17 0h1m3 0h1m1 0h1M11 34.5h1m31 0h1m11 0h1M11 35.5h1m30 0h2M13 36.5h1m7 0h1m20 0h1m1 0h1m1 0h1m8 0h1M15 37.5h1m3 0h1m17 0h1m7 0h1m1 0h1M14 38.5h1m4 0h1m24 0h1M21 39.5h1m1 0h2m2 0h1M20 40.5h1m3 0h1m17 0h1m15 0h1M15 41.5h1m11 0h1m5 0h1m5 0h1m8 0h1M20 42.5h2m5 0h1m18 0h1M22 43.5h1m11 0h1m4 0h1M18 44.5h1m5 0h1m4 0h1m6 0h1m5 0h1m15 0h1M21 45.5h1m4 0h1m4 0h1M9 46.5h1m13 0h1m1 0h1m7 0h1m2 0h2M21 47.5h1m14 0h1m4 0h2M17 48.5h1m29 0h1M12 49.5h1m21 0h1M20 50.5h1m12 0h1M44 51.5h1M12 53.5h1m23 0h1M7 54.5h1m23 0h1m2 0h1m7 0h1m8 0h1M33 55.5h1M37 56.5h1M25 57.5h1m2 0h1m2 0h1m9 0h1m4 0h1m1 0h2m3 0h1M55 58.5h1M44 59.5h1M30 60.5h1m21 0h1M31 61.5h1M30 62.5h1"/><path stroke="#2b748e" d="M21 1.5h1M31 4.5h1M30 7.5h1M40 10.5h1M39 13.5h1M26 14.5h1m17 0h1M24 15.5h1M34 16.5h1M23 18.5h1m4 0h1M31 19.5h1m3 0h1M12 20.5h1m11 0h1m3 0h1m4 0h1m1 0h1m7 0h1M35 21.5h2m1 0h1m4 0h1M20 22.5h1m8 0h1m12 0h1m15 0h1M24 23.5h1m5 0h1m5 0h1m3 0h1m2 0h1M20 24.5h1m7 0h1m8 0h1M39 25.5h1m3 0h1M21 26.5h1m23 0h1m10 0h1M39 27.5h1m4 0h2M8 28.5h1m30 0h1M42 31.5h1M1 32.5h1m2 0h1m3 0h1m1 0h1m1 0h1m7 0h1m30 0h1m8 0h2m1 0h1M43 33.5h1M44 34.5h1M20 35.5h1m25 0h1M18 37.5h1m2 0h1m2 0h1M24 38.5h1m8 0h1m6 0h2m1 0h1m1 0h1M18 39.5h1m24 0h1M18 40.5h1M24 41.5h1m27 0h1M18 42.5h1m3 0h1m5 0h1m2 0h1m7 0h1m10 0h1M18 43.5h1m4 0h1m4 0h1m8 0h1m7 0h1M30 44.5h1m3 0h1m6 0h1m21 0h1M28 45.5h1M39 46.5h1M25 48.5h1m9 0h1M18 49.5h1m6 0h1m6 0h2m2 0h1M30 50.5h1M14 51.5h1m12 0h1m10 0h1M46 54.5h1M14 63.5h1"/><path stroke="#297b8e" d="M32 7.5h1M32 12.5h1M25 14.5h1M32 16.5h2M26 17.5h1m4 0h1m9 0h1M21 18.5h1M20 19.5h1m17 0h1M25 20.5h2m7 0h1M21 21.5h1M25 22.5h1m4 0h1m6 0h1m5 0h1M25 23.5h1m9 0h1M26 24.5h1m12 0h1M13 25.5h1m10 0h1m5 0h1m11 0h1M44 26.5h1M41 28.5h1m5 0h1M22 29.5h2m17 0h1m1 0h1M38 31.5h1M0 32.5h1m1 0h2m3 0h1m1 0h1m1 0h1m1 0h1m3 0h1m19 0h1m2 0h1m1 0h1m1 0h3m6 0h3m2 0h2M22 33.5h1m19 0h1M46 34.5h1M17 35.5h1m1 0h1m8 0h1M16 36.5h1M26 37.5h1m12 0h2M20 38.5h1M34 39.5h1M26 40.5h1M22 41.5h1m3 0h1m8 0h1m9 0h1M26 42.5h1m8 0h1m1 0h2m5 0h1M21 43.5h1M13 44.5h1m7 0h1m11 0h1M32 45.5h1M24 46.5h1M24 47.5h1M32 48.5h1M30 49.5h1M24 51.5h1m6 0h1M31 52.5h1M48 53.5h1M32 63.5h1"/><path stroke="#26818e" d="M35 16.5h1M32 17.5h1M33 18.5h1M32 19.5h1M32 20.5h1M37 21.5h1M33 22.5h1m15 0h1M38 23.5h1M24 24.5h1m5 0h1m4 0h1M35 25.5h1m2 0h1m2 0h1M19 26.5h1m5 0h1M20 27.5h1m17 0h1M24 28.5h1M44 29.5h1M38 30.5h1m1 0h1M19 31.5h1m3 0h1m17 0h1M6 32.5h1m7 0h1m6 0h3m15 0h1m17 0h1M20 34.5h1m3 0h1m16 0h1M25 35.5h2m14 0h1M36 37.5h1M37 38.5h1M25 39.5h1m9 0h2m2 0h1M30 41.5h1m11 0h1M23 42.5h1M27 43.5h1m4 0h1M31 44.5h1M37 45.5h1M21 49.5h1M32 50.5h1M33 57.5h1"/><path stroke="#24878e" d="M34 18.5h1M36 20.5h1M24 21.5h1m9 0h1M33 23.5h1M34 24.5h1m1 0h1M25 25.5h1m1 0h3M24 26.5h1m14 0h1m3 0h1M37 27.5h1m2 0h1M23 28.5h1M29 29.5h1m10 0h1M24 30.5h1m1 0h2m1 0h1m6 0h1M29 31.5h1m13 0h1M5 32.5h1m9 0h1m2 0h1m17 0h1m6 0h1m3 0h1m1 0h2m1 0h1m3 0h1M25 33.5h1m12 0h1M21 34.5h1m3 0h1m16 0h1M22 35.5h1m17 0h1M35 36.5h1m4 0h1M28 37.5h1M22 38.5h1m2 0h1m9 0h1m6 0h1M34 40.5h1m2 0h2M40 41.5h1M30 42.5h1m1 0h1M29 43.5h1m5 0h1M32 44.5h1m2 0h1M32 46.5h1m1 0h1"/><path stroke="#228d8d" d="M31 21.5h1M34 22.5h1M27 23.5h1M27 24.5h1m3 0h1m1 0h1M32 25.5h1m3 0h1M35 26.5h1m2 0h1M27 28.5h1m10 0h1M27 29.5h1m9 0h1m1 0h1M37 30.5h1M26 34.5h1m10 0h1M29 35.5h1m5 0h2M25 36.5h2m16 0h1M27 37.5h1M26 38.5h3m1 0h1m7 0h1M26 39.5h1m3 0h1m6 0h2M35 40.5h2M28 41.5h2M26 43.5h1M31 46.5h1M32 47.5h1"/><path stroke="#20938c" d="M29 21.5h1M31 22.5h1M29 24.5h1m8 0h1M31 25.5h1M29 26.5h1m2 0h2M29 27.5h2m3 0h1M25 28.5h2m8 0h2M24 29.5h2m10 0h1M21 30.5h1m17 0h1M21 31.5h1m5 0h1m11 0h2M24 32.5h1m23 0h1M39 33.5h2M35 34.5h1M24 35.5h1m12 0h1M27 36.5h1m1 0h2m8 0h1M25 37.5h1M34 38.5h1M28 39.5h1M29 40.5h2m2 0h1M31 43.5h1"/><path stroke="#1f998a" d="M32 21.5h1M33 25.5h1M28 26.5h1m5 0h1M28 27.5h1m2 0h2m2 0h1M30 28.5h1M26 29.5h1m11 0h1M23 30.5h1m6 0h1M25 32.5h2m2 0h1m11 0h1M26 33.5h1M36 34.5h1M23 35.5h1m7 0h1m6 0h2M31 36.5h1M35 37.5h1M29 38.5h1M36 41.5h1M33 43.5h1"/><path stroke="#1fa088" d="M31 23.5h1M32 24.5h1M30 26.5h1M33 27.5h1m2 0h1M28 28.5h2M34 29.5h2M25 31.5h2m8 0h1M34 32.5h1m3 0h1M28 34.5h1m1 0h1M27 35.5h1m6 0h1M32 36.5h1M36 38.5h1M31 41.5h1"/><path stroke="#21a585" d="M36 26.5h1M28 29.5h1m4 0h1M34 30.5h1M33 31.5h1M27 32.5h1M24 33.5h1m3 0h1M27 34.5h1m10 0h1M33 35.5h1M34 36.5h1m2 0h1M29 37.5h1M28 40.5h1m2 0h2M32 41.5h1"/><path stroke="#25ac82" d="M31 30.5h1M27 33.5h1m1 0h1M34 34.5h1m4 0h1M36 36.5h1M32 37.5h2M32 39.5h2"/><path stroke="#2db27d" d="M31 26.5h1M32 28.5h1m1 0h1M30 29.5h2M28 30.5h1M37 31.5h1M28 32.5h1M35 33.5h2M28 36.5h1m4 0h1M34 37.5h1M32 38.5h1M31 39.5h1"/><path stroke="#35b779" d="M32 29.5h1M28 31.5h1M31 32.5h1M30 33.5h1M29 34.5h1M30 35.5h1M31 37.5h1"/><path stroke="#40bd72" d="M33 28.5h1M33 30.5h1M32 31.5h1m1 0h1M35 32.5h1M33 33.5h1M31 34.5h1M32 35.5h1"/><path stroke="#4cc26c" d="M31 28.5h1M30 31.5h1M30 32.5h1m2 0h1"/><path stroke="#5ac864" d="M32 30.5h1M31 33.5h2"/><path stroke="#67cc5c" d="M32 34.5h2"/><path stroke="#98d83e" d="M31 31.5h1M34 33.5h1"/><path stroke="#fde725" d="M32 32.5h1"/></g></svg><svg class="p" style="left:1339.0px;top:531.0px" width="371.0" height="388.0" viewBox="0 0 32 32" preserveAspectRatio="none"><g fill="none" stroke-width="1.02"><path stroke="#440154" d="M6 0.5h1m19 0h1M10 1.5h1M0 2.5h1m19 0h1m9 0h1M29 4.5h1M30 8.5h1M0 27.5h1M5 29.5h1M9 31.5h1"/><path stroke="#460a5d" d="M21 0.5h1M28 1.5h1M31 2.5h1M1 4.5h1m4 0h2m11 0h1M4 9.5h1M6 11.5h1M5 12.5h1M3 13.5h1M28 14.5h1M28 18.5h1M5 21.5h1m21 0h1M7 23.5h1m21 0h1M0 24.5h1m25 0h1M5 26.5h1M25 27.5h1"/><path stroke="#481467" d="M16 1.5h1M24 3.5h1M3 4.5h1m14 0h1M1 5.5h1m18 0h1M22 7.5h1M2 11.5h1m28 0h1M25 12.5h1M6 15.5h1M3 20.5h1M9 22.5h1m14 0h1M30 23.5h1M27 25.5h1M25 26.5h1M23 30.5h1M22 31.5h2"/><path stroke="#481c6e" d="M18 0.5h1M7 1.5h1m17 0h1M12 2.5h1M14 3.5h1m7 0h1M18 5.5h1m12 0h1M27 7.5h1M2 8.5h1M9 9.5h1M29 10.5h1M28 13.5h1M4 15.5h1M6 16.5h1M8 19.5h1M8 21.5h1M1 27.5h1m6 0h1M0 28.5h1m30 0h1M8 29.5h1M30 30.5h1"/><path stroke="#482576" d="M16 0.5h2m2 0h1M11 1.5h1m12 0h1M2 2.5h1m4 0h1m10 0h1m2 0h1m2 0h1M10 4.5h1M0 6.5h1M2 7.5h1M6 8.5h1m12 0h1M17 9.5h1M3 10.5h1m27 0h1M1 13.5h1M2 14.5h1M3 17.5h1M0 19.5h2m7 0h1M27 20.5h1M6 21.5h1m21 0h1M5 22.5h1m2 0h1m21 0h1M11 25.5h1M8 26.5h1m4 0h1M11 27.5h1m14 0h1M11 28.5h1M6 31.5h1m3 0h1m19 0h1"/><path stroke="#472d7b" d="M10 0.5h1m1 0h1m2 0h1m3 0h1M31 1.5h1M19 2.5h1M17 3.5h2m6 0h1M11 4.5h1M19 5.5h1m3 0h1M6 6.5h1m22 0h1M0 7.5h1m2 0h1m26 0h1M3 8.5h2m24 0h1M28 9.5h1M1 10.5h1m13 0h1M1 12.5h1M27 17.5h1m2 0h1M2 18.5h1m28 0h1M3 19.5h1m22 0h1M30 20.5h1M30 21.5h1M1 22.5h1m2 0h1M3 23.5h1m2 0h1m24 0h1M2 24.5h1m12 0h1m11 0h1M0 25.5h2m8 0h1m12 0h1M28 26.5h1M0 29.5h1m15 0h1M14 30.5h1m14 0h1M1 31.5h1m12 0h1"/><path stroke="#453581" d="M2 0.5h1m5 0h1m19 0h1m2 0h1M9 1.5h1m8 0h1m1 0h1M15 2.5h1M0 3.5h1m5 0h1M4 4.5h1m4 0h1m17 0h2M3 5.5h1m20 0h1M18 6.5h1m8 0h1M1 7.5h1m27 0h1M31 8.5h1M0 9.5h1M9 10.5h1M0 11.5h1m11 0h1m14 0h1M31 13.5h1M3 14.5h1M25 15.5h1m1 0h1M10 16.5h1M7 17.5h1M2 19.5h1m22 0h1m3 0h2M4 20.5h1m20 0h1M27 22.5h1m3 0h1M7 24.5h1m2 0h1M14 25.5h1M0 26.5h3m24 0h1m3 0h1M16 27.5h1m10 0h1M2 28.5h1m2 0h1M24 29.5h1M16 30.5h1m2 0h1m8 0h1M2 31.5h1m10 0h1m10 0h1"/><path stroke="#433d84" d="M3 0.5h2m20 0h1M2 1.5h1m5 0h1m8 0h1m3 0h1M4 2.5h3m6 0h1m13 0h1M20 3.5h1M30 4.5h1M7 5.5h2m8 0h1m9 0h1M24 8.5h1M3 9.5h1M4 10.5h1m1 0h1m16 0h1m1 0h1M8 11.5h1m13 0h1m2 0h1M0 13.5h1M0 14.5h1m30 0h1M31 15.5h1M5 16.5h1m2 0h1m20 0h2M0 17.5h1m1 0h1m1 0h1m24 0h1M1 18.5h1m1 0h1M27 19.5h1M2 20.5h1m3 0h1m22 0h1m1 0h1M2 21.5h1m6 0h1M2 23.5h1m19 0h1M4 24.5h1m8 0h1m11 0h1m3 0h1m1 0h1M3 27.5h1m17 0h1m7 0h1M13 28.5h1m11 0h1M14 29.5h2m10 0h1M0 30.5h1m2 0h1m5 0h1m11 0h1M0 31.5h1m6 0h1m3 0h1m8 0h1"/><path stroke="#404588" d="M0 0.5h1m4 0h1m3 0h1m20 0h1M0 1.5h1m2 0h1m1 0h1m6 0h1m1 0h1m4 0h1m9 0h1M1 2.5h1m1 0h1m12 0h2M8 3.5h1m17 0h1m2 0h1M6 5.5h1m2 0h1m16 0h1M2 6.5h1m7 0h1m3 0h1m5 0h1m4 0h1m5 0h1M4 7.5h2m12 0h1m5 0h1m6 0h1M7 8.5h1m18 0h2M22 9.5h1m1 0h1m1 0h1m3 0h1M5 10.5h1m2 0h1m19 0h1M1 11.5h1m1 0h1m3 0h1m18 0h1m2 0h1M8 12.5h1m1 0h1m19 0h1M5 13.5h1m1 0h1m19 0h1m2 0h1M29 14.5h1M7 16.5h1m13 0h1m4 0h1m1 0h1M1 17.5h1M9 18.5h1m14 0h1M4 19.5h1m1 0h2m15 0h1m7 0h1M8 20.5h1m3 0h1M26 21.5h1m2 0h1m1 0h1M0 22.5h1m10 0h1m7 0h1m3 0h1M0 23.5h1m3 0h2m4 0h1m2 0h1m9 0h1M3 24.5h1m1 0h1m24 0h1M5 25.5h1m18 0h1M4 26.5h1m4 0h1m1 0h2m2 0h2m6 0h1M10 27.5h1m2 0h1m3 0h1M7 28.5h1m1 0h1m4 0h1m1 0h1m7 0h1m1 0h1m1 0h1M2 29.5h2m7 0h1m17 0h1M6 30.5h1m3 0h2m3 0h1m15 0h1M8 31.5h1m7 0h2"/><path stroke="#3d4d8a" d="M11 0.5h1m2 0h1m9 0h1m2 0h1M26 1.5h2M9 2.5h1m4 0h1m8 0h1M1 3.5h2m2 0h1m6 0h1m17 0h1M5 4.5h1m10 0h2m4 0h1m8 0h1M14 5.5h1m7 0h1m6 0h1M3 6.5h1m1 0h1m1 0h2m8 0h1m12 0h1M9 7.5h1m6 0h1M1 9.5h1m4 0h1m14 0h1m1 0h1m1 0h1M0 10.5h1m6 0h1m19 0h1M28 11.5h1m1 0h1M6 12.5h2m1 0h1m2 0h1m3 0h1m6 0h1m3 0h1m3 0h1M4 13.5h1m4 0h1m19 0h1M1 14.5h1m3 0h1m21 0h1M2 15.5h1m23 0h1m2 0h1M1 16.5h1m1 0h1m27 0h1M28 17.5h1m2 0h1M0 18.5h1m3 0h1m1 0h1M0 20.5h1M0 21.5h2m1 0h1m18 0h1M2 22.5h2m10 0h1m11 0h1m1 0h1M21 23.5h1m3 0h1m1 0h1M17 24.5h1m4 0h3M4 25.5h1m1 0h2m18 0h1m3 0h1M6 26.5h1m7 0h1m9 0h1m4 0h2M2 27.5h1m9 0h1m10 0h1M10 28.5h1m1 0h1m10 0h1M6 29.5h2m1 0h1m2 0h1m18 0h1M4 30.5h1m2 0h1m10 0h1m3 0h1M3 31.5h2m7 0h1m5 0h1m2 0h1m5 0h1"/><path stroke="#3a538b" d="M1 0.5h1m11 0h1m8 0h1m6 0h1M1 1.5h1m2 0h1m1 0h1m8 0h1m6 0h1m7 0h1M10 2.5h1m11 0h1m3 0h1m2 0h1M3 3.5h1m12 0h1m6 0h1M2 4.5h1m5 0h1m6 0h1m4 0h1m3 0h2M30 5.5h1M1 6.5h1m7 0h1m6 0h1m5 0h1m1 0h1M6 7.5h1m10 0h1m1 0h2m2 0h1m1 0h2M1 8.5h1m20 0h1m5 0h1M5 9.5h1m2 0h1m1 0h1m7 0h1m12 0h1M2 10.5h1m23 0h1m3 0h1M5 11.5h1m11 0h1m1 0h1M0 12.5h1m20 0h1m2 0h1m4 0h1M2 13.5h1m10 0h1m10 0h1M4 14.5h1m4 0h1M0 15.5h1m4 0h1m2 0h1m14 0h1m4 0h1m1 0h1M0 16.5h1m3 0h1M5 17.5h1M25 18.5h1m1 0h1M12 19.5h1m11 0h1M5 20.5h1m17 0h1m4 0h1M4 21.5h1m2 0h1m16 0h2M7 22.5h1M1 23.5h1M8 24.5h2M2 25.5h1m9 0h1m4 0h1m4 0h1m2 0h1m3 0h1M10 26.5h1M7 27.5h1m7 0h1m6 0h1m1 0h1m3 0h1m1 0h1M3 28.5h2m3 0h1m8 0h2m3 0h1m4 0h1m1 0h2M1 29.5h1m2 0h1m12 0h1m5 0h1m4 0h1m1 0h1M2 30.5h1m5 0h1m3 0h2m3 0h1m2 0h1m3 0h1m1 0h2M5 31.5h1m9 0h1m3 0h1m6 0h1m1 0h1"/><path stroke="#375b8d" d="M7 0.5h1M8 2.5h1m2 0h1M4 3.5h1m2 0h1m1 0h1m5 0h1m11 0h1m3 0h1M0 4.5h1m20 0h1M0 5.5h1m1 0h1m1 0h2m15 0h1m3 0h1m2 0h1M15 6.5h1m3 0h1m3 0h1m4 0h1M8 7.5h1m5 0h1m6 0h1m6 0h1M5 8.5h1m3 0h1m3 0h1m2 0h1M2 9.5h1m4 0h1m11 0h2m6 0h1m1 0h1M21 10.5h1m2 0h1M4 11.5h1m4 0h1m11 0h1m1 0h2M2 12.5h1m1 0h1m21 0h1M7 14.5h1m16 0h1M3 15.5h1M13 16.5h1m8 0h1M25 17.5h2M11 18.5h1m14 0h1m3 0h1M7 20.5h1m3 0h1m1 0h1m6 0h1m1 0h1M17 22.5h1m7 0h1m3 0h1M8 23.5h1m3 0h1m6 0h1M6 24.5h1m4 0h2m1 0h1m1 0h1m1 0h1M3 25.5h1m4 0h2m5 0h1m12 0h1m2 0h1M3 26.5h1m13 0h1m8 0h1M6 27.5h1m7 0h1m16 0h1M1 28.5h1m4 0h1m8 0h1M13 29.5h1m5 0h1m2 0h1m2 0h1M1 30.5h1m3 0h1m19 0h1M25 31.5h1m5 0h1"/><path stroke="#34618d" d="M23 0.5h1M23 1.5h1M25 2.5h1m2 0h1M10 3.5h1m8 0h1m1 0h1m6 0h1M12 4.5h1m1 0h1M13 5.5h1m2 0h1M11 6.5h1m9 0h1m4 0h1M11 8.5h1m6 0h1m1 0h2m1 0h1M19 10.5h1m2 0h1M3 12.5h1m13 0h2m1 0h1m7 0h1M6 13.5h1m1 0h1m2 0h2m10 0h1m1 0h1M8 14.5h1m12 0h1m3 0h2m3 0h1M1 15.5h1m5 0h1m1 0h1m14 0h1M2 16.5h1M6 17.5h1m17 0h1M5 18.5h1m2 0h1m20 0h1M15 19.5h1M10 20.5h1m10 0h1m4 0h1M12 21.5h1M10 22.5h1m1 0h1m3 0h1m1 0h1m3 0h1M14 23.5h1m1 0h1m7 0h1m1 0h1m1 0h1M1 24.5h1m26 0h1M13 25.5h1M7 26.5h1m14 0h1M4 27.5h2m3 0h1M27 29.5h1M29 31.5h1"/><path stroke="#31688e" d="M13 1.5h1M11 3.5h1m1 0h1M23 4.5h1m2 0h1M10 5.5h1m4 0h1M4 6.5h1M7 7.5h1M0 8.5h1m7 0h1m8 0h1m7 0h1M11 9.5h1m4 0h1M12 10.5h1M10 11.5h2M15 12.5h1m6 0h1M21 13.5h1m4 0h1M6 14.5h1m15 0h1M22 15.5h1M24 16.5h1m2 0h1M8 17.5h1M20 18.5h1M5 19.5h1m13 0h1m2 0h1m5 0h1M1 20.5h1m7 0h1m14 0h1M13 21.5h1m5 0h1M6 22.5h1M9 23.5h1m7 0h1M16 25.5h1M21 28.5h1M10 29.5h1m7 0h1m1 0h2"/><path stroke="#2e6e8e" d="M12 5.5h1M15 7.5h1M10 8.5h1m4 0h1M14 9.5h2M13 10.5h1m2 0h1M18 11.5h1M17 13.5h1m1 0h1M11 14.5h1m11 0h1M21 15.5h1M19 16.5h1m5 0h1M10 17.5h1M7 18.5h1m15 0h1M18 20.5h1M17 21.5h1m5 0h1M13 22.5h1m7 0h1M11 23.5h1m8 0h1M20 24.5h2M21 25.5h1M19 28.5h2"/><path stroke="#2b748e" d="M11 10.5h1m2 0h1m2 0h2m1 0h1M14 11.5h1M13 12.5h1M22 13.5h1M10 15.5h1M9 16.5h1m13 0h1M9 17.5h1m10 0h1m2 0h1M13 18.5h1M21 19.5h1M10 21.5h2m3 0h1m2 0h1m1 0h2M15 22.5h1m4 0h1M15 23.5h1M21 26.5h1"/><path stroke="#297b8e" d="M11 5.5h1M12 6.5h1M10 7.5h2M10 10.5h1M15 11.5h1m4 0h1M19 12.5h1M10 13.5h1m9 0h1M10 14.5h1m1 0h1m6 0h1M20 15.5h1M12 17.5h1M10 18.5h1m11 0h1M14 21.5h1m1 0h1M19 27.5h2"/><path stroke="#26818e" d="M13 4.5h1M13 6.5h1M12 7.5h1M14 8.5h1M12 9.5h2M13 11.5h1m2 0h1M16 13.5h1m1 0h1M20 14.5h1M12 15.5h1m6 0h1M13 17.5h1m5 0h1m2 0h1M12 18.5h1m1 0h1m6 0h1M11 19.5h1m8 0h1M16 20.5h1M18 23.5h1M19 25.5h1M18 26.5h1M18 27.5h1"/><path stroke="#24878e" d="M13 7.5h1M11 12.5h1M13 14.5h1M11 15.5h1M11 16.5h1m8 0h1M21 17.5h1M10 19.5h1m2 0h2M14 20.5h1m4 0h1M19 26.5h1"/><path stroke="#228d8d" d="M17 14.5h1M13 15.5h1M12 16.5h1m5 0h1M11 17.5h1M19 18.5h1M17 20.5h1M20 25.5h1"/><path stroke="#20938c" d="M14 12.5h1M15 13.5h1M15 20.5h1M18 25.5h1M20 26.5h1"/><path stroke="#1f998a" d="M12 8.5h1M19 24.5h1"/><path stroke="#1fa088" d="M18 14.5h1M16 17.5h1"/><path stroke="#21a585" d="M16 14.5h1M18 15.5h1M14 16.5h1M15 18.5h1"/><path stroke="#25ac82" d="M14 17.5h1M16 19.5h1"/><path stroke="#2db27d" d="M16 18.5h1"/><path stroke="#35b779" d="M14 13.5h1M15 16.5h1M15 17.5h1"/><path stroke="#40bd72" d="M17 15.5h1"/><path stroke="#4cc26c" d="M18 19.5h1"/><path stroke="#5ac864" d="M14 15.5h1M17 17.5h2"/><path stroke="#67cc5c" d="M16 15.5h1M18 18.5h1"/><path stroke="#77d153" d="M15 15.5h1M17 16.5h1"/><path stroke="#98d83e" d="M17 19.5h1"/><path stroke="#bade28" d="M14 14.5h2"/><path stroke="#dde318" d="M17 18.5h1"/><path stroke="#efe51c" d="M16 16.5h1"/></g></svg><svg class="p" style="left:1775.0px;top:531.0px" width="371.0" height="388.0" viewBox="0 0 16 16" preserveAspectRatio="none"><g fill="none" stroke-width="1.02"><path stroke="#460a5d" d="M1 0.5h1m13 0h1M14 1.5h1M5 2.5h1M15 3.5h1M0 6.5h1m14 0h1M0 10.5h2M1 13.5h1M11 14.5h1M2 15.5h1"/><path stroke="#482576" d="M6 0.5h1m3 0h1M0 1.5h3m1 0h1M1 2.5h2m12 0h1M1 3.5h1m3 0h1M1 4.5h2M1 5.5h1m9 0h1M1 11.5h2m2 0h1m9 0h1M13 12.5h3M3 13.5h1m7 0h1m3 0h1M1 14.5h1m12 0h1M0 15.5h1m11 0h1m1 0h2"/><path stroke="#453581" d="M3 1.5h1m2 0h1m6 0h1M12 2.5h1M13 3.5h2M3 4.5h1M14 5.5h2M2 13.5h1M15 14.5h1M3 15.5h1m9 0h1"/><path stroke="#404588" d="M2 0.5h1m8 0h1m2 0h1M15 1.5h1M0 2.5h1m3 0h1M10 3.5h1M6 4.5h1M13 6.5h2M7 7.5h1M0 8.5h1M9 9.5h1M2 10.5h2M4 11.5h1M4 12.5h1m5 0h1M0 14.5h1m3 0h1m7 0h1M1 15.5h1m8 0h1"/><path stroke="#3a538b" d="M0 0.5h1m2 0h1m1 0h1m7 0h1M7 1.5h1m2 0h3M3 2.5h1m9 0h2M12 3.5h1M12 4.5h1M2 5.5h1m9 0h1M0 7.5h1m2 0h1M0 9.5h1m12 0h1M14 11.5h1M3 12.5h1M4 13.5h1m1 0h1M2 14.5h2m9 0h1M4 15.5h3m2 0h1"/><path stroke="#34618d" d="M4 0.5h1m3 0h1m3 0h1M5 1.5h1m2 0h1M6 2.5h1m1 0h1m1 0h1M0 3.5h1m1 0h1m8 0h1M0 4.5h1m3 0h1m8 0h2M0 5.5h1m2 0h1m1 0h1m4 0h1M2 6.5h3m6 0h1M4 7.5h2m7 0h2M2 9.5h1m8 0h2M5 10.5h1m6 0h3M0 11.5h1m5 0h1m6 0h1M0 12.5h1m1 0h1m9 0h1M0 13.5h1m4 0h1m8 0h1M6 14.5h1m1 0h1m1 0h1M8 15.5h1m2 0h1"/><path stroke="#2e6e8e" d="M3 9.5h1M11 11.5h1M13 13.5h1"/><path stroke="#297b8e" d="M9 1.5h1M9 2.5h1M3 3.5h1m4 0h1M7 4.5h2m1 0h2m3 0h1M6 5.5h2M10 6.5h1M2 7.5h1m6 0h1m1 0h2m2 0h1M1 8.5h1m3 0h1m5 0h1m3 0h1M4 9.5h2M3 11.5h1m5 0h2m1 0h1M1 12.5h1m3 0h2m1 0h2M8 13.5h1M7 14.5h1M7 15.5h1"/><path stroke="#24878e" d="M7 0.5h1m1 0h1M7 2.5h1m3 0h1M4 3.5h1m1 0h1m2 0h1M5 4.5h1M4 5.5h1m8 0h1M1 6.5h1m3 0h3m4 0h1M1 7.5h1M15 10.5h1M11 12.5h1M12 13.5h1M5 14.5h1m3 0h1"/><path stroke="#20938c" d="M2 8.5h2m3 0h1m1 0h1m3 0h2M1 9.5h1m5 0h1m6 0h2M4 10.5h1m1 0h1m2 0h3M7 13.5h1m2 0h1"/><path stroke="#1fa088" d="M7 3.5h1M9 4.5h1M8 5.5h2M8 6.5h1M8 7.5h1M6 8.5h1m3 0h1M6 9.5h1m1 0h1M8 10.5h1M9 13.5h1"/><path stroke="#25ac82" d="M9 6.5h1M10 7.5h1M4 8.5h1m7 0h1M7 10.5h1M7 11.5h2M7 12.5h1"/><path stroke="#40bd72" d="M6 7.5h1M10 9.5h1"/><path stroke="#fde725" d="M8 8.5h1"/></g></svg><svg class="p" style="left:41.0px;top:1082.0px" width="372.0" height="393.0" viewBox="0 0 32 32" preserveAspectRatio="none"><g fill="none" stroke-width="1.02" filter="url(#fbC)"><path stroke="#080808" d="M-4 -3.5h12m16 0h12M-4 -2.5h13m14 0h13M-4 -1.5h13m14 0h13M-4 -0.5h13m14 0h13M-4 0.5h13m14 0h13M-4 1.5h13m14 0h13M-4 2.5h14m12 0h14M-4 3.5h13m14 0h13M-4 4.5h13m14 0h13M-4 5.5h12m16 0h12M-4 6.5h11m18 0h11M-4 7.5h10m20 0h10M-1 8.5h6m22 0h6M-1 23.5h6m22 0h6M-4 24.5h10m20 0h10M-4 25.5h11m18 0h11M-4 26.5h12m16 0h12M-4 27.5h13m14 0h13M-4 28.5h13m14 0h13M-4 29.5h14m12 0h14M-4 30.5h13m14 0h13M-4 31.5h13m14 0h13M-4 32.5h13m14 0h13M-4 33.5h13m14 0h13M-4 34.5h13m14 0h13M-4 35.5h12m16 0h12"/><path stroke="#0c0c0c" d="M8 -3.5h2m12 0h2M9 -2.5h1m12 0h1M9 -1.5h2m10 0h2M9 -0.5h2m10 0h2M9 0.5h2m10 0h2M9 1.5h2m10 0h2M10 2.5h1m10 0h1M9 3.5h2m10 0h2M9 4.5h2m10 0h2M8 5.5h3m10 0h3M7 6.5h4m10 0h4M6 7.5h5m10 0h5M-4 8.5h3m6 0h6m10 0h6m6 0h3M-2 9.5h12m12 0h12M1 10.5h8m14 0h8M1 21.5h8m14 0h8M-2 22.5h12m12 0h12M-4 23.5h3m6 0h6m10 0h6m6 0h3M6 24.5h5m10 0h5M7 25.5h4m10 0h4M8 26.5h3m10 0h3M9 27.5h2m10 0h2M9 28.5h2m10 0h2M10 29.5h1m10 0h1M9 30.5h2m10 0h2M9 31.5h2m10 0h2M9 32.5h2m10 0h2M9 33.5h2m10 0h2M9 34.5h1m12 0h1M8 35.5h2m12 0h2"/><path stroke="#101010" d="M10 -3.5h1m10 0h1M10 -2.5h2m8 0h2M11 -1.5h1m8 0h1M11 -0.5h1m8 0h1M11 0.5h1m8 0h1M11 1.5h1m8 0h1M11 2.5h1m8 0h1M11 3.5h1m8 0h1M11 4.5h1m8 0h1M11 5.5h1m8 0h1M11 6.5h2m6 0h2M11 7.5h1m8 0h1M11 8.5h1m8 0h1M-4 9.5h2m12 0h2m8 0h2m12 0h2M-2 10.5h3m8 0h3m8 0h3m8 0h3M2 11.5h9m10 0h9M2 20.5h9m10 0h9M-2 21.5h3m8 0h3m8 0h3m8 0h3M-4 22.5h2m12 0h2m8 0h2m12 0h2M11 23.5h1m8 0h1M11 24.5h1m8 0h1M11 25.5h2m6 0h2M11 26.5h1m8 0h1M11 27.5h1m8 0h1M11 28.5h1m8 0h1M11 29.5h1m8 0h1M11 30.5h1m8 0h1M11 31.5h1m8 0h1M11 32.5h1m8 0h1M11 33.5h1m8 0h1M10 34.5h2m8 0h2M10 35.5h1m10 0h1"/><path stroke="#141414" d="M11 -3.5h1m8 0h1M12 -1.5h1m6 0h1M12 -0.5h1m6 0h1M12 0.5h1m6 0h1M12 1.5h1m6 0h1M12 2.5h1m6 0h1M12 3.5h1m6 0h1M12 4.5h1m6 0h1M12 5.5h1m6 0h1M12 7.5h1m6 0h1M12 8.5h1m6 0h1M12 9.5h1m6 0h1M-4 10.5h2m14 0h1m6 0h1m14 0h2M-1 11.5h3m9 0h2m6 0h2m9 0h3M4 12.5h8m8 0h8M4 19.5h8m8 0h8M-1 20.5h3m9 0h2m6 0h2m9 0h3M-4 21.5h2m14 0h1m6 0h1m14 0h2M12 22.5h1m6 0h1M12 23.5h1m6 0h1M12 24.5h1m6 0h1M12 26.5h1m6 0h1M12 27.5h1m6 0h1M12 28.5h1m6 0h1M12 29.5h1m6 0h1M12 30.5h1m6 0h1M12 31.5h1m6 0h1M12 32.5h1m6 0h1M12 33.5h1m6 0h1M11 35.5h1m8 0h1"/><path stroke="#181818" d="M12 -3.5h1m6 0h1M12 -2.5h1m6 0h1M13 1.5h1m4 0h1M13 2.5h1m4 0h1M13 3.5h1m4 0h1M13 4.5h1m4 0h1M13 5.5h1m4 0h1M13 6.5h1m4 0h1M13 7.5h1m4 0h1M13 8.5h1m4 0h1M13 9.5h1m4 0h1M13 10.5h1m4 0h1M-3 11.5h2m14 0h1m4 0h1m14 0h2M1 12.5h3m8 0h1m6 0h1m8 0h3M8 13.5h4m8 0h4M8 18.5h4m8 0h4M1 19.5h3m8 0h1m6 0h1m8 0h3M-3 20.5h2m14 0h1m4 0h1m14 0h2M13 21.5h1m4 0h1M13 22.5h1m4 0h1M13 23.5h1m4 0h1M13 24.5h1m4 0h1M13 25.5h1m4 0h1M13 26.5h1m4 0h1M13 27.5h1m4 0h1M13 28.5h1m4 0h1M13 29.5h1m4 0h1M13 30.5h1m4 0h1M12 34.5h1m6 0h1M12 35.5h1m6 0h1"/><path stroke="#1c1c1c" d="M13 -3.5h1m4 0h1M13 -2.5h1m4 0h1M13 -1.5h1m4 0h1M13 -0.5h1m4 0h1M13 0.5h1m4 0h1M-4 11.5h1m38 0h1M-1 12.5h2m12 0h1m4 0h1m12 0h2M5 13.5h3m4 0h1m6 0h1m4 0h3M5 18.5h3m4 0h1m6 0h1m4 0h3M-1 19.5h2m12 0h1m4 0h1m12 0h2M-4 20.5h1m38 0h1M13 31.5h1m4 0h1M13 32.5h1m4 0h1M13 33.5h1m4 0h1M13 34.5h1m4 0h1M13 35.5h1m4 0h1"/><path stroke="#202020" d="M14 2.5h1m2 0h1M14 3.5h1m2 0h1M14 4.5h1m2 0h1M14 5.5h1m2 0h1M14 6.5h1m2 0h1M14 7.5h1m2 0h1M14 8.5h1m2 0h1M14 9.5h1m2 0h1M14 10.5h1m2 0h1M-4 12.5h3m34 0h3M2 13.5h3m8 0h1m4 0h1m8 0h3M2 18.5h3m8 0h1m4 0h1m8 0h3M-4 19.5h3m34 0h3M14 21.5h1m2 0h1M14 22.5h1m2 0h1M14 23.5h1m2 0h1M14 24.5h1m2 0h1M14 25.5h1m2 0h1M14 26.5h1m2 0h1M14 27.5h1m2 0h1M14 28.5h1m2 0h1M14 29.5h1m2 0h1"/><path stroke="#242424" d="M14 -3.5h1m2 0h1M14 -2.5h1m2 0h1M14 -1.5h1m2 0h1M14 -0.5h1m2 0h1M14 0.5h1m2 0h1M14 1.5h1m2 0h1M14 11.5h1m2 0h1M14 12.5h1m2 0h1M-1 13.5h3m28 0h3M7 14.5h5m8 0h5M7 17.5h5m8 0h5M-1 18.5h3m28 0h3M14 19.5h1m2 0h1M14 20.5h1m2 0h1M14 30.5h1m2 0h1M14 31.5h1m2 0h1M14 32.5h1m2 0h1M14 33.5h1m2 0h1M14 34.5h1m2 0h1M14 35.5h1m2 0h1"/><path stroke="#282828" d="M-4 13.5h3m34 0h3M2 14.5h5m5 0h1m6 0h1m5 0h5M2 17.5h5m5 0h1m6 0h1m5 0h5M-4 18.5h3m34 0h3"/><path stroke="#2d2d2d" d="M15 -3.5h2M15 -2.5h2M15 -1.5h2M15 -0.5h2M15 0.5h2M15 1.5h2M15 2.5h2M15 3.5h2M15 4.5h2M15 5.5h2M15 6.5h2M15 7.5h2M15 8.5h2M15 9.5h2M15 10.5h2M14 13.5h1m2 0h1M-3 14.5h5m28 0h5M-3 17.5h5m28 0h5M14 18.5h1m2 0h1M15 21.5h2M15 22.5h2M15 23.5h2M15 24.5h2M15 25.5h2M15 26.5h2M15 27.5h2M15 28.5h2M15 29.5h2M15 30.5h2M15 31.5h2M15 32.5h2M15 33.5h2M15 34.5h2M15 35.5h2"/><path stroke="#313131" d="M15 11.5h2M15 12.5h2M-4 14.5h1m16 0h1m4 0h1m16 0h1M-3 15.5h14m10 0h14M-3 16.5h14m10 0h14M-4 17.5h1m16 0h1m4 0h1m16 0h1M15 19.5h2M15 20.5h2"/><path stroke="#353535" d="M-4 15.5h1m14 0h1m8 0h1m14 0h1M-4 16.5h1m14 0h1m8 0h1m14 0h1"/><path stroke="#393939" d="M15 13.5h2M15 18.5h2"/><path stroke="#414141" d="M14 14.5h1m2 0h1M12 15.5h1m6 0h1M12 16.5h1m6 0h1M14 17.5h1m2 0h1"/><path stroke="#555555" d="M15 14.5h2M13 15.5h1m4 0h1M13 16.5h1m4 0h1M15 17.5h2"/><path stroke="#717171" d="M14 15.5h1m2 0h1M14 16.5h1m2 0h1"/><path stroke="#929292" d="M15 15.5h2M15 16.5h2"/></g><g filter="url(#fsC)" style="mix-blend-mode:lighten"><rect x="15.902" y="0.00" width="0.516" height="32.00" fill="#333333"/><ellipse cx="16.160" cy="16.000" rx="0.774" ry="0.244" fill="#949494"/><ellipse cx="16.160" cy="16.000" rx="0.344" ry="0.122" fill="#b2b2b2"/></g></svg><svg class="p" style="left:476.0px;top:1082.0px" width="372.0" height="393.0" viewBox="0 0 32 32" preserveAspectRatio="none"><g fill="none" stroke-width="1.02" filter="url(#fbA)"><path stroke="#313131" d="M-4 -3.5h18m4 0h18M-4 -2.5h1m38 0h1M-4 -1.5h1m38 0h1M-4 -0.5h1m38 0h1M-4 0.5h1m38 0h1M-4 1.5h1m38 0h1M-4 2.5h1m38 0h1M-4 3.5h1m38 0h1M-4 4.5h1m38 0h1M-4 5.5h1m38 0h1M-4 6.5h1m38 0h1M-4 7.5h1m38 0h1M-4 8.5h1m38 0h1M-4 9.5h1m38 0h1M-4 10.5h1m38 0h1M-4 11.5h1m38 0h1M-4 12.5h1m38 0h1M-4 13.5h1m38 0h1M-4 14.5h1m38 0h1M-4 15.5h1m38 0h1M-4 16.5h1m38 0h1M-4 17.5h1m38 0h1M-4 18.5h1m38 0h1M-4 19.5h1m38 0h1M-4 20.5h1m38 0h1M-4 21.5h1m38 0h1M-4 22.5h1m38 0h1M-4 23.5h1m38 0h1M-4 24.5h1m38 0h1M-4 25.5h1m38 0h1M-4 26.5h1m38 0h1M-4 27.5h1m38 0h1M-4 28.5h1m38 0h1M-4 29.5h1m38 0h1M-4 30.5h1m38 0h1M-4 31.5h1m38 0h1M-4 32.5h1m38 0h1M-4 33.5h1m38 0h1M-4 34.5h1m38 0h1M-4 35.5h18m4 0h18"/><path stroke="#353535" d="M-3 -2.5h17m4 0h17M-3 -1.5h16m6 0h16M-3 -0.5h2m34 0h2M-3 0.5h2m34 0h2M-3 1.5h2m34 0h2M-3 2.5h2m34 0h2M-3 3.5h2m34 0h2M-3 4.5h2m34 0h2M-3 5.5h2m34 0h2M-3 6.5h2m34 0h2M-3 7.5h2m34 0h2M-3 8.5h2m34 0h2M-3 9.5h2m34 0h2M-3 10.5h2m34 0h2M-3 11.5h2m34 0h2M-3 12.5h2m34 0h2M-3 13.5h2m34 0h2M-3 14.5h2m34 0h2M-3 15.5h2m34 0h2M-3 16.5h2m34 0h2M-3 17.5h2m34 0h2M-3 18.5h2m34 0h2M-3 19.5h2m34 0h2M-3 20.5h2m34 0h2M-3 21.5h2m34 0h2M-3 22.5h2m34 0h2M-3 23.5h2m34 0h2M-3 24.5h2m34 0h2M-3 25.5h2m34 0h2M-3 26.5h2m34 0h2M-3 27.5h2m34 0h2M-3 28.5h2m34 0h2M-3 29.5h2m34 0h2M-3 30.5h2m34 0h2M-3 31.5h2m34 0h2M-3 32.5h2m34 0h2M-3 33.5h16m6 0h16M-3 34.5h17m4 0h17"/><path stroke="#393939" d="M14 -3.5h1m2 0h1M13 -1.5h1m4 0h1M-1 -0.5h15m4 0h15M-1 0.5h14m6 0h14M-1 1.5h2m30 0h2M-1 2.5h2m30 0h2M-1 3.5h2m30 0h2M-1 4.5h2m30 0h2M-1 5.5h2m30 0h2M-1 6.5h2m30 0h2M-1 7.5h2m30 0h2M-1 8.5h2m30 0h2M-1 9.5h2m30 0h2M-1 10.5h2m30 0h2M-1 11.5h2m30 0h2M-1 12.5h2m30 0h2M-1 13.5h2m30 0h2M-1 14.5h2m30 0h2M-1 15.5h2m30 0h2M-1 16.5h2m30 0h2M-1 17.5h2m30 0h2M-1 18.5h2m30 0h2M-1 19.5h2m30 0h2M-1 20.5h2m30 0h2M-1 21.5h2m30 0h2M-1 22.5h2m30 0h2M-1 23.5h2m30 0h2M-1 24.5h2m30 0h2M-1 25.5h2m30 0h2M-1 26.5h2m30 0h2M-1 27.5h2m30 0h2M-1 28.5h2m30 0h2M-1 29.5h2m30 0h2M-1 30.5h2m30 0h2M-1 31.5h14m6 0h14M-1 32.5h15m4 0h15M13 33.5h1m4 0h1M14 35.5h1m2 0h1"/><path stroke="#3d3d3d" d="M14 -2.5h1m2 0h1M14 -1.5h1m2 0h1M13 0.5h1m4 0h1M1 1.5h13m4 0h13M1 2.5h13m4 0h13M1 3.5h12m6 0h12M1 4.5h3m24 0h3M1 5.5h3m24 0h3M1 6.5h3m24 0h3M1 7.5h3m24 0h3M1 8.5h3m24 0h3M1 9.5h2m26 0h2M1 10.5h2m26 0h2M1 11.5h2m26 0h2M1 12.5h2m26 0h2M1 13.5h2m26 0h2M1 14.5h2m26 0h2M1 15.5h2m26 0h2M1 16.5h2m26 0h2M1 17.5h2m26 0h2M1 18.5h2m26 0h2M1 19.5h2m26 0h2M1 20.5h2m26 0h2M1 21.5h2m26 0h2M1 22.5h2m26 0h2M1 23.5h3m24 0h3M1 24.5h3m24 0h3M1 25.5h3m24 0h3M1 26.5h3m24 0h3M1 27.5h3m24 0h3M1 28.5h12m6 0h12M1 29.5h13m4 0h13M1 30.5h13m4 0h13M13 31.5h1m4 0h1M14 33.5h1m2 0h1M14 34.5h1m2 0h1"/><path stroke="#414141" d="M14 -0.5h1m2 0h1M14 0.5h1m2 0h1M13 3.5h1m4 0h1M4 4.5h10m4 0h10M4 5.5h9m6 0h9M4 6.5h2m20 0h2M4 7.5h2m20 0h2M4 8.5h2m20 0h2M3 9.5h3m20 0h3M3 10.5h2m22 0h2M3 11.5h2m22 0h2M3 12.5h2m22 0h2M3 13.5h2m22 0h2M3 14.5h1m24 0h1M3 15.5h1m24 0h1M3 16.5h1m24 0h1M3 17.5h1m24 0h1M3 18.5h2m22 0h2M3 19.5h2m22 0h2M3 20.5h2m22 0h2M3 21.5h2m22 0h2M3 22.5h3m20 0h3M4 23.5h2m20 0h2M4 24.5h2m20 0h2M4 25.5h2m20 0h2M4 26.5h9m6 0h9M4 27.5h10m4 0h10M13 28.5h1m4 0h1M14 31.5h1m2 0h1M14 32.5h1m2 0h1"/><path stroke="#454545" d="M15 -3.5h2M15 -2.5h2M14 1.5h1m2 0h1M14 2.5h1m2 0h1M14 3.5h1m2 0h1M13 5.5h1m4 0h1M6 6.5h8m4 0h8M6 7.5h7m6 0h7M6 8.5h1m18 0h1M6 9.5h1m18 0h1M5 10.5h2m18 0h2M5 11.5h2m18 0h2M5 12.5h1m20 0h1M5 13.5h1m20 0h1M4 14.5h2m20 0h2M4 15.5h2m20 0h2M4 16.5h2m20 0h2M4 17.5h2m20 0h2M5 18.5h1m20 0h1M5 19.5h1m20 0h1M5 20.5h2m18 0h2M5 21.5h2m18 0h2M6 22.5h1m18 0h1M6 23.5h1m18 0h1M6 24.5h7m6 0h7M6 25.5h8m4 0h8M13 26.5h1m4 0h1M14 28.5h1m2 0h1M14 29.5h1m2 0h1M14 30.5h1m2 0h1M15 34.5h2M15 35.5h2"/><path stroke="#494949" d="M15 -1.5h2M15 -0.5h2M14 4.5h1m2 0h1M14 5.5h1m2 0h1M13 7.5h1m4 0h1M7 8.5h7m4 0h7M7 9.5h2m14 0h2M7 10.5h2m14 0h2M7 11.5h1m16 0h1M6 12.5h2m16 0h2M6 13.5h1m18 0h1M6 14.5h1m18 0h1M6 15.5h1m18 0h1M6 16.5h1m18 0h1M6 17.5h1m18 0h1M6 18.5h1m18 0h1M6 19.5h2m16 0h2M7 20.5h1m16 0h1M7 21.5h2m14 0h2M7 22.5h2m14 0h2M7 23.5h7m4 0h7M13 24.5h1m4 0h1M14 26.5h1m2 0h1M14 27.5h1m2 0h1M15 32.5h2M15 33.5h2"/><path stroke="#4d4d4d" d="M15 0.5h2M15 1.5h2M14 6.5h1m2 0h1M14 7.5h1m2 0h1M9 9.5h5m4 0h5M9 10.5h1m12 0h1M8 11.5h1m14 0h1M8 12.5h1m14 0h1M7 13.5h2m14 0h2M7 14.5h1m16 0h1M7 15.5h1m16 0h1M7 16.5h1m16 0h1M7 17.5h1m16 0h1M7 18.5h2m14 0h2M8 19.5h1m14 0h1M8 20.5h1m14 0h1M9 21.5h1m12 0h1M9 22.5h5m4 0h5M14 24.5h1m2 0h1M14 25.5h1m2 0h1M15 30.5h2M15 31.5h2"/><path stroke="#515151" d="M15 2.5h2M15 3.5h2M15 4.5h2M14 8.5h1m2 0h1M10 10.5h1m1 0h1m6 0h1m1 0h1M9 11.5h1m12 0h1M9 12.5h1m12 0h1M9 13.5h1m12 0h1M8 14.5h1m14 0h1M8 15.5h1m14 0h1M8 16.5h1m14 0h1M8 17.5h1m14 0h1M9 18.5h1m12 0h1M9 19.5h1m12 0h1M9 20.5h1m12 0h1M10 21.5h1m1 0h1m6 0h1m1 0h1M14 23.5h1m2 0h1M15 27.5h2M15 28.5h2M15 29.5h2"/><path stroke="#555555" d="M15 5.5h2M15 6.5h2M14 9.5h1m2 0h1M11 10.5h1m1 0h1m4 0h1m1 0h1M10 11.5h1m10 0h1M10 12.5h1m10 0h1M10 13.5h1m10 0h1M9 14.5h1m12 0h1M9 15.5h1m12 0h1M9 16.5h1m12 0h1M9 17.5h1m12 0h1M10 18.5h1m10 0h1M10 19.5h1m10 0h1M10 20.5h1m10 0h1M11 21.5h1m1 0h1m4 0h1m1 0h1M14 22.5h1m2 0h1M15 25.5h2M15 26.5h2"/><path stroke="#595959" d="M15 7.5h2M14 10.5h1m2 0h1M11 11.5h3m4 0h3M10 14.5h1m10 0h1M10 15.5h1m10 0h1M10 16.5h1m10 0h1M10 17.5h1m10 0h1M11 20.5h3m4 0h3M14 21.5h1m2 0h1M15 24.5h2"/><path stroke="#5d5d5d" d="M15 8.5h2M11 12.5h1m8 0h1M11 13.5h1m8 0h1M11 14.5h1m8 0h1M11 17.5h1m8 0h1M11 18.5h1m8 0h1M11 19.5h1m8 0h1M15 23.5h2"/><path stroke="#616161" d="M15 9.5h2M14 11.5h1m2 0h1M12 12.5h2m4 0h2M11 15.5h1m8 0h1M11 16.5h1m8 0h1M12 19.5h2m4 0h2M14 20.5h1m2 0h1M15 22.5h2"/><path stroke="#656565" d="M15 10.5h2M12 13.5h1m6 0h1M12 14.5h1m6 0h1M12 17.5h1m6 0h1M12 18.5h1m6 0h1M15 21.5h2"/><path stroke="#696969" d="M15 11.5h2M14 12.5h1m2 0h1M13 13.5h1m4 0h1M12 15.5h1m6 0h1M12 16.5h1m6 0h1M13 18.5h1m4 0h1M14 19.5h1m2 0h1M15 20.5h2"/><path stroke="#717171" d="M15 12.5h2M14 13.5h1m2 0h1M13 14.5h1m4 0h1M13 17.5h1m4 0h1M14 18.5h1m2 0h1M15 19.5h2"/><path stroke="#757575" d="M13 15.5h1m4 0h1M13 16.5h1m4 0h1"/><path stroke="#7d7d7d" d="M15 13.5h2M15 18.5h2"/><path stroke="#828282" d="M14 14.5h1m2 0h1M14 17.5h1m2 0h1"/><path stroke="#8a8a8a" d="M14 15.5h1m2 0h1M14 16.5h1m2 0h1"/><path stroke="#8e8e8e" d="M15 14.5h2M15 17.5h2"/><path stroke="#9e9e9e" d="M15 15.5h2M15 16.5h2"/></g><g filter="url(#fsA)" style="mix-blend-mode:lighten"><rect x="0.00" y="16.038" width="32.00" height="0.244" fill="#949494"/><rect x="14.388" y="0.00" width="0.344" height="32.00" fill="#666666"/><rect x="17.588" y="0.00" width="0.344" height="32.00" fill="#666666"/><ellipse cx="16.160" cy="16.160" rx="1.032" ry="0.244" fill="#bfbfbf"/><ellipse cx="16.160" cy="16.160" rx="0.430" ry="0.163" fill="#ebebeb"/></g></svg><svg class="p" style="left:912.0px;top:1082.0px" width="371.5" height="393.0" viewBox="0 0 64 64" preserveAspectRatio="none"><g fill="none" stroke-width="1.02"><path stroke="#453581" d="M11 0.5h1m8 0h1m8 0h1m6 0h1m11 0h1M37 1.5h1M10 2.5h1M17 3.5h1m5 0h1m37 0h1M20 4.5h1m4 0h1m30 0h1M23 5.5h1m1 0h1m36 0h1M16 6.5h1m41 0h1M43 7.5h1m18 0h1M30 8.5h1M4 12.5h1m58 0h1M4 16.5h1M59 17.5h1M4 19.5h1m3 0h1m53 0h1M4 20.5h2M3 22.5h1M3 30.5h1M3 31.5h1M2 33.5h1M6 34.5h1M57 39.5h1M56 41.5h1M57 43.5h1m1 0h1M1 44.5h1M59 45.5h1M9 47.5h1m48 0h1M1 51.5h1M1 53.5h1m4 0h1m1 0h1M0 55.5h1m34 0h1M18 56.5h1M31 57.5h1m17 0h1m3 0h1m9 0h1M28 58.5h1m26 0h1M58 59.5h1M1 61.5h1m4 0h1m9 0h1M12 62.5h1m50 0h1M3 63.5h1m17 0h1"/><path stroke="#433d84" d="M16 1.5h1m26 0h1M15 2.5h1m27 0h1m15 0h1M43 4.5h1M15 5.5h1M0 6.5h1m5 0h1M57 11.5h1M6 12.5h1m32 0h2m10 0h1M31 13.5h1m16 0h1m11 0h1M29 14.5h1m3 0h1m10 0h1M48 17.5h1m13 0h1M59 18.5h1M10 19.5h1m13 0h1M18 20.5h1m23 0h1M10 21.5h1m36 0h1M19 22.5h1M48 23.5h1M8 27.5h1m43 0h1M4 29.5h1m1 0h1m41 0h2M51 31.5h1M15 34.5h1M10 36.5h1m1 0h1M15 37.5h1M52 39.5h1M12 40.5h1m4 0h1m33 0h1m6 0h1M52 42.5h1M15 44.5h1M11 45.5h1m12 0h1M47 46.5h1m2 0h1m3 0h1M18 48.5h1m5 0h1M2 49.5h1M6 50.5h1m11 0h1m18 0h1M44 51.5h1m4 0h1M5 53.5h1m4 0h1m2 0h1m17 0h1m31 0h1M25 54.5h1m9 0h1m26 0h1M60 55.5h1M33 56.5h1M62 58.5h1M51 59.5h1M6 60.5h1m4 0h1m40 0h1M15 61.5h1M31 63.5h1"/><path stroke="#404588" d="M38 0.5h1m4 0h1M11 1.5h1m48 0h1M3 2.5h1M4 3.5h1m52 0h1M3 4.5h1m45 0h1M29 5.5h1m4 0h1M23 6.5h1m18 0h1m4 0h1M20 7.5h1M9 9.5h1m51 0h1M7 10.5h1m42 0h1m9 0h1M17 11.5h1m43 0h1M22 13.5h1m40 0h1M34 14.5h1m4 0h1m17 0h1M23 15.5h1m17 0h1M9 16.5h1m17 0h1m2 0h1m32 0h1M2 17.5h1M28 18.5h1m7 0h1m21 0h1M34 20.5h1M26 21.5h1m12 0h1m11 0h1M24 22.5h1M53 25.5h1M63 28.5h1M1 29.5h1M0 30.5h1M45 31.5h1M44 34.5h1m7 0h1M0 35.5h1M45 38.5h1M2 39.5h1m39 0h1M60 40.5h1M56 42.5h1m5 0h1M20 44.5h1m6 0h1m9 0h1M25 45.5h1m27 0h1M30 46.5h1m2 0h1m18 0h1M26 49.5h1M0 51.5h1m16 0h1m13 0h1M20 52.5h1M22 53.5h1M27 54.5h1M15 55.5h1m47 0h1M38 56.5h1M0 57.5h1m33 0h1M1 59.5h1m45 0h1m15 0h1M0 61.5h1m37 0h1M38 62.5h1m2 0h1M2 63.5h1m54 0h1"/><path stroke="#3d4d8a" d="M0 0.5h1m11 0h1m5 0h1m21 0h1m3 0h1M46 1.5h1m11 0h2m2 0h1M5 4.5h1M9 5.5h1m43 0h1M14 7.5h1M50 8.5h1M33 9.5h1m17 0h2m3 0h1M1 10.5h1m18 0h1M7 11.5h1m13 0h1m3 0h1m28 0h1M1 12.5h1m20 0h1m30 0h1M27 13.5h1m12 0h1M1 14.5h1m24 0h1M1 15.5h1M17 17.5h1m31 0h1m5 0h1M58 19.5h1M13 21.5h1m42 0h1m2 0h1M11 23.5h1m37 0h1m4 0h1m4 0h1M16 25.5h1m8 0h1M13 26.5h1m34 0h1M5 27.5h1m38 0h1M10 28.5h1m4 0h1M41 30.5h1m19 0h1M44 33.5h1M50 34.5h1M13 35.5h1M49 36.5h1m5 0h1M58 37.5h1M6 39.5h1m42 0h1m4 0h1m4 0h1M1 41.5h1m3 0h1m27 0h1M11 42.5h1m9 0h1m13 0h1M13 43.5h1m19 0h1M9 44.5h1m36 0h1M4 45.5h1m50 0h1M11 46.5h1m50 0h1M23 47.5h1m18 0h1M25 48.5h1M2 51.5h1m31 0h1m5 0h1M0 52.5h1m53 0h1M6 54.5h1m5 0h1m23 0h1M23 55.5h2m14 0h1M21 56.5h2m19 0h2M2 57.5h1m42 0h1M22 59.5h1m4 0h1m21 0h1M31 60.5h1M36 61.5h1M33 62.5h1m19 0h1M1 63.5h1m42 0h1"/><path stroke="#3a538b" d="M41 0.5h1M0 1.5h1m39 0h1m16 0h1M5 2.5h1M36 3.5h1m16 0h1M13 5.5h1m4 0h1m19 0h1m9 0h1M2 7.5h1m5 0h1m1 0h1m13 0h1m14 0h1m12 0h1M2 8.5h2m38 0h1M23 9.5h1m39 0h1M24 11.5h1m24 0h1M0 12.5h1M6 14.5h1m31 0h1M58 15.5h1M40 16.5h1M8 17.5h1M17 19.5h1M11 20.5h1M16 21.5h1m2 0h1m1 0h1M17 23.5h1m22 0h1m1 0h1m2 0h1M6 25.5h1m20 0h1m21 0h1M23 26.5h1m34 0h1M3 27.5h1m35 0h1m17 0h1M3 28.5h1M50 29.5h1M48 31.5h1M53 34.5h1M11 35.5h1m28 0h1m13 0h1M7 36.5h1M49 37.5h1M16 39.5h1m29 0h1m3 0h1m2 0h1m6 0h1M27 40.5h1m3 0h1M12 41.5h1M18 42.5h1m32 0h1M9 43.5h1M4 44.5h1m33 0h1M63 46.5h1M30 47.5h1M62 48.5h1M61 49.5h1M3 51.5h1M17 52.5h1m19 0h1m19 0h1M25 53.5h1m10 0h1m5 0h1M1 55.5h1m1 0h1m21 0h1M10 56.5h1m50 0h1M36 57.5h1m4 0h1m1 0h1M2 58.5h1M11 59.5h1m29 0h1m4 0h1M1 60.5h1m27 0h1m14 0h1M9 61.5h1m14 0h1m5 0h1M56 62.5h1M23 63.5h1m35 0h1m1 0h1"/><path stroke="#375b8d" d="M13 0.5h1M33 1.5h1M2 2.5h1m21 0h1M12 3.5h1M8 4.5h1m14 0h1m20 0h1M8 5.5h1m17 0h1m9 0h1m13 0h1M27 6.5h1m2 0h1m10 0h1m3 0h1M29 7.5h1m19 0h1M15 8.5h1m32 0h1m5 0h1M17 9.5h1m16 0h1m19 0h1M16 10.5h1m10 0h1m1 0h1m18 0h1m9 0h1M28 11.5h1m7 0h1m13 0h1M2 12.5h1m39 0h1m2 0h1M26 13.5h1m28 0h1M8 14.5h1m15 0h1M2 15.5h1m14 0h1m30 0h1m13 0h1M60 16.5h1M19 17.5h1M53 18.5h1M2 19.5h1M1 20.5h1M34 21.5h1m9 0h1m10 0h1M40 22.5h1m17 0h1M20 23.5h1m36 0h1M56 24.5h1M1 25.5h2m16 0h1M16 26.5h1m42 0h1M9 27.5h1m26 0h1m17 0h1m1 0h1M45 28.5h1M5 29.5h1m18 0h1m19 0h1m13 0h1M6 31.5h1m2 0h1m39 0h1M11 33.5h1m7 0h1m6 0h1M16 34.5h1m4 0h1m33 0h2M45 35.5h1m4 0h1m5 0h1m2 0h1m3 0h1M1 36.5h1m52 0h1m7 0h1M25 37.5h1m15 0h1M48 38.5h1M23 39.5h1m10 0h1M45 42.5h1m2 0h1m5 0h1M4 43.5h1m16 0h1M3 44.5h1m8 0h1m6 0h1m8 0h1M13 45.5h1m13 0h1m21 0h1M8 46.5h1m50 0h1M17 47.5h1m7 0h1m5 0h1m31 0h1M22 48.5h1m10 0h1m5 0h1m5 0h1m7 0h2M35 51.5h2m15 0h1M55 52.5h1M24 53.5h1M0 54.5h1m23 0h1m23 0h1M13 55.5h1m13 0h1m20 0h1M8 57.5h1m41 0h1M31 58.5h1m19 0h1m2 0h1M24 59.5h1m23 0h1M17 60.5h1m9 0h1m13 0h1m21 0h1M2 61.5h1m44 0h1M17 62.5h2m24 0h1M6 63.5h1m4 0h1m29 0h1m3 0h1m7 0h1"/><path stroke="#34618d" d="M5 0.5h2m16 0h1m3 0h1m11 0h1m12 0h2M29 1.5h1m25 0h1M36 2.5h1m25 0h1M18 3.5h1m36 0h1M4 4.5h1m7 0h1m13 0h1m6 0h1m24 0h1m1 0h1M19 5.5h1m10 0h1m6 0h1m2 0h1M13 6.5h1m11 0h1m29 0h1m5 0h1M42 7.5h1m17 0h1M17 8.5h1m29 0h1M6 10.5h1m5 0h1m8 0h1m11 0h1m1 0h1M0 11.5h1m1 0h1m8 0h2m9 0h1M20 12.5h1m14 0h1m11 0h1M2 13.5h1m9 0h1m5 0h1m2 0h1m19 0h1M5 14.5h1m45 0h1m8 0h1M22 15.5h1m6 0h1m19 0h1M35 16.5h2m9 0h1M14 17.5h1m9 0h1m38 0h1M9 18.5h1m7 0h1m30 0h1M26 19.5h1m12 0h1m5 0h1m1 0h1m11 0h1M8 20.5h1m6 0h1m19 0h1m2 0h1M2 21.5h1m4 0h1m52 0h1m1 0h1M5 22.5h1m42 0h1M0 23.5h1m14 0h1M11 24.5h1m21 0h1m13 0h1M8 25.5h1m5 0h1m32 0h1m3 0h1M27 26.5h1M11 27.5h1m4 0h1m32 0h1M2 28.5h1m6 0h1M2 29.5h1m4 0h3m52 0h1M5 30.5h1m37 0h1m8 0h1M10 31.5h1m45 0h1M39 33.5h1m20 0h1M7 34.5h1m5 0h1m26 0h1m7 0h1M5 35.5h1m14 0h1m10 0h1m26 0h1M14 36.5h1m43 0h1M9 37.5h1m4 0h1m37 0h1m8 0h1M14 38.5h1m29 0h1m2 0h1M15 39.5h1m5 0h1M4 40.5h1m34 0h1M3 41.5h1m7 0h1m37 0h1M29 42.5h1m30 0h1M7 43.5h1m4 0h1m34 0h1m2 0h1m9 0h3M25 44.5h1m22 0h1m4 0h1m1 0h1M7 45.5h1m44 0h1m4 0h1M43 46.5h1m1 0h1M0 47.5h1m10 0h1m3 0h1m45 0h1M12 48.5h1m3 0h1m4 0h1m36 0h1m1 0h1m2 0h1M33 49.5h1m18 0h1M2 50.5h1m4 0h1m50 0h1M8 51.5h1m10 0h1m10 0h1m6 0h1m8 0h1M5 52.5h1m25 0h1m11 0h1M2 53.5h1m1 0h1m14 0h1m6 0h1m6 0h1M42 54.5h1m15 0h1m2 0h1M6 55.5h1m3 0h1m6 0h1m28 0h1m11 0h1M16 56.5h1m6 0h1m1 0h2M17 57.5h1m4 0h1m7 0h1m16 0h1M3 58.5h1m2 0h3m5 0h1m4 0h2m27 0h1M35 59.5h1m9 0h1m9 0h1m6 0h1M2 60.5h1m45 0h1M25 61.5h1m2 0h2m16 0h1m5 0h1m2 0h1M1 62.5h1m1 0h1m5 0h1m14 0h1m1 0h1m4 0h1m8 0h1M25 63.5h1m7 0h1m20 0h1m7 0h1"/><path stroke="#31688e" d="M28 0.5h1m22 0h1m4 0h2m2 0h1M2 1.5h2m10 0h1m2 0h1m7 0h1m13 0h1m1 0h2m2 0h1m3 0h1M11 2.5h1m1 0h1m15 0h1m12 0h1m15 0h1M22 3.5h1m1 0h1m4 0h1m5 0h1m6 0h1m4 0h1M16 4.5h1m2 0h1m17 0h2m1 0h2m3 0h1m17 0h1M5 5.5h1m4 0h1m11 0h1m35 0h1M9 6.5h1m11 0h1m13 0h2m3 0h1m3 0h1m6 0h1M15 7.5h1m7 0h1m24 0h1m1 0h1m6 0h1M16 8.5h1m18 0h2m9 0h1m2 0h1M3 9.5h1m1 0h1M18 10.5h1m17 0h1m20 0h1M6 11.5h1m2 0h1m6 0h1m14 0h1m8 0h1m1 0h1m3 0h1m6 0h1M24 12.5h1m23 0h1m9 0h1M5 13.5h1m2 0h1m5 0h1m13 0h1m13 0h1m2 0h1m10 0h1m2 0h1M12 14.5h1M30 15.5h2m25 0h1M18 16.5h1m28 0h1M0 17.5h1m36 0h1m16 0h1m1 0h1M6 18.5h1m18 0h1m4 0h1m18 0h1M9 19.5h1m26 0h1m1 0h1M14 20.5h1m22 0h1M6 21.5h1m50 0h1M57 22.5h1m5 0h1M2 23.5h1m15 0h1m20 0h1M1 24.5h1m16 0h1m38 0h1M12 25.5h1m10 0h1m9 0h1M1 26.5h1m2 0h1m3 0h1m1 0h1m15 0h1m7 0h1M50 27.5h1M19 28.5h1m23 0h1m5 0h1m11 0h1M12 29.5h1m3 0h1m3 0h2m1 0h1m21 0h1m7 0h1M12 31.5h1m5 0h1M6 33.5h1m26 0h1m9 0h1m4 0h1m13 0h1M4 34.5h1m14 0h1m9 0h1M19 35.5h1m1 0h1m4 0h1m21 0h1m8 0h1M2 36.5h1m6 0h1M11 37.5h1m1 0h1M16 38.5h1m1 0h1m27 0h1m12 0h1M1 39.5h1m9 0h1m6 0h1m24 0h1M0 40.5h1m14 0h1m6 0h1m19 0h1m16 0h1M4 41.5h1m5 0h1m15 0h1m4 0h1m14 0h1m13 0h1m1 0h1M5 42.5h1m10 0h1m19 0h1M25 43.5h1m4 0h1m6 0h1M52 44.5h1m6 0h2M2 45.5h1m17 0h1m12 0h1m7 0h2m11 0h1M1 46.5h1m1 0h1m14 0h1m10 0h1m1 0h1m14 0h1M1 47.5h1m2 0h1m2 0h1m5 0h1m10 0h1m16 0h1m5 0h1m9 0h1m4 0h1M23 48.5h1m4 0h1m7 0h1m3 0h1m6 0h1M6 49.5h1m3 0h1m14 0h1m1 0h2m8 0h1m19 0h1m4 0h1M1 50.5h1m29 0h1m10 0h1m2 0h1m5 0h1m3 0h1M4 51.5h1m10 0h1m38 0h1m5 0h1m2 0h1M23 52.5h1M17 53.5h1m11 0h1m17 0h1M3 54.5h1m3 0h1m10 0h1M29 55.5h1m13 0h1m3 0h1m3 0h1m3 0h1M1 56.5h1m22 0h1m12 0h1m2 0h1m15 0h1M3 57.5h1m9 0h1m9 0h1m15 0h1m19 0h1m1 0h1M9 58.5h2m22 0h2m10 0h1m11 0h1M3 59.5h1m4 0h1m28 0h1m23 0h1M3 60.5h1m10 0h1m8 0h1m18 0h1m10 0h1m3 0h1M4 61.5h1m2 0h1m18 0h1m16 0h1m13 0h1m2 0h1M2 62.5h1m11 0h1m24 0h1m11 0h1M17 63.5h1m33 0h2m2 0h2m6 0h1"/><path stroke="#2e6e8e" d="M2 0.5h1m55 0h1M4 1.5h1m2 0h2m10 0h2m1 0h1m1 0h1m1 0h1m8 0h1m8 0h1m6 0h2M12 2.5h1m3 0h1m20 0h1m10 0h1m1 0h1m2 0h1M11 3.5h1m14 0h1m4 0h1m27 0h1M15 4.5h1m1 0h1m16 0h1m17 0h1m4 0h1M24 5.5h1m2 0h1m17 0h1m8 0h1m4 0h1m3 0h1M10 6.5h1m13 0h1m1 0h1m6 0h1m15 0h1M0 7.5h2m9 0h1m6 0h1m6 0h1m4 0h2m1 0h1m3 0h1m21 0h1m3 0h1M8 8.5h1m25 0h1m24 0h1M10 9.5h1m1 0h1m24 0h1m4 0h1m3 0h1m1 0h1m6 0h1M3 10.5h1m1 0h1m22 0h1m5 0h1m14 0h1M5 11.5h1m4 0h1m18 0h1m3 0h1m7 0h1m5 0h1m10 0h1M33 12.5h1m26 0h1M23 13.5h1m1 0h1m3 0h1m22 0h1M13 14.5h1m5 0h1m16 0h1m9 0h1m7 0h1M3 15.5h1m4 0h1m10 0h1m4 0h1m15 0h1m12 0h1M6 16.5h1m1 0h1m34 0h1m11 0h2M20 17.5h1m10 0h1m6 0h1m6 0h1m4 0h1M7 18.5h2m9 0h1m5 0h1m16 0h1m3 0h1m8 0h1M0 19.5h1m6 0h1m17 0h1m7 0h1m6 0h1m5 0h1m1 0h1M30 20.5h1m13 0h1m4 0h3M0 21.5h1m7 0h1m39 0h1M8 22.5h1m21 0h1m6 0h1m16 0h1m1 0h1m2 0h1M56 23.5h1M9 24.5h1m13 0h1m13 0h1m3 0h2m8 0h1m1 0h1M7 25.5h1m12 0h1m37 0h1m1 0h1M29 26.5h1m9 0h1m5 0h1m5 0h1m9 0h1M7 27.5h1m19 0h1m20 0h1M50 28.5h1m1 0h1m1 0h1m1 0h1m3 0h1M15 29.5h1m14 0h1m24 0h1M17 30.5h1m15 0h1M1 31.5h1m11 0h1m6 0h1m26 0h1m6 0h1m2 0h2m2 0h1M5 33.5h1m24 0h1m15 0h2m9 0h1M0 34.5h1m11 0h1m1 0h1m44 0h1M4 35.5h1m39 0h1m8 0h1M5 36.5h1m44 0h1M0 37.5h1m1 0h1m1 0h1m49 0h1m8 0h1M0 38.5h1m6 0h1m4 0h1m2 0h1m4 0h1m2 0h1m10 0h1m15 0h1m7 0h1M0 39.5h1m29 0h1m25 0h1m1 0h1m4 0h1M1 40.5h3m15 0h1m23 0h1M22 41.5h1m24 0h1m2 0h4m5 0h1M7 42.5h2m46 0h1m7 0h1M20 43.5h1m25 0h1m16 0h1M11 44.5h1m38 0h1M3 45.5h1m5 0h1m20 0h1m8 0h1m16 0h1m6 0h1M24 46.5h1m23 0h1M2 47.5h1m5 0h1m18 0h1m9 0h1M2 48.5h1m2 0h1m2 0h1m11 0h1m6 0h1m6 0h1m8 0h1m5 0h1m9 0h1M1 49.5h1m3 0h1m1 0h1m4 0h1m3 0h2m21 0h1m3 0h2M5 50.5h1m9 0h1m4 0h2m3 0h2m17 0h1m16 0h1M14 51.5h1m6 0h1m34 0h3M21 52.5h1m38 0h2M3 53.5h1m39 0h1m2 0h1m9 0h1m2 0h1m2 0h1M16 54.5h1m2 0h1m11 0h1m2 0h1m12 0h1m9 0h1M4 55.5h2m13 0h1m10 0h1M2 56.5h1m31 0h1m14 0h1m1 0h1m8 0h1M10 57.5h1m4 0h1m3 0h1m5 0h1m3 0h1m16 0h1m4 0h2M30 58.5h1m5 0h1m2 0h1m10 0h1m2 0h1M4 59.5h1m1 0h2m25 0h1m16 0h1M20 60.5h2m16 0h1m4 0h1M10 61.5h1m8 0h1m1 0h1m41 0h1M20 62.5h1m6 0h1m22 0h1m3 0h1m4 0h1M4 63.5h1m21 0h1m13 0h1m1 0h1m3 0h1"/><path stroke="#2b748e" d="M19 0.5h1m1 0h1m15 0h1m11 0h1m5 0h1m6 0h2M10 1.5h1m4 0h1m2 0h1m4 0h1m39 0h1M0 2.5h1m27 0h1m2 0h1m3 0h1m4 0h2m5 0h1m8 0h2M0 3.5h2m23 0h1m11 0h2m2 0h1m7 0h1m1 0h1M6 4.5h2m2 0h2m9 0h1m2 0h1m23 0h1m1 0h2M0 5.5h3m14 0h1m17 0h1m5 0h1m10 0h1M5 6.5h1m1 0h1m3 0h1m3 0h1m13 0h1m1 0h1m11 0h1M6 7.5h1m9 0h1m10 0h1m23 0h1m9 0h1M1 8.5h1m12 0h1m3 0h1m19 0h1m1 0h1M0 9.5h1m6 0h1m6 0h2m23 0h1m1 0h1m11 0h1M0 10.5h1m9 0h1m2 0h1m5 0h1m17 0h1m1 0h1m1 0h1m10 0h1M1 11.5h1m13 0h1m10 0h1m7 0h1m2 0h1m1 0h1m22 0h2M14 12.5h1m3 0h1m17 0h1M0 13.5h1m6 0h1m5 0h1m19 0h1m3 0h1m6 0h1m1 0h1m15 0h1M3 14.5h1m14 0h1m8 0h1m2 0h1m30 0h2M5 15.5h2m20 0h1m11 0h1m5 0h1m14 0h1M1 16.5h1m10 0h1m21 0h1m15 0h1m10 0h1M9 17.5h1m1 0h1m1 0h1m1 0h1m10 0h1M0 18.5h1m1 0h2m7 0h1m7 0h1m13 0h1m10 0h1m11 0h2m3 0h1M49 19.5h2m3 0h1M10 20.5h1m2 0h1m19 0h1m27 0h1m1 0h1M3 21.5h1m18 0h1m23 0h1M4 22.5h1m17 0h1m10 0h1m11 0h1m6 0h1m2 0h1m5 0h1M1 23.5h1m24 0h1m28 0h1m7 0h1M5 24.5h1m2 0h1m17 0h1m18 0h1m3 0h1m9 0h1m2 0h1M4 25.5h1m6 0h1m23 0h1m12 0h1m3 0h1m3 0h2M3 26.5h1m3 0h1m3 0h1m37 0h1m10 0h1M2 27.5h1m57 0h1m1 0h1M47 28.5h1m10 0h1m3 0h1M13 29.5h1m32 0h1m4 0h1M6 30.5h1m7 0h1m12 0h1m22 0h1m6 0h1M2 31.5h1m21 0h1m19 0h1m7 0h1M7 33.5h2m5 0h1m25 0h1m4 0h1m5 0h1m2 0h1m1 0h1m2 0h1M57 34.5h1M14 35.5h1m27 0h1M6 36.5h1m4 0h1m29 0h1m9 0h1m7 0h1M6 37.5h1m16 0h1m13 0h1m18 0h1M4 38.5h1m3 0h1m13 0h1m16 0h1m12 0h1m2 0h1M9 39.5h1m21 0h1m13 0h1m1 0h1m3 0h1m9 0h1M18 40.5h1m14 0h1m7 0h1m7 0h1m5 0h1M6 41.5h1m9 0h2m12 0h1m5 0h1m6 0h1m4 0h1m5 0h1M0 42.5h1m9 0h1m3 0h1m4 0h1m2 0h1m1 0h1m5 0h2m2 0h1M0 43.5h1m5 0h1m24 0h1m23 0h1M13 44.5h1m4 0h1m10 0h1m1 0h1m2 0h1m21 0h2M12 45.5h1m10 0h1m4 0h1m21 0h1m9 0h3M0 46.5h1m5 0h1m18 0h1m9 0h1m1 0h1m11 0h1m3 0h1m3 0h1m2 0h1M5 47.5h2m11 0h1m19 0h1M11 48.5h1m2 0h1m2 0h1m8 0h1m8 0h1m8 0h1m7 0h1m4 0h1m3 0h1M3 49.5h1m4 0h2m20 0h1m20 0h1m4 0h1M19 50.5h1m4 0h1m4 0h1m11 0h1m6 0h1m7 0h2m4 0h1M10 51.5h1m1 0h1m13 0h1m1 0h1m16 0h1m7 0h1m8 0h1M1 52.5h1m2 0h1m10 0h1m3 0h1m13 0h1m4 0h1m1 0h1m17 0h1M27 53.5h1m12 0h1m4 0h1m2 0h1m1 0h1m9 0h1M11 54.5h1m25 0h1m3 0h1m10 0h1m1 0h1M9 55.5h1m2 0h1m20 0h1m6 0h1m3 0h1m5 0h1M0 56.5h1m7 0h1m3 0h1m14 0h1m8 0h1m2 0h1m7 0h1m7 0h1M16 57.5h1m4 0h1m4 0h1m8 0h1m12 0h1M0 58.5h1m4 0h1m10 0h1m8 0h1m1 0h1m9 0h1m8 0h1m9 0h1M10 59.5h1m7 0h1m2 0h1m7 0h1m6 0h1m2 0h1m2 0h2m8 0h1m6 0h1M8 60.5h1m21 0h1m8 0h2m10 0h1m4 0h1m1 0h1M5 61.5h1m2 0h1m31 0h1m4 0h1m2 0h2m6 0h1M8 62.5h1m10 0h1m15 0h2m7 0h1m3 0h1m12 0h2M15 63.5h1m6 0h1m6 0h1m4 0h1m1 0h1m12 0h1"/><path stroke="#297b8e" d="M1 0.5h1m5 0h2m5 0h1m1 0h2m8 0h1m4 0h1m3 0h1m18 0h1M1 1.5h1m25 0h2m1 0h2m21 0h2m1 0h1M1 2.5h1m2 0h1m2 0h1m9 0h3m10 0h1m13 0h2m15 0h1M8 3.5h1m4 0h2m5 0h1m6 0h1m6 0h1m8 0h1m6 0h1m1 0h1m1 0h1m1 0h1m3 0h1m2 0h1M1 4.5h1m12 0h1m7 0h1m5 0h3m5 0h1m17 0h1m7 0h1M44 5.5h1m10 0h1m5 0h1M1 6.5h1m1 0h1m8 0h1m1 0h1m22 0h1M3 7.5h2m7 0h1m9 0h1m5 0h1m5 0h1m3 0h1m1 0h1m14 0h1M5 8.5h2m3 0h1m12 0h2m6 0h1m1 0h1m9 0h1m8 0h1m5 0h1m1 0h2M6 9.5h1m1 0h1m11 0h2m3 0h1m4 0h1m7 0h1m11 0h1m6 0h1M4 10.5h1m17 0h3m1 0h1m15 0h1m1 0h1m6 0h1m11 0h1M27 11.5h1m16 0h1m14 0h2M9 12.5h3m14 0h1m7 0h1m21 0h2M3 13.5h1m2 0h1m27 0h1m16 0h1m2 0h1m2 0h1M0 14.5h1m1 0h1m1 0h1m26 0h1m15 0h1m8 0h1m6 0h1M10 15.5h1m4 0h1m9 0h1m9 0h1m10 0h1m4 0h1m2 0h1M7 16.5h1m5 0h1m37 0h2m6 0h1m2 0h1M6 17.5h1m18 0h1m8 0h1m1 0h1m5 0h1m8 0h1M5 18.5h1m15 0h1m7 0h1m8 0h1m13 0h1m2 0h1M12 19.5h1m10 0h1m5 0h2m22 0h1m1 0h1M6 20.5h1m15 0h1m23 0h1m5 0h1m6 0h1M4 21.5h1m7 0h1m10 0h1m6 0h1m19 0h1m2 0h2m6 0h1M2 22.5h1m3 0h1m2 0h2m4 0h3m3 0h1m7 0h1m1 0h1m4 0h1M4 23.5h1m2 0h1m4 0h1m8 0h1m3 0h1m7 0h1m4 0h1m13 0h1m8 0h2M55 24.5h1m4 0h1m2 0h1M10 25.5h1m4 0h1m18 0h1m7 0h1m2 0h1m13 0h1m2 0h2M2 26.5h1m2 0h1m3 0h1m15 0h1m18 0h1m1 0h1m6 0h1m2 0h1M19 27.5h1m1 0h1m3 0h1m37 0h1M5 28.5h1m2 0h1m2 0h1m1 0h1m3 0h1m2 0h2m19 0h1M11 29.5h1m7 0h1m39 0h1M8 30.5h1m1 0h2m9 0h1m13 0h1m8 0h1m8 0h2m4 0h2m2 0h1M25 31.5h1m29 0h1m7 0h1M13 33.5h1m1 0h2m32 0h2m1 0h1m5 0h1M5 34.5h1m36 0h2m19 0h1M2 35.5h1m7 0h1m38 0h1m5 0h1m4 0h1m1 0h1M4 36.5h1m12 0h2m7 0h1m13 0h1m15 0h2M3 37.5h1M5 38.5h1m4 0h1m8 0h1m5 0h1m34 0h1m1 0h1M8 39.5h1M5 40.5h3m1 0h1m3 0h2m9 0h1m1 0h1m10 0h1m7 0h2m1 0h1m1 0h1m2 0h1m2 0h1M13 41.5h1m1 0h1m3 0h1m8 0h2m9 0h1m4 0h2m9 0h1m5 0h1M4 42.5h1m7 0h1m12 0h2m14 0h1m1 0h1m3 0h1m10 0h1m2 0h1M2 43.5h1m20 0h1m19 0h1m4 0h1m2 0h1M10 44.5h1m31 0h1m4 0h1m1 0h1m8 0h1M1 45.5h1m4 0h1m1 0h1m5 0h1m2 0h2M4 46.5h1m2 0h1m9 0h1m2 0h1m19 0h1m15 0h1M40 47.5h1m10 0h1m2 0h1m4 0h2M1 48.5h1m1 0h1m9 0h1m36 0h1M4 49.5h1m9 0h1m3 0h1m23 0h1m4 0h1m5 0h1m4 0h1m1 0h1M3 50.5h1m10 0h1m7 0h2m6 0h1m5 0h1m1 0h1m8 0h1m4 0h1m7 0h1M5 51.5h1m5 0h1m11 0h1m9 0h1m4 0h1m2 0h1m8 0h1m4 0h1M2 52.5h2m4 0h2m4 0h1m13 0h1m12 0h1m3 0h3m2 0h3m6 0h1M7 53.5h1m3 0h1m6 0h1m9 0h1m5 0h1m6 0h1m9 0h1M9 54.5h1m4 0h1m8 0h1m16 0h1m8 0h1m6 0h1M2 55.5h1m8 0h1m2 0h1m7 0h1m18 0h1m3 0h1m3 0h1m4 0h1m6 0h1M6 56.5h1m7 0h2m25 0h1m3 0h1m2 0h1m3 0h2m9 0h1M4 57.5h1m1 0h1m2 0h1m4 0h1m5 0h1m3 0h1m17 0h1m1 0h1m10 0h1m6 0h1M18 58.5h1m7 0h1m8 0h1m2 0h1m1 0h1m1 0h1m17 0h1M14 59.5h1m8 0h1m4 0h1m15 0h1m11 0h2M4 60.5h1m2 0h1m2 0h1m1 0h1m6 0h1m14 0h1m1 0h1m9 0h2m2 0h1m9 0h1M3 61.5h1m18 0h2m9 0h1m10 0h1M6 62.5h2m2 0h1m2 0h1m14 0h2m25 0h1m2 0h1M7 63.5h2m3 0h1m1 0h1m4 0h1m10 0h1m6 0h2m9 0h1m9 0h1m1 0h1"/><path stroke="#26818e" d="M3 0.5h1m21 0h1m8 0h1m7 0h1m2 0h2M12 1.5h2m33 0h1M6 2.5h1m7 0h1m5 0h1m1 0h1m16 0h1m6 0h1m13 0h1M2 3.5h1m3 0h2m1 0h1m18 0h1m11 0h1m4 0h2m1 0h1M35 4.5h1m3 0h1m6 0h1m8 0h1m3 0h1m1 0h1M4 5.5h1m2 0h1m3 0h2m8 0h1m17 0h1m3 0h1m5 0h1m7 0h1m2 0h1M2 6.5h1m17 0h1m1 0h1m15 0h1m11 0h1m1 0h1m4 0h1m2 0h1m1 0h1M5 7.5h1m11 0h1m1 0h1m24 0h1m8 0h1M0 8.5h1m3 0h1m4 0h1m3 0h1m6 0h1m4 0h1m2 0h2m26 0h1m5 0h2M1 9.5h2m16 0h1m2 0h1m4 0h2m6 0h1m7 0h2m2 0h1m11 0h2M2 10.5h1m40 0h1m2 0h1m8 0h1m5 0h1M4 11.5h1m15 0h1m2 0h1m6 0h1m4 0h1m7 0h1m1 0h1m5 0h1m3 0h1M3 12.5h1m3 0h1m5 0h1m2 0h2m1 0h1m1 0h1m5 0h2m9 0h1m5 0h1m9 0h1m7 0h1M1 13.5h1m7 0h1m1 0h1m3 0h2m2 0h1m4 0h1m36 0h1M16 14.5h1m3 0h1m1 0h1m12 0h1m4 0h1m2 0h1m6 0h1m4 0h1m3 0h1M13 15.5h1m4 0h1m2 0h1m6 0h1m14 0h1m3 0h1m4 0h1m6 0h1M5 16.5h1m22 0h1m2 0h1m1 0h1m4 0h1m5 0h1m3 0h2m3 0h1M4 17.5h2m17 0h1m4 0h1m12 0h1m2 0h1m13 0h1m2 0h1M1 18.5h1m10 0h1m3 0h1m20 0h1m4 0h2m3 0h1M6 19.5h1m8 0h1m2 0h1m8 0h1m14 0h1m8 0h2M7 20.5h1m1 0h1m2 0h1m14 0h2m16 0h1m2 0h1m5 0h2m1 0h1m4 0h1M31 21.5h1m4 0h1m3 0h1m22 0h1M1 22.5h1m10 0h1m7 0h1m4 0h2m11 0h1m3 0h1m3 0h1m2 0h1m1 0h1m8 0h1m1 0h1M9 23.5h1m3 0h1m9 0h1m6 0h2m14 0h1m3 0h1M0 24.5h1m3 0h1m1 0h1m7 0h3m10 0h1m3 0h1m6 0h1m19 0h1M0 25.5h1m17 0h1m3 0h1m8 0h1m7 0h1m10 0h1M0 26.5h1m5 0h1m11 0h1m22 0h2m4 0h1m7 0h1m1 0h1m4 0h2M0 27.5h2m4 0h1m5 0h1m1 0h1m43 0h1M1 28.5h1m4 0h1m5 0h1m3 0h1m5 0h1m8 0h1m5 0h2m9 0h1m8 0h1M0 29.5h1m13 0h1m22 0h1m9 0h1m9 0h1M1 30.5h1m5 0h1m15 0h1m13 0h1m10 0h1M0 31.5h1m3 0h1m2 0h1m6 0h1m1 0h2m1 0h1m39 0h2m1 0h1M3 33.5h1m5 0h1m2 0h1m8 0h1m13 0h1m19 0h1m5 0h1M11 34.5h1m11 0h1m7 0h1m19 0h1m10 0h1M6 35.5h1m54 0h1M3 36.5h1m19 0h1m14 0h1m7 0h1m16 0h1M12 37.5h1m3 0h1m7 0h1m6 0h1m4 0h1m6 0h1m18 0h1M6 38.5h1m6 0h1m23 0h1m16 0h1m2 0h1M3 39.5h1m3 0h1m5 0h1m24 0h1m2 0h1M8 40.5h1m1 0h1m29 0h1m3 0h1m7 0h1m9 0h1M2 41.5h1m4 0h1m17 0h1m14 0h1m1 0h1m14 0h1m5 0h1M6 42.5h1m16 0h1m29 0h1M1 43.5h1m1 0h1m7 0h1m2 0h3m22 0h1m2 0h1m1 0h1m11 0h1m1 0h1M5 44.5h3m6 0h1m21 0h1m3 0h1m3 0h1m17 0h1M0 45.5h1m14 0h1m5 0h1m4 0h1m11 0h1m7 0h1m1 0h1m9 0h1M16 46.5h1m2 0h1m1 0h1m4 0h2m8 0h1m4 0h1m16 0h1M35 47.5h1m7 0h1m1 0h1M29 48.5h3m24 0h1M0 49.5h1m12 0h1m5 0h1m2 0h2m5 0h1m11 0h1m6 0h3m12 0h1M9 50.5h1m29 0h2m8 0h1M7 51.5h1m1 0h1m8 0h1m5 0h1m4 0h1m9 0h1m8 0h1m10 0h1M7 52.5h1m17 0h1m1 0h1m1 0h1M14 53.5h1m1 0h1m13 0h1m7 0h2m9 0h1m4 0h1m6 0h1M1 54.5h2m23 0h1m1 0h1m1 0h1m2 0h1m10 0h1m5 0h1m9 0h1m2 0h1M20 55.5h1m13 0h1m22 0h1m1 0h1m2 0h1M4 56.5h1m4 0h1m9 0h1m8 0h1m15 0h1m17 0h1M37 57.5h2m17 0h1m1 0h1M11 58.5h1m3 0h1m25 0h1m5 0h1m4 0h1m10 0h1M0 59.5h1m1 0h1m9 0h2m1 0h2m3 0h1m5 0h1m3 0h2m2 0h1m3 0h1m15 0h1m5 0h1M15 60.5h1m2 0h1m7 0h1m1 0h1m4 0h1m3 0h1m16 0h1m4 0h1M14 61.5h1m3 0h1m1 0h1m13 0h1m4 0h1m11 0h1m1 0h1m4 0h1M11 62.5h1m3 0h2m8 0h1m4 0h1m3 0h1m25 0h1M5 63.5h1m4 0h1m2 0h1m10 0h1m22 0h1m2 0h1"/><path stroke="#24878e" d="M4 0.5h1m4 0h1m5 0h1m6 0h1m7 0h1m16 0h1M21 1.5h1m12 0h1m1 0h1m1 0h1M9 2.5h1m24 0h1m28 0h1M3 3.5h1m12 0h1m13 0h1m2 0h1m10 0h1m17 0h1M0 4.5h1m12 0h1m13 0h1m3 0h1m10 0h1m4 0h1m5 0h1M20 5.5h1m7 0h1m2 0h1m1 0h1m17 0h1m4 0h1M18 6.5h2m14 0h1m18 0h1m2 0h1m2 0h1M13 7.5h1m12 0h1m8 0h2m8 0h2m7 0h1m3 0h1M19 8.5h1m6 0h1m10 0h1m3 0h1m2 0h2m11 0h1M4 9.5h1m8 0h1m4 0h1m7 0h1m13 0h1m8 0h1M8 10.5h2m1 0h1m2 0h1m10 0h1m4 0h2m13 0h1m8 0h1m1 0h1M19 11.5h1m18 0h1M8 12.5h1m16 0h1m5 0h1m9 0h1m4 0h1m2 0h2m8 0h1m1 0h1M4 13.5h1m15 0h1m9 0h1m7 0h1m4 0h1m3 0h1m1 0h2m2 0h1m4 0h1M37 14.5h1m3 0h2m2 0h1m2 0h1m4 0h1M0 15.5h1m6 0h1m6 0h1m1 0h1m16 0h1m27 0h1M0 16.5h1m1 0h1m14 0h1m8 0h1m18 0h1m8 0h1M39 17.5h1m12 0h1m7 0h1M20 18.5h1m1 0h1m3 0h1m12 0h1m6 0h1m3 0h1m11 0h1M1 19.5h1m1 0h1m1 0h1m16 0h1m11 0h1m8 0h2m16 0h1M3 20.5h1m17 0h1m4 0h1m2 0h1m1 0h1m7 0h1m7 0h1m5 0h1m4 0h1m1 0h1M9 21.5h1m4 0h1M7 22.5h1m10 0h1m24 0h2m5 0h1M3 23.5h1m2 0h1m7 0h1m7 0h1m12 0h1m22 0h1M2 24.5h1m4 0h1m2 0h1m2 0h1m5 0h2m27 0h1m5 0h1M3 25.5h1m1 0h1m7 0h1m3 0h1m8 0h1m14 0h1M12 26.5h1m6 0h1m1 0h1m2 0h1m3 0h1m9 0h1m4 0h1m8 0h1m1 0h1M22 27.5h1m5 0h1m16 0h1m9 0h1m5 0h1M0 28.5h1m17 0h1m4 0h2m17 0h1m12 0h1M10 29.5h1m15 0h2m24 0h1M9 30.5h1m32 0h1m3 0h1m8 0h2m1 0h1M5 31.5h1m9 0h1m6 0h2m2 0h1m11 0h1m4 0h1m6 0h1M1 33.5h1m21 0h1m39 0h1M3 34.5h1m18 0h1m18 0h1m3 0h1m1 0h1m1 0h1m8 0h1m2 0h1M3 35.5h1m4 0h1m3 0h1m3 0h1m13 0h1m4 0h1m2 0h1m4 0h1m8 0h1M8 36.5h1m10 0h1m1 0h1m2 0h1m19 0h1m15 0h2M1 37.5h1m5 0h1m11 0h1m2 0h1m5 0h1m13 0h1m4 0h2m10 0h1M1 38.5h1m9 0h1m31 0h1m12 0h1M10 39.5h1m1 0h1m7 0h1m1 0h1m12 0h1m8 0h1m10 0h1m6 0h1M21 40.5h1m1 0h1m4 0h2m5 0h1m11 0h1m6 0h1m8 0h1M0 41.5h1m7 0h1m5 0h1m6 0h1m1 0h1m14 0h1M9 42.5h1m3 0h1m32 0h1m2 0h1m9 0h1M18 43.5h1m9 0h2m11 0h1m7 0h1M0 44.5h1m7 0h1m7 0h1m5 0h3m18 0h1m10 0h1m8 0h1M5 45.5h1m4 0h1m8 0h1m14 0h1m5 0h1M5 46.5h1m8 0h2m6 0h1m5 0h1m32 0h1M16 47.5h1m4 0h2m10 0h1m2 0h1m2 0h1m8 0h1m7 0h1M0 48.5h1m3 0h1m14 0h1m28 0h1M34 49.5h1m5 0h1m13 0h2M4 50.5h1m3 0h1m4 0h1m14 0h1m4 0h1m19 0h2M6 51.5h1m6 0h1m2 0h1m3 0h1m1 0h1M6 52.5h1m3 0h1m1 0h2m2 0h1m5 0h1m3 0h1m7 0h2m3 0h1m13 0h1m2 0h1M0 53.5h1m11 0h1m2 0h1m5 0h1m1 0h1m29 0h1m3 0h1M4 54.5h1m3 0h1m12 0h1m7 0h1m8 0h1M8 55.5h1m7 0h1m4 0h1m4 0h1m4 0h1m6 0h1m3 0h1m9 0h1m3 0h1M13 56.5h1m16 0h2m14 0h1m7 0h1m2 0h1M11 57.5h2m5 0h1m35 0h1m2 0h1m2 0h1M1 58.5h1m2 0h1m7 0h1m11 0h1m24 0h1m11 0h1M5 59.5h1m11 0h1m1 0h1m20 0h1m12 0h1M5 60.5h1m7 0h1m10 0h1m37 0h1M12 61.5h1m4 0h1m13 0h1m3 0h1m18 0h1M21 62.5h1m1 0h1m13 0h1m4 0h1m9 0h1m4 0h1M16 63.5h1m3 0h1m6 0h2m6 0h1"/><path stroke="#228d8d" d="M24 0.5h1m25 0h1m10 0h1M5 1.5h1m3 0h1m38 0h1m1 0h1m10 0h1M8 2.5h1m14 0h1m1 0h1m12 0h1m10 0h1M5 3.5h1m13 0h1m1 0h1m17 0h1M2 4.5h1m6 0h1m8 0h1M47 5.5h1M4 6.5h1m12 0h1m10 0h1m17 0h1m1 0h1m5 0h1m8 0h1M7 7.5h1m33 0h1m14 0h1M12 8.5h1m9 0h1m28 0h1M11 9.5h1m12 0h1m4 0h1m1 0h1m4 0h1m25 0h1M15 10.5h1m1 0h1m22 0h1m6 0h1m11 0h1m2 0h1M3 11.5h1m14 0h1m33 0h1M12 12.5h1m2 0h1m14 0h1m21 0h1M17 13.5h1m17 0h2M7 14.5h1m1 0h3m5 0h1m3 0h1m3 0h1m23 0h1M4 15.5h1m15 0h1m5 0h1m9 0h3M3 16.5h1m6 0h2m2 0h1m7 0h1m1 0h1m12 0h1m1 0h1m1 0h2m14 0h2M10 17.5h1m5 0h1m4 0h2m10 0h1m6 0h1m2 0h1m9 0h1m3 0h1M10 18.5h1m2 0h2m8 0h1m3 0h1m32 0h1M11 19.5h1m2 0h1m4 0h2m14 0h1m1 0h1m19 0h1M0 20.5h1m1 0h1m13 0h2m2 0h1m2 0h2m15 0h1M1 21.5h1m13 0h1m1 0h1m7 0h1m12 0h1m3 0h1m2 0h1m3 0h1m8 0h1M0 22.5h1m27 0h1m24 0h1M5 23.5h1m2 0h1m1 0h1m16 0h1m15 0h1m16 0h1M3 24.5h1m8 0h1m9 0h1m1 0h1m5 0h1m8 0h1M24 25.5h1m4 0h1m6 0h2m5 0h2m9 0h2m5 0h1M14 26.5h1m16 0h1m18 0h1M4 27.5h1m5 0h1m2 0h1m9 0h1m6 0h1m4 0h1m1 0h1m9 0h1m5 0h1M4 28.5h1m23 0h1m24 0h1M17 29.5h1m38 0h1m4 0h1m1 0h1M12 30.5h2m1 0h1m2 0h1m12 0h1m30 0h1M8 31.5h1m2 0h1M48 32.5h1M17 33.5h2m5 0h1m9 0h1m1 0h1M2 34.5h1m5 0h1m1 0h1m7 0h1m18 0h1M7 35.5h1m9 0h2m3 0h1m2 0h1m1 0h2m8 0h1m1 0h1m6 0h2M0 36.5h1m12 0h1m2 0h1m3 0h1m26 0h1M5 37.5h1m2 0h1m1 0h1m7 0h1m1 0h1m6 0h1m18 0h1m4 0h1m1 0h1m3 0h1m2 0h1M2 38.5h1m6 0h1m18 0h1m1 0h1m18 0h1m1 0h1m1 0h1m7 0h1m1 0h1M4 39.5h2m11 0h1m6 0h1m1 0h1m12 0h2m7 0h1M11 40.5h1m24 0h1m24 0h1M20 41.5h1m20 0h1M1 42.5h1m1 0h1m29 0h1m3 0h2m11 0h1M17 43.5h1m4 0h1m15 0h1m1 0h1m4 0h1m6 0h1M2 44.5h1m14 0h1m3 0h1m8 0h1m4 0h1m5 0h1M16 45.5h1m18 0h1m7 0h1m3 0h1M9 46.5h2m2 0h1m9 0h1m27 0h1m3 0h1M3 47.5h1m6 0h1m1 0h1m1 0h1m11 0h1m1 0h2m4 0h1m9 0h1m5 0h1m1 0h1M6 48.5h2m2 0h1m31 0h1m3 0h1m4 0h1m3 0h1M20 49.5h1m3 0h1m10 0h1m2 0h1M0 50.5h1m15 0h2m9 0h1m15 0h1m2 0h1m12 0h1M25 51.5h1m1 0h1m14 0h1m4 0h1M18 52.5h1m5 0h1m17 0h1m6 0h1m12 0h1M9 53.5h1m27 0h1m6 0h1m7 0h1m5 0h1M5 54.5h1m4 0h1m2 0h1m3 0h1m2 0h1m1 0h1m20 0h1m1 0h2m4 0h1M28 55.5h1m24 0h1M5 56.5h1m11 0h1m17 0h1m14 0h1m8 0h1M1 57.5h1m3 0h1m21 0h1m5 0h1m6 0h1M13 58.5h1m3 0h1m11 0h1m28 0h2M25 59.5h1M16 60.5h1m8 0h1m19 0h1m3 0h1m11 0h1M13 61.5h1m13 0h1m9 0h1m3 0h2m7 0h1m10 0h1M5 62.5h1m41 0h1M0 63.5h1m8 0h1m8 0h1m24 0h1"/><path stroke="#20938c" d="M33 0.5h1m25 0h1M6 1.5h1M21 2.5h1m4 0h2m4 0h2m17 0h1m2 0h2M15 3.5h1m42 0h1M3 5.5h1m2 0h1m7 0h1m1 0h1m25 0h1m3 0h1M9 7.5h1m37 0h1M7 8.5h1m3 0h1m9 0h1m5 0h1m11 0h1m13 0h1M16 9.5h1m28 0h1M38 10.5h1m14 0h1M14 11.5h1m33 0h1M5 12.5h1m23 0h1m7 0h1m5 0h1M10 13.5h1M14 14.5h1m8 0h1m4 0h1M9 15.5h1m1 0h2m21 0h1m7 0h1m13 0h1m6 0h1M15 16.5h1m3 0h3m7 0h1M7 17.5h1m19 0h1m19 0h1M34 18.5h2m4 0h1m10 0h1M13 19.5h1m2 0h1m4 0h1m9 0h1m28 0h1m2 0h1M25 20.5h1m30 0h1M11 21.5h1m6 0h1m1 0h1m3 0h1m10 0h1m5 0h1M11 22.5h1m1 0h1m9 0h1m3 0h1m11 0h1M16 23.5h1m2 0h1m4 0h1m4 0h1m6 0h2m3 0h1m9 0h1M28 24.5h2m4 0h1m8 0h1m6 0h1m10 0h1M9 25.5h1m20 0h1m9 0h1M15 26.5h1m6 0h1m7 0h1m6 0h1M17 27.5h2m1 0h1m3 0h1m8 0h1m7 0h1m1 0h1m2 0h1m4 0h1m7 0h1M7 28.5h1m6 0h1m10 0h1m3 0h1m16 0h1M3 29.5h1m18 0h1m2 0h1m13 0h2m1 0h2m10 0h1m5 0h1M4 30.5h1m11 0h1m5 0h1m1 0h3m13 0h1m8 0h1M31 31.5h1m5 0h1m4 0h1M19 32.5h1M0 33.5h1m3 0h1m5 0h1m14 0h1m3 0h1M1 34.5h1m7 0h1m16 0h1m19 0h1m7 0h1M9 35.5h1m5 0h1m7 0h1m17 0h1m9 0h1M15 36.5h1m13 0h1m12 0h1m5 0h1M17 37.5h1m3 0h1m11 0h1m11 0h1m4 0h1m4 0h1M3 38.5h1m17 0h1m5 0h1m5 0h1m2 0h1m1 0h1M19 39.5h1m5 0h1m3 0h1M16 40.5h1m3 0h1m4 0h1m8 0h1m3 0h1M9 41.5h1M2 42.5h1m12 0h1m1 0h1m24 0h1m14 0h1M10 43.5h1m8 0h1m6 0h2m8 0h1m16 0h1M39 44.5h1m5 0h1m15 0h1M29 45.5h1m1 0h1m4 0h2m7 0h1m5 0h1M2 46.5h1m9 0h1m21 0h1m4 0h1m2 0h1m1 0h1M19 47.5h1m33 0h1m1 0h1M9 48.5h1m5 0h1m21 0h1M21 49.5h1m9 0h1m4 0h1m8 0h2m12 0h1M10 50.5h1m1 0h1m22 0h1m14 0h1m12 0h1M51 51.5h1M11 52.5h1m18 0h1m5 0h1m11 0h1M15 54.5h1m37 0h1m5 0h1M18 55.5h1m17 0h2M3 56.5h1m7 0h1m17 0h1m28 0h1M21 58.5h3m19 0h2M9 60.5h1m12 0h1m12 0h1m19 0h1M11 61.5h1m47 0h1m2 0h1M0 62.5h1m3 0h1m17 0h1m22 0h2m2 0h1"/><path stroke="#1f998a" d="M10 0.5h1M52 2.5h1M10 3.5h1M8 6.5h1m30 0h1M58 9.5h1M13 11.5h1M55 12.5h1M15 14.5h1M16 16.5h1m6 0h1m1 0h1M3 17.5h1m25 0h2m4 0h1m10 0h1M4 18.5h1m26 0h1m31 0h1M28 19.5h1m12 0h1m14 0h1M19 20.5h1m12 0h1m8 0h1M5 21.5h1m23 0h1m7 0h1m14 0h1M14 22.5h1m20 0h1m5 0h1M34 23.5h1m9 0h1m2 0h1M17 24.5h1m18 0h1m9 0h1M21 25.5h1M17 26.5h1m15 0h1M29 27.5h1m1 0h1m8 0h1m1 0h1M27 28.5h1m2 0h1m8 0h2m10 0h1m7 0h1M18 29.5h1M2 30.5h1m42 0h1m5 0h1M29 31.5h1m4 0h1m1 0h1m3 0h1m5 0h1m6 0h1M0 32.5h3m1 0h1m3 0h2m2 0h2m25 0h1m5 0h1m10 0h1m1 0h1M20 33.5h1m1 0h1m15 0h1m14 0h1M17 34.5h1m9 0h2m5 0h1m25 0h1M1 35.5h1m22 0h1m4 0h1m4 0h1M22 36.5h1m8 0h1m7 0h1m3 0h1m1 0h1M26 37.5h1m11 0h2M29 38.5h1m1 0h1m8 0h1m1 0h1M14 39.5h1m12 0h1M30 40.5h1m26 0h1M24 41.5h1m33 0h1M27 42.5h1m11 0h1M5 43.5h1m29 0h1M26 44.5h1m6 0h1m17 0h1M44 45.5h1M38 46.5h1M20 47.5h1m25 0h1M11 49.5h1m3 0h1M11 50.5h1M43 51.5h1m17 0h1M44 52.5h1m18 0h1M35 53.5h1m19 0h1M39 54.5h1M7 56.5h1m12 0h1M7 57.5h1m20 0h1M9 59.5h1M32 60.5h1M39 63.5h1"/><path stroke="#1fa088" d="M32 0.5h1M32 1.5h1M32 3.5h1M32 6.5h1M21 7.5h1M55 8.5h1M8 11.5h1m47 0h1M23 12.5h1M39 13.5h1M32 14.5h1m19 0h1m5 0h1M32 15.5h1m11 0h1m5 0h1M12 17.5h1m5 0h1M15 18.5h1M32 19.5h1M36 20.5h1m6 0h1M27 21.5h2m3 0h2m9 0h1M47 22.5h1M53 23.5h1M21 24.5h1m3 0h1m6 0h1m2 0h1m4 0h1m3 0h1m7 0h1M46 25.5h1M20 26.5h1m14 0h1M15 27.5h1m18 0h1m3 0h1M44 28.5h1M28 29.5h2m1 0h1m1 0h1m7 0h1M19 30.5h2m15 0h1m2 0h1M21 31.5h1m17 0h1M3 32.5h1m1 0h1m1 0h1m7 0h1m1 0h2m11 0h1m4 0h1m5 0h2m4 0h1m2 0h1m6 0h1m1 0h1m1 0h3M31 33.5h1m5 0h1m3 0h2M36 34.5h1m2 0h1M33 35.5h1M35 36.5h1m1 0h1m15 0h1M34 37.5h1m5 0h1M17 38.5h1m23 0h1M36 39.5h1M27 41.5h1m4 0h1m1 0h2M20 42.5h1m7 0h1m11 0h1m3 0h1M8 43.5h1m15 0h1m7 0h1m1 0h1m19 0h1M49 47.5h1M41 48.5h1M34 50.5h1M20 53.5h1M55 54.5h1M7 55.5h1M32 58.5h1M0 60.5h1M32 61.5h1M32 63.5h1"/><path stroke="#21a585" d="M32 9.5h1M32 12.5h1M32 13.5h1M55 15.5h1M1 17.5h1M32 18.5h1M34 22.5h1M28 23.5h1M28 25.5h1m9 0h1M32 26.5h1m3 0h1m3 0h1M32 28.5h1m1 0h1M32 29.5h1m2 0h1m2 0h1M47 30.5h1M27 31.5h1m2 0h1m4 0h1m5 0h1M6 32.5h1m3 0h2m2 0h1m5 0h3m1 0h2m1 0h1m6 0h1m2 0h2m4 0h1m5 0h1m4 0h2m4 0h1M24 34.5h1m5 0h1m4 0h1M25 36.5h1m1 0h2m1 0h1m2 0h1m18 0h1M35 37.5h1m8 0h1M26 38.5h1m8 0h1M32 39.5h1m4 0h1M32 40.5h1M18 41.5h1M32 42.5h1M22 45.5h1M32 47.5h1M32 48.5h1m5 0h1M32 49.5h1M32 53.5h1M32 54.5h1M32 56.5h1M32 59.5h1M32 62.5h1"/><path stroke="#25ac82" d="M32 4.5h1M32 7.5h1M32 10.5h1M32 11.5h1M32 16.5h1M32 17.5h1M32 22.5h1M32 23.5h1M32 25.5h1M26 27.5h1m5 0h1M26 28.5h1m6 0h1m1 0h2M34 29.5h1m1 0h1M34 30.5h1m3 0h1M28 31.5h1m3 0h2M16 32.5h1m9 0h1m1 0h1m2 0h1m8 0h1m5 0h1m4 0h3M27 33.5h2M20 34.5h1m4 0h1m12 0h1M36 35.5h1M34 36.5h1m1 0h1M29 37.5h1m2 0h1M24 38.5h1m7 0h1M33 39.5h1M32 44.5h1M32 45.5h1M32 46.5h1M32 50.5h1M32 51.5h1M32 57.5h1"/><path stroke="#2db27d" d="M32 5.5h1M32 8.5h1M28 30.5h3M23 32.5h1m9 0h1m2 0h1m7 0h1M32 34.5h2M32 36.5h1M30 37.5h1M37 41.5h1M32 52.5h1M32 55.5h1"/><path stroke="#35b779" d="M32 30.5h1M32 33.5h1M28 39.5h1"/><path stroke="#40bd72" d="M29 32.5h1M32 35.5h1"/><path stroke="#fde725" d="M32 32.5h1"/></g></svg><svg class="p" style="left:1348.0px;top:1082.0px" width="371.5" height="393.0" viewBox="0 0 32 32" preserveAspectRatio="none"><g fill="none" stroke-width="1.02"><path stroke="#453581" d="M31 6.5h1M31 26.5h1M2 29.5h1M18 31.5h1m3 0h1"/><path stroke="#433d84" d="M16 1.5h1M24 3.5h2m1 0h1M14 4.5h1m7 0h1M22 5.5h1m5 0h1M7 6.5h1M6 9.5h1M5 10.5h1M27 11.5h1M2 13.5h1M2 22.5h1M29 23.5h1M29 24.5h1M3 25.5h1M4 26.5h1M11 28.5h1M15 29.5h1M6 30.5h1m24 0h1"/><path stroke="#404588" d="M3 0.5h1M17 6.5h1M1 7.5h1m12 0h1m7 0h1M3 8.5h1m24 0h1M4 19.5h1m1 0h1"/><path stroke="#3d4d8a" d="M6 0.5h1m6 0h1M20 1.5h1M25 2.5h1M8 3.5h1M1 10.5h1m19 0h1m3 0h1M22 11.5h1m2 0h1M27 14.5h1M26 15.5h1M1 18.5h1m5 0h1M1 19.5h1M9 23.5h1m2 0h1M2 25.5h1M29 26.5h1M8 27.5h1m9 0h1M8 28.5h1M22 29.5h1m5 0h1M11 31.5h1m1 0h1m10 0h2"/><path stroke="#3a538b" d="M5 0.5h1m15 0h1m6 0h1M11 1.5h1m19 0h1M3 2.5h1m8 0h1m8 0h1m6 0h1M6 3.5h1m2 0h1M12 4.5h1M31 5.5h1M3 7.5h1m27 0h1M11 9.5h1M2 10.5h1M28 12.5h1M0 14.5h1m22 0h1M1 15.5h1M3 16.5h1M7 17.5h1M0 19.5h1M11 21.5h1M22 23.5h1M11 26.5h1m8 0h1M4 30.5h1m23 0h1M0 31.5h1m19 0h1m9 0h1"/><path stroke="#375b8d" d="M0 0.5h1m14 0h1m1 0h4m2 0h1m5 0h1M9 1.5h1m4 0h1m13 0h1M26 2.5h1M0 3.5h1m2 0h2M18 4.5h1m2 0h1M13 5.5h1m7 0h1M29 6.5h1M23 7.5h1m3 0h1M4 8.5h1m10 0h1m10 0h1M8 11.5h1m22 0h1M9 14.5h1m15 0h1M3 17.5h1m5 0h1m21 0h1M28 20.5h1M4 21.5h1M5 22.5h1M3 23.5h1m24 0h1M24 24.5h1M8 25.5h1m15 0h1m6 0h1M15 26.5h1M15 27.5h1m12 0h1m1 0h1M13 28.5h1M6 29.5h1m16 0h1M10 30.5h1m5 0h1M2 31.5h1m4 0h2m14 0h1"/><path stroke="#34618d" d="M30 0.5h2M3 1.5h1m1 0h1m15 0h1M1 2.5h1m15 0h1M26 3.5h1m2 0h1M30 4.5h1M4 5.5h1m19 0h1M2 6.5h1m15 0h1m7 0h1m1 0h1M21 8.5h1m7 0h1M7 9.5h1M0 10.5h1M28 11.5h1M28 13.5h1M22 14.5h1M0 16.5h1m7 0h2m13 0h1M1 17.5h1M2 18.5h1m5 0h1m21 0h1M7 19.5h1M2 20.5h1m19 0h1M8 21.5h1m22 0h1M16 22.5h1m2 0h1m1 0h1m3 0h1m4 0h1M23 23.5h1M0 25.5h1m28 0h1M6 27.5h1m3 0h1m6 0h1m4 0h1M9 28.5h1m15 0h1m4 0h1M8 29.5h1m3 0h1m1 0h1m16 0h1M13 30.5h1M21 31.5h1m7 0h1"/><path stroke="#31688e" d="M12 0.5h1M10 1.5h1m2 0h1m8 0h1m6 0h1M8 2.5h1m4 0h1m15 0h2M14 3.5h2m4 0h1m9 0h1M2 4.5h1m6 0h1m6 0h1m3 0h1m2 0h2M3 5.5h1M8 6.5h1m5 0h1m8 0h1M7 7.5h1m9 0h1M2 8.5h1m3 0h1m11 0h1m11 0h2M0 9.5h1m1 0h2m12 0h1m4 0h1m4 0h1m4 0h1M30 10.5h1M3 11.5h1m3 0h1M3 12.5h1m3 0h1M0 13.5h1m2 0h1m16 0h1m9 0h1M2 14.5h1m3 0h1m21 0h2m1 0h1M27 15.5h1M25 17.5h1M28 18.5h2M2 19.5h1m22 0h1m1 0h1m3 0h1M1 20.5h1m2 0h1m14 0h2M5 21.5h1m23 0h2M0 22.5h1M7 25.5h1M3 27.5h1m17 0h1m7 0h1M4 28.5h1m2 0h1m2 0h1m1 0h1m2 0h1m5 0h2M13 29.5h1m6 0h1M8 30.5h2m8 0h1m2 0h2m3 0h1m3 0h1M4 31.5h1m11 0h1"/><path stroke="#2e6e8e" d="M1 0.5h2m4 0h1m3 0h1m13 0h3M7 1.5h1m7 0h1m3 0h1M5 2.5h3m3 0h1m10 0h2M7 3.5h1m2 0h1m1 0h2m14 0h1M8 4.5h1m8 0h1m8 0h2m1 0h1M1 5.5h1m5 0h1m9 0h1M0 6.5h1m2 0h2m6 0h1m4 0h1m2 0h2m3 0h1M4 7.5h1m5 0h1M22 8.5h2M5 9.5h1m22 0h2M9 10.5h1M0 11.5h3m26 0h1M9 12.5h1m13 0h1m6 0h1M1 13.5h1m5 0h1m11 0h1m5 0h1M4 14.5h1m25 0h1M3 15.5h1M22 17.5h1M3 19.5h1M0 20.5h1m5 0h1m23 0h2M6 21.5h1m9 0h1m8 0h1m2 0h1M3 22.5h1m4 0h1m11 0h1m8 0h1M1 23.5h1m2 0h1m10 0h1M0 24.5h1m1 0h2m1 0h1m2 0h1m9 0h1m6 0h1M6 25.5h1m3 0h2m3 0h1m1 0h1M28 26.5h1m1 0h1M0 27.5h1m6 0h1m8 0h1m8 0h1M2 28.5h2m10 0h1m11 0h1M1 29.5h1m3 0h1m4 0h1m6 0h2m2 0h1m7 0h1M2 30.5h1m8 0h1m17 0h1"/><path stroke="#2b748e" d="M8 0.5h3m3 0h1m7 0h1m1 0h1M0 1.5h3m1 0h1m1 0h1m10 0h2m5 0h2M2 2.5h1m6 0h2m13 0h1M1 3.5h1m3 0h1m5 0h1m4 0h1m4 0h1M0 4.5h2m29 0h1M2 5.5h1m5 0h1m3 0h1m2 0h1m2 0h1m8 0h1M13 6.5h1M8 7.5h1m4 0h1m5 0h1m1 0h1m2 0h1m1 0h1m1 0h1M0 8.5h1m4 0h1m1 0h1m5 0h1m3 0h1M4 9.5h1m8 0h2m12 0h1M4 10.5h1m6 0h1m7 0h1m6 0h1M4 11.5h2m5 0h1M2 12.5h1m5 0h1m1 0h1m7 0h1m12 0h1M4 13.5h1m19 0h1m4 0h1m1 0h1M7 14.5h1M9 15.5h1m21 0h1M1 16.5h1M0 17.5h1m20 0h1m4 0h1m2 0h2M3 18.5h1m2 0h1M28 19.5h1M9 20.5h1m1 0h1M0 21.5h2M28 22.5h1m2 0h1M13 23.5h1m10 0h1M26 24.5h1m1 0h1m1 0h2M5 25.5h1m7 0h1m7 0h1M1 26.5h3M2 27.5h1m2 0h1m5 0h1m2 0h1M16 28.5h1m3 0h1m2 0h1m7 0h1M0 29.5h1m10 0h1m4 0h1m8 0h1m4 0h1M0 30.5h1m2 0h1m3 0h1m4 0h1m1 0h1m8 0h1m3 0h1M1 31.5h1m1 0h1m1 0h1m8 0h1m2 0h1m1 0h1m7 0h1"/><path stroke="#297b8e" d="M16 0.5h1M8 1.5h1m3 0h1m13 0h2M0 2.5h1m3 0h1m10 0h1m2 0h1m1 0h1m10 0h1M18 3.5h1m3 0h2M3 4.5h2m1 0h2m2 0h1m4 0h1M0 5.5h1m4 0h2m2 0h3m4 0h1m2 0h2m2 0h1m1 0h2m2 0h2M9 6.5h1m5 0h1M0 7.5h1m1 0h1m3 0h1m5 0h1m16 0h2M1 8.5h1m7 0h1m2 0h1m1 0h1m1 0h1m2 0h1m7 0h1M1 9.5h1m20 0h1m7 0h1M8 10.5h1m3 0h1m3 0h1m6 0h1m3 0h1M21 11.5h1M20 12.5h1m6 0h1m1 0h1M8 13.5h1m14 0h1m2 0h1M1 14.5h1m1 0h1m1 0h1m4 0h1M0 15.5h1m3 0h1m24 0h1M4 17.5h1m18 0h1M26 18.5h1M5 19.5h1m5 0h1m17 0h1M15 20.5h1m7 0h1m5 0h1M3 21.5h1m18 0h2M1 22.5h1m7 0h1m2 0h1m9 0h1M0 23.5h1m10 0h1m14 0h1m4 0h1M1 24.5h1m7 0h1m2 0h1m3 0h2m1 0h2m2 0h1M1 25.5h1m7 0h1m9 0h1m5 0h3M8 26.5h1m9 0h2m1 0h1m2 0h1M9 27.5h1m3 0h1m6 0h1m3 0h1m2 0h1m3 0h1M1 28.5h1m16 0h2m4 0h1m3 0h1M19 29.5h1m4 0h1M15 30.5h1m8 0h1M6 31.5h1m3 0h1m17 0h1"/><path stroke="#26818e" d="M4 0.5h1M30 1.5h1M16 2.5h1M14 5.5h1M1 6.5h1m8 0h1m10 0h2m2 0h1m4 0h1M9 7.5h1m1 0h1m3 0h1m9 0h1M10 8.5h2M10 9.5h1m12 0h2M3 10.5h1m3 0h1m10 0h1m3 0h1m6 0h1m1 0h1M15 11.5h1m7 0h2m1 0h1m3 0h1M5 12.5h1m19 0h1M5 13.5h2M24 14.5h1M2 15.5h1m20 0h1m1 0h1M30 16.5h1M28 17.5h1M0 18.5h1m22 0h1m3 0h1m3 0h1M26 19.5h1m3 0h1M3 20.5h1m1 0h1m1 0h1M2 21.5h1m4 0h1m1 0h1m16 0h1M4 22.5h1m1 0h2m3 0h1m14 0h2M5 23.5h1m2 0h1m1 0h1m3 0h1m12 0h1M6 24.5h1m3 0h2m3 0h1m5 0h1m5 0h1M14 25.5h1m3 0h1m1 0h1m1 0h2m4 0h1m1 0h1M0 26.5h1m6 0h1m6 0h1m2 0h1m4 0h1m2 0h1M1 27.5h1m2 0h1m18 0h1M5 28.5h1m11 0h1m9 0h1m1 0h1M3 29.5h2m4 0h1M5 30.5h1m14 0h1M9 31.5h1m2 0h1m2 0h1m10 0h1m4 0h1"/><path stroke="#24878e" d="M23 1.5h1M14 2.5h1m4 0h1m7 0h1M2 3.5h1m14 0h1m1 0h1m11 0h1M5 4.5h1m5 0h1m1 0h1m5 0h1m5 0h1M6 6.5h1m20 0h1M5 7.5h1m12 0h1m1 0h1M8 9.5h2m5 0h1m1 0h1m2 0h1M10 10.5h1m3 0h2m1 0h1m6 0h1m3 0h1M10 11.5h1m1 0h1M0 12.5h2m12 0h1m9 0h1m1 0h1M11 13.5h1m9 0h2M6 15.5h2m22 0h1M2 16.5h1m2 0h3m23 0h1M2 17.5h1m2 0h1m5 0h1m15 0h1M4 18.5h1m5 0h1m7 0h1m1 0h1m3 0h1M8 19.5h2m12 0h2M10 20.5h1m3 0h1m1 0h1m4 0h1m2 0h2m1 0h1M10 21.5h1m10 0h1m2 0h1m2 0h1M10 22.5h1m3 0h1m8 0h1M6 23.5h2m9 0h1m3 0h1m3 0h1m4 0h1M4 24.5h1m2 0h1m6 0h1M4 25.5h1m7 0h1M16 26.5h1m9 0h2M12 27.5h1M6 28.5h1M7 29.5h1m18 0h2M1 30.5h1m17 0h1m5 0h1"/><path stroke="#228d8d" d="M28 4.5h1M5 6.5h1m6 0h1M16 7.5h1M8 8.5h1m11 0h1m3 0h2M18 9.5h2M6 10.5h1M9 11.5h1m4 0h1m3 0h2M11 12.5h1m10 0h1M9 13.5h2m1 0h1m14 0h1M8 14.5h1m12 0h1m4 0h1M10 15.5h1m17 0h1M4 16.5h1m21 0h2m1 0h1M6 17.5h1M5 18.5h1m8 0h1m7 0h1m2 0h1M12 19.5h1m6 0h1m4 0h1M12 20.5h1m4 0h1m8 0h1M13 21.5h1m6 0h1M24 22.5h1M2 23.5h1m15 0h3M13 24.5h1M16 25.5h1M5 26.5h2m2 0h2m1 0h2m9 0h1M19 27.5h1m6 0h1M0 28.5h1M17 30.5h1"/><path stroke="#20938c" d="M12 9.5h1m12 0h1M20 10.5h1M6 11.5h1m6 0h1m3 0h1M4 12.5h1m1 0h1m12 0h1M12 14.5h1m5 0h1M10 17.5h1m1 0h1m7 0h1m3 0h1M9 18.5h1m1 0h1m9 0h1M10 19.5h1M8 20.5h1M14 21.5h1M18 22.5h1M16 23.5h1"/><path stroke="#1f998a" d="M12 12.5h1M5 15.5h1m2 0h1m2 0h2m8 0h1m2 0h1M11 16.5h1m12 0h2m2 0h1M12 18.5h2m2 0h1M17 19.5h2m2 0h1M15 21.5h1M13 22.5h1m1 0h1M22 24.5h1"/><path stroke="#1fa088" d="M13 10.5h1M20 11.5h1M13 13.5h1m1 0h1M11 14.5h1m1 0h2m5 0h1M22 15.5h1M22 16.5h1M8 17.5h1M13 20.5h1M12 21.5h1m4 0h3"/><path stroke="#21a585" d="M16 11.5h1M17 12.5h1m3 0h1M16 13.5h2M19 14.5h1M10 16.5h1m8 0h1m1 0h1M15 18.5h1M15 19.5h1M18 20.5h1M17 22.5h1"/><path stroke="#25ac82" d="M15 12.5h2M18 13.5h1M16 14.5h1M13 15.5h1M15 16.5h1M17 18.5h1m1 0h1M13 19.5h1m6 0h1"/><path stroke="#2db27d" d="M13 12.5h1M14 13.5h1M18 15.5h1M12 16.5h1m1 0h1M13 17.5h2M14 19.5h1m1 0h1"/><path stroke="#35b779" d="M15 14.5h1m1 0h1M19 15.5h1M20 16.5h1M15 17.5h1"/><path stroke="#40bd72" d="M15 15.5h1m4 0h1M13 16.5h1M18 17.5h2"/><path stroke="#4cc26c" d="M14 15.5h1m1 0h2M17 16.5h2"/><path stroke="#5ac864" d="M16 17.5h2"/><path stroke="#fde725" d="M16 16.5h1"/></g></svg><svg class="p" style="left:1783.0px;top:1082.0px" width="372.5" height="393.0" viewBox="0 0 16 16" preserveAspectRatio="none"><g fill="none" stroke-width="1.02"><path stroke="#460a5d" d="M4 2.5h1m6 0h1M0 4.5h1M0 12.5h1M5 14.5h1m6 0h1"/><path stroke="#482576" d="M2 0.5h1m11 0h1"/><path stroke="#453581" d="M0 0.5h1M4 4.5h1m7 0h1M13 5.5h1M0 8.5h1M3 11.5h1M4 12.5h1m7 0h1"/><path stroke="#404588" d="M5 1.5h1m4 0h2M14 2.5h1M3 7.5h1M13 9.5h1M2 14.5h1M5 15.5h2m4 0h1"/><path stroke="#3a538b" d="M1 1.5h1m11 0h1m1 0h1M2 2.5h1m10 0h1M9 3.5h1M3 4.5h1m6 0h1M6 12.5h1m6 0h1M7 13.5h1M3 14.5h1m10 0h1M1 15.5h1m1 0h1m11 0h1"/><path stroke="#34618d" d="M1 0.5h1m1 0h1m1 0h1m5 0h1m1 0h1m1 0h1M0 1.5h1m1 0h2m10 0h1M6 2.5h1m8 0h1M0 3.5h1m5 0h1m4 0h3M1 4.5h2m5 0h1M2 5.5h1M1 6.5h1m3 0h1m4 0h1M0 7.5h1m10 0h1M0 9.5h1m4 0h1M6 10.5h1m4 0h1m3 0h1M14 11.5h1M8 12.5h1m5 0h2M0 13.5h1m2 0h3m4 0h1m3 0h2M1 14.5h1m8 0h1M0 15.5h1m1 0h1m10 0h2"/><path stroke="#2e6e8e" d="M14 7.5h1M2 9.5h1m1 0h1"/><path stroke="#297b8e" d="M4 0.5h1m1 0h1m3 0h1m1 0h1M4 1.5h1m7 0h1M3 2.5h1m1 0h1m2 0h1m1 0h1m1 0h1M1 3.5h3m1 0h1m2 0h1m1 0h1M6 4.5h1m2 0h1m4 0h2M0 5.5h1m2 0h1m1 0h1m9 0h1M15 6.5h1M12 7.5h1M1 8.5h2m1 0h1m6 0h2m1 0h2M14 9.5h2M1 10.5h1m1 0h1m5 0h1M0 11.5h2m9 0h1m1 0h1M1 12.5h2m4 0h1M1 13.5h1m4 0h1m1 0h1m2 0h1m1 0h1M4 14.5h1m1 0h1m1 0h1m2 0h1m1 0h1M4 15.5h1m7 0h1"/><path stroke="#24878e" d="M8 0.5h1M6 1.5h1m1 0h1M0 2.5h2m5 0h1M7 3.5h1m6 0h2M5 4.5h1m5 0h1M1 5.5h1m9 0h1M0 6.5h1m1 0h1m4 0h1m5 0h1M1 7.5h2m12 0h1M3 8.5h1m1 0h1m7 0h1M1 9.5h1m1 0h1m8 0h1M0 10.5h1m4 0h1m1 0h1m6 0h1M5 11.5h1M5 12.5h1m4 0h1M2 13.5h1m6 0h1M0 14.5h1m8 0h1m5 0h1M10 15.5h1"/><path stroke="#20938c" d="M7 0.5h1m1 0h1M7 1.5h1m1 0h1M9 2.5h1M6 5.5h1m3 0h1m3 0h1M4 6.5h1m4 0h1m1 0h2m1 0h1M4 7.5h1m4 0h1m3 0h1M6 8.5h1m3 0h1M6 9.5h3M2 10.5h1m1 0h1m3 0h1m1 0h1m1 0h2M2 11.5h1m3 0h1m3 0h1m1 0h1m2 0h1M3 12.5h1m7 0h1M7 14.5h1M7 15.5h3"/><path stroke="#1fa088" d="M4 3.5h1M7 4.5h1m5 0h1M4 5.5h1m7 0h1M3 6.5h1m2 0h1m1 0h1M5 7.5h1m2 0h1m1 0h1M10 9.5h2M4 11.5h1m2 0h3M9 12.5h1M12 13.5h1"/><path stroke="#25ac82" d="M7 5.5h3M6 7.5h1M9 9.5h1"/><path stroke="#40bd72" d="M7 7.5h1M7 8.5h1m1 0h1"/><path stroke="#fde725" d="M8 8.5h1"/></g></svg><svg class="p" style="left:36.0px;top:1586.5px" width="372.0" height="392.5" viewBox="0 0 32 32" preserveAspectRatio="none"><g fill="none" stroke-width="1.02" filter="url(#fbB)"><path stroke="#3d3d3d" d="M-4 -3.5h19m2 0h19M-4 -2.5h1m38 0h1M-4 -1.5h1m38 0h1M-4 -0.5h1m38 0h1M-4 0.5h1m38 0h1M-4 1.5h1m38 0h1M-4 2.5h1m38 0h1M-4 3.5h1m38 0h1M-4 4.5h1m38 0h1M-4 5.5h1m38 0h1M-4 6.5h1m38 0h1M-4 7.5h1m38 0h1M-4 8.5h1m38 0h1M-4 9.5h1m38 0h1M-4 10.5h1m38 0h1M-4 11.5h1m38 0h1M-4 12.5h1m38 0h1M-4 13.5h1m38 0h1M-4 18.5h1m38 0h1M-4 19.5h1m38 0h1M-4 20.5h1m38 0h1M-4 21.5h1m38 0h1M-4 22.5h1m38 0h1M-4 23.5h1m38 0h1M-4 24.5h1m38 0h1M-4 25.5h1m38 0h1M-4 26.5h1m38 0h1M-4 27.5h1m38 0h1M-4 28.5h1m38 0h1M-4 29.5h1m38 0h1M-4 30.5h1m38 0h1M-4 31.5h1m38 0h1M-4 32.5h1m38 0h1M-4 33.5h1m38 0h1M-4 34.5h1m38 0h1M-4 35.5h19m2 0h19"/><path stroke="#414141" d="M-3 -2.5h18m2 0h18M-3 -1.5h18m2 0h18M-3 -0.5h2m34 0h2M-3 0.5h2m34 0h2M-3 1.5h2m34 0h2M-3 2.5h2m34 0h2M-3 3.5h2m34 0h2M-3 4.5h2m34 0h2M-3 5.5h2m34 0h2M-3 6.5h2m34 0h2M-3 7.5h2m34 0h2M-3 8.5h2m34 0h2M-3 9.5h2m34 0h2M-3 10.5h2m34 0h2M-3 11.5h2m34 0h2M-3 12.5h2m34 0h2M-3 13.5h2m34 0h2M-4 14.5h2m36 0h2M-4 17.5h2m36 0h2M-3 18.5h2m34 0h2M-3 19.5h2m34 0h2M-3 20.5h2m34 0h2M-3 21.5h2m34 0h2M-3 22.5h2m34 0h2M-3 23.5h2m34 0h2M-3 24.5h2m34 0h2M-3 25.5h2m34 0h2M-3 26.5h2m34 0h2M-3 27.5h2m34 0h2M-3 28.5h2m34 0h2M-3 29.5h2m34 0h2M-3 30.5h2m34 0h2M-3 31.5h2m34 0h2M-3 32.5h2m34 0h2M-3 33.5h18m2 0h18M-3 34.5h18m2 0h18"/><path stroke="#454545" d="M15 -3.5h2M-1 -0.5h16m2 0h16M-1 0.5h16m2 0h16M-1 1.5h2m30 0h2M-1 2.5h2m30 0h2M-1 3.5h2m30 0h2M-1 4.5h2m30 0h2M-1 5.5h2m30 0h2M-1 6.5h2m30 0h2M-1 7.5h2m30 0h2M-1 8.5h2m30 0h2M-1 9.5h2m30 0h2M-1 10.5h2m30 0h2M-1 11.5h2m30 0h2M-1 12.5h2m30 0h2M-1 13.5h2m30 0h2M-2 14.5h2m32 0h2M-2 17.5h2m32 0h2M-1 18.5h2m30 0h2M-1 19.5h2m30 0h2M-1 20.5h2m30 0h2M-1 21.5h2m30 0h2M-1 22.5h2m30 0h2M-1 23.5h2m30 0h2M-1 24.5h2m30 0h2M-1 25.5h2m30 0h2M-1 26.5h2m30 0h2M-1 27.5h2m30 0h2M-1 28.5h2m30 0h2M-1 29.5h2m30 0h2M-1 30.5h2m30 0h2M-1 31.5h16m2 0h16M-1 32.5h16m2 0h16M15 35.5h2"/><path stroke="#494949" d="M15 -2.5h2M15 -1.5h2M1 1.5h14m2 0h14M1 2.5h14m2 0h14M1 3.5h11m8 0h11M1 4.5h3m24 0h3M1 5.5h3m24 0h3M1 6.5h3m24 0h3M1 7.5h3m24 0h3M1 8.5h3m24 0h3M1 9.5h3m24 0h3M1 10.5h3m24 0h3M1 11.5h3m24 0h3M1 12.5h2m26 0h2M1 13.5h2m26 0h2M0 14.5h2m28 0h2M0 17.5h2m28 0h2M1 18.5h2m26 0h2M1 19.5h2m26 0h2M1 20.5h3m24 0h3M1 21.5h3m24 0h3M1 22.5h3m24 0h3M1 23.5h3m24 0h3M1 24.5h3m24 0h3M1 25.5h3m24 0h3M1 26.5h3m24 0h3M1 27.5h3m24 0h3M1 28.5h11m8 0h11M1 29.5h14m2 0h14M1 30.5h14m2 0h14M15 33.5h2M15 34.5h2"/><path stroke="#4d4d4d" d="M15 -0.5h2M15 0.5h2M12 3.5h3m2 0h3M4 4.5h11m2 0h11M4 5.5h11m2 0h11M4 6.5h5m14 0h5M4 7.5h3m18 0h3M4 8.5h3m18 0h3M4 9.5h2m20 0h2M4 10.5h2m20 0h2M4 11.5h2m20 0h2M3 12.5h3m20 0h3M3 13.5h3m20 0h3M2 14.5h3m22 0h3M2 17.5h3m22 0h3M3 18.5h3m20 0h3M3 19.5h3m20 0h3M4 20.5h2m20 0h2M4 21.5h2m20 0h2M4 22.5h2m20 0h2M4 23.5h3m18 0h3M4 24.5h3m18 0h3M4 25.5h5m14 0h5M4 26.5h11m2 0h11M4 27.5h11m2 0h11M12 28.5h3m2 0h3M15 31.5h2M15 32.5h2"/><path stroke="#515151" d="M15 1.5h2M15 2.5h2M15 3.5h2M9 6.5h6m2 0h6M7 7.5h8m2 0h8M7 8.5h4m10 0h4M6 9.5h3m14 0h3M6 10.5h3m14 0h3M6 11.5h2m16 0h2M6 12.5h2m16 0h2M6 13.5h2m16 0h2M5 14.5h2m18 0h2M-4 15.5h2m36 0h2M-4 16.5h2m36 0h2M5 17.5h2m18 0h2M6 18.5h2m16 0h2M6 19.5h2m16 0h2M6 20.5h2m16 0h2M6 21.5h3m14 0h3M6 22.5h3m14 0h3M7 23.5h4m10 0h4M7 24.5h8m2 0h8M9 25.5h6m2 0h6M15 28.5h2M15 29.5h2M15 30.5h2"/><path stroke="#555555" d="M15 4.5h2M15 5.5h2M11 8.5h4m2 0h4M9 9.5h5m4 0h5M9 10.5h1m11 0h2M8 11.5h2m12 0h2M8 12.5h2m12 0h2M8 13.5h2m12 0h2M7 14.5h2m14 0h2M-2 15.5h2m32 0h2M-2 16.5h2m32 0h2M7 17.5h2m14 0h2M8 18.5h2m12 0h2M8 19.5h2m12 0h2M8 20.5h2m12 0h2M9 21.5h2m11 0h1M9 22.5h5m4 0h5M11 23.5h4m2 0h4M15 26.5h2M15 27.5h2"/><path stroke="#595959" d="M15 6.5h2M15 7.5h2M14 9.5h1m2 0h1M10 10.5h5m2 0h4M10 11.5h1m7 0h4M10 12.5h1m9 0h2M10 13.5h1m9 0h2M9 14.5h1m12 0h1M0 15.5h3m26 0h3M0 16.5h3m26 0h3M9 17.5h1m12 0h1M10 18.5h2m9 0h1M10 19.5h2m9 0h1M10 20.5h4m7 0h1M11 21.5h4m2 0h5M14 22.5h1m2 0h1M15 24.5h2M15 25.5h2"/><path stroke="#5d5d5d" d="M15 8.5h2M11 11.5h4m2 0h1M11 12.5h1m5 0h3M11 13.5h1m7 0h1M10 14.5h2m8 0h2M3 15.5h2m22 0h2M3 16.5h2m22 0h2M10 17.5h2m8 0h2M12 18.5h1m7 0h1M12 19.5h3m5 0h1M14 20.5h1m2 0h4M15 23.5h2"/><path stroke="#616161" d="M15 9.5h2M15 10.5h2M12 12.5h3M12 13.5h1m5 0h1M12 14.5h1m6 0h1M5 15.5h2m18 0h2M5 16.5h2m18 0h2M12 17.5h1m6 0h1M13 18.5h1m5 0h1M17 19.5h3M15 21.5h2M15 22.5h2"/><path stroke="#656565" d="M15 11.5h2M17 13.5h1M18 14.5h1M7 15.5h2m14 0h2M7 16.5h2m14 0h2M13 17.5h1M14 18.5h1M15 20.5h2"/><path stroke="#696969" d="M15 12.5h2M13 13.5h2M9 15.5h2m10 0h2M9 16.5h2m10 0h2M17 18.5h2M15 19.5h2"/><path stroke="#6d6d6d" d="M13 14.5h1M11 15.5h1m8 0h1M11 16.5h1m8 0h1M18 17.5h1"/><path stroke="#717171" d="M15 13.5h2M12 15.5h1m6 0h1M12 16.5h1m6 0h1M15 18.5h2"/><path stroke="#757575" d="M17 14.5h1M14 17.5h1"/><path stroke="#7d7d7d" d="M13 15.5h1m4 0h1M13 16.5h1m4 0h1"/><path stroke="#828282" d="M14 14.5h1M17 17.5h1"/><path stroke="#8a8a8a" d="M16 14.5h1M15 17.5h1"/><path stroke="#929292" d="M15 14.5h1M17 15.5h1M14 16.5h1M16 17.5h1"/><path stroke="#9a9a9a" d="M14 15.5h1M17 16.5h1"/><path stroke="#bababa" d="M16 15.5h1M15 16.5h1"/><path stroke="#bebebe" d="M15 15.5h1M16 16.5h1"/></g><g filter="url(#fsB)" style="mix-blend-mode:lighten"><rect x="15.730" y="0.00" width="0.860" height="32.00" fill="#6b6b6b"/><rect x="15.988" y="0.00" width="0.344" height="32.00" fill="#757575"/><rect x="0.00" y="15.103" width="32.00" height="1.794" fill="#5c5c5c"/><rect x="0.00" y="15.674" width="32.00" height="0.652" fill="#666666"/><ellipse cx="16.160" cy="16.000" rx="0.344" ry="0.408" fill="#e6e6e6"/></g></svg><svg class="p" style="left:472.8px;top:1586.5px" width="372.3" height="392.5" viewBox="0 0 32 32" preserveAspectRatio="none"><g fill="none" stroke-width="1.02" filter="url(#fbA)"><path stroke="#393939" d="M-4 -3.5h40M-4 -2.5h1m38 0h1M-4 -1.5h1m38 0h1M-4 -0.5h1m38 0h1M-4 0.5h1m38 0h1M-4 1.5h1m38 0h1M-4 2.5h1m38 0h1M-4 3.5h1m38 0h1M-4 4.5h1m38 0h1M-4 5.5h1m38 0h1M-4 6.5h1m38 0h1M-4 7.5h1m38 0h1M-4 8.5h1m38 0h1M-4 9.5h1m38 0h1M-4 10.5h1m38 0h1M-4 11.5h1m38 0h1M-4 12.5h1m38 0h1M-4 13.5h1m38 0h1M-4 14.5h1m38 0h1M-4 15.5h1m38 0h1M-4 16.5h1m38 0h1M-4 17.5h1m38 0h1M-4 18.5h1m38 0h1M-4 19.5h1m38 0h1M-4 20.5h1m38 0h1M-4 21.5h1m38 0h1M-4 22.5h1m38 0h1M-4 23.5h1m38 0h1M-4 24.5h1m38 0h1M-4 25.5h1m38 0h1M-4 26.5h1m38 0h1M-4 27.5h1m38 0h1M-4 28.5h1m38 0h1M-4 29.5h1m38 0h1M-4 30.5h1m38 0h1M-4 31.5h1m38 0h1M-4 32.5h1m38 0h1M-4 33.5h1m38 0h1M-4 34.5h1m38 0h1M-4 35.5h40"/><path stroke="#3d3d3d" d="M-3 -2.5h38M-3 -1.5h38M-3 -0.5h2m34 0h2M-3 0.5h2m34 0h2M-3 1.5h2m34 0h2M-3 2.5h2m34 0h2M-3 3.5h2m34 0h2M-3 4.5h2m34 0h2M-3 5.5h2m34 0h2M-3 6.5h2m34 0h2M-3 7.5h2m34 0h2M-3 8.5h2m34 0h2M-3 9.5h2m34 0h2M-3 10.5h2m34 0h2M-3 11.5h2m34 0h2M-3 12.5h2m34 0h2M-3 13.5h2m34 0h2M-3 14.5h2m34 0h2M-3 15.5h2m34 0h2M-3 16.5h2m34 0h2M-3 17.5h2m34 0h2M-3 18.5h2m34 0h2M-3 19.5h2m34 0h2M-3 20.5h2m34 0h2M-3 21.5h2m34 0h2M-3 22.5h2m34 0h2M-3 23.5h2m34 0h2M-3 24.5h2m34 0h2M-3 25.5h2m34 0h2M-3 26.5h2m34 0h2M-3 27.5h2m34 0h2M-3 28.5h2m34 0h2M-3 29.5h2m34 0h2M-3 30.5h2m34 0h2M-3 31.5h2m34 0h2M-3 32.5h2m34 0h2M-3 33.5h38M-3 34.5h38"/><path stroke="#414141" d="M-1 -0.5h34M-1 0.5h34M-1 1.5h34M-1 2.5h3m28 0h3M-1 3.5h3m28 0h3M-1 4.5h3m28 0h3M-1 5.5h3m28 0h3M-1 6.5h3m28 0h3M-1 7.5h3m28 0h3M-1 8.5h3m28 0h3M-1 9.5h3m28 0h3M-1 10.5h3m28 0h3M-1 11.5h3m28 0h3M-1 12.5h3m28 0h3M-1 13.5h3m28 0h3M-1 14.5h3m28 0h3M-1 15.5h3m28 0h3M-1 16.5h3m28 0h3M-1 17.5h3m28 0h3M-1 18.5h3m28 0h3M-1 19.5h3m28 0h3M-1 20.5h3m28 0h3M-1 21.5h3m28 0h3M-1 22.5h3m28 0h3M-1 23.5h3m28 0h3M-1 24.5h3m28 0h3M-1 25.5h3m28 0h3M-1 26.5h3m28 0h3M-1 27.5h3m28 0h3M-1 28.5h3m28 0h3M-1 29.5h3m28 0h3M-1 30.5h34M-1 31.5h34M-1 32.5h34"/><path stroke="#454545" d="M2 2.5h28M2 3.5h28M2 4.5h3m1 0h3m14 0h3m1 0h3M2 5.5h2m24 0h2M2 6.5h3m22 0h3M2 7.5h3m22 0h3M2 8.5h3m22 0h3M2 9.5h2m24 0h2M2 10.5h2m24 0h2M2 11.5h2m24 0h2M2 12.5h2m24 0h2M2 13.5h2m24 0h2M2 14.5h2m24 0h2M2 15.5h2m24 0h2M2 16.5h2m24 0h2M2 17.5h2m24 0h2M2 18.5h2m24 0h2M2 19.5h2m24 0h2M2 20.5h2m24 0h2M2 21.5h2m24 0h2M2 22.5h2m24 0h2M2 23.5h3m22 0h3M2 24.5h3m22 0h3M2 25.5h3m22 0h3M2 26.5h2m24 0h2M2 27.5h3m1 0h3m14 0h3m1 0h3M2 28.5h28M2 29.5h28"/><path stroke="#494949" d="M5 4.5h1m3 0h14m3 0h1M4 5.5h11m2 0h11M5 6.5h1m20 0h1M5 7.5h1m20 0h1M5 8.5h1m20 0h1M4 9.5h2m20 0h2M4 10.5h2m20 0h2M4 11.5h2m20 0h2M4 12.5h2m20 0h2M4 13.5h2m20 0h2M4 14.5h2m20 0h2M4 15.5h1m22 0h1M4 16.5h1m22 0h1M4 17.5h2m20 0h2M4 18.5h2m20 0h2M4 19.5h2m20 0h2M4 20.5h2m20 0h2M4 21.5h2m20 0h2M4 22.5h2m20 0h2M5 23.5h1m20 0h1M5 24.5h1m20 0h1M5 25.5h1m20 0h1M4 26.5h11m2 0h11M5 27.5h1m3 0h14m3 0h1"/><path stroke="#4d4d4d" d="M15 5.5h2M6 6.5h20M6 7.5h6m8 0h6M6 8.5h2m16 0h2M6 9.5h2m16 0h2M6 10.5h2m16 0h2M6 11.5h2m16 0h2M6 12.5h1m18 0h1M6 13.5h1m18 0h1M6 14.5h1m18 0h1M5 15.5h2m18 0h2M5 16.5h2m18 0h2M6 17.5h1m18 0h1M6 18.5h1m18 0h1M6 19.5h1m18 0h1M6 20.5h2m16 0h2M6 21.5h2m16 0h2M6 22.5h2m16 0h2M6 23.5h2m16 0h2M6 24.5h6m8 0h6M6 25.5h20M15 26.5h2"/><path stroke="#515151" d="M12 7.5h8M8 8.5h1m1 0h3m6 0h3m1 0h1M8 10.5h1m14 0h1M8 11.5h1m14 0h1M7 12.5h2m14 0h2M7 13.5h1m16 0h1M7 14.5h1m16 0h1M7 15.5h1m16 0h1M7 16.5h1m16 0h1M7 17.5h1m16 0h1M7 18.5h1m16 0h1M7 19.5h2m14 0h2M8 20.5h1m14 0h1M8 21.5h1m14 0h1M8 23.5h1m1 0h3m6 0h3m1 0h1M12 24.5h8"/><path stroke="#555555" d="M9 8.5h1m3 0h6m3 0h1M8 9.5h1m3 0h1m6 0h1m3 0h1M9 12.5h1m12 0h1M8 13.5h1m14 0h1M8 14.5h1m14 0h1M8 15.5h1m14 0h1M8 16.5h1m14 0h1M8 17.5h1m14 0h1M8 18.5h1m14 0h1M9 19.5h1m12 0h1M8 22.5h1m3 0h1m6 0h1m3 0h1M9 23.5h1m3 0h6m3 0h1"/><path stroke="#595959" d="M9 9.5h3m1 0h6m1 0h3M9 10.5h1m12 0h1M9 11.5h1m12 0h1M9 13.5h1m12 0h1M9 14.5h1m12 0h1M9 15.5h1m12 0h1M9 16.5h1m12 0h1M9 17.5h1m12 0h1M9 18.5h1m12 0h1M9 20.5h1m12 0h1M9 21.5h1m12 0h1M9 22.5h3m1 0h6m1 0h3"/><path stroke="#5d5d5d" d="M10 10.5h1m1 0h8m1 0h1M10 12.5h1m10 0h1M10 13.5h1m10 0h1M10 14.5h1m10 0h1M10 15.5h1m10 0h1M10 16.5h1m10 0h1M10 17.5h1m10 0h1M10 18.5h1m10 0h1M10 19.5h1m10 0h1M10 21.5h1m1 0h8m1 0h1"/><path stroke="#616161" d="M11 10.5h1m8 0h1M10 11.5h1m10 0h1M10 20.5h1m10 0h1M11 21.5h1m8 0h1"/><path stroke="#656565" d="M11 11.5h1m1 0h6m1 0h1M11 13.5h1m8 0h1M11 14.5h1m8 0h1M11 15.5h1m8 0h1M11 16.5h1m8 0h1M11 17.5h1m8 0h1M11 18.5h1m8 0h1M11 20.5h1m1 0h6m1 0h1"/><path stroke="#696969" d="M12 11.5h1m6 0h1M11 12.5h1m8 0h1M11 19.5h1m8 0h1M12 20.5h1m6 0h1"/><path stroke="#717171" d="M12 12.5h1m1 0h4m1 0h1M12 14.5h1m6 0h1M12 15.5h1m6 0h1M12 16.5h1m6 0h1M12 17.5h1m6 0h1M12 19.5h1m1 0h4m1 0h1"/><path stroke="#757575" d="M13 12.5h1m4 0h1M12 13.5h1m6 0h1M12 18.5h1m6 0h1M13 19.5h1m4 0h1"/><path stroke="#828282" d="M13 13.5h1m4 0h1M13 18.5h1m4 0h1"/><path stroke="#868686" d="M14 13.5h4M13 14.5h1m4 0h1M13 15.5h1m4 0h1M13 16.5h1m4 0h1M13 17.5h1m4 0h1M14 18.5h4"/><path stroke="#969696" d="M14 14.5h1m2 0h1M14 17.5h1m2 0h1"/><path stroke="#a2a2a2" d="M15 14.5h2M14 15.5h1m2 0h1M14 16.5h1m2 0h1M15 17.5h2"/><path stroke="#b6b6b6" d="M15 15.5h2M15 16.5h2"/></g><g filter="url(#fsA)" style="mix-blend-mode:lighten"><rect x="16.031" y="0.00" width="0.258" height="32.00" fill="#808080"/><ellipse cx="16.160" cy="16.160" rx="0.430" ry="0.245" fill="#f2f2f2"/></g></svg><svg class="p" style="left:910.4px;top:1586.5px" width="371.6" height="392.5" viewBox="0 0 64 64" preserveAspectRatio="none"><g fill="none" stroke-width="1.02"><path stroke="#440154" d="M46 1.5h1M15 2.5h1M51 3.5h1m7 0h1M10 6.5h1m38 0h1M62 7.5h1M62 11.5h1M1 12.5h1M1 13.5h1M0 14.5h1M59 15.5h1M61 16.5h1M0 45.5h1M5 47.5h1m52 0h1M60 48.5h1m1 0h1M5 50.5h1M5 56.5h1M60 58.5h1M50 59.5h1m9 0h1M5 60.5h1M8 63.5h2m2 0h1m38 0h1"/><path stroke="#460a5d" d="M49 1.5h1M6 4.5h1M6 6.5h1m11 0h1m26 0h1M55 8.5h1M47 9.5h1M54 11.5h1M12 12.5h1M13 14.5h1m33 0h1M54 17.5h1m2 0h1M50 18.5h1m2 0h1M63 21.5h1M6 24.5h1M2 25.5h1M13 40.5h1M48 41.5h1m6 0h1m2 0h1M11 42.5h1M8 45.5h1m45 0h1M12 46.5h1m42 0h1M50 47.5h1m5 0h1M59 48.5h1M51 49.5h1M56 50.5h1M50 52.5h1m5 0h1M53 53.5h1m2 0h1M3 55.5h1M20 56.5h1m35 0h1M10 57.5h1M54 58.5h1M14 59.5h1m39 0h1M9 60.5h1M6 61.5h1"/><path stroke="#481467" d="M1 1.5h1m50 0h1M9 2.5h1M17 3.5h1m31 0h1m2 0h1M42 4.5h1m15 0h1M44 6.5h1M52 7.5h1m8 0h1M21 10.5h1M10 11.5h1M61 12.5h1M57 13.5h1M3 14.5h1m38 0h1m6 0h1M60 15.5h1m2 0h1M2 18.5h1M11 19.5h1M0 22.5h1m19 0h1M56 23.5h1M46 25.5h1M49 26.5h1m3 0h1M6 38.5h1M0 39.5h1M13 41.5h1m42 0h1M18 42.5h1M6 43.5h1m8 0h1M21 44.5h1M46 46.5h1M2 47.5h1M43 48.5h1M44 49.5h1M9 51.5h1M7 55.5h1m14 0h1m20 0h1m19 0h1M61 56.5h1M42 57.5h1M1 58.5h2M4 62.5h1m45 0h1"/><path stroke="#481c6e" d="M3 0.5h1m5 0h1m39 0h1M13 2.5h1M19 3.5h1M14 4.5h1m34 0h1M12 5.5h1m32 0h1M20 6.5h1m36 0h1M18 7.5h1M7 9.5h1m32 0h1m7 0h1M47 10.5h1m9 0h1M47 11.5h1M16 12.5h1m25 0h1M45 13.5h1M50 15.5h1M17 16.5h1M59 17.5h1M1 18.5h1M48 19.5h1M58 22.5h1m2 0h1m1 0h1M11 24.5h1M20 25.5h1M48 37.5h1M17 41.5h1M53 42.5h1M58 45.5h1M41 46.5h1M15 47.5h1m33 0h1m9 0h1M11 51.5h1m44 0h1M42 52.5h1M44 53.5h1M15 55.5h1m28 0h1m11 0h1M10 56.5h1m29 0h1m11 0h1M3 57.5h1M9 58.5h1M43 59.5h1m11 0h1M3 62.5h1m5 0h1m41 0h2"/><path stroke="#482576" d="M18 0.5h1m43 0h1M14 1.5h1m10 0h1m37 0h1M19 2.5h1m34 0h1m6 0h1M4 3.5h1m19 0h1M0 5.5h1m2 0h2m57 0h1M2 6.5h1m37 0h1M8 7.5h1m35 0h1M11 8.5h1m49 0h1M10 9.5h1m1 0h1M39 10.5h1M6 11.5h1m4 0h1m46 0h3M60 12.5h1M40 13.5h1m12 0h1M49 15.5h1M5 16.5h1m4 0h1M8 18.5h1m38 0h1m10 0h1M0 20.5h1m5 0h1m39 0h1M55 21.5h1M59 23.5h1M7 25.5h1m53 0h1M8 28.5h1M17 37.5h1m33 0h1M3 38.5h1m44 0h1M58 39.5h1M6 41.5h1M63 42.5h1M47 43.5h1m9 0h1M3 44.5h1M42 45.5h1m10 0h1M40 46.5h1m15 0h1m5 0h1M22 47.5h1M1 50.5h1m7 0h1M44 51.5h1M48 52.5h1m5 0h1M5 53.5h1m12 0h1m28 0h1M53 54.5h1m9 0h1M17 55.5h1m36 0h1M58 56.5h1M8 57.5h1m40 0h1m3 0h1M55 58.5h1M4 59.5h2m9 0h1m4 0h1m2 0h1M56 60.5h1M2 61.5h1m7 0h1m7 0h1m29 0h1M16 62.5h2m42 0h1M10 63.5h1m34 0h1m16 0h1"/><path stroke="#472d7b" d="M7 0.5h1m9 0h1M5 1.5h1m31 0h1m9 0h1M27 2.5h1m27 0h1M63 3.5h1M20 4.5h1m6 0h1m18 0h1M9 5.5h1m1 0h1M12 6.5h1m2 0h1m10 0h1M7 8.5h1m11 0h1m33 0h1M42 9.5h1M56 10.5h1M1 11.5h1m51 0h1m9 0h1M3 12.5h1M2 13.5h1m4 0h1m42 0h1M23 15.5h1m27 0h1M0 16.5h1m46 0h1M39 18.5h1m21 0h2M0 19.5h1M5 20.5h1M4 21.5h1M3 22.5h1m1 0h1m5 0h1m39 0h1M18 23.5h1m1 0h1M42 24.5h1m15 0h1M10 26.5h1m31 0h1M7 29.5h1M0 35.5h1M7 37.5h1m7 0h1m27 0h1M0 38.5h1m4 0h1m55 0h1M51 39.5h1m5 0h1M12 40.5h1m11 0h1M53 41.5h1M12 42.5h1m37 0h1M9 43.5h1m2 0h1m5 0h1M18 45.5h1M3 46.5h1m18 0h1m21 0h1m3 0h1m11 0h1M5 48.5h1m45 0h1M4 49.5h1m7 0h1M8 50.5h1m13 0h1m22 0h1m7 0h1M5 52.5h1m40 0h1M5 55.5h1M44 57.5h1m14 0h1M46 59.5h1m4 0h1M8 60.5h1M16 61.5h1"/><path stroke="#453581" d="M1 0.5h1m36 0h1m13 0h1m3 0h1M51 1.5h1m7 0h1M11 2.5h1m4 0h2m7 0h1m18 0h1m2 0h1m2 0h1m2 0h1m2 0h1M0 3.5h1m22 0h1m32 0h1m4 0h1M13 4.5h1m1 0h2m2 0h1m25 0h1M19 5.5h1m32 0h1M5 6.5h1m5 0h1m34 0h1M16 7.5h1m43 0h1M42 8.5h1m3 0h1m10 0h1M20 9.5h1m38 0h1m3 0h1M62 10.5h1M7 11.5h2M15 12.5h1m10 0h1m23 0h1M6 13.5h1m7 0h1m7 0h1m24 0h1M48 14.5h1M42 16.5h1M56 17.5h1M0 18.5h1m53 0h1M53 19.5h1m4 0h1M4 20.5h1m7 0h1m36 0h1m11 0h1M7 21.5h1m13 0h1M1 22.5h1m16 0h1m41 0h1M3 23.5h1m5 0h1m34 0h1M17 24.5h1m44 0h1M7 26.5h1m40 0h1M45 27.5h1m17 0h1M50 29.5h1M49 35.5h1M11 38.5h1m41 0h1M8 39.5h1M6 40.5h1m1 0h1m13 0h1m33 0h1M43 41.5h1M10 42.5h1m37 0h1M63 44.5h1M2 45.5h1m40 0h1m3 0h1m13 0h1M11 46.5h1m8 0h1m29 0h1M12 47.5h1m7 0h1m24 0h1M10 48.5h1m2 0h1m1 0h1m3 0h1m34 0h1M5 49.5h1m39 0h1M15 50.5h1m38 0h1M3 51.5h1m8 0h1M21 52.5h1m19 0h1M52 54.5h1m7 0h2M51 55.5h1M22 56.5h1m39 0h1M6 57.5h1m5 0h1M38 58.5h1m20 0h1M2 59.5h1m44 0h1M6 60.5h1M0 61.5h1m10 0h1m37 0h1M8 62.5h1m12 0h1m1 0h1M6 63.5h1m50 0h1"/><path stroke="#433d84" d="M12 0.5h1m2 0h1m44 0h1M7 1.5h1m54 0h1M45 2.5h1m2 0h1m3 0h1m4 0h2M5 3.5h1m5 0h1m1 0h1m4 0h1m3 0h1m27 0h1m6 0h1M4 4.5h1m5 0h1m11 0h1m6 0h1m29 0h1M49 5.5h2M22 6.5h1m19 0h1M4 7.5h1m41 0h1m2 0h1m6 0h1M6 8.5h1m1 0h1m1 0h1m2 0h1m34 0h1M14 9.5h1m13 0h1m28 0h1M11 10.5h1m4 0h1m3 0h1M5 12.5h1m4 0h1M5 13.5h1m43 0h1m12 0h1M16 14.5h1m26 0h1m6 0h1m1 0h1m3 0h1m6 0h1M1 15.5h1m3 0h1m14 0h1m31 0h1m2 0h1m1 0h1M19 16.5h1m4 0h1m18 0h1m8 0h1m10 0h1M15 17.5h1m8 0h1m16 0h1M45 18.5h1M5 19.5h1m6 0h1m2 0h1m3 0h1m21 0h2m9 0h1M9 20.5h1m8 0h1m39 0h1M52 21.5h1m7 0h1M9 22.5h1m27 0h1m15 0h1M16 23.5h1m4 0h1M45 24.5h2m9 0h1m6 0h1M0 25.5h1m5 0h1m44 0h1m1 0h1M13 26.5h1m36 0h1m8 0h1M1 27.5h1M22 28.5h1m29 0h1m9 0h1M6 30.5h1M50 34.5h1m10 0h1M63 36.5h1M4 37.5h1M42 38.5h1M54 39.5h1m1 0h1M4 40.5h1m45 0h1M4 41.5h1M2 42.5h1m13 0h1m3 0h1M3 43.5h1m48 0h1M18 44.5h1M12 45.5h1m31 0h1m3 0h1m2 0h1m3 0h1M7 47.5h1m5 0h1M4 48.5h1m11 0h1m11 0h1M39 49.5h1M61 50.5h1M7 51.5h1m7 0h1m30 0h1M3 52.5h1m4 0h1m50 0h1M3 53.5h1m10 0h1m1 0h1m46 0h1M10 54.5h1m33 0h1m1 0h1m4 0h1m6 0h1m3 0h1M1 55.5h1m2 0h1m8 0h1M8 56.5h1m5 0h1m23 0h1m3 0h1m4 0h1m1 0h1M4 57.5h1m15 0h1M0 58.5h1m9 0h1m7 0h1m4 0h1m26 0h1m6 0h2M3 59.5h1m8 0h1m4 0h1m1 0h1m2 0h1M0 60.5h1m22 0h1m22 0h1m11 0h1M20 61.5h1m30 0h1M14 62.5h1m13 0h1m5 0h1m12 0h1m7 0h1m2 0h1m3 0h1M21 63.5h1m12 0h1m5 0h1m9 0h1m5 0h1"/><path stroke="#404588" d="M21 0.5h1m24 0h1m12 0h1M12 1.5h1m4 0h1m5 0h1m3 0h1m15 0h2m3 0h1m1 0h1M4 2.5h1m23 0h1m12 0h2m16 0h2M2 3.5h1m42 0h1M7 4.5h1m15 0h1m4 0h1m24 0h1m3 0h1m2 0h2M1 5.5h1m3 0h1m25 0h1m27 0h1M19 6.5h1m7 0h1m5 0h1m13 0h1m2 0h1m7 0h1M1 7.5h1m4 0h1m3 0h1m3 0h1m36 0h1m7 0h1M1 8.5h1m3 0h1m44 0h1M1 9.5h2m15 0h1m22 0h1m16 0h1M12 10.5h1m21 0h1m1 0h1m11 0h1m3 0h1m6 0h1m1 0h1M2 11.5h1m9 0h1m37 0h1m10 0h1M45 12.5h2m1 0h1m7 0h1m2 0h1M11 13.5h1m23 0h1m7 0h1m19 0h1M8 14.5h1m1 0h1M16 15.5h1m28 0h1m8 0h1M6 16.5h1m2 0h1m8 0h1m32 0h1m5 0h1m4 0h1M5 17.5h1m4 0h1m31 0h1M4 18.5h1m5 0h2m40 0h1M2 19.5h2m3 0h1m2 0h1m11 0h1m33 0h1m4 0h1M7 20.5h2m11 0h1m3 0h1m13 0h1m17 0h1M2 21.5h1m8 0h1m5 0h1m4 0h1m28 0h1m2 0h1M8 22.5h1m4 0h1m48 0h1M43 23.5h1m17 0h1M5 24.5h1m2 0h1m6 0h1m5 0h1m1 0h1m20 0h1M3 25.5h1m7 0h1m51 0h1M11 26.5h1m45 0h1m4 0h1M4 27.5h1M57 28.5h1M50 30.5h1m11 0h1M5 33.5h1M49 34.5h1M4 35.5h1m13 0h1M43 36.5h1m1 0h1m16 0h1M20 37.5h1m31 0h1M14 38.5h1m32 0h1M3 39.5h2m4 0h1m40 0h1M0 40.5h1m8 0h1m42 0h1m1 0h1m8 0h1M3 41.5h1m6 0h1m8 0h1m41 0h2M0 42.5h1m12 0h1m14 0h1M20 43.5h1m5 0h1m27 0h1m1 0h1M5 44.5h1m33 0h1m6 0h1m10 0h1M10 45.5h1m4 0h1m20 0h1m23 0h1m1 0h1M5 46.5h2m7 0h1m1 0h1m7 0h1m22 0h1M4 47.5h1m5 0h2m5 0h1m5 0h1m23 0h1m4 0h2m3 0h1M52 48.5h1m2 0h1M0 49.5h1m10 0h1m1 0h1m3 0h1m4 0h1m23 0h1m7 0h1m1 0h1m1 0h1m2 0h1M13 50.5h1m4 0h1m33 0h1m4 0h1m1 0h1M1 51.5h2m1 0h1m3 0h1m4 0h1m9 0h1m14 0h1m14 0h1M0 52.5h1m25 0h1m16 0h1m8 0h1m9 0h1M0 53.5h1m1 0h1m4 0h1m5 0h1m5 0h1m14 0h1m10 0h1m9 0h1m2 0h1m3 0h1M2 54.5h1M2 55.5h1m9 0h1m3 0h1m2 0h1m30 0h1m7 0h1M4 56.5h1m2 0h1m9 0h1m1 0h1m5 0h1m8 0h1m2 0h1m12 0h1m12 0h1M5 57.5h1m1 0h1m1 0h1m3 0h2m8 0h2m21 0h2m3 0h1m5 0h1m2 0h1m1 0h1M12 58.5h1m7 0h1m19 0h1M6 59.5h1m6 0h1m20 0h1m18 0h1M11 60.5h1m3 0h1m2 0h1m3 0h1m22 0h1m1 0h1m13 0h2M3 61.5h1m15 0h1m20 0h1m9 0h1m1 0h1m2 0h1m2 0h1M1 62.5h1m47 0h1m3 0h1m9 0h1M15 63.5h1m8 0h1m17 0h1m3 0h1m14 0h1"/><path stroke="#3d4d8a" d="M2 0.5h1m10 0h1m2 0h1m10 0h1m15 0h1m4 0h1m1 0h1m10 0h1M6 1.5h1m9 0h1M2 2.5h1m9 0h1m10 0h1m22 0h1M53 3.5h1m1 0h1M11 4.5h1m32 0h1M13 5.5h1m1 0h1m39 0h3M0 6.5h1m8 0h1m4 0h1m1 0h1m45 0h1M11 7.5h1m15 0h1m26 0h1m2 0h2m4 0h1M3 8.5h1m5 0h1m33 0h1m1 0h1m10 0h1m6 0h1M0 9.5h1m3 0h1m8 0h1m2 0h1m5 0h1m21 0h1M3 10.5h4m1 0h2m3 0h2M4 11.5h2m3 0h1m14 0h1m27 0h1M0 12.5h1m5 0h1m1 0h2m4 0h1m32 0h1M10 13.5h1m2 0h1m1 0h1m35 0h1m2 0h1M5 14.5h1m1 0h1m6 0h1m30 0h1m9 0h1m2 0h1m2 0h1M2 15.5h1m16 0h1m24 0h1m1 0h1M4 16.5h1m6 0h1m9 0h1m23 0h1m9 0h1M2 17.5h1m1 0h1m15 0h1m19 0h1M9 18.5h1m3 0h1m3 0h1m3 0h1m22 0h1m6 0h1m3 0h1m4 0h1M1 19.5h1m14 0h3m28 0h1m1 0h1M11 20.5h1m3 0h1m9 0h1m16 0h1m4 0h1m12 0h1m1 0h1M0 21.5h1m9 0h1m1 0h1m26 0h1m4 0h1m16 0h1M10 22.5h1m4 0h1m29 0h1m10 0h1M5 23.5h1m1 0h1m38 0h1m2 0h1m12 0h2M0 24.5h1m1 0h1m7 0h1m48 0h1M8 25.5h1m7 0h1m5 0h1m29 0h1m7 0h1M60 26.5h1M0 27.5h1m6 0h1m38 0h1M51 29.5h1M5 30.5h1m15 0h1m31 0h1m4 0h1M7 33.5h1m4 0h1m2 0h1M0 34.5h1m20 0h1m21 0h1M16 35.5h1m43 0h1M19 36.5h1m22 0h1m9 0h1M63 37.5h1M12 38.5h1m2 0h1m35 0h1m6 0h2M2 39.5h1m2 0h1m4 0h1m34 0h1m16 0h2M1 40.5h1m1 0h1m15 0h1m29 0h1M2 41.5h1m5 0h1m40 0h1m13 0h1M3 42.5h1m1 0h1m2 0h1m8 0h1m4 0h1m23 0h1m9 0h1m4 0h1M45 43.5h2m12 0h1M6 44.5h1m53 0h2M4 45.5h1m51 0h1M1 46.5h1m2 0h1m13 0h1m4 0h1m35 0h1m3 0h1M1 47.5h1m7 0h1m34 0h1m16 0h3M3 48.5h1m2 0h1m2 0h1m16 0h1m18 0h2m9 0h2M2 49.5h1m5 0h1m31 0h1M17 50.5h1m42 0h1M16 51.5h1m28 0h1m12 0h1m2 0h1M9 52.5h2m7 0h2m2 0h1m21 0h1m12 0h1m2 0h1M8 53.5h3m1 0h1m41 0h1M4 54.5h2m2 0h2m3 0h1m2 0h1m24 0h1m1 0h1m1 0h1m2 0h1M20 55.5h1m2 0h1m18 0h1m2 0h1m2 0h1m4 0h1m1 0h1m3 0h1m1 0h1M15 56.5h1m10 0h1m12 0h1m4 0h1M3 58.5h1m17 0h1m30 0h1M49 59.5h1m6 0h1M12 60.5h1m4 0h1m22 0h1m11 0h1m4 0h1m5 0h1M1 61.5h1m10 0h1m24 0h1m7 0h1M2 62.5h1m2 0h1m7 0h1m40 0h1M13 63.5h1m4 0h1m3 0h1m2 0h1m17 0h1m3 0h1m4 0h1"/><path stroke="#3a538b" d="M6 0.5h1m35 0h1m4 0h1m6 0h2M11 1.5h1m1 0h1m5 0h1m22 0h1m14 0h1M0 2.5h1m2 0h1m1 0h1m29 0h1m13 0h1M1 3.5h1m8 0h1m3 0h1m1 0h1m3 0h2m5 0h1m20 0h1m9 0h1m1 0h1M2 4.5h2m1 0h1M16 5.5h1m29 0h1m4 0h1m2 0h1m5 0h2m1 0h1M1 6.5h1m5 0h1m9 0h1m5 0h1m15 0h1m3 0h1m15 0h2m2 0h1M9 7.5h1m9 0h2m1 0h1m14 0h1M2 8.5h1m12 0h2m19 0h1m3 0h1m3 0h1m13 0h1M5 9.5h1m9 0h1m3 0h1M19 10.5h1m3 0h1m20 0h1m4 0h2m4 0h1m2 0h1M17 11.5h3m2 0h1m15 0h1m1 0h1m1 0h1m13 0h1M2 12.5h1m8 0h1m5 0h1m23 0h1m2 0h1m6 0h1m1 0h1M9 13.5h1m6 0h2m20 0h1m9 0h1m3 0h1m3 0h1M2 14.5h1m8 0h1m5 0h1m2 0h1m25 0h1m13 0h1m1 0h1M3 15.5h1m4 0h1m4 0h1m4 0h1m42 0h1M15 16.5h1m38 0h1m5 0h1M9 17.5h1m1 0h1m5 0h1m1 0h1m2 0h1m26 0h1m11 0h1m1 0h1M3 18.5h1m11 0h1m26 0h2M21 19.5h1m41 0h1M2 20.5h1m13 0h1m14 0h1m22 0h1m4 0h1M5 21.5h1m2 0h1m4 0h1m1 0h1m10 0h1m26 0h1M4 22.5h1m16 0h2M1 23.5h2m5 0h1m2 0h3m1 0h1m29 0h1m6 0h1m4 0h1M1 24.5h1m1 0h1m5 0h1m9 0h1m34 0h1m5 0h1M4 25.5h1m40 0h1m9 0h1M2 26.5h1m9 0h1m6 0h1m6 0h1m25 0h1m3 0h1m1 0h1m2 0h1M3 27.5h1m5 0h1m10 0h1M19 28.5h1m24 0h1m2 0h2M44 29.5h1m8 0h1M10 30.5h1M4 31.5h1m52 0h1M5 35.5h1m52 0h1M20 36.5h1m27 0h1M10 37.5h1m43 0h1M6 39.5h2m14 0h1m25 0h1M14 40.5h1m2 0h2m21 0h1m14 0h1m1 0h1M14 41.5h1m6 0h1m20 0h1M9 42.5h1m16 0h1m17 0h2m1 0h1m3 0h1m5 0h2M1 43.5h1m2 0h2m2 0h1m7 0h1m4 0h1m2 0h1m18 0h1m17 0h3M0 44.5h2m6 0h1m16 0h1m15 0h1m13 0h1m2 0h2M3 45.5h1m3 0h1m11 0h1m4 0h1m13 0h1m6 0h1m6 0h1M21 46.5h1m29 0h2m1 0h1m3 0h1M8 47.5h1m21 0h1m17 0h1m2 0h1m8 0h1M0 48.5h1m6 0h1m3 0h2m28 0h1m8 0h1m7 0h1m2 0h1m1 0h1M1 49.5h1m7 0h1m10 0h1m28 0h1m5 0h1m3 0h1M0 50.5h1m6 0h1m2 0h1m5 0h1m2 0h1m21 0h1m2 0h1m6 0h1M17 51.5h1m4 0h1m18 0h1m1 0h1m5 0h1m1 0h1m5 0h1M4 52.5h1m8 0h1m10 0h1m24 0h1m5 0h1M11 53.5h1m9 0h1m26 0h1m10 0h1M11 54.5h2m4 0h1m2 0h1M9 55.5h1m8 0h1m2 0h1m18 0h1m21 0h1M11 56.5h1m4 0h1m36 0h1m1 0h1M0 57.5h1m29 0h1m10 0h1m6 0h1m7 0h1M4 58.5h1m9 0h1m31 0h3m2 0h1m1 0h1m2 0h1m6 0h1M9 59.5h2m10 0h1M1 60.5h1m29 0h1m18 0h1M8 61.5h1m33 0h1m17 0h1M6 62.5h1m30 0h1m7 0h1m10 0h1m4 0h1M3 63.5h1m12 0h1m2 0h1m24 0h1m8 0h1m6 0h1"/><path stroke="#375b8d" d="M5 0.5h1m8 0h1m8 0h1m11 0h1m8 0h1m8 0h1M0 1.5h1m2 0h1m4 0h1m6 0h1m2 0h1m1 0h1m17 0h4m3 0h1m7 0h1m2 0h1m1 0h1m2 0h1M1 2.5h1m12 0h1m3 0h1M3 3.5h1m2 0h1m1 0h1m3 0h1m2 0h1m31 0h1m6 0h1M8 4.5h1m15 0h1m22 0h1m2 0h2m3 0h1m7 0h1M6 5.5h2m6 0h1m6 0h2m1 0h1M3 6.5h1m9 0h1m10 0h1m3 0h1m5 0h1m6 0h1m6 0h1m5 0h1M3 7.5h1m1 0h1m1 0h1m5 0h1m26 0h1m12 0h1M0 8.5h1m11 0h1m12 0h1m11 0h1m1 0h1m7 0h1m1 0h1m1 0h2m6 0h2M11 9.5h1m41 0h1m7 0h1M1 10.5h1m13 0h1m24 0h1m13 0h1M3 11.5h1m17 0h1m24 0h1m4 0h1M13 12.5h1m23 0h1m11 0h1m2 0h1m10 0h1M36 13.5h1m4 0h1m13 0h1m3 0h1M4 14.5h1m10 0h1m5 0h1m32 0h1m2 0h1M0 15.5h1m3 0h1m2 0h1m17 0h2m15 0h1m10 0h1M1 16.5h3m4 0h1m7 0h1m36 0h1M0 17.5h1m5 0h1m14 0h1m3 0h1m5 0h1m14 0h1m1 0h1m1 0h1m4 0h1m4 0h1M12 18.5h1m43 0h2M9 19.5h1m4 0h1m9 0h1m20 0h1m8 0h2m6 0h1M3 20.5h1m18 0h1m30 0h1m1 0h1M1 21.5h1m4 0h1m2 0h1m6 0h1m24 0h1m16 0h2m2 0h1M6 22.5h1m5 0h1m6 0h1m10 0h1m17 0h1m8 0h1M0 23.5h1m5 0h1m3 0h1m6 0h1m1 0h1m2 0h1m3 0h1m1 0h1m21 0h1m3 0h1m5 0h1M18 24.5h1m1 0h1m1 0h1m24 0h1m2 0h1M1 25.5h1m8 0h1m10 0h1m18 0h1m7 0h1m5 0h1m2 0h1M1 26.5h1m2 0h1m1 0h1m7 0h1m24 0h1M5 27.5h1m2 0h1m12 0h1m4 0h1m26 0h2m3 0h1M17 28.5h1m42 0h1M13 29.5h1M17 30.5h1m31 0h1M20 31.5h1m40 0h1M55 33.5h1m3 0h1M1 35.5h1m5 0h1m3 0h1m9 0h1m21 0h1m18 0h1M2 36.5h1m52 0h1M1 37.5h1m1 0h1m5 0h1m27 0h1m4 0h1m2 0h1m3 0h1m3 0h1m3 0h1M2 38.5h1m14 0h2m25 0h3m2 0h1m2 0h1m1 0h1m5 0h1M13 39.5h1m2 0h1m3 0h2m7 0h1m10 0h1M7 40.5h1m2 0h1m9 0h2m23 0h1m7 0h1M26 41.5h1m2 0h1m9 0h2m3 0h1m5 0h2m7 0h1M1 42.5h1m39 0h1m12 0h2m3 0h1m2 0h1M10 43.5h1m2 0h1m36 0h1m2 0h1m6 0h1M16 44.5h1m13 0h1m16 0h1m2 0h2m10 0h1M1 45.5h1m3 0h1m44 0h1M13 46.5h1m5 0h1m22 0h2m9 0h1m7 0h1M14 47.5h1m9 0h1M2 48.5h1m18 0h1m15 0h1m1 0h1m2 0h1m6 0h1M3 49.5h1m2 0h1m7 0h1m6 0h1m13 0h1m5 0h2m4 0h1m2 0h1M4 50.5h1m24 0h1m18 0h1m9 0h1M0 51.5h1m17 0h1m28 0h1m4 0h1m1 0h2m6 0h1M1 52.5h1m13 0h3m5 0h1m27 0h1m1 0h1M6 53.5h1m13 0h1m2 0h1m19 0h1M0 54.5h2m1 0h1m10 0h1m3 0h2m15 0h1m4 0h1m8 0h2m8 0h1M8 55.5h1m1 0h1m14 0h1m21 0h1M2 56.5h1m9 0h2m9 0h1m19 0h1m10 0h1m2 0h1m1 0h2M2 57.5h1m12 0h2m2 0h1m1 0h1m4 0h1m36 0h1M5 58.5h1m1 0h1m7 0h2m26 0h1m18 0h1M11 59.5h1m4 0h1m24 0h1m15 0h1M3 60.5h2m9 0h1m24 0h1m2 0h1m5 0h1m4 0h2m5 0h1M14 61.5h2m5 0h2m4 0h2m9 0h1m7 0h2m6 0h1m1 0h1m5 0h1M15 62.5h1m3 0h1m16 0h1m6 0h2m12 0h1M11 63.5h1m5 0h1m5 0h1m5 0h1m5 0h1m12 0h1m5 0h1"/><path stroke="#34618d" d="M4 0.5h1m6 0h1m14 0h1m12 0h1m1 0h1m9 0h1m5 0h2M9 1.5h2m15 0h1m27 0h2M7 2.5h1m12 0h1m3 0h1m11 0h1m2 0h1m23 0h1M9 3.5h1m30 0h2M12 4.5h1m4 0h1m25 0h1m12 0h1m5 0h1M2 5.5h1m5 0h1m8 0h2m1 0h1m12 0h1m9 0h1m3 0h2M56 6.5h1M2 7.5h1m9 0h1m2 0h1m1 0h1m3 0h1m1 0h1m12 0h1M18 8.5h1m1 0h2m4 0h1M3 9.5h1m2 0h1m30 0h3m14 0h2m6 0h1M0 10.5h1m6 0h1m2 0h1m11 0h1m3 0h1m15 0h1m2 0h2m4 0h1m1 0h1m6 0h1M0 11.5h1m56 0h1M7 12.5h1m10 0h1m5 0h1m15 0h1m13 0h2m6 0h1M4 13.5h1m3 0h1m3 0h1m8 0h1m2 0h1m1 0h1m7 0h1m23 0h1m2 0h1M9 14.5h1m15 0h1m1 0h1m3 0h1m2 0h1m6 0h1m11 0h1M9 15.5h1m12 0h1m18 0h1m1 0h1m3 0h1m8 0h1m1 0h1M7 16.5h1m27 0h1m3 0h2m17 0h1M1 17.5h1m5 0h1m4 0h1m1 0h1m3 0h1m9 0h2m15 0h1m1 0h1m10 0h1m3 0h1M5 18.5h1m8 0h1m1 0h1m1 0h3m4 0h1m1 0h1M8 19.5h1m30 0h1m17 0h1M10 20.5h1m8 0h1M14 21.5h1m5 0h1m3 0h1m20 0h1m1 0h1M2 22.5h1m4 0h1m28 0h1m4 0h1m8 0h1m4 0h1M40 23.5h1m1 0h1m5 0h1m2 0h1m1 0h1m1 0h1m2 0h1M7 24.5h1m4 0h1m27 0h1m7 0h2m3 0h1M5 25.5h1m3 0h1m4 0h1m2 0h2m37 0h1m1 0h2m2 0h1M5 26.5h1m2 0h1m45 0h1M22 27.5h1m20 0h1m8 0h1M2 28.5h1m4 0h1m5 0h1M40 29.5h1m11 0h1m10 0h1M1 30.5h1m2 0h1M0 31.5h1M23 33.5h1M62 34.5h1M2 35.5h2m4 0h1m30 0h1m7 0h1m7 0h1M3 36.5h1m4 0h1m9 0h1m30 0h1M11 37.5h3m5 0h1m1 0h1m6 0h1m27 0h1M7 38.5h1m2 0h1m45 0h1m5 0h1M23 39.5h1m17 0h1M5 40.5h1m9 0h2m25 0h1m4 0h1m12 0h3M0 41.5h1m4 0h1m3 0h1m1 0h2m2 0h1m9 0h1m19 0h3m4 0h1m4 0h1M4 42.5h1m1 0h1m7 0h1m10 0h1m26 0h1M0 43.5h1m6 0h1m6 0h1m2 0h1m5 0h1m5 0h1m12 0h1m1 0h1m4 0h1m5 0h1m2 0h1M4 44.5h1m2 0h1m2 0h1m1 0h1m39 0h1M11 45.5h1m1 0h1m3 0h1m2 0h1m1 0h1m17 0h1m18 0h1m3 0h1M10 46.5h1m14 0h1m23 0h1m7 0h1M0 47.5h1m5 0h1m30 0h1m5 0h1m10 0h1M1 48.5h1m6 0h1m5 0h1m10 0h1m18 0h1M7 49.5h1m2 0h1m4 0h1m36 0h2m9 0h1M3 50.5h1m19 0h2m25 0h1m12 0h1M5 51.5h1m4 0h1m3 0h1m33 0h1m10 0h1m3 0h1M12 52.5h1m1 0h1m12 0h1M15 53.5h1m25 0h2m3 0h1m2 0h2m6 0h1m2 0h1M7 54.5h1m7 0h1m7 0h1m31 0h3M0 55.5h1m13 0h1m11 0h1m1 0h1m7 0h1m12 0h1m10 0h1M3 56.5h1M18 57.5h1m31 0h1m1 0h1m2 0h1M6 58.5h1m6 0h1m13 0h1m13 0h1m19 0h1M1 59.5h1m34 0h1m3 0h1m3 0h1m7 0h1m5 0h1m4 0h1M2 60.5h1m10 0h1m2 0h1m2 0h1m1 0h1m7 0h1m14 0h1m4 0h1m9 0h1M13 61.5h1m10 0h1m28 0h1m5 0h1m1 0h1m1 0h1M0 62.5h1m9 0h3m29 0h1m3 0h1M0 63.5h2m3 0h1m8 0h1m11 0h2m11 0h1m9 0h1m13 0h1"/><path stroke="#31688e" d="M8 0.5h1m1 0h1m8 0h1m43 0h1M2 1.5h1m18 0h1M8 2.5h1m13 0h1m20 0h1m7 0h1m10 0h1M7 3.5h1m17 0h1m13 0h1m6 0h1m15 0h1M0 4.5h1m8 0h1m11 0h1m8 0h2m2 0h1m5 0h2m6 0h1m3 0h1m1 0h1M23 5.5h1m29 0h1M4 6.5h1m16 0h1m7 0h1m21 0h1M26 7.5h1m16 0h1m3 0h2m6 0h1M14 8.5h1m2 0h1m6 0h1m37 0h1M8 9.5h2m33 0h1m2 0h1m4 0h2m3 0h1m3 0h1M27 10.5h2m6 0h1m5 0h1M14 11.5h3m9 0h1m3 0h1m10 0h1m2 0h2m2 0h1m6 0h1M4 12.5h1m15 0h1m1 0h1m5 0h1m29 0h1M0 13.5h1m24 0h1m20 0h1m13 0h1M1 14.5h1m16 0h1m4 0h2m19 0h1M62 15.5h1M12 16.5h1m1 0h1m12 0h1m18 0h1m1 0h1m1 0h1M3 17.5h1m9 0h1m9 0h1m15 0h1m4 0h1m6 0h2M6 18.5h2m16 0h1m12 0h2m2 0h1m4 0h1m12 0h1m3 0h1M6 19.5h1m6 0h1m6 0h1m38 0h1M1 20.5h1m12 0h1m2 0h1m3 0h1m17 0h1m5 0h1m2 0h1m2 0h2M49 21.5h1m6 0h1M17 22.5h1m10 0h1m10 0h1m4 0h1m4 0h1m2 0h1m1 0h1m4 0h1M4 23.5h1m42 0h1M16 24.5h1m26 0h1m7 0h1m3 0h1m5 0h1M42 25.5h2m6 0h1M9 26.5h1m5 0h2m1 0h1m26 0h1m1 0h1m7 0h1M2 27.5h1m7 0h1m1 0h1m2 0h1m7 0h1m31 0h2m2 0h1m1 0h2M0 28.5h1m45 0h1m11 0h1M3 29.5h1m7 0h1m6 0h1m27 0h1m15 0h1M7 30.5h1m52 0h1M3 31.5h1M1 33.5h1m2 0h1m48 0h1M10 34.5h1m4 0h1m23 0h1M13 35.5h2m36 0h1m4 0h1M22 36.5h2m26 0h2m2 0h1M16 37.5h1m27 0h1m5 0h1m9 0h1M1 38.5h1m2 0h1m4 0h1m10 0h1m12 0h1m5 0h1m17 0h1m5 0h1M12 39.5h1m5 0h2m24 0h1m2 0h1m1 0h1m2 0h1m2 0h1m3 0h2M39 40.5h1m1 0h1m2 0h1m6 0h1m6 0h1M7 41.5h1m14 0h1m15 0h1m21 0h1M15 42.5h1m3 0h1m10 0h1m12 0h1m5 0h1m10 0h1M2 43.5h1m16 0h1m20 0h1m10 0h1M9 44.5h1m1 0h1m7 0h1m2 0h1m20 0h2m8 0h1m2 0h1M6 45.5h1m2 0h1m31 0h1m4 0h1M2 46.5h1m5 0h1m6 0h1m1 0h1m20 0h2M16 47.5h1m2 0h1m1 0h1m33 0h1M18 48.5h1m1 0h1m26 0h1m5 0h1M18 49.5h1m4 0h1m33 0h1m2 0h1m1 0h1M2 50.5h1m3 0h1m4 0h1m2 0h1m23 0h1m3 0h1m3 0h1m8 0h1M24 51.5h2m4 0h1m11 0h1m7 0h1M2 52.5h1m3 0h2m12 0h1m16 0h1m2 0h1m4 0h1m12 0h1m2 0h1m1 0h1M4 53.5h1m12 0h1m4 0h1m2 0h1m35 0h1M6 54.5h1m15 0h1m31 0h1M11 55.5h1m17 0h1m5 0h1m5 0h1M0 56.5h1m5 0h1m11 0h1m9 0h1m17 0h1m1 0h1m2 0h1M11 57.5h1m5 0h1m4 0h1M8 58.5h1m10 0h1m13 0h1m8 0h1m1 0h1M0 59.5h1m23 0h2m3 0h1m15 0h1M10 60.5h1m30 0h1m13 0h1M5 61.5h1m1 0h1m1 0h1m7 0h1m11 0h1m13 0h1M7 62.5h1m10 0h1m6 0h2m21 0h1m10 0h1M4 63.5h1m32 0h1m17 0h1m3 0h1"/><path stroke="#2e6e8e" d="M20 0.5h1m1 0h1m8 0h1m4 0h2M4 1.5h1m17 0h1m1 0h1m35 0h1M10 2.5h1m10 0h1m18 0h1M26 3.5h1m1 0h1m15 0h1M1 4.5h1m16 0h1m6 0h2m12 0h1M10 5.5h1m26 0h1m1 0h2m1 0h1m1 0h1m13 0h1M8 6.5h1m43 0h2m7 0h1M0 7.5h1m40 0h1m8 0h1M4 8.5h1m17 0h2m10 0h2M23 9.5h2m1 0h1m18 0h1m3 0h1M2 10.5h1m14 0h2m11 0h1m7 0h1M13 11.5h1m6 0h1m13 0h1M19 12.5h1m5 0h1m13 0h1m3 0h1m13 0h1M18 13.5h1m1 0h1m8 0h2m11 0h1m1 0h1M6 14.5h1m12 0h1m31 0h1m7 0h1M10 15.5h1m1 0h1m1 0h2m5 0h1m2 0h1M23 16.5h1m13 0h1m3 0h1m17 0h1M16 17.5h1m36 0h1M22 18.5h2m6 0h1M4 19.5h1m20 0h1m10 0h1m7 0h1m1 0h1m3 0h1m9 0h1M13 20.5h1m27 0h1m1 0h2m5 0h1m12 0h1M18 21.5h2m8 0h1m13 0h1m3 0h1m1 0h1m1 0h1m6 0h1M14 22.5h1m1 0h1m6 0h2m4 0h1m5 0h1m4 0h1m2 0h1m2 0h2M14 23.5h1m12 0h1m11 0h1M4 24.5h1m19 0h1m1 0h2m13 0h1m10 0h1m4 0h1M15 25.5h1m23 0h1m1 0h1m5 0h1m1 0h1M3 26.5h1m17 0h1m24 0h1m16 0h1M6 27.5h1m7 0h1m24 0h1m1 0h1m5 0h1m9 0h1M6 28.5h1m3 0h1m24 0h1M6 29.5h1m48 0h1m3 0h1M19 30.5h1M1 31.5h1m57 0h1M2 33.5h1M41 35.5h1m6 0h1m4 0h1m9 0h1M0 36.5h1m9 0h1m28 0h1m17 0h1m3 0h1M2 37.5h1m2 0h1m16 0h1m32 0h1m5 0h1M8 38.5h1m7 0h1M1 39.5h1m9 0h1m2 0h1m21 0h1m9 0h1m6 0h1M2 40.5h1m8 0h1m34 0h1m1 0h1m10 0h1M18 41.5h1m17 0h1M7 42.5h1m13 0h1M11 43.5h1m23 0h1m1 0h1M2 44.5h1m10 0h1m1 0h1m1 0h1m2 0h1m2 0h2m20 0h1m3 0h1m4 0h1M14 45.5h1m1 0h1m14 0h1m17 0h1M0 46.5h1m6 0h1M3 47.5h1m14 0h1m10 0h1m6 0h1m3 0h1M25 49.5h1m1 0h1m6 0h1m8 0h1m4 0h1M12 50.5h1m7 0h1m6 0h1m12 0h1m6 0h1m1 0h1M6 51.5h1m13 0h1m7 0h1m31 0h1M11 52.5h1m24 0h1m1 0h2m7 0h1M1 53.5h1m25 0h1m8 0h1m14 0h2M21 54.5h1m4 0h1m4 0h1m5 0h1m1 0h1m2 0h1m4 0h1M6 55.5h1m30 0h1m14 0h1m4 0h1M1 56.5h1m7 0h1m11 0h1m2 0h1m5 0h1m10 0h1m3 0h1M25 57.5h1m7 0h1m11 0h1m8 0h1m3 0h1m2 0h1M17 58.5h1m12 0h1m14 0h1M8 59.5h1m17 0h1m32 0h1m1 0h2M20 60.5h1m3 0h1m2 0h1m15 0h1M4 61.5h1m18 0h1m1 0h1m15 0h1m2 0h1m12 0h1M38 62.5h1m1 0h1M2 63.5h1m17 0h1m12 0h1m4 0h1"/><path stroke="#2b748e" d="M25 0.5h1m2 0h1m16 0h1M28 1.5h1M6 2.5h1M33 3.5h1m1 0h2m6 0h1M35 4.5h1M25 5.5h1m1 0h1M24 7.5h1m17 0h1m2 0h1M27 8.5h2m1 0h1m10 0h1m12 0h1M17 9.5h1m12 0h1m19 0h1M25 10.5h1m5 0h1m1 0h1m3 0h1m25 0h1M23 11.5h1m1 0h1m1 0h1m15 0h1m5 0h1M33 12.5h1m2 0h1M3 13.5h1m27 0h1m7 0h1M22 14.5h1m6 0h1m6 0h1m1 0h1M6 15.5h1m10 0h1m10 0h1m10 0h2m7 0h1M20 16.5h1m13 0h1m9 0h1m4 0h1m6 0h1M8 17.5h1m21 0h1m12 0h1M28 18.5h1m11 0h1m7 0h2M23 19.5h1m2 0h1m1 0h1m11 0h1M28 20.5h1m5 0h1m22 0h1M3 21.5h1m19 0h1m19 0h1M42 22.5h1M23 23.5h1m17 0h1M13 24.5h2m18 0h1M13 25.5h1m5 0h1m6 0h1m17 0h1M0 26.5h1m24 0h1M11 27.5h1m1 0h1m2 0h1m23 0h1m7 0h1m11 0h1M1 28.5h1m3 0h1m5 0h2m5 0h1m17 0h1m6 0h1m10 0h1m4 0h1M2 29.5h1m2 0h1m6 0h1m32 0h1m11 0h1m2 0h1M12 30.5h1m1 0h1m3 0h1m22 0h1m3 0h1m9 0h1M6 31.5h1m6 0h1m4 0h2m22 0h2m4 0h1M16 33.5h1m37 0h1m3 0h1M4 34.5h1m35 0h1m10 0h1m3 0h1M9 35.5h2m41 0h1m1 0h1M4 36.5h1m2 0h1m3 0h1m1 0h1m1 0h1m8 0h1m34 0h1M6 37.5h1m7 0h1m3 0h1m22 0h1m5 0h1m10 0h2M37 38.5h1m12 0h1m4 0h1M17 39.5h1m19 0h1m5 0h1M26 40.5h1m16 0h1M1 41.5h1m18 0h1m20 0h1M39 42.5h1M25 43.5h1M29 44.5h1M28 45.5h1m1 0h1m26 0h1M37 46.5h1M28 47.5h1m17 0h1M24 48.5h1m23 0h1M16 49.5h1m2 0h1m4 0h1m3 0h1M21 50.5h1m21 0h1m18 0h1M19 51.5h1m1 0h1M25 52.5h1m4 0h1M26 53.5h1m8 0h1m4 0h1M25 54.5h1m8 0h1M46 55.5h1M1 57.5h1m35 0h1m1 0h2m2 0h1M11 58.5h1m12 0h1m24 0h1M7 59.5h1m20 0h1m1 0h1m7 0h1m3 0h1m5 0h1M28 60.5h1m5 0h1m16 0h1M20 62.5h1m18 0h1m1 0h1M7 63.5h1m20 0h1m7 0h1m4 0h1m16 0h1"/><path stroke="#297b8e" d="M0 0.5h1m33 0h1M33 1.5h1m2 0h1M29 2.5h1m1 0h1M38 3.5h1m3 0h1M37 4.5h2M36 5.5h1m4 0h1M31 6.5h1m4 0h1m1 0h1M25 7.5h1m8 0h1m3 0h1M21 9.5h1m9 0h1m3 0h1M24 10.5h1m18 0h1M39 11.5h1M21 12.5h1m9 0h1m3 0h1m2 0h1M19 13.5h1m3 0h1M12 14.5h1m17 0h1M11 15.5h1m21 0h1m2 0h1M13 16.5h1m8 0h1m6 0h1M26 17.5h1m9 0h1m1 0h1M31 18.5h1M31 19.5h1m5 0h1m5 0h1m7 0h1M23 20.5h1m9 0h1M34 21.5h1M33 22.5h1M24 23.5h1m4 0h1M12 25.5h1m10 0h1M17 26.5h1m4 0h3m18 0h1m7 0h1M17 27.5h1m1 0h1m22 0h1m7 0h2M3 28.5h1m16 0h1m19 0h1m15 0h1M0 29.5h2m2 0h1m5 0h1m6 0h1M2 30.5h1m5 0h1m4 0h1m29 0h1m13 0h1m5 0h1M8 31.5h1m47 0h1M1 32.5h1m3 0h1M3 33.5h1m5 0h1m3 0h1m3 0h1m1 0h1m25 0h1m17 0h1M1 34.5h1m10 0h1m5 0h1m34 0h1m3 0h1m1 0h2M44 35.5h1M1 36.5h1m7 0h1m4 0h1m1 0h1m24 0h1m11 0h1m2 0h1M0 37.5h1m22 0h2m2 0h1M21 38.5h1m5 0h1m10 0h1m4 0h1M15 39.5h1m9 0h1m7 0h1m8 0h1M27 40.5h1M23 41.5h1m4 0h1m1 0h1M23 42.5h2m11 0h2m4 0h1M38 43.5h1m9 0h1M48 44.5h1M23 45.5h1m2 0h1m2 0h1m7 0h1M9 46.5h1m26 0h1m8 0h1M34 47.5h1m4 0h1m2 0h1M17 48.5h1m5 0h1m11 0h2m1 0h1m1 0h1M34 51.5h1m2 0h1m1 0h1M28 52.5h1M37 53.5h1M27 54.5h1m2 0h1M39 55.5h1M33 56.5h1M27 57.5h1m10 0h1M22 58.5h1m2 0h1m11 0h1m1 0h1M37 59.5h1M7 60.5h1m28 0h1m1 0h1M26 61.5h1m3 0h1M22 62.5h1m1 0h1m2 0h1"/><path stroke="#26818e" d="M24 0.5h1m5 0h1m2 0h1m6 0h1M30 1.5h1m4 0h1M26 2.5h1m3 0h1m2 0h1m4 0h1M30 3.5h1M29 5.5h2M25 6.5h1m11 0h1m17 0h1M25 9.5h1m1 0h1m1 0h1M29 11.5h1m1 0h1M26 14.5h1m6 0h1M27 15.5h1m6 0h2M25 16.5h2m3 0h1M38 19.5h1M36 20.5h1m3 0h1M36 21.5h3M30 23.5h1m2 0h1M37 24.5h2M25 25.5h1m1 0h1M20 26.5h1m6 0h2m11 0h2m2 0h1M33 27.5h1m10 0h1m4 0h1M9 28.5h1m5 0h1m5 0h1m19 0h1m21 0h1M9 29.5h1m5 0h2m4 0h1m20 0h1m6 0h1m8 0h1m2 0h1M3 30.5h1m48 0h1M14 31.5h1m31 0h1m16 0h1M7 32.5h2m3 0h2m37 0h1M6 33.5h1m4 0h1m34 0h1m1 0h1m13 0h1M2 34.5h2m24 0h1m29 0h1M59 35.5h1m1 0h1M12 36.5h1m4 0h1m3 0h1m4 0h1m17 0h1m1 0h1m13 0h1M36 37.5h1m3 0h1m21 0h1M13 38.5h1m5 0h1m2 0h1M39 39.5h1m21 0h1M23 40.5h1m10 0h1M24 41.5h1m12 0h1m16 0h1M29 42.5h1M27 43.5h1m5 0h1m5 0h1m1 0h1M14 44.5h1m21 0h1m1 0h1M21 45.5h1M41 47.5h1M22 48.5h1m6 0h1M26 49.5h1m2 0h1m7 0h1M25 50.5h2m1 0h1m10 0h1M27 51.5h1M28 53.5h1m10 0h1M24 54.5h1m13 0h1M24 55.5h1m9 0h1M26 58.5h1M18 59.5h1m20 0h1M35 61.5h1M30 63.5h1"/><path stroke="#24878e" d="M29 1.5h1M34 2.5h1M29 3.5h1m1 0h1m5 0h1M26 5.5h1M28 7.5h1m6 0h1m3 0h1M33 8.5h1M33 9.5h1M28 11.5h1m6 0h1M29 12.5h1m4 0h1M27 13.5h2m8 0h1M39 14.5h1M29 15.5h1m8 0h1M36 16.5h1M37 17.5h1M26 18.5h1m2 0h1m4 0h1M26 20.5h2m2 0h1M27 21.5h1m2 0h2m8 0h1M31 22.5h1M37 23.5h2M39 24.5h1M24 25.5h1m6 0h1m6 0h1M29 26.5h1m5 0h1M18 27.5h1m11 0h2m5 0h1M45 28.5h1m4 0h2m1 0h1m1 0h1m5 0h1M8 29.5h1m11 0h1m22 0h1m12 0h1M11 30.5h1m4 0h1m5 0h2m20 0h1m6 0h1m4 0h1m2 0h1M7 31.5h1m4 0h1m38 0h1M0 32.5h1m10 0h1m2 0h1m1 0h1m31 0h1m7 0h1m1 0h1M0 33.5h1m9 0h1m36 0h1m8 0h1M8 34.5h1m2 0h1m2 0h1m5 0h1m1 0h1m2 0h1m16 0h1m2 0h2m5 0h1M6 35.5h1m8 0h1m3 0h2m3 0h2m19 0h2m3 0h1M5 36.5h2m18 0h1m14 0h1m17 0h1M8 37.5h1m29 0h1m7 0h1M23 38.5h1m11 0h1m5 0h1M24 39.5h1M16 41.5h1m17 0h1M27 42.5h1m10 0h1M22 43.5h1m13 0h1M40 44.5h1M35 45.5h1m3 0h1M30 46.5h1M27 47.5h1m10 0h1M27 48.5h1m6 0h1M34 50.5h1M26 51.5h1m2 0h1m5 0h1m4 0h1M34 52.5h1M24 53.5h1m5 0h1m7 0h1M28 54.5h2M27 55.5h1m3 0h1m6 0h1M35 56.5h2M34 57.5h3M28 58.5h2M25 60.5h2M33 61.5h2m1 0h1m2 0h1M35 62.5h1M31 63.5h1"/><path stroke="#228d8d" d="M29 0.5h1M31 1.5h1m2 0h1M34 3.5h1M32 4.5h1M34 5.5h1m3 0h1M32 6.5h1m2 0h1M29 7.5h1m1 0h1M29 8.5h1m1 0h1m6 0h1M32 10.5h1M23 12.5h1m3 0h1m2 0h1M35 14.5h1m1 0h1M28 16.5h1M35 17.5h1M37 20.5h1M25 21.5h1M25 22.5h3m10 0h1M34 23.5h1m1 0h1M25 24.5h1m2 0h2m6 0h1M29 25.5h1m7 0h1M33 26.5h1m3 0h2M4 28.5h1m9 0h1m1 0h1m6 0h1m14 0h2m2 0h1M14 29.5h1m4 0h1m17 0h1m16 0h1M0 30.5h1m53 0h1m6 0h1M2 31.5h1m2 0h1m3 0h1m1 0h1m3 0h1m8 0h1m22 0h1m2 0h1m1 0h1m2 0h1m2 0h1m1 0h1m1 0h1M3 32.5h2m10 0h1m4 0h1m32 0h2m4 0h4M43 33.5h2m6 0h1m9 0h1M6 34.5h1m2 0h1m6 0h1m6 0h1m2 0h1m17 0h1M12 35.5h1m4 0h1m5 0h1M30 36.5h1m5 0h1m10 0h1M39 37.5h1M40 38.5h1M38 39.5h1M29 40.5h1m1 0h1m6 0h1M40 42.5h1M30 43.5h1M26 44.5h1m15 0h1M25 45.5h1m7 0h1M26 46.5h2m1 0h1m1 0h4M25 47.5h2m8 0h1M31 48.5h1M31 49.5h1m1 0h1m4 0h1M30 50.5h1m4 0h3M36 51.5h1M29 52.5h1M33 54.5h1m2 0h1M27 56.5h1m4 0h1M32 58.5h1m1 0h3M27 59.5h1m5 0h1M35 60.5h1M33 62.5h1"/><path stroke="#20938c" d="M32 0.5h1M32 1.5h1M32 2.5h1m4 0h1M32 3.5h1M33 4.5h1M28 5.5h1m3 0h1M36 9.5h1M29 10.5h1M40 14.5h1M30 15.5h3m4 0h1M33 16.5h1m4 0h1M32 17.5h1M35 18.5h1M27 19.5h1m2 0h1m1 0h1m2 0h1M29 20.5h1m2 0h1m2 0h1M35 21.5h1M34 22.5h1M25 23.5h1M30 25.5h1m4 0h1M34 26.5h1M49 28.5h1M22 29.5h1m6 0h1m5 0h1m5 0h1m5 0h1M9 30.5h1m5 0h1m31 0h2M17 31.5h1m5 0h1m1 0h1M6 32.5h1m2 0h2m6 0h1m1 0h1m4 0h1m17 0h1m7 0h1m12 0h1M14 33.5h1m45 0h1M7 34.5h1m5 0h1m5 0h1m7 0h1m13 0h1m6 0h1m5 0h1m1 0h1M36 35.5h1m5 0h1m14 0h1M35 36.5h1M25 37.5h1m8 0h1M24 38.5h3M26 39.5h2m2 0h1m3 0h1M25 40.5h1m2 0h1m6 0h1M33 41.5h1M34 42.5h2M27 44.5h2m4 0h1m1 0h1m1 0h1M32 45.5h1M35 46.5h1M31 47.5h1m1 0h1M30 48.5h1m1 0h1M31 50.5h2M32 51.5h1M31 52.5h1m1 0h1M29 53.5h1m3 0h1M30 55.5h1M29 56.5h1M29 57.5h1m1 0h1M31 59.5h2M33 60.5h1m3 0h1M30 62.5h2M32 63.5h1"/><path stroke="#1f998a" d="M36 4.5h1M35 5.5h1M32 9.5h1m1 0h1M33 11.5h1m2 0h2M32 12.5h1M32 13.5h1M28 14.5h1M31 16.5h1M27 17.5h1m6 0h1M32 18.5h1m3 0h1M34 19.5h1M32 21.5h1M32 23.5h1M30 24.5h2m2 0h1M36 25.5h1M24 27.5h2m9 0h2m1 0h1M27 28.5h2M23 29.5h1m1 0h1m22 0h1M24 30.5h1m17 0h1m3 0h1M40 31.5h2m3 0h1m3 0h1m3 0h1M2 32.5h1m15 0h1m22 0h1m2 0h1m1 0h2m7 0h1m1 0h1M8 33.5h1m11 0h1m1 0h1m1 0h1m14 0h1m10 0h1m6 0h1M5 34.5h1m11 0h1m20 0h1m24 0h1M29 35.5h1m10 0h1M34 36.5h1M26 37.5h1M28 38.5h1m7 0h1M35 39.5h1M32 40.5h1m3 0h2M27 41.5h1m7 0h1M33 42.5h1M28 43.5h1m5 0h1M34 44.5h1M34 45.5h1M28 46.5h1M30 49.5h1m5 0h1M33 50.5h1M35 52.5h1M31 53.5h1M33 55.5h1M31 56.5h1M28 57.5h1m3 0h1M35 59.5h1M30 60.5h1m1 0h1M31 61.5h1M29 62.5h1m2 0h1"/><path stroke="#1fa088" d="M30 6.5h1M30 7.5h1m1 0h2M32 8.5h1M32 11.5h1M33 13.5h1M32 14.5h1M29 19.5h1m3 0h1M33 21.5h1M32 22.5h1M31 23.5h1M28 25.5h1m3 0h1m1 0h1M29 27.5h1M26 28.5h1M24 29.5h1m3 0h1M20 30.5h1M10 31.5h1m10 0h1m17 0h1M22 32.5h1m20 0h1m1 0h1m3 0h1m2 0h1M26 33.5h1m25 0h1M29 34.5h1m17 0h1M22 35.5h1M38 36.5h1M29 37.5h1m5 0h1M29 38.5h2m1 0h1M30 40.5h1M32 43.5h1M32 44.5h1M27 45.5h1M33 51.5h1M32 53.5h1M32 54.5h1M31 58.5h1M32 61.5h1"/><path stroke="#21a585" d="M29 21.5h1M35 23.5h1M32 24.5h1m2 0h1M33 25.5h1M28 27.5h1m5 0h1M25 28.5h1m5 0h1M36 29.5h1m1 0h1M32 30.5h2m5 0h2M22 31.5h1M25 32.5h1M18 33.5h1m2 0h1m5 0h1m9 0h1m3 0h2M35 34.5h2M38 35.5h1M34 38.5h1M28 39.5h1M31 41.5h2M31 42.5h2M31 43.5h1M31 44.5h1M31 51.5h1M32 52.5h1M32 55.5h1"/><path stroke="#25ac82" d="M32 16.5h1M33 18.5h1M30 26.5h1m5 0h1M27 27.5h1M24 28.5h1m7 0h1m4 0h1M26 29.5h1m12 0h1M25 30.5h1m1 0h1m10 0h1M16 31.5h1m19 0h2m6 0h1m9 0h1M26 32.5h1M49 33.5h1M27 36.5h1m9 0h1M30 37.5h1M31 38.5h1M32 39.5h1M33 40.5h1M32 47.5h1M32 49.5h1"/><path stroke="#2db27d" d="M32 27.5h1M34 28.5h1M34 29.5h1M34 30.5h1M32 31.5h1m5 0h1M23 32.5h1m15 0h1M40 33.5h1M37 34.5h1M29 36.5h1M33 37.5h1M31 39.5h1M33 48.5h1"/><path stroke="#35b779" d="M33 17.5h1M32 26.5h1M30 29.5h1m1 0h1M26 30.5h1M21 32.5h1m18 0h1M35 33.5h2m1 0h1M24 34.5h1M26 35.5h2M33 36.5h1M32 37.5h1"/><path stroke="#40bd72" d="M31 26.5h1M29 28.5h2M27 29.5h1M28 30.5h2m7 0h1M26 31.5h1M25 33.5h1M28 35.5h1m1 0h1m2 0h2M28 36.5h1"/><path stroke="#4cc26c" d="M33 28.5h1M31 29.5h1M28 32.5h1M28 33.5h1M32 36.5h1"/><path stroke="#5ac864" d="M36 30.5h1M30 31.5h1m2 0h1M37 32.5h2M31 33.5h1M31 34.5h1m1 0h2M35 35.5h1M31 36.5h1M31 37.5h1"/><path stroke="#67cc5c" d="M33 29.5h1M35 30.5h1M27 31.5h3m1 0h1M27 32.5h1m8 0h1M29 33.5h1m3 0h1M37 35.5h1"/><path stroke="#77d153" d="M35 31.5h1M30 32.5h1M30 34.5h1m1 0h1"/><path stroke="#89d548" d="M31 30.5h1M31 32.5h1M32 35.5h1"/><path stroke="#98d83e" d="M30 30.5h1M34 32.5h2M32 33.5h1"/><path stroke="#aadc32" d="M29 32.5h1M31 35.5h1"/><path stroke="#bade28" d="M34 31.5h1M33 32.5h1M30 33.5h1m3 0h1"/><path stroke="#fde725" d="M32 32.5h1"/></g></svg><svg class="p" style="left:1348.0px;top:1586.5px" width="371.5" height="392.5" viewBox="0 0 32 32" preserveAspectRatio="none"><g fill="none" stroke-width="1.02"><path stroke="#440154" d="M5 1.5h1M7 2.5h1m20 0h1M4 3.5h1m8 0h1M31 5.5h1M0 14.5h1M1 17.5h1M25 27.5h1M1 28.5h1M6 31.5h1m16 0h1m7 0h1"/><path stroke="#460a5d" d="M29 1.5h2M14 4.5h1m2 0h1m3 0h1M28 6.5h2M4 11.5h1M28 13.5h1M27 14.5h1M31 17.5h1M3 21.5h1M12 27.5h1m9 0h1M13 28.5h1m10 0h1M13 31.5h1"/><path stroke="#481467" d="M31 0.5h1M0 3.5h1M31 12.5h1M6 17.5h1M2 19.5h1M29 23.5h1M1 24.5h1M24 25.5h1M3 26.5h1m10 0h1M19 27.5h1M24 29.5h1M22 30.5h1M20 31.5h1"/><path stroke="#481c6e" d="M12 0.5h1M17 1.5h1M5 2.5h1m23 0h1M1 4.5h1M2 6.5h1m8 0h1m14 0h1M18 7.5h1M0 9.5h1M28 10.5h1M1 14.5h1M26 15.5h1M4 23.5h1M25 25.5h1M9 26.5h1m1 0h1M12 28.5h1m4 0h1M31 29.5h1M14 30.5h1M17 31.5h1m3 0h1"/><path stroke="#482576" d="M27 0.5h2M8 1.5h1M11 2.5h1m5 0h1m12 0h1M9 3.5h1m18 0h1M6 4.5h1M0 5.5h1m6 0h1M0 6.5h1M1 7.5h1M25 8.5h1M29 9.5h2M1 11.5h1M24 13.5h1m2 0h1M31 15.5h1M27 20.5h1M1 23.5h1m25 0h1M26 24.5h1M18 25.5h1M11 27.5h1M2 30.5h1m4 0h2m21 0h2M5 31.5h1m21 0h1"/><path stroke="#472d7b" d="M0 0.5h1m23 0h1m5 0h1M6 1.5h1m4 0h1m14 0h1m1 0h1M1 2.5h1m2 0h1m9 0h1M1 3.5h1m4 0h1m24 0h1M15 4.5h1m13 0h1M3 5.5h1m4 0h1m15 0h1m3 0h1M3 6.5h1m1 0h1m2 0h1M5 7.5h1m3 0h1M0 8.5h1m18 0h1M2 9.5h1m2 0h1m17 0h1m4 0h1M30 10.5h1M29 12.5h1M0 13.5h1M30 14.5h1M27 15.5h1m2 0h1M2 18.5h1m2 0h1M7 21.5h1M1 22.5h1m3 0h2M2 23.5h1M2 24.5h1m10 0h1m15 0h1M10 25.5h1m11 0h2m3 0h1M23 26.5h1m6 0h1M6 27.5h1m14 0h1M28 28.5h1M0 29.5h1"/><path stroke="#453581" d="M1 0.5h1m4 0h2m2 0h1M12 1.5h1m14 0h1M0 2.5h1m20 0h2m3 0h1M2 3.5h1m2 0h1m13 0h1m3 0h2M18 4.5h1m3 0h1m8 0h1M2 5.5h1m2 0h2m8 0h1m9 0h1m3 0h2M13 6.5h1m7 0h1m9 0h1M4 7.5h1m5 0h1m6 0h1m12 0h1M24 8.5h1M27 9.5h1M31 10.5h1M0 11.5h1M0 12.5h1m27 0h1M7 14.5h1m23 0h1M2 15.5h1m1 0h1M26 17.5h1M4 18.5h1M30 19.5h1M2 20.5h1M1 21.5h2m24 0h2M20 22.5h1M28 23.5h1M8 24.5h1m11 0h1m10 0h1M1 25.5h1m26 0h2M1 26.5h1m2 0h1m17 0h1m1 0h1m6 0h1M24 27.5h1m3 0h1M5 28.5h2m14 0h1M4 29.5h1m4 0h2M17 30.5h1m8 0h1M0 31.5h1m6 0h1m18 0h1"/><path stroke="#433d84" d="M17 0.5h2m1 0h2m1 0h1M0 1.5h1m13 0h1m3 0h2m2 0h3M8 2.5h1m9 0h1m4 0h1m1 0h1m5 0h1M3 3.5h1m10 0h1m2 0h2m11 0h1M2 4.5h3m8 0h1M12 5.5h1M4 6.5h1m2 0h1m17 0h1M11 7.5h1m14 0h1m2 0h1M4 8.5h1m1 0h1m7 0h2M10 9.5h2m2 0h1m10 0h1M0 10.5h2m2 0h1m5 0h1m18 0h1M5 11.5h1m19 0h2M5 12.5h1m24 0h1M6 13.5h1M29 14.5h1M0 15.5h2M4 17.5h1m22 0h1M0 18.5h2m4 0h1M31 19.5h1M5 21.5h1m16 0h1M9 22.5h1m14 0h1m3 0h1m1 0h2M3 23.5h1m3 0h2m16 0h2m4 0h1M21 24.5h1M0 25.5h1m4 0h1m24 0h1M10 26.5h1m1 0h1m4 0h1m8 0h1m1 0h1M0 27.5h2m1 0h1m1 0h1m3 0h1m13 0h1M0 28.5h1m1 0h2m23 0h1m3 0h1M7 29.5h1m3 0h1m2 0h1m3 0h1m4 0h1m2 0h1m2 0h1M1 30.5h1m3 0h1m5 0h1m1 0h1m6 0h1m3 0h2m3 0h1M15 31.5h1"/><path stroke="#404588" d="M2 0.5h1m1 0h1m4 0h1m6 0h1m2 0h1m2 0h1m3 0h1M1 1.5h1m5 0h1m7 0h1m9 0h1m5 0h1M12 2.5h1M8 3.5h1m12 0h1M9 4.5h1m1 0h1m7 0h1m3 0h1M4 5.5h1m13 0h2m6 0h1M1 6.5h1m15 0h1m2 0h1m9 0h1M6 7.5h1m1 0h1m10 0h2m6 0h1m3 0h1M26 8.5h2m2 0h1M3 9.5h1m3 0h1m1 0h1M2 10.5h1m4 0h1m16 0h1m1 0h1M28 11.5h2m1 0h1M1 12.5h2m24 0h1M1 13.5h2m5 0h1M26 14.5h1M9 15.5h1M28 17.5h1m1 0h1M3 18.5h1m5 0h1m17 0h1m1 0h1M1 19.5h1M4 20.5h1m21 0h1m2 0h1m1 0h1M4 21.5h1m1 0h1m23 0h1M2 22.5h3m2 0h2m16 0h1M0 23.5h1m4 0h1m3 0h1M0 24.5h1m6 0h1m3 0h1m3 0h1m3 0h1m2 0h1M2 25.5h1m8 0h1m8 0h2m4 0h1M8 26.5h1M4 27.5h1m13 0h1m8 0h1m3 0h1M4 28.5h1m6 0h1m7 0h1m5 0h1m4 0h1M8 29.5h1m3 0h1m3 0h1M0 30.5h1m9 0h1m1 0h1m14 0h1M2 31.5h1m7 0h2m10 0h1m2 0h1m4 0h1"/><path stroke="#3d4d8a" d="M5 0.5h1m7 0h1m15 0h1M2 1.5h2m16 0h1M16 2.5h1m3 0h1M10 3.5h2m15 0h1m1 0h1M7 4.5h2m1 0h1m14 0h1M9 5.5h1m1 0h1m1 0h1m7 0h1m1 0h1M9 6.5h1m8 0h1M0 7.5h1m1 0h1m9 0h2m9 0h1M3 8.5h1m3 0h2m2 0h1m8 0h1M31 9.5h1M3 10.5h1m1 0h1m17 0h1M3 11.5h1m4 0h1M22 12.5h1M3 13.5h1m26 0h1M4 14.5h1m3 0h1M3 15.5h1M1 16.5h1M5 17.5h1M31 18.5h1M0 19.5h1m2 0h2m21 0h1m2 0h1M3 20.5h1m21 0h1M8 21.5h1m14 0h1m5 0h1M27 22.5h1m1 0h1M6 23.5h1m7 0h1M5 24.5h1m24 0h1M3 25.5h1m4 0h1M0 26.5h1m18 0h1m5 0h1m1 0h1M2 27.5h1m5 0h1m5 0h1m14 0h1M7 28.5h1m1 0h1m13 0h1m2 0h1m2 0h1M1 29.5h1m1 0h1m2 0h1m6 0h1m11 0h1M4 30.5h1m1 0h1m8 0h2m2 0h1m1 0h1M4 31.5h1m3 0h1m7 0h1m7 0h1m3 0h1"/><path stroke="#3a538b" d="M8 0.5h1m2 0h1m3 0h1M9 1.5h1m3 0h1m2 0h1m4 0h1M3 2.5h1m2 0h1m2 0h1m3 0h1m10 0h1m2 0h1M15 3.5h2M0 4.5h1m4 0h1m10 0h1m3 0h1m6 0h1M1 5.5h1m12 0h1m1 0h1m10 0h1M16 6.5h1m2 0h1M7 7.5h1m13 0h1m2 0h2m2 0h1M1 8.5h2m13 0h1m5 0h2m7 0h1M6 9.5h1m1 0h1M8 10.5h1m11 0h3M6 11.5h1m7 0h1m12 0h1m2 0h1M24 12.5h1m1 0h1M25 13.5h1M3 14.5h1m1 0h1m15 0h1m6 0h1M6 15.5h1m1 0h1m16 0h1M0 16.5h1m22 0h1m1 0h1m5 0h1M0 17.5h1m1 0h2m25 0h1M8 18.5h1m15 0h2m4 0h1M6 19.5h1m2 0h1m13 0h1m3 0h2M0 20.5h1m4 0h1m17 0h1m4 0h1m1 0h1M0 21.5h1m8 0h1m11 0h1M0 22.5h1M21 23.5h1M3 24.5h2m1 0h1m3 0h1m7 0h1m6 0h1m2 0h1M7 25.5h1m4 0h1m1 0h1m16 0h1M2 26.5h1m2 0h3m7 0h2M10 27.5h1m2 0h1m2 0h2M10 28.5h1m5 0h1m1 0h1M19 29.5h2m6 0h2m1 0h1M3 30.5h1m5 0h1m8 0h1m9 0h1M1 31.5h1m7 0h1m4 0h1m4 0h1m9 0h1"/><path stroke="#375b8d" d="M3 0.5h1m10 0h1m10 0h1M4 1.5h1m5 0h1M2 2.5h1m7 0h1m4 0h1m3 0h1M20 3.5h1m1 0h1m3 0h1M12 4.5h1m11 0h1m1 0h1m1 0h1m1 0h1M20 5.5h1m1 0h1M6 6.5h1m8 0h1m6 0h1m4 0h1M22 7.5h1M29 8.5h1M1 9.5h1m2 0h1m16 0h1M17 10.5h1m9 0h1M2 11.5h1m4 0h1m13 0h3M3 12.5h1m3 0h1m2 0h1M29 13.5h1m1 0h1M2 14.5h1m6 0h1m15 0h1M28 15.5h1M3 16.5h1m1 0h1m3 0h1m14 0h1m1 0h1m2 0h2M7 17.5h1m17 0h1M28 18.5h1M8 19.5h1m2 0h1m12 0h2M1 20.5h1m6 0h2M24 21.5h2m5 0h1M18 22.5h1m3 0h1M13 23.5h1m1 0h1m6 0h2m6 0h1M9 24.5h1m13 0h1m3 0h1M6 25.5h1m12 0h1M13 26.5h1m7 0h1m7 0h1M7 27.5h1m7 0h1m4 0h1m5 0h1M8 28.5h1m6 0h1m4 0h1M2 29.5h1m12 0h1m1 0h1m3 0h1M23 30.5h1M3 31.5h1m8 0h1m5 0h1"/><path stroke="#34618d" d="M7 3.5h1m4 0h1m12 0h1M10 5.5h1m6 0h1M10 6.5h1m3 0h1m9 0h1M3 7.5h1m11 0h1M5 8.5h1m3 0h1m7 0h1m3 0h1m6 0h1M18 9.5h1m1 0h1m5 0h1M6 10.5h1m4 0h1m4 0h1m8 0h1M9 11.5h1m1 0h1m6 0h1M8 12.5h1m12 0h1M4 13.5h2m1 0h1m1 0h1m13 0h1m2 0h1M24 14.5h1M5 15.5h1m15 0h1m7 0h1M2 16.5h1m1 0h1m17 0h1m4 0h2M22 17.5h1M10 18.5h1M7 19.5h1M6 20.5h1m15 0h1m1 0h1M14 22.5h2M10 23.5h2m4 0h1m7 0h1M24 24.5h1M4 25.5h1m4 0h1m3 0h1m1 0h3M18 26.5h1M30 27.5h1M14 28.5h1m7 0h1M5 29.5h1m16 0h1"/><path stroke="#31688e" d="M23 6.5h1M10 8.5h1m1 0h1M16 9.5h1m5 0h1m1 0h1M14 10.5h1M15 11.5h1m8 0h1M4 12.5h1m18 0h1m1 0h1M10 14.5h1M7 15.5h1m2 0h1M7 16.5h2m1 0h1M9 17.5h1m13 0h2M7 18.5h1m15 0h1m2 0h1M5 19.5h1M17 21.5h1m8 0h1M23 22.5h1m2 0h1M17 23.5h1m2 0h1M12 24.5h1m4 0h1M20 26.5h1"/><path stroke="#2e6e8e" d="M12 6.5h1M14 7.5h1M13 8.5h1m4 0h1M13 9.5h1M12 10.5h1m6 0h1M10 11.5h1M6 12.5h1M10 13.5h1m10 0h1M23 14.5h1M6 16.5h1M8 17.5h1M7 20.5h1m13 0h1M10 22.5h1m2 0h1m2 0h1m4 0h1M12 23.5h1m6 0h1M14 24.5h1"/><path stroke="#2b748e" d="M16 7.5h1M12 9.5h1m2 0h1m1 0h1M9 10.5h1m5 0h1M12 11.5h2M9 12.5h1m5 0h1M18 13.5h2m2 0h1M6 14.5h1M24 15.5h1M10 17.5h1M10 19.5h1M10 20.5h1M10 21.5h2m8 0h1M11 22.5h2M16 24.5h1"/><path stroke="#297b8e" d="M13 10.5h1M17 11.5h1m2 0h1M11 12.5h1M12 16.5h1M19 17.5h1M21 18.5h2M11 20.5h1m1 0h1M18 21.5h1M18 23.5h1"/><path stroke="#26818e" d="M19 9.5h1M18 10.5h1M12 13.5h1m7 0h1M11 14.5h1M13 15.5h1m8 0h2M20 16.5h1M11 17.5h1M21 19.5h1M20 20.5h1M12 21.5h1M17 22.5h1m1 0h1"/><path stroke="#24878e" d="M19 11.5h1M14 13.5h1M14 14.5h1m7 0h1M18 15.5h1M21 16.5h1M14 19.5h1M13 21.5h1"/><path stroke="#228d8d" d="M12 12.5h1m1 0h1m3 0h1m1 0h1M11 13.5h1M20 14.5h1M21 17.5h1M12 19.5h1m6 0h2m1 0h1M12 20.5h1M14 21.5h1m4 0h1"/><path stroke="#20938c" d="M13 12.5h1M12 14.5h1M11 15.5h1m8 0h1M13 16.5h1m5 0h1M18 17.5h1m1 0h1M11 18.5h1"/><path stroke="#1f998a" d="M16 12.5h1m2 0h1M13 13.5h1M11 16.5h1M12 18.5h1m7 0h1M16 20.5h1M15 21.5h2"/><path stroke="#1fa088" d="M16 11.5h1M17 12.5h1M15 13.5h1M19 14.5h1M12 15.5h1M15 20.5h1m1 0h1m1 0h1"/><path stroke="#21a585" d="M18 14.5h1M14 15.5h1m2 0h1M17 18.5h3M18 19.5h1M14 20.5h1m3 0h1"/><path stroke="#25ac82" d="M16 13.5h2M15 14.5h1m1 0h1M12 17.5h1M13 18.5h1M16 19.5h2"/><path stroke="#2db27d" d="M13 14.5h1M15 17.5h1M14 18.5h1m1 0h1M15 19.5h1"/><path stroke="#35b779" d="M16 14.5h1M19 15.5h1M13 17.5h2M15 18.5h1M13 19.5h1"/><path stroke="#40bd72" d="M14 16.5h1m3 0h1"/><path stroke="#4cc26c" d="M16 15.5h1M15 16.5h1m1 0h1M16 17.5h2"/><path stroke="#5ac864" d="M15 15.5h1"/><path stroke="#fde725" d="M16 16.5h1"/></g></svg><svg class="p" style="left:1784.2px;top:1586.5px" width="372.5" height="392.5" viewBox="0 0 16 16" preserveAspectRatio="none"><g fill="none" stroke-width="1.02"><path stroke="#460a5d" d="M0 0.5h1M4 2.5h1"/><path stroke="#482576" d="M15 3.5h1M2 4.5h1M14 12.5h1M1 13.5h1M12 14.5h1"/><path stroke="#453581" d="M2 0.5h1m3 0h1m3 0h1M2 1.5h1m8 0h1m1 0h1m1 0h1M11 2.5h1M1 4.5h1m12 0h1M4 5.5h1M14 7.5h1M12 11.5h1M2 12.5h1m12 0h1M5 14.5h1M1 15.5h1m1 0h1m10 0h1"/><path stroke="#404588" d="M1 0.5h1m12 0h2M1 1.5h1m5 0h1M3 2.5h1m3 0h1m5 0h2M0 3.5h1m9 0h1m2 0h1M0 4.5h1M2 9.5h1M4 10.5h1m7 0h1M0 12.5h1M0 13.5h1m5 0h1M5 15.5h1m3 0h1"/><path stroke="#3a538b" d="M4 0.5h1m7 0h1M14 1.5h1M1 2.5h1m3 0h1M12 4.5h1M2 5.5h1m12 0h1M1 6.5h1m2 0h1m7 0h1m1 0h1M2 10.5h1M1 11.5h1m12 0h1M4 12.5h1M3 13.5h1M2 14.5h2m5 0h1m1 0h1m1 0h3M2 15.5h1m8 0h1m3 0h1"/><path stroke="#34618d" d="M3 0.5h1m1 0h1m1 0h3m1 0h1m1 0h1M3 1.5h1m1 0h1m4 0h1m1 0h1M0 2.5h1m1 0h1m5 0h2m2 0h1m2 0h1M6 3.5h1M3 4.5h2m5 0h1m4 0h1M1 5.5h1m1 0h1m4 0h1M14 9.5h1M15 10.5h1M3 11.5h1m4 0h1m4 0h1m1 0h1M1 12.5h1m4 0h1m5 0h2M0 14.5h2m2 0h1m1 0h3M0 15.5h1m3 0h1m1 0h1m6 0h1"/><path stroke="#2e6e8e" d="M1 3.5h1m3 0h1m1 0h1m6 0h1M13 5.5h1M3 6.5h1M2 7.5h1M0 8.5h1M13 10.5h1M9 13.5h3m3 0h1M8 15.5h1m3 0h1"/><path stroke="#297b8e" d="M0 1.5h1m3 0h1m3 0h1M6 2.5h1m3 0h1M2 3.5h3m6 0h1M11 4.5h1M6 5.5h1M13 6.5h1M3 7.5h1m11 0h1M1 8.5h1m13 0h1M0 9.5h2m11 0h1M3 10.5h1M10 11.5h1M5 12.5h1M2 13.5h1m2 0h1m6 0h1M10 14.5h1M7 15.5h1"/><path stroke="#24878e" d="M6 1.5h1m2 0h1M8 3.5h2m2 0h1M5 4.5h1m2 0h2m3 0h1M0 5.5h1m4 0h1m5 0h2m1 0h1M0 6.5h1m1 0h1m12 0h1M0 7.5h2m11 0h1M2 8.5h2M3 9.5h1m11 0h1M0 10.5h2m12 0h1M0 11.5h1m1 0h1m1 0h2M3 12.5h1m7 0h1M4 13.5h1m8 0h2M10 15.5h1"/><path stroke="#20938c" d="M5 6.5h1m2 0h1m1 0h1M5 7.5h1m6 0h1M4 8.5h1m7 0h3M4 9.5h1m3 0h1M6 10.5h1m1 0h1m2 0h1M7 12.5h2M7 13.5h2"/><path stroke="#1fa088" d="M6 4.5h1M10 5.5h1M6 6.5h1m4 0h1M4 7.5h1m2 0h2m1 0h2M5 8.5h1m1 0h1M5 9.5h1m3 0h1m1 0h2M5 10.5h1M6 11.5h1m4 0h1M10 12.5h1"/><path stroke="#25ac82" d="M7 4.5h1M7 5.5h1m1 0h1M7 6.5h1m1 0h1M9 7.5h1M9 8.5h1m1 0h1M6 9.5h2M7 10.5h1m1 0h2M7 11.5h1m1 0h1M9 12.5h1"/><path stroke="#40bd72" d="M6 7.5h1M6 8.5h1m3 0h1M10 9.5h1"/><path stroke="#fde725" d="M8 8.5h1"/></g></svg><svg class="p" style="left:41.0px;top:2124.0px" width="371.0" height="379.7" viewBox="0 0 32 32" preserveAspectRatio="none"><g fill="none" stroke-width="1.02" filter="url(#fbC)"><path stroke="#080808" d="M-4 -3.5h12m16 0h12M-4 -2.5h13m14 0h13M-4 -1.5h13m14 0h13M-4 -0.5h13m14 0h13M-4 0.5h13m14 0h13M-4 1.5h13m14 0h13M-4 2.5h14m12 0h14M-4 3.5h13m14 0h13M-4 4.5h13m14 0h13M-4 5.5h12m16 0h12M-4 6.5h11m18 0h11M-4 7.5h10m20 0h10M-1 8.5h6m22 0h6M-1 23.5h6m22 0h6M-4 24.5h10m20 0h10M-4 25.5h11m18 0h11M-4 26.5h12m16 0h12M-4 27.5h13m14 0h13M-4 28.5h13m14 0h13M-4 29.5h14m12 0h14M-4 30.5h13m14 0h13M-4 31.5h13m14 0h13M-4 32.5h13m14 0h13M-4 33.5h13m14 0h13M-4 34.5h13m14 0h13M-4 35.5h12m16 0h12"/><path stroke="#0c0c0c" d="M8 -3.5h2m12 0h2M9 -2.5h1m12 0h1M9 -1.5h2m10 0h2M9 -0.5h2m10 0h2M9 0.5h2m10 0h2M9 1.5h2m10 0h2M10 2.5h1m10 0h1M9 3.5h2m10 0h2M9 4.5h2m10 0h2M8 5.5h3m10 0h3M7 6.5h4m10 0h4M6 7.5h5m10 0h5M-4 8.5h3m6 0h6m10 0h6m6 0h3M-2 9.5h12m12 0h12M1 10.5h8m14 0h8M1 21.5h8m14 0h8M-2 22.5h12m12 0h12M-4 23.5h3m6 0h6m10 0h6m6 0h3M6 24.5h5m10 0h5M7 25.5h4m10 0h4M8 26.5h3m10 0h3M9 27.5h2m10 0h2M9 28.5h2m10 0h2M10 29.5h1m10 0h1M9 30.5h2m10 0h2M9 31.5h2m10 0h2M9 32.5h2m10 0h2M9 33.5h2m10 0h2M9 34.5h1m12 0h1M8 35.5h2m12 0h2"/><path stroke="#101010" d="M10 -3.5h1m10 0h1M10 -2.5h2m8 0h2M11 -1.5h1m8 0h1M11 -0.5h1m8 0h1M11 0.5h1m8 0h1M11 1.5h1m8 0h1M11 2.5h1m8 0h1M11 3.5h1m8 0h1M11 4.5h1m8 0h1M11 5.5h1m8 0h1M11 6.5h2m6 0h2M11 7.5h1m8 0h1M11 8.5h1m8 0h1M-4 9.5h2m12 0h2m8 0h2m12 0h2M-2 10.5h3m8 0h3m8 0h3m8 0h3M2 11.5h9m10 0h9M2 20.5h9m10 0h9M-2 21.5h3m8 0h3m8 0h3m8 0h3M-4 22.5h2m12 0h2m8 0h2m12 0h2M11 23.5h1m8 0h1M11 24.5h1m8 0h1M11 25.5h2m6 0h2M11 26.5h1m8 0h1M11 27.5h1m8 0h1M11 28.5h1m8 0h1M11 29.5h1m8 0h1M11 30.5h1m8 0h1M11 31.5h1m8 0h1M11 32.5h1m8 0h1M11 33.5h1m8 0h1M10 34.5h2m8 0h2M10 35.5h1m10 0h1"/><path stroke="#141414" d="M11 -3.5h1m8 0h1M12 -1.5h1m6 0h1M12 -0.5h1m6 0h1M12 0.5h1m6 0h1M12 1.5h1m6 0h1M12 2.5h1m6 0h1M12 3.5h1m6 0h1M12 4.5h1m6 0h1M12 5.5h1m6 0h1M12 7.5h1m6 0h1M12 8.5h1m6 0h1M12 9.5h1m6 0h1M-4 10.5h2m14 0h1m6 0h1m14 0h2M-1 11.5h3m9 0h2m6 0h2m9 0h3M4 12.5h8m8 0h8M4 19.5h8m8 0h8M-1 20.5h3m9 0h2m6 0h2m9 0h3M-4 21.5h2m14 0h1m6 0h1m14 0h2M12 22.5h1m6 0h1M12 23.5h1m6 0h1M12 24.5h1m6 0h1M12 26.5h1m6 0h1M12 27.5h1m6 0h1M12 28.5h1m6 0h1M12 29.5h1m6 0h1M12 30.5h1m6 0h1M12 31.5h1m6 0h1M12 32.5h1m6 0h1M12 33.5h1m6 0h1M11 35.5h1m8 0h1"/><path stroke="#181818" d="M12 -3.5h1m6 0h1M12 -2.5h1m6 0h1M13 1.5h1m4 0h1M13 2.5h1m4 0h1M13 3.5h1m4 0h1M13 4.5h1m4 0h1M13 5.5h1m4 0h1M13 6.5h1m4 0h1M13 7.5h1m4 0h1M13 8.5h1m4 0h1M13 9.5h1m4 0h1M13 10.5h1m4 0h1M-3 11.5h2m14 0h1m4 0h1m14 0h2M1 12.5h3m8 0h1m6 0h1m8 0h3M8 13.5h4m8 0h4M8 18.5h4m8 0h4M1 19.5h3m8 0h1m6 0h1m8 0h3M-3 20.5h2m14 0h1m4 0h1m14 0h2M13 21.5h1m4 0h1M13 22.5h1m4 0h1M13 23.5h1m4 0h1M13 24.5h1m4 0h1M13 25.5h1m4 0h1M13 26.5h1m4 0h1M13 27.5h1m4 0h1M13 28.5h1m4 0h1M13 29.5h1m4 0h1M13 30.5h1m4 0h1M12 34.5h1m6 0h1M12 35.5h1m6 0h1"/><path stroke="#1c1c1c" d="M13 -3.5h1m4 0h1M13 -2.5h1m4 0h1M13 -1.5h1m4 0h1M13 -0.5h1m4 0h1M13 0.5h1m4 0h1M-4 11.5h1m38 0h1M-1 12.5h2m12 0h1m4 0h1m12 0h2M5 13.5h3m4 0h1m6 0h1m4 0h3M5 18.5h3m4 0h1m6 0h1m4 0h3M-1 19.5h2m12 0h1m4 0h1m12 0h2M-4 20.5h1m38 0h1M13 31.5h1m4 0h1M13 32.5h1m4 0h1M13 33.5h1m4 0h1M13 34.5h1m4 0h1M13 35.5h1m4 0h1"/><path stroke="#202020" d="M14 2.5h1m2 0h1M14 3.5h1m2 0h1M14 4.5h1m2 0h1M14 5.5h1m2 0h1M14 6.5h1m2 0h1M14 7.5h1m2 0h1M14 8.5h1m2 0h1M14 9.5h1m2 0h1M14 10.5h1m2 0h1M-4 12.5h3m34 0h3M2 13.5h3m8 0h1m4 0h1m8 0h3M2 18.5h3m8 0h1m4 0h1m8 0h3M-4 19.5h3m34 0h3M14 21.5h1m2 0h1M14 22.5h1m2 0h1M14 23.5h1m2 0h1M14 24.5h1m2 0h1M14 25.5h1m2 0h1M14 26.5h1m2 0h1M14 27.5h1m2 0h1M14 28.5h1m2 0h1M14 29.5h1m2 0h1"/><path stroke="#242424" d="M14 -3.5h1m2 0h1M14 -2.5h1m2 0h1M14 -1.5h1m2 0h1M14 -0.5h1m2 0h1M14 0.5h1m2 0h1M14 1.5h1m2 0h1M14 11.5h1m2 0h1M14 12.5h1m2 0h1M-1 13.5h3m28 0h3M7 14.5h5m8 0h5M7 17.5h5m8 0h5M-1 18.5h3m28 0h3M14 19.5h1m2 0h1M14 20.5h1m2 0h1M14 30.5h1m2 0h1M14 31.5h1m2 0h1M14 32.5h1m2 0h1M14 33.5h1m2 0h1M14 34.5h1m2 0h1M14 35.5h1m2 0h1"/><path stroke="#282828" d="M-4 13.5h3m34 0h3M2 14.5h5m5 0h1m6 0h1m5 0h5M2 17.5h5m5 0h1m6 0h1m5 0h5M-4 18.5h3m34 0h3"/><path stroke="#2d2d2d" d="M15 -3.5h2M15 -2.5h2M15 -1.5h2M15 -0.5h2M15 0.5h2M15 1.5h2M15 2.5h2M15 3.5h2M15 4.5h2M15 5.5h2M15 6.5h2M15 7.5h2M15 8.5h2M15 9.5h2M15 10.5h2M14 13.5h1m2 0h1M-3 14.5h5m28 0h5M-3 17.5h5m28 0h5M14 18.5h1m2 0h1M15 21.5h2M15 22.5h2M15 23.5h2M15 24.5h2M15 25.5h2M15 26.5h2M15 27.5h2M15 28.5h2M15 29.5h2M15 30.5h2M15 31.5h2M15 32.5h2M15 33.5h2M15 34.5h2M15 35.5h2"/><path stroke="#313131" d="M15 11.5h2M15 12.5h2M-4 14.5h1m16 0h1m4 0h1m16 0h1M-3 15.5h14m10 0h14M-3 16.5h14m10 0h14M-4 17.5h1m16 0h1m4 0h1m16 0h1M15 19.5h2M15 20.5h2"/><path stroke="#353535" d="M-4 15.5h1m14 0h1m8 0h1m14 0h1M-4 16.5h1m14 0h1m8 0h1m14 0h1"/><path stroke="#393939" d="M15 13.5h2M15 18.5h2"/><path stroke="#414141" d="M14 14.5h1m2 0h1M12 15.5h1m6 0h1M12 16.5h1m6 0h1M14 17.5h1m2 0h1"/><path stroke="#555555" d="M15 14.5h2M13 15.5h1m4 0h1M13 16.5h1m4 0h1M15 17.5h2"/><path stroke="#717171" d="M14 15.5h1m2 0h1M14 16.5h1m2 0h1"/><path stroke="#929292" d="M15 15.5h2M15 16.5h2"/></g><g filter="url(#fsC)" style="mix-blend-mode:lighten"><rect x="15.901" y="0.00" width="0.518" height="32.00" fill="#333333"/><ellipse cx="16.160" cy="16.000" rx="0.776" ry="0.253" fill="#949494"/><ellipse cx="16.160" cy="16.000" rx="0.345" ry="0.126" fill="#b2b2b2"/></g></svg><svg class="p" style="left:477.6px;top:2124.0px" width="371.1" height="379.7" viewBox="0 0 32 32" preserveAspectRatio="none"><g fill="none" stroke-width="1.02" filter="url(#fbA)"><path stroke="#414141" d="M-4 -3.5h40M-4 -2.5h1m38 0h1M-4 -1.5h1m38 0h1M-4 -0.5h1m38 0h1M-4 0.5h1m38 0h1M-4 1.5h1m38 0h1M-4 2.5h1m38 0h1M-4 3.5h1m38 0h1M-4 4.5h1m38 0h1M-4 5.5h1m38 0h1M-4 6.5h1m38 0h1M-4 7.5h1m38 0h1M-4 8.5h1m38 0h1M-4 9.5h1m38 0h1M-4 10.5h1m38 0h1M-4 11.5h1m38 0h1M-4 12.5h1m38 0h1M-4 13.5h1m38 0h1M-4 14.5h1m38 0h1M-4 15.5h1m38 0h1M-4 16.5h1m38 0h1M-4 17.5h1m38 0h1M-4 18.5h1m38 0h1M-4 19.5h1m38 0h1M-4 20.5h1m38 0h1M-4 21.5h1m38 0h1M-4 22.5h1m38 0h1M-4 23.5h1m38 0h1M-4 24.5h1m38 0h1M-4 25.5h1m38 0h1M-4 26.5h1m38 0h1M-4 27.5h1m38 0h1M-4 28.5h1m38 0h1M-4 29.5h1m38 0h1M-4 30.5h1m38 0h1M-4 31.5h1m38 0h1M-4 32.5h1m38 0h1M-4 33.5h1m38 0h1M-4 34.5h1m38 0h1M-4 35.5h40"/><path stroke="#454545" d="M-3 -2.5h38M-3 -1.5h1m36 0h1M-3 -0.5h1m36 0h1M-3 0.5h1m36 0h1M-3 1.5h1m36 0h1M-3 2.5h1m36 0h1M-3 3.5h1m36 0h1M-3 4.5h1m36 0h1M-3 5.5h1m36 0h1M-3 6.5h1m36 0h1M-3 7.5h1m36 0h1M-3 8.5h1m36 0h1M-3 9.5h1m36 0h1M-3 10.5h1m36 0h1M-3 11.5h1m36 0h1M-3 12.5h1m36 0h1M-3 13.5h1m36 0h1M-3 14.5h1m36 0h1M-3 15.5h1m36 0h1M-3 16.5h1m36 0h1M-3 17.5h1m36 0h1M-3 18.5h1m36 0h1M-3 19.5h1m36 0h1M-3 20.5h1m36 0h1M-3 21.5h1m36 0h1M-3 22.5h1m36 0h1M-3 23.5h1m36 0h1M-3 24.5h1m36 0h1M-3 25.5h1m36 0h1M-3 26.5h1m36 0h1M-3 27.5h1m36 0h1M-3 28.5h1m36 0h1M-3 29.5h1m36 0h1M-3 30.5h1m36 0h1M-3 31.5h1m36 0h1M-3 32.5h1m36 0h1M-3 33.5h1m36 0h1M-3 34.5h38"/><path stroke="#494949" d="M-2 -1.5h36M-2 -0.5h36M-2 0.5h2m32 0h2M-2 1.5h2m32 0h2M-2 2.5h2m32 0h2M-2 3.5h2m32 0h2M-2 4.5h2m32 0h2M-2 5.5h2m32 0h2M-2 6.5h2m32 0h2M-2 7.5h2m32 0h2M-2 8.5h2m32 0h2M-2 9.5h2m32 0h2M-2 10.5h2m32 0h2M-2 11.5h2m32 0h2M-2 12.5h2m32 0h2M-2 13.5h2m32 0h2M-2 14.5h2m32 0h2M-2 15.5h2m32 0h2M-2 16.5h2m32 0h2M-2 17.5h2m32 0h2M-2 18.5h2m32 0h2M-2 19.5h2m32 0h2M-2 20.5h2m32 0h2M-2 21.5h2m32 0h2M-2 22.5h2m32 0h2M-2 23.5h2m32 0h2M-2 24.5h2m32 0h2M-2 25.5h2m32 0h2M-2 26.5h2m32 0h2M-2 27.5h2m32 0h2M-2 28.5h2m32 0h2M-2 29.5h2m32 0h2M-2 30.5h2m32 0h2M-2 31.5h2m32 0h2M-2 32.5h36M-2 33.5h36"/><path stroke="#4d4d4d" d="M0 0.5h32M0 1.5h32M0 2.5h12m8 0h12M0 3.5h3m26 0h3M0 4.5h3m26 0h3M0 5.5h3m26 0h3M0 6.5h3m26 0h3M0 7.5h3m26 0h3M0 8.5h3m26 0h3M0 9.5h3m26 0h3M0 10.5h3m26 0h3M0 11.5h3m26 0h3M0 12.5h2m28 0h2M0 13.5h2m28 0h2M0 14.5h2m28 0h2M0 15.5h2m28 0h2M0 16.5h2m28 0h2M0 17.5h2m28 0h2M0 18.5h2m28 0h2M0 19.5h2m28 0h2M0 20.5h3m26 0h3M0 21.5h3m26 0h3M0 22.5h3m26 0h3M0 23.5h3m26 0h3M0 24.5h3m26 0h3M0 25.5h3m26 0h3M0 26.5h3m26 0h3M0 27.5h3m26 0h3M0 28.5h3m26 0h3M0 29.5h12m8 0h12M0 30.5h32M0 31.5h32"/><path stroke="#515151" d="M12 2.5h8M3 3.5h26M3 4.5h10m6 0h10M3 5.5h2m22 0h2M3 6.5h2m22 0h2M3 7.5h2m22 0h2M3 8.5h2m22 0h2M3 9.5h2m22 0h2M3 10.5h2m22 0h2M3 11.5h2m22 0h2M2 12.5h3m22 0h3M2 13.5h2m24 0h2M2 14.5h2m24 0h2M2 15.5h2m24 0h2M2 16.5h2m24 0h2M2 17.5h2m24 0h2M2 18.5h2m24 0h2M2 19.5h3m22 0h3M3 20.5h2m22 0h2M3 21.5h2m22 0h2M3 22.5h2m22 0h2M3 23.5h2m22 0h2M3 24.5h2m22 0h2M3 25.5h2m22 0h2M3 26.5h2m22 0h2M3 27.5h10m6 0h10M3 28.5h26M12 29.5h8"/><path stroke="#555555" d="M13 4.5h6M5 5.5h22M5 6.5h6m10 0h6M5 7.5h2m18 0h2M5 8.5h2m18 0h2M5 9.5h2m18 0h2M5 10.5h2m18 0h2M5 11.5h1m20 0h1M5 12.5h1m20 0h1M4 13.5h2m20 0h2M4 14.5h2m20 0h2M4 15.5h2m20 0h2M4 16.5h2m20 0h2M4 17.5h2m20 0h2M4 18.5h2m20 0h2M5 19.5h1m20 0h1M5 20.5h1m20 0h1M5 21.5h2m18 0h2M5 22.5h2m18 0h2M5 23.5h2m18 0h2M5 24.5h2m18 0h2M5 25.5h6m10 0h6M5 26.5h22M13 27.5h6"/><path stroke="#595959" d="M11 6.5h10M7 7.5h8m2 0h8M7 8.5h1m16 0h1M7 9.5h1m16 0h1M7 10.5h1m16 0h1M6 11.5h2m16 0h2M6 12.5h2m16 0h2M6 13.5h2m16 0h2M6 14.5h2m16 0h2M6 15.5h1m18 0h1M6 16.5h1m18 0h1M6 17.5h2m16 0h2M6 18.5h2m16 0h2M6 19.5h2m16 0h2M6 20.5h2m16 0h2M7 21.5h1m16 0h1M7 22.5h1m16 0h1M7 23.5h1m16 0h1M7 24.5h8m2 0h8M11 25.5h10"/><path stroke="#5d5d5d" d="M15 7.5h2M8 8.5h16M8 9.5h1m14 0h1M8 10.5h1m14 0h1M8 11.5h1m14 0h1M8 12.5h1m14 0h1M8 13.5h1m14 0h1M8 14.5h1m14 0h1M7 15.5h2m14 0h2M7 16.5h2m14 0h2M8 17.5h1m14 0h1M8 18.5h1m14 0h1M8 19.5h1m14 0h1M8 20.5h1m14 0h1M8 21.5h1m14 0h1M8 22.5h1m14 0h1M8 23.5h16M15 24.5h2"/><path stroke="#616161" d="M9 9.5h14M9 10.5h1m12 0h1M9 11.5h1m12 0h1M9 12.5h1m12 0h1M9 13.5h1m12 0h1M9 14.5h1m12 0h1M9 15.5h1m12 0h1M9 16.5h1m12 0h1M9 17.5h1m12 0h1M9 18.5h1m12 0h1M9 19.5h1m12 0h1M9 20.5h1m12 0h1M9 21.5h1m12 0h1M9 22.5h14"/><path stroke="#656565" d="M10 10.5h12M10 11.5h1m10 0h1M10 12.5h1m10 0h1M10 13.5h1m10 0h1M10 14.5h1m10 0h1M10 15.5h1m10 0h1M10 16.5h1m10 0h1M10 17.5h1m10 0h1M10 18.5h1m10 0h1M10 19.5h1m10 0h1M10 20.5h1m10 0h1M10 21.5h12"/><path stroke="#696969" d="M11 11.5h1m8 0h1M11 20.5h1m8 0h1"/><path stroke="#6d6d6d" d="M12 11.5h8M11 12.5h1m8 0h1M11 13.5h1m8 0h1M11 14.5h1m8 0h1M11 15.5h1m8 0h1M11 16.5h1m8 0h1M11 17.5h1m8 0h1M11 18.5h1m8 0h1M11 19.5h1m8 0h1M12 20.5h8"/><path stroke="#717171" d="M12 12.5h3m2 0h3M12 13.5h1m6 0h1M12 14.5h1m6 0h1M12 17.5h1m6 0h1M12 18.5h1m6 0h1M12 19.5h3m2 0h3"/><path stroke="#757575" d="M15 12.5h2M12 15.5h1m6 0h1M12 16.5h1m6 0h1M15 19.5h2"/><path stroke="#797979" d="M13 13.5h1m4 0h1M13 18.5h1m4 0h1"/><path stroke="#7d7d7d" d="M14 13.5h1m2 0h1M13 14.5h1m4 0h1M13 17.5h1m4 0h1M14 18.5h1m2 0h1"/><path stroke="#828282" d="M15 13.5h2M13 15.5h1m4 0h1M13 16.5h1m4 0h1M15 18.5h2"/><path stroke="#8e8e8e" d="M14 14.5h1m2 0h1M14 17.5h1m2 0h1"/><path stroke="#9a9a9a" d="M15 14.5h2M14 15.5h1m2 0h1M14 16.5h1m2 0h1M15 17.5h2"/><path stroke="#aeaeae" d="M15 15.5h2M15 16.5h2"/></g><g filter="url(#fsA)" style="mix-blend-mode:lighten"><rect x="0.00" y="15.917" width="32.00" height="0.295" fill="#a3a3a3"/><rect x="16.063" y="0.00" width="0.259" height="32.00" fill="#9e9e9e"/><ellipse cx="16.192" cy="16.064" rx="1.035" ry="0.253" fill="#cccccc"/><ellipse cx="16.192" cy="16.064" rx="0.431" ry="0.169" fill="#f2f2f2"/></g></svg><svg class="p" style="left:913.6px;top:2124.0px" width="371.5" height="379.7" viewBox="0 0 64 64" preserveAspectRatio="none"><g fill="none" stroke-width="1.02"><path stroke="#482576" d="M18 0.5h1m22 0h1M63 3.5h1M1 4.5h1M0 26.5h1M63 51.5h1M0 61.5h1M0 62.5h1M0 63.5h1m51 0h1"/><path stroke="#472d7b" d="M24 0.5h1M9 1.5h1m33 0h1m2 0h1M3 2.5h1m15 0h1m23 0h2M25 4.5h1m31 0h1M5 5.5h1m1 0h1M13 6.5h1m31 0h1M1 7.5h1m1 0h1M5 9.5h2m50 0h1m1 0h1M58 10.5h1M7 13.5h1m52 0h1M9 14.5h1m52 0h1M6 16.5h1M58 17.5h1M6 18.5h1M6 19.5h1M4 20.5h1m3 0h1M59 21.5h1M6 23.5h1m56 0h1M60 24.5h1M57 26.5h1M2 31.5h1M1 33.5h1m57 0h1M4 35.5h1M59 36.5h1M61 37.5h1M60 39.5h1M7 41.5h1m55 0h1M58 46.5h1M6 51.5h1M4 52.5h1m52 0h1m2 0h1M2 55.5h1M42 57.5h1M16 58.5h1M23 60.5h1M5 61.5h1M14 62.5h1m9 0h1M10 63.5h1m36 0h1"/><path stroke="#453581" d="M6 0.5h1m13 0h1M51 1.5h1M1 2.5h1m12 0h1m33 0h1M38 3.5h1M8 4.5h2m53 0h1M39 7.5h1M42 8.5h1m13 0h1m3 0h1M43 9.5h1M13 10.5h1m25 0h1m12 0h1M48 11.5h1m1 0h1M41 12.5h1M5 13.5h1M13 14.5h1m2 0h1m3 0h1m2 0h1m17 0h1m18 0h1M10 20.5h1m39 0h1m2 0h1M8 21.5h1M6 22.5h1m44 0h1M62 24.5h1M56 28.5h1M54 30.5h1m8 0h1M5 31.5h1M1 34.5h1M51 38.5h1m9 0h1M8 43.5h1M2 44.5h1M11 46.5h1M9 48.5h1m4 0h1m39 0h1M12 49.5h1M1 50.5h1M17 51.5h1m2 0h1M44 52.5h1m5 0h1M50 53.5h1M44 54.5h1M12 55.5h1M39 56.5h1m10 0h1M26 58.5h1m33 0h1M24 59.5h1M26 61.5h1M46 63.5h1m4 0h1m10 0h1"/><path stroke="#433d84" d="M55 0.5h1M14 1.5h1M27 3.5h1m23 0h1M18 4.5h1M55 5.5h1M62 6.5h1M2 7.5h1M13 8.5h1m37 0h1m3 0h1m6 0h1M18 9.5h1M12 10.5h1M62 11.5h1M15 12.5h1M15 13.5h1M49 15.5h1M10 16.5h1m38 0h1m9 0h1M23 18.5h1m19 0h1M3 19.5h1m37 0h1M22 20.5h1m29 0h1M23 21.5h1M21 23.5h1M14 26.5h1m39 0h1M16 27.5h1m29 0h1m6 0h1M48 29.5h1M57 30.5h1M7 33.5h1m39 0h1m12 0h1M18 34.5h1m40 0h1M45 36.5h1m12 0h1M19 37.5h1M4 39.5h1m52 0h1M48 40.5h1M13 41.5h1m30 0h1m15 0h1M14 42.5h1M2 43.5h1m16 0h1m2 0h1m24 0h1M0 44.5h1m2 0h1m6 0h1m42 0h1M12 45.5h1M10 46.5h1m12 0h1m21 0h1M5 47.5h1m41 0h1M7 50.5h1M12 51.5h1m10 0h1m2 0h1m13 0h1M26 52.5h1M38 53.5h1M39 54.5h1M53 56.5h1m9 0h1M18 57.5h1m2 0h1m31 0h1m3 0h1M25 58.5h1M5 59.5h1m56 0h1M43 60.5h1M40 63.5h1m14 0h1"/><path stroke="#404588" d="M3 0.5h1m39 0h1M47 2.5h1M5 3.5h1m23 0h1M35 5.5h1m4 0h1M9 6.5h1m1 0h1m40 0h1m1 0h1M8 7.5h1M1 8.5h1m43 0h1M4 9.5h1m12 0h1M48 10.5h1m10 0h1M7 15.5h1m6 0h1m36 0h1M12 17.5h1m2 0h1m10 0h1m10 0h1M13 20.5h1m24 0h1M7 21.5h1m3 0h1m14 0h1M42 23.5h1M12 24.5h1M5 25.5h1m14 0h1m40 0h1M23 26.5h1M43 27.5h1M5 28.5h1m1 0h1M3 30.5h1M20 33.5h1M14 35.5h1m27 0h1M20 36.5h1M3 37.5h1m47 0h1M40 38.5h1M24 39.5h1M8 40.5h1m50 0h1m1 0h1M2 42.5h1m2 0h1m34 0h1m22 0h1M11 43.5h1M19 44.5h1m42 0h1M38 45.5h1M19 47.5h1m2 0h1m4 0h1m30 0h1M4 48.5h1m36 0h1m7 0h1m2 0h1M37 49.5h1m25 0h1M5 51.5h1m51 0h1M10 53.5h1m37 0h1m6 0h1M16 54.5h1m11 0h1m12 0h1m4 0h1m13 0h1M45 55.5h1m7 0h1M28 56.5h1M1 57.5h1m9 0h1m14 0h1m2 0h1M56 58.5h1m6 0h1M8 59.5h1m13 0h1m20 0h1m17 0h1M48 60.5h1M14 61.5h1m13 0h1m14 0h1m6 0h1m7 0h1M17 62.5h1m1 0h1m40 0h1M50 63.5h1"/><path stroke="#3d4d8a" d="M10 0.5h2m42 0h1M0 1.5h1m18 0h1m3 0h1M46 2.5h1m5 0h1M6 4.5h1m12 0h1m7 0h1M10 5.5h1m43 0h1M20 6.5h1m15 0h1m9 0h1m1 0h1m2 0h1M43 8.5h1m19 0h1M10 9.5h1m5 0h1M11 10.5h1M7 11.5h1m13 0h1m5 0h1m15 0h1m19 0h1M10 12.5h1m39 0h1m12 0h1M0 14.5h1m26 0h1M42 15.5h1m10 0h1m5 0h1M7 16.5h1m3 0h1m7 0h1M12 18.5h1m44 0h1M12 19.5h1m5 0h1m31 0h2M39 20.5h1m15 0h1M10 21.5h1M55 22.5h1m1 0h1m3 0h2M3 23.5h2m4 0h1m4 0h1m30 0h1m14 0h1M1 24.5h2m42 0h1M3 25.5h1m43 0h1m5 0h1m1 0h1M12 26.5h1M2 28.5h1M52 29.5h1m3 0h1M0 30.5h1m14 0h1m26 0h1M0 31.5h1m8 0h1m8 0h1m5 0h1M4 33.5h1m19 0h1M9 35.5h1m1 0h1m9 0h1m25 0h1m2 0h1M6 36.5h1m14 0h1m24 0h1M0 38.5h1m7 0h1m53 0h1M2 39.5h1m10 0h1m25 0h1m16 0h1m4 0h1M19 40.5h1m17 0h1M9 41.5h1m27 0h1m11 0h1M11 42.5h1m7 0h1m33 0h1m1 0h1m2 0h1M0 43.5h1m26 0h1M4 45.5h1m34 0h1M6 46.5h1m2 0h1m33 0h1M13 47.5h1m41 0h1m6 0h1M39 48.5h1m10 0h1M9 50.5h1m16 0h1M1 51.5h1m43 0h1M2 54.5h1m18 0h1m13 0h1m4 0h1m21 0h1M26 55.5h1m2 0h1m9 0h1M12 56.5h1m9 0h1m34 0h1M48 57.5h1M46 58.5h1M42 59.5h1m4 0h1M2 60.5h1M3 61.5h1m35 0h1M27 62.5h1m3 0h1M2 63.5h1m13 0h1m11 0h1m30 0h1"/><path stroke="#3a538b" d="M8 0.5h1m26 0h1m14 0h1M1 1.5h1m20 0h1m17 0h2m5 0h1M12 2.5h1m25 0h1m10 0h1m4 0h1M0 3.5h1m1 0h1m38 0h1m3 0h1M23 4.5h1m23 0h1m5 0h1M8 5.5h1m11 0h1m38 0h1M2 6.5h1m16 0h1m24 0h1m18 0h1M0 7.5h1m11 0h1M2 8.5h1m45 0h1M2 9.5h1M5 10.5h1M46 11.5h2m4 0h1m2 0h1M3 12.5h1m33 0h1M2 13.5h1m7 0h1m3 0h1m1 0h1m25 0h1m8 0h1M2 14.5h1m22 0h1m26 0h1m4 0h1M2 15.5h1m5 0h1m2 0h1m36 0h1m5 0h1M1 16.5h1m6 0h1m31 0h1m21 0h1M0 17.5h1m2 0h1m53 0h1M3 18.5h1m20 0h1m14 0h1M56 19.5h1M2 20.5h1m6 0h1m14 0h1M15 23.5h1m10 0h1m22 0h1m12 0h1M3 24.5h1m18 0h1m19 0h2M2 25.5h1m55 0h1M9 27.5h1m11 0h1m41 0h1M3 28.5h1m2 0h1m8 0h1m9 0h1M2 29.5h1m9 0h1m1 0h1M20 30.5h1m5 0h1m33 0h1M3 31.5h1m7 0h1m50 0h1M12 33.5h1M4 34.5h1M0 35.5h1m45 0h1m11 0h1m1 0h1m1 0h1M26 36.5h1M58 37.5h1M15 38.5h1m4 0h1m35 0h1m6 0h1M6 39.5h1m19 0h1M21 40.5h1M2 41.5h1m5 0h1M59 42.5h1M4 43.5h1m5 0h1m7 0h1m2 0h1M6 44.5h1m16 0h1m26 0h1M1 45.5h1m12 0h1M3 46.5h1m1 0h1m38 0h1M6 47.5h1m1 0h2m16 0h1M21 48.5h1M60 49.5h1M43 50.5h1m12 0h1M0 51.5h1m49 0h1M1 52.5h1m3 0h1m7 0h1m26 0h1m7 0h1m3 0h2m1 0h1M3 53.5h1m13 0h1M14 54.5h1m39 0h1M8 55.5h1m2 0h1m1 0h1m33 0h1m14 0h1M11 56.5h1m2 0h1m37 0h1M8 57.5h1m5 0h2m1 0h1m1 0h1m34 0h1M4 58.5h1m38 0h1m10 0h1m6 0h1M3 59.5h1m2 0h2m8 0h2m1 0h1m13 0h1m24 0h1M6 60.5h1m4 0h1m24 0h1m26 0h1M4 61.5h1m8 0h1m2 0h1m19 0h1m19 0h1M7 62.5h1m15 0h1m37 0h1m1 0h1M6 63.5h1m1 0h1"/><path stroke="#375b8d" d="M4 0.5h1m4 0h1m36 0h1m1 0h1m14 0h1M18 1.5h1m20 0h1m16 0h1M3 3.5h1m3 0h1m2 0h2m3 0h1m12 0h1m11 0h1m3 0h1m2 0h1M16 4.5h2m30 0h1m10 0h2M16 5.5h1m1 0h1m6 0h1m15 0h1m19 0h1M0 6.5h2m20 0h1m19 0h1m13 0h1m4 0h1M21 7.5h2m3 0h1m21 0h1m12 0h1M49 8.5h1M8 9.5h1m51 0h1M1 10.5h1m21 0h1m18 0h3m6 0h1m3 0h1M24 11.5h1m4 0h1m3 0h1M2 12.5h1m40 0h1m7 0h1m9 0h1M0 13.5h1m3 0h1m16 0h1M14 14.5h1m17 0h1m28 0h1M39 15.5h1m6 0h1m10 0h1M5 16.5h1m51 0h1M6 17.5h1m34 0h1m5 0h1M22 18.5h1m21 0h1m16 0h1M1 19.5h1m12 0h1m24 0h1m13 0h1m3 0h1M5 20.5h1m1 0h1m15 0h1m18 0h1m4 0h1m3 0h1m6 0h1m1 0h1M0 21.5h1m5 0h1m32 0h1m18 0h1M10 22.5h1m24 0h1m8 0h1m7 0h1m10 0h1M2 23.5h1M7 24.5h2m1 0h1m9 0h1m15 0h1m16 0h1m4 0h1M1 25.5h1m12 0h1m3 0h1m31 0h1m5 0h1m5 0h1M4 26.5h1m2 0h1m37 0h1m17 0h1M1 27.5h1m47 0h1m7 0h2M11 28.5h1m12 0h1m25 0h1M1 29.5h1m3 0h1m1 0h1m53 0h1M1 30.5h1m3 0h1m37 0h1m12 0h1m5 0h1M54 31.5h1m6 0h1m1 0h1M27 33.5h1m21 0h1m2 0h2m7 0h1M0 34.5h1m40 0h1m1 0h1m8 0h1m7 0h1M6 35.5h1M9 36.5h1m44 0h1M0 37.5h1m7 0h1m1 0h3m15 0h1m20 0h1m2 0h1m4 0h1M7 38.5h1m39 0h1M0 39.5h1m2 0h1m47 0h1m3 0h1M2 40.5h1m4 0h1m46 0h1m5 0h1M4 41.5h1m36 0h1m12 0h1m2 0h1m1 0h1M1 43.5h1m44 0h1m2 0h1m8 0h1m2 0h2M18 44.5h1m30 0h1M7 45.5h1m1 0h1m33 0h1m8 0h1m1 0h1m4 0h1M1 47.5h1m23 0h1m16 0h1M12 48.5h1m21 0h1m16 0h1m3 0h1m5 0h2M6 49.5h1m4 0h1m5 0h1m35 0h2M2 50.5h2m2 0h1m5 0h1M15 51.5h1m36 0h2M0 53.5h1m4 0h1m8 0h1m3 0h1m32 0h1m6 0h1M0 54.5h1m44 0h1M10 55.5h1m4 0h1m26 0h1m14 0h1M1 56.5h2m17 0h1m15 0h1m1 0h1M10 57.5h1m11 0h1m33 0h1M2 58.5h1m36 0h1m2 0h1M1 59.5h1m36 0h1m1 0h1m4 0h1m5 0h1M8 60.5h1m7 0h1m3 0h1m38 0h1M10 61.5h1m46 0h1M13 62.5h1m2 0h1m1 0h1m22 0h1m3 0h1m8 0h1m2 0h1M4 63.5h1m9 0h1m5 0h1m22 0h1"/><path stroke="#34618d" d="M0 0.5h1m4 0h1m6 0h1m9 0h1m15 0h1m1 0h1m1 0h1m9 0h1m7 0h1m1 0h1M12 1.5h1m8 0h1m5 0h1m1 0h1M4 2.5h1m6 0h1m1 0h1m7 0h1m17 0h1M20 3.5h2m4 0h1m12 0h1m2 0h1m5 0h1m3 0h1m1 0h1m1 0h1m1 0h1m1 0h1M11 4.5h1m1 0h1m7 0h1m24 0h1m8 0h1m2 0h1M0 5.5h1m36 0h2m3 0h1m10 0h1m4 0h1m1 0h1M10 6.5h1m3 0h1m2 0h1m7 0h1m1 0h1m9 0h1m17 0h1M29 7.5h1m6 0h1m20 0h1m4 0h1M4 8.5h1m32 0h1m3 0h1m12 0h1M0 9.5h1m8 0h1m31 0h1m5 0h2m14 0h1M9 10.5h1m19 0h1m1 0h1m13 0h1M3 11.5h2m8 0h1m40 0h1M27 12.5h1m16 0h1m2 0h1m14 0h1M6 13.5h1M15 14.5h1m1 0h1m3 0h1m33 0h2M3 15.5h1m1 0h1m4 0h1m9 0h2M47 16.5h2m5 0h1M56 17.5h1m4 0h1M0 18.5h1m17 0h1M8 19.5h1m4 0h1m7 0h1m33 0h1M16 20.5h1m2 0h1m26 0h1m1 0h1M3 21.5h1m9 0h1m1 0h1m3 0h2m8 0h1m15 0h1m6 0h1M12 22.5h1m6 0h1m23 0h1m12 0h1m1 0h1M47 23.5h1m10 0h1M0 24.5h1m22 0h1m24 0h1M13 25.5h1m16 0h1m7 0h1m5 0h1m7 0h1M29 26.5h1m17 0h1m13 0h1M0 27.5h1m7 0h1m33 0h1M0 28.5h1m61 0h1M0 29.5h1m9 0h1m43 0h1m4 0h1M16 30.5h1M27 31.5h1m24 0h1m4 0h1M16 33.5h1m28 0h1M2 34.5h1m20 0h1m20 0h1m9 0h1m7 0h1M3 35.5h1m13 0h1m5 0h1m2 0h1m30 0h1M0 36.5h1m7 0h1m3 0h1m10 0h1m18 0h2m11 0h1M56 37.5h1m2 0h1m2 0h1M4 38.5h1m38 0h1m9 0h1m3 0h1m1 0h1M12 39.5h1m8 0h1m6 0h1m1 0h1m12 0h1m1 0h1m6 0h1m6 0h1M0 40.5h1m2 0h1m1 0h1m4 0h2m3 0h1m4 0h1m20 0h1m4 0h1M1 41.5h1m3 0h1m19 0h1m35 0h1M7 42.5h1m2 0h1m11 0h1m7 0h1m17 0h2m6 0h1M50 43.5h1m1 0h1m4 0h1m2 0h1M9 44.5h1m10 0h1m5 0h1m6 0h1m3 0h1m5 0h1M20 45.5h1m4 0h1m20 0h2M18 46.5h2m8 0h1m23 0h1m7 0h1M17 47.5h1m5 0h1m4 0h1M1 48.5h1m1 0h1m3 0h1m5 0h1m9 0h1m21 0h1m14 0h1M1 49.5h1m11 0h1m1 0h2m27 0h1m7 0h1M4 50.5h1m9 0h1m6 0h1m7 0h1m15 0h1m16 0h2M51 51.5h1m6 0h1M14 52.5h1m24 0h1m5 0h1M1 53.5h2m12 0h1m5 0h1m2 0h1m1 0h1m17 0h2m1 0h1M8 54.5h1m6 0h1m2 0h1m28 0h1m3 0h1M5 55.5h1m32 0h1m4 0h1m4 0h1m12 0h1m1 0h1M24 56.5h1m37 0h1M0 57.5h1m19 0h1m14 0h1m10 0h2m4 0h1M12 58.5h1m10 0h2m22 0h1m5 0h1M0 59.5h1m13 0h1m6 0h1m5 0h2m20 0h2m6 0h1m5 0h1M0 60.5h2m2 0h1m12 0h1m31 0h1M1 61.5h2m17 0h1m1 0h1m24 0h3m11 0h1M3 62.5h1m4 0h2m11 0h1m20 0h1m4 0h1m3 0h1m3 0h1M5 63.5h1m11 0h2m7 0h1m11 0h1m3 0h1"/><path stroke="#31688e" d="M2 0.5h1m4 0h1m8 0h2m3 0h1m15 0h1m6 0h1m13 0h1M2 1.5h1m4 0h1m2 0h1m21 0h1m9 0h1m1 0h2m6 0h1m8 0h1M0 2.5h1m15 0h2m2 0h1m1 0h1m1 0h1m1 0h1m1 0h1m8 0h1m2 0h1m9 0h1m6 0h1m2 0h1M13 3.5h2m2 0h1m1 0h1m4 0h2m24 0h1m4 0h1m1 0h1m3 0h2M0 4.5h1m6 0h1m12 0h1m7 0h1m12 0h1m9 0h1m2 0h1m1 0h1M11 5.5h1m1 0h1m1 0h1m1 0h1m6 0h1m19 0h1m2 0h1m1 0h1m2 0h1M16 6.5h1m9 0h1m12 0h1m18 0h1M6 7.5h1m10 0h2m8 0h1m13 0h1m21 0h1M12 8.5h1m12 0h1m10 0h1m7 0h1m7 0h1M7 9.5h1m29 0h2m5 0h1m10 0h1m6 0h1M4 10.5h1m2 0h2m8 0h1m2 0h1m41 0h1M0 11.5h1m10 0h2m4 0h1m8 0h1M11 12.5h1m5 0h3m2 0h1m10 0h1m5 0h1m5 0h1m14 0h1M1 13.5h1m41 0h1m4 0h2m4 0h1m1 0h1m2 0h1m3 0h1M3 14.5h1m6 0h2m6 0h1m14 0h1M12 15.5h2m1 0h1m9 0h1m19 0h1M4 16.5h1m7 0h1m4 0h1m6 0h2m6 0h1m11 0h1m7 0h1m3 0h1m1 0h1m4 0h1M8 17.5h1m2 0h1m1 0h1m2 0h1m36 0h2m8 0h1M4 18.5h1m2 0h1m9 0h1m31 0h1m8 0h1M17 19.5h1m34 0h1m6 0h1M1 20.5h1m1 0h1m16 0h1M12 21.5h1m36 0h2m4 0h2m4 0h3M0 22.5h1m7 0h1m5 0h1m17 0h1m1 0h1m10 0h1M5 23.5h1m4 0h1m27 0h1m17 0h1M13 24.5h1m7 0h1m2 0h1m15 0h2m5 0h1m7 0h1m7 0h1M0 25.5h1m3 0h1m4 0h1m29 0h1m23 0h1M1 26.5h1m18 0h1m3 0h1m21 0h1m9 0h1m5 0h1M18 27.5h1m35 0h3m5 0h1M4 28.5h1m56 0h1M15 29.5h1m4 0h1m23 0h1m1 0h1m13 0h1m1 0h1M13 30.5h1m11 0h1m21 0h1m7 0h1m2 0h1m2 0h1M56 31.5h1m3 0h1M0 33.5h1m7 0h1m6 0h1m27 0h1m12 0h1m1 0h1M3 34.5h1m8 0h1m12 0h1m1 0h1m19 0h1m2 0h1m6 0h1m5 0h1M45 35.5h1m8 0h1M2 36.5h2m20 0h1m37 0h1M6 37.5h1m41 0h1M3 38.5h1m2 0h1m9 0h1m4 0h1m1 0h1M1 39.5h1m3 0h1m4 0h1m42 0h1m9 0h1M1 40.5h1m42 0h2m1 0h1m3 0h1M6 41.5h1m5 0h1m33 0h2m3 0h1M1 42.5h1m30 0h1m29 0h1M24 43.5h1m1 0h1m26 0h2M14 44.5h1m33 0h1m2 0h1m2 0h1M0 45.5h1m4 0h1m7 0h1m4 0h1m5 0h1m17 0h1m20 0h1M0 46.5h1m46 0h1m8 0h1m5 0h1M0 47.5h1m1 0h1m1 0h1m6 0h1m3 0h1m34 0h2M8 48.5h1m1 0h1m7 0h1m21 0h1m7 0h1m7 0h1M2 49.5h1m1 0h1m3 0h2m10 0h1m8 0h1m9 0h1m10 0h2m4 0h1m2 0h1m1 0h1M5 50.5h1m9 0h1m11 0h1m12 0h1m7 0h1M4 51.5h1m5 0h1m13 0h1m10 0h1m5 0h1m1 0h1m2 0h1m8 0h1m5 0h1M2 52.5h1m3 0h1m4 0h1m21 0h1m3 0h1m5 0h1m2 0h1M11 53.5h1m8 0h1m32 0h1m3 0h1m4 0h1M3 54.5h1m2 0h2m4 0h1m11 0h2m23 0h1m2 0h1m8 0h1m1 0h1M1 55.5h1m1 0h1m31 0h1m1 0h1m2 0h2M5 56.5h1m9 0h1m1 0h2m21 0h1m3 0h1m2 0h2m2 0h1M7 57.5h1m42 0h2m3 0h1M13 58.5h1m1 0h1m3 0h2m6 0h1m2 0h1m1 0h1m1 0h1m14 0h1m8 0h1M2 59.5h1m1 0h1m8 0h1m6 0h1m23 0h1m7 0h1M10 60.5h1m15 0h1m11 0h1m15 0h3m3 0h3M8 61.5h1m2 0h2m2 0h1m1 0h2m4 0h3m3 0h1m12 0h1m8 0h2m9 0h2M6 62.5h1m5 0h1m13 0h1m11 0h1m1 0h1m5 0h1m1 0h2m3 0h1M7 63.5h1m5 0h1m1 0h1m6 0h1m16 0h1m14 0h1m1 0h1m1 0h1m1 0h2"/><path stroke="#2e6e8e" d="M1 0.5h1m11 0h1m11 0h1m10 0h1m10 0h1m1 0h1m3 0h1m3 0h1M3 1.5h4m6 0h1m3 0h1m8 0h1m1 0h1m1 0h1m3 0h1m2 0h2m18 0h1m2 0h1M5 2.5h1m4 0h1m4 0h1m7 0h1m18 0h1m2 0h1m12 0h1m3 0h2M4 3.5h1m4 0h1m8 0h1m16 0h1M2 4.5h1m1 0h1m17 0h1m10 0h1m27 0h2M3 5.5h1m15 0h1m3 0h1m9 0h1m17 0h1m5 0h1M6 6.5h1m11 0h1m2 0h1m10 0h1m7 0h1m2 0h1m13 0h1m1 0h2M10 7.5h2m2 0h1m4 0h2m4 0h1m8 0h1m3 0h1m8 0h1m6 0h2m3 0h1M7 8.5h3m4 0h1m6 0h2m4 0h1m19 0h1m9 0h1m1 0h1m1 0h1M13 9.5h1m1 0h1m29 0h1m3 0h2m5 0h1M19 10.5h1m4 0h1m10 0h1m11 0h1M1 11.5h1m4 0h1m2 0h1m12 0h1m17 0h1m1 0h1m14 0h1M0 12.5h1m4 0h2m2 0h1m28 0h1m15 0h1m3 0h1M11 13.5h2m5 0h1m3 0h2m4 0h1m3 0h1m6 0h1m4 0h2m15 0h1M35 14.5h1m10 0h1m12 0h1M4 15.5h1m4 0h1m7 0h1m5 0h1m10 0h1m1 0h1m7 0h1m13 0h1m1 0h2m1 0h1M2 16.5h2m18 0h1m12 0h2m14 0h1m1 0h1m7 0h1M10 17.5h1m3 0h1m6 0h1m2 0h1m2 0h1m10 0h1m3 0h1m5 0h1m6 0h1m6 0h1M16 18.5h1m4 0h1m24 0h1m12 0h2m2 0h1M9 19.5h1m15 0h1m11 0h1m4 0h1m2 0h1m3 0h1m12 0h1M27 20.5h1m26 0h1m4 0h1m1 0h3M1 21.5h1m3 0h1m48 0h1m5 0h1M2 22.5h1m1 0h2m15 0h1m1 0h2m14 0h1m1 0h1m6 0h2m10 0h1M0 23.5h2m10 0h1m4 0h1m30 0h1m2 0h3m3 0h1M4 24.5h1m6 0h1m2 0h1m3 0h1m40 0h1M40 25.5h2m6 0h2m1 0h1m5 0h1m1 0h1M5 26.5h1m2 0h1m4 0h1m4 0h1m23 0h1m1 0h1m7 0h1M3 27.5h1m9 0h1m9 0h1m27 0h1m7 0h1m1 0h1M8 28.5h1m1 0h1m1 0h2m6 0h2m5 0h1m8 0h1m14 0h1m2 0h1m5 0h1M11 29.5h1m11 0h1m15 0h1m9 0h1M4 30.5h1m1 0h1m3 0h2m7 0h1m29 0h1M4 31.5h1m2 0h1m2 0h1m11 0h1m13 0h1m4 0h1M3 33.5h1m9 0h1m3 0h1m3 0h1m15 0h1m4 0h1m20 0h1M7 34.5h1m2 0h2m2 0h1m20 0h1m6 0h1m2 0h1m2 0h1m6 0h1M5 35.5h1m1 0h1m36 0h1m3 0h2m9 0h1m1 0h1M1 36.5h1m3 0h1m9 0h3m1 0h1m15 0h1m13 0h1m6 0h2m3 0h1M4 37.5h2m7 0h2m12 0h1m27 0h1M11 38.5h1m16 0h1m8 0h1m17 0h1m4 0h1M11 39.5h1m10 0h1m24 0h1m1 0h1m4 0h1m7 0h1M6 40.5h1m2 0h1m12 0h2m18 0h1m7 0h1m7 0h1M15 41.5h1m20 0h1m25 0h1M0 42.5h1m12 0h1m3 0h1m36 0h1M3 43.5h1m3 0h1m1 0h1m2 0h2m25 0h1m16 0h1M1 44.5h1m3 0h1m2 0h1m3 0h1m3 0h1m24 0h1m4 0h1m9 0h1m3 0h2M2 45.5h1m3 0h1m16 0h1m17 0h1m6 0h1m6 0h2m5 0h1M1 46.5h2m1 0h1m8 0h1m1 0h2m3 0h1m30 0h1m1 0h2M10 47.5h1m9 0h1m18 0h1m8 0h1m4 0h1m2 0h2m1 0h1M5 48.5h1m10 0h1m21 0h1m5 0h1m1 0h1M5 49.5h1m12 0h1m7 0h1m16 0h1m13 0h1M0 50.5h1m9 0h2m4 0h1m3 0h1m3 0h1m10 0h1m3 0h1m11 0h1m3 0h1m2 0h1m1 0h2M13 51.5h1m2 0h1m12 0h1M8 52.5h1m1 0h1m9 0h1m1 0h1m36 0h1m2 0h1M13 53.5h1m26 0h1m22 0h1M11 54.5h1m5 0h1m35 0h1m2 0h1m2 0h1M17 55.5h1m10 0h1m7 0h1m14 0h1m3 0h1M6 56.5h1m1 0h1m4 0h1m2 0h1m8 0h1m9 0h1m7 0h1m16 0h1M3 57.5h3m7 0h1m10 0h1m13 0h1m6 0h1m13 0h1m2 0h1M6 58.5h2m6 0h1m6 0h1m22 0h1m12 0h1M11 59.5h1m6 0h1m4 0h1m1 0h1m3 0h1m11 0h1m4 0h1m8 0h1M12 60.5h2m7 0h1m15 0h1m1 0h2m3 0h2m5 0h1m5 0h2M6 61.5h2m26 0h1m3 0h1m2 0h1M1 62.5h1m18 0h1m23 0h1M1 63.5h1m1 0h1m8 0h1m8 0h1m1 0h1m13 0h1m10 0h2m13 0h1"/><path stroke="#2b748e" d="M19 0.5h1m3 0h1m4 0h1m22 0h1M16 1.5h1m8 0h1m10 0h1m11 0h1m9 0h2m2 0h2M7 2.5h3m8 0h1m6 0h1m7 0h1m19 0h1m2 0h1m4 0h1M1 3.5h1m4 0h1m1 0h1m7 0h1m6 0h1m19 0h1m2 0h1m6 0h1m5 0h1M5 4.5h1m4 0h1m1 0h1m1 0h1m9 0h1m1 0h1m5 0h1m5 0h3M2 5.5h1m1 0h1m38 0h1m6 0h1M5 6.5h1m1 0h1m4 0h1m11 0h1m25 0h1m2 0h1M4 7.5h1m11 0h1m6 0h1m19 0h1m1 0h1m3 0h1m2 0h1m5 0h1M0 8.5h1m2 0h1m2 0h1m3 0h1m9 0h1m3 0h1m13 0h1m14 0h1M1 9.5h1m20 0h1m31 0h1m6 0h1M2 10.5h1m15 0h1m15 0h1m5 0h2m7 0h2m5 0h1m3 0h2m1 0h1M2 11.5h1m16 0h1m3 0h1m15 0h1m4 0h2m3 0h1m9 0h3M7 12.5h2m22 0h1m14 0h1m2 0h1m9 0h1M8 13.5h1m8 0h1m2 0h1m3 0h1m22 0h1m4 0h2M7 14.5h1m14 0h1m1 0h1m17 0h1m11 0h1m8 0h1M1 15.5h1m4 0h1m9 0h1m5 0h1m18 0h1m1 0h1m8 0h1m9 0h1M16 16.5h1m9 0h1m10 0h1m22 0h1M9 17.5h1m12 0h1m2 0h1m13 0h1m19 0h2M2 18.5h1m6 0h1m30 0h1m9 0h1m11 0h1M0 19.5h1m3 0h1m5 0h1m11 0h1m15 0h1m5 0h1m1 0h3m9 0h1m1 0h1M0 20.5h1m14 0h1m2 0h1m6 0h1m11 0h1m18 0h1M2 21.5h1m15 0h1m8 0h1m13 0h1m1 0h2m1 0h1M3 22.5h1m5 0h1m6 0h1m21 0h1m1 0h1m5 0h1m6 0h1m5 0h1M7 23.5h1m5 0h1m5 0h1m21 0h1m2 0h1m14 0h1M5 24.5h1m3 0h1m5 0h2m33 0h1m5 0h1M7 25.5h2m3 0h1m2 0h2m5 0h3m17 0h1m2 0h1m8 0h1M2 26.5h2m6 0h2m5 0h1m1 0h1m19 0h1m1 0h1m17 0h1M2 27.5h1m14 0h1m1 0h1m32 0h1M1 28.5h1m12 0h1m1 0h1m35 0h1m4 0h1m5 0h1M6 29.5h1m1 0h1m42 0h1m3 0h1m2 0h1M2 30.5h1m4 0h1m1 0h1m4 0h1m8 0h1m16 0h1m4 0h1m2 0h1m4 0h1M1 31.5h1m12 0h1m6 0h1m4 0h1m13 0h1m2 0h1m14 0h2M5 33.5h1m4 0h1m7 0h1m19 0h1m7 0h1m8 0h1M8 34.5h2m6 0h1m36 0h1m7 0h1M15 35.5h1m2 0h1m5 0h1m4 0h2m20 0h1m11 0h1M13 36.5h1m4 0h1m33 0h2m6 0h1M1 37.5h2m4 0h1m12 0h1m9 0h1m10 0h1M5 38.5h1m7 0h2m2 0h1m11 0h1m8 0h1m5 0h1m4 0h1m8 0h1M8 39.5h1m6 0h1m21 0h1m6 0h1m3 0h1m1 0h1M13 40.5h1m11 0h1m1 0h1m21 0h1M0 41.5h1m16 0h1m2 0h1m8 0h1m9 0h2m7 0h1M3 42.5h1m4 0h1m3 0h1m25 0h2m4 0h1m1 0h1m5 0h1m4 0h1m2 0h2M14 43.5h2m13 0h1m11 0h1m6 0h1M25 44.5h1m21 0h1m4 0h1m4 0h1m5 0h1M3 45.5h1m6 0h2m10 0h1m13 0h1m12 0h1m3 0h1m3 0h1m3 0h1M12 46.5h1m8 0h1m3 0h1m5 0h1m6 0h1m1 0h1m7 0h2m9 0h1M7 47.5h1m10 0h1m22 0h1m2 0h1m7 0h1m1 0h1m5 0h2M2 48.5h1m3 0h1m10 0h1m9 0h1m19 0h1m5 0h1m5 0h1M3 49.5h1m15 0h1m4 0h1m13 0h1m7 0h1m8 0h1m6 0h1M30 50.5h1m6 0h1m12 0h1m6 0h1m1 0h1M2 51.5h1m4 0h1m1 0h1m1 0h1m2 0h1m6 0h1m20 0h1m1 0h1M0 52.5h1m2 0h1m3 0h1m9 0h2m22 0h2m4 0h1m10 0h1m4 0h1M6 53.5h2m1 0h1m2 0h1m6 0h1m3 0h1m7 0h1m4 0h1m5 0h1m3 0h1m13 0h2M1 54.5h1m20 0h1m3 0h1m16 0h1m11 0h1M24 55.5h1M3 56.5h1m15 0h1m6 0h1m18 0h1m3 0h1M23 57.5h1m15 0h1m1 0h1m1 0h1m5 0h1m8 0h1m1 0h2M3 58.5h1m1 0h1m25 0h1m6 0h1m1 0h1m9 0h1m1 0h1m6 0h1m2 0h1M37 59.5h1m1 0h1m8 0h1m7 0h1m2 0h1M5 60.5h1m1 0h1m1 0h1m4 0h1m4 0h1m2 0h1m1 0h2m24 0h1m1 0h1M9 61.5h1m11 0h1m5 0h1m16 0h3m6 0h1m5 0h1M5 62.5h1m9 0h1m6 0h1m13 0h1m2 0h1m3 0h1m6 0h1m5 0h1m2 0h1M25 63.5h1m1 0h1m6 0h2m8 0h2m7 0h1m3 0h1"/><path stroke="#297b8e" d="M14 0.5h1m17 0h2m11 0h1m13 0h1m1 0h1M8 1.5h1m6 0h1m8 0h1m10 0h1m13 0h1m4 0h2M2 2.5h1m3 0h1m22 0h1m25 0h1m3 0h1M12 3.5h1m9 0h1m7 0h1M3 4.5h1m38 0h2m5 0h2m1 0h1M1 5.5h1m10 0h1m1 0h1m11 0h1m1 0h1m5 0h1m1 0h1m2 0h1m16 0h1m5 0h1M3 6.5h1m4 0h1m14 0h1m5 0h2m18 0h1M5 7.5h1m1 0h1m1 0h1m5 0h1m8 0h1m5 0h1m9 0h1m9 0h1m2 0h1m2 0h1M5 8.5h1m9 0h2m1 0h1m7 0h1m1 0h1m3 0h2m1 0h1m3 0h1m10 0h1m7 0h1M11 9.5h2m1 0h1m5 0h2m3 0h2m13 0h1m1 0h1m3 0h1m5 0h2M6 10.5h1m9 0h1m4 0h1m3 0h1m1 0h1m29 0h1M5 11.5h1m2 0h1m1 0h1m3 0h1m3 0h1m6 0h1m25 0h1m4 0h1m1 0h1M1 12.5h1m2 0h1m21 0h1m9 0h1m5 0h1m5 0h1m3 0h1m2 0h1m1 0h1M3 13.5h1m9 0h1m5 0h1m6 0h1m13 0h1m5 0h1m11 0h1M5 14.5h1m6 0h1m13 0h1m1 0h1m7 0h1m1 0h3m2 0h3m1 0h1m1 0h2M0 15.5h1m18 0h1m4 0h1m13 0h1m17 0h1M0 16.5h1m12 0h1m13 0h1m1 0h1m3 0h1m5 0h1m5 0h1M4 17.5h1m2 0h1m9 0h1m1 0h1m11 0h1m2 0h1m5 0h1m9 0h1m1 0h1M8 18.5h1m4 0h1m1 0h1m3 0h1m6 0h1m14 0h2m5 0h1m7 0h1M2 19.5h1m2 0h1m5 0h1m14 0h1m13 0h1m2 0h1m17 0h1M6 20.5h1m7 0h1m11 0h1m16 0h1m1 0h1m3 0h1M4 21.5h1m4 0h1m4 0h1m13 0h1m2 0h1m10 0h1m5 0h1m4 0h1m3 0h1M1 22.5h1m5 0h1m5 0h1m1 0h1m2 0h1m3 0h1m13 0h1m10 0h1m6 0h1M11 23.5h1m4 0h1m1 0h1m18 0h1m5 0h1m2 0h1m3 0h1m3 0h2m5 0h1M6 24.5h1m12 0h1m8 0h1m15 0h1m7 0h1m1 0h1m6 0h1M34 25.5h1m25 0h1M6 26.5h1m2 0h1m41 0h1m1 0h1m4 0h1m1 0h1M5 27.5h1m4 0h1m9 0h1m1 0h1m1 0h1m11 0h1m1 0h1M23 28.5h1m2 0h1m4 0h1m9 0h1m1 0h1m2 0h1m2 0h1m3 0h1m1 0h1m2 0h2M3 29.5h1m9 0h1m12 0h1m8 0h1m2 0h1m1 0h1m12 0h1m3 0h1m5 0h1M39 30.5h1m4 0h1m7 0h1m6 0h1M6 31.5h1m1 0h1m4 0h1m2 0h1m17 0h1m12 0h1M2 33.5h1m3 0h1m43 0h2m2 0h1m2 0h1m4 0h1M6 34.5h1m12 0h2m18 0h2m10 0h1m4 0h1m1 0h1M1 35.5h1m6 0h1m1 0h1m11 0h1m2 0h1m1 0h1m11 0h1m3 0h1m9 0h1m1 0h2M4 36.5h1m9 0h1m19 0h1m5 0h1m3 0h1m6 0h1M21 37.5h1m1 0h1m13 0h1m1 0h2m3 0h1m5 0h1M1 38.5h2m6 0h1m8 0h2m26 0h1m5 0h1m1 0h1M14 39.5h1M4 40.5h1m11 0h1m18 0h1m3 0h1m13 0h1m8 0h2M10 41.5h2m2 0h1m3 0h1m24 0h1m1 0h1m4 0h1m1 0h2m1 0h2m1 0h1M9 42.5h1m6 0h1m1 0h1m1 0h1m3 0h1m12 0h1m3 0h1m8 0h2M16 43.5h1m8 0h1m2 0h1m13 0h1m1 0h1m6 0h1m3 0h1m3 0h1m3 0h1M13 44.5h1m8 0h1m1 0h1m30 0h1m3 0h1M8 45.5h1m7 0h2m33 0h1m8 0h1M8 46.5h1m8 0h1m8 0h1m14 0h1m8 0h1m4 0h1m7 0h1M14 47.5h1m1 0h1m21 0h1m6 0h2M0 48.5h1m23 0h1m1 0h1m10 0h1m5 0h1m19 0h1M0 49.5h1m6 0h1m6 0h1m7 0h1m2 0h1m1 0h1m5 0h1m6 0h1m1 0h1m15 0h1M13 50.5h1m3 0h1m5 0h1m17 0h2m1 0h1m4 0h1m2 0h3M3 51.5h1m15 0h1m2 0h1m15 0h2m8 0h2m4 0h1m7 0h1M9 52.5h1m2 0h1m8 0h1m6 0h2m4 0h1m1 0h1m1 0h1m17 0h1m4 0h1M4 53.5h1m3 0h1m7 0h1m5 0h1m2 0h1m2 0h2m13 0h1m10 0h1m1 0h1m2 0h1M5 54.5h1m4 0h1m16 0h1m14 0h1m5 0h1m1 0h1m7 0h1M0 55.5h1m5 0h2m1 0h1m8 0h1m3 0h2m20 0h1m1 0h1m2 0h1m4 0h1m1 0h1m3 0h1M0 56.5h1m3 0h1m2 0h1m1 0h1m11 0h1m1 0h1m17 0h2m11 0h1m1 0h1m1 0h2m1 0h1M9 57.5h1m6 0h1m10 0h1m9 0h1M1 58.5h1m6 0h3m7 0h1m9 0h2m5 0h1m9 0h1m5 0h1m3 0h1M15 59.5h1m10 0h1m7 0h2m24 0h1M3 60.5h1m11 0h1m2 0h1m14 0h1m1 0h1m6 0h1m3 0h1M55 61.5h1m4 0h1M2 62.5h1m1 0h1m5 0h2m13 0h1m2 0h1m1 0h1m3 0h1m2 0h1m14 0h1m5 0h1m3 0h1M9 63.5h1m9 0h1m4 0h1"/><path stroke="#26818e" d="M34 0.5h1m4 0h1m16 0h1M11 1.5h1m8 0h1M27 2.5h1m3 0h1m3 0h1m5 0h1M31 3.5h1m1 0h1m15 0h1M15 4.5h1m18 0h1m9 0h1M9 5.5h1m11 0h2m4 0h1m1 0h1m18 0h1m14 0h1M15 6.5h1m22 0h1m2 0h1m5 0h1M13 7.5h1m14 0h1m6 0h1m6 0h1m1 0h1m6 0h1m8 0h1M19 8.5h1m3 0h1m16 0h1m5 0h1M3 9.5h1m15 0h1m3 0h1m11 0h2m2 0h1m18 0h1M3 10.5h1m10 0h1m7 0h1m3 0h1m1 0h1m7 0h2m8 0h1m6 0h1M15 11.5h2m17 0h1M12 12.5h1m1 0h1m1 0h1m6 0h1m5 0h1m23 0h1m2 0h1M9 13.5h1m24 0h1m2 0h2m2 0h1m8 0h1m4 0h1m1 0h1M1 14.5h1m2 0h1m3 0h1m10 0h1m17 0h1m13 0h1m1 0h1M18 15.5h1m18 0h1m12 0h1m4 0h1M15 16.5h1m2 0h1m22 0h1m1 0h1m6 0h1m4 0h1M1 17.5h2m2 0h1m12 0h1m1 0h1m2 0h1m5 0h1m6 0h1m6 0h2m1 0h1M1 18.5h1m9 0h1m2 0h1m15 0h1m5 0h1m8 0h1m5 0h1m1 0h3M15 19.5h2m3 0h1m2 0h2m2 0h1m35 0h1M11 20.5h1m16 0h2m10 0h1m3 0h1M16 21.5h1m4 0h1m3 0h1m11 0h1m9 0h1m3 0h1M11 22.5h1m18 0h1m6 0h1m4 0h1M20 23.5h1m1 0h2m1 0h1m4 0h1m1 0h1m7 0h1M29 24.5h1M10 25.5h1m6 0h1m1 0h1m1 0h1m3 0h1M21 26.5h2m3 0h1m11 0h1m11 0h1m4 0h1M7 27.5h1m18 0h1m2 0h1m5 0h1m1 0h1m1 0h1m1 0h1m5 0h1m12 0h1M17 28.5h1m1 0h1m18 0h1m1 0h1m3 0h1m3 0h1M4 29.5h1m11 0h1m1 0h1m17 0h2m12 0h1M24 30.5h1m26 0h1M46 31.5h1m2 0h1m1 0h1m1 0h1M22 33.5h1m10 0h1m6 0h1m3 0h1M5 34.5h1m43 0h1M2 35.5h1m9 0h2m2 0h1m3 0h1m16 0h2m13 0h1M10 36.5h1m22 0h1m3 0h2m2 0h1m5 0h2m1 0h1M9 37.5h1m7 0h2m24 0h1m1 0h3m15 0h1M22 38.5h1m1 0h1m2 0h1m8 0h1m4 0h1m6 0h1M17 39.5h3m3 0h1m1 0h1m12 0h1m1 0h1m1 0h1M14 40.5h1m2 0h2m9 0h1m7 0h1m6 0h1m8 0h1m3 0h1M3 41.5h1m15 0h1m1 0h1m4 0h2M4 42.5h1m1 0h1m14 0h1m12 0h1m1 0h1m6 0h1m3 0h1M5 43.5h2m13 0h1m16 0h1M4 44.5h1m2 0h1m28 0h1m2 0h1M15 45.5h1m5 0h1m7 0h1m28 0h1M14 46.5h1m7 0h1m7 0h1m6 0h1m1 0h1m17 0h1m3 0h1M3 47.5h1m25 0h1m3 0h1m15 0h1m13 0h1M15 48.5h1m3 0h1m10 0h2m4 0h1m5 0h1M10 49.5h1m12 0h1m23 0h2M8 50.5h1m9 0h1m9 0h1m7 0h1m1 0h1m8 0h1M8 51.5h1m16 0h1m1 0h1m5 0h2m24 0h1M15 52.5h2m2 0h1m4 0h1m5 0h1m4 0h1m13 0h1m4 0h1M35 53.5h1m1 0h1m1 0h1m12 0h1M4 54.5h1m4 0h1m3 0h1m6 0h1m11 0h2m4 0h1M4 55.5h1m11 0h1m2 0h2m6 0h1m22 0h1m1 0h1m5 0h2M10 56.5h1m18 0h1m25 0h1M2 57.5h1m22 0h1m6 0h1m7 0h1m22 0h1M22 58.5h1m14 0h1m3 0h1m6 0h1M9 59.5h1m2 0h1m17 0h2m21 0h1M27 60.5h5m9 0h1m5 0h1m5 0h1M19 61.5h1m17 0h1m2 0h1m13 0h1M11 63.5h1m19 0h1m9 0h1"/><path stroke="#24878e" d="M15 0.5h1m10 0h1M31 1.5h1m21 0h1M34 2.5h1m1 0h1m14 0h1M37 3.5h1M30 4.5h2m5 0h1M6 5.5h1m24 0h1m13 0h1M4 6.5h1m26 0h1M32 7.5h1m4 0h1m8 0h1M11 8.5h1m18 0h2M28 9.5h1m22 0h1M0 10.5h1m9 0h1m4 0h1m14 0h1m7 0h1m15 0h1M37 11.5h1m3 0h1m11 0h1M13 12.5h1m6 0h2m2 0h2m4 0h1M25 13.5h1m36 0h1M6 14.5h1m51 0h1M27 15.5h1m19 0h1M14 16.5h1m16 0h1m6 0h1m3 0h1m3 0h1M28 17.5h1m6 0h1m13 0h1m1 0h1M5 18.5h1m14 0h1m16 0h1m9 0h1M54 19.5h1M12 20.5h1m17 0h1m10 0h1m15 0h1M22 21.5h1m1 0h1m5 0h1m3 0h1m3 0h1m1 0h1M17 22.5h1m2 0h1m4 0h1m2 0h1m21 0h1M8 23.5h1m15 0h1m14 0h1M17 24.5h1m9 0h1m10 0h1m7 0h1m10 0h1M6 25.5h1m4 0h1m31 0h1m2 0h1M16 26.5h1m23 0h1m8 0h1M4 27.5h1m1 0h1m5 0h1m1 0h1m30 0h1m2 0h1m1 0h1M18 28.5h1m3 0h1m24 0h1M9 29.5h1m9 0h1m4 0h1m2 0h1m13 0h1m5 0h1M8 30.5h1m3 0h1m4 0h2m2 0h1M15 31.5h1m1 0h1m21 0h1m2 0h1m1 0h1m5 0h1M11 33.5h1m2 0h1m11 0h1M13 34.5h1m1 0h1m10 0h1m1 0h1M36 35.5h1M7 36.5h1m3 0h1m10 0h1m4 0h1m11 0h1m23 0h1M24 37.5h1m11 0h1m1 0h1m14 0h2m5 0h1M12 38.5h1m13 0h1m15 0h1m2 0h1M9 39.5h1m36 0h1m11 0h1M12 40.5h1m13 0h1m2 0h1m8 0h1m18 0h1M16 41.5h1m5 0h2m4 0h1m1 0h1m11 0h1M23 42.5h1m1 0h3m14 0h1M17 43.5h1m15 0h1m1 0h1m4 0h1M17 44.5h1m9 0h2m6 0h1m4 0h1m1 0h1M26 45.5h1m7 0h1m10 0h1m4 0h1M7 46.5h1m19 0h1m18 0h1M12 47.5h1m11 0h1m9 0h3m6 0h1M11 48.5h1m13 0h1m2 0h1m6 0h1m21 0h2M21 49.5h1m8 0h1m3 0h3m4 0h1m3 0h1m3 0h1M19 50.5h1m2 0h1m23 0h1M18 51.5h1m11 0h2m5 0h1m9 0h1m8 0h1m3 0h1M23 52.5h1m1 0h1m25 0h1M41 53.5h1m7 0h1M19 54.5h1m3 0h1m6 0h1m6 0h1m19 0h1M14 55.5h1m6 0h1m8 0h2M27 56.5h1M12 57.5h1m15 0h1m7 0h1M0 58.5h1m10 0h1m5 0h1M10 59.5h1m43 0h1M34 60.5h1M30 61.5h4M32 62.5h1m2 0h1M36 63.5h1"/><path stroke="#228d8d" d="M29 0.5h3M50 1.5h1M32 2.5h1M36 3.5h1M36 4.5h1m8 0h1M30 5.5h1m15 0h1M28 6.5h1m6 0h1M31 7.5h1m1 0h1M17 8.5h1m16 0h1M24 9.5h1m2 0h1m4 0h3M20 11.5h1m9 0h1m7 0h1M40 12.5h1M27 13.5h1m1 0h1m5 0h1M29 14.5h1m1 0h1m16 0h1M26 15.5h1m1 0h3m4 0h1M9 16.5h1m10 0h2m1 0h1m4 0h1M45 17.5h1M10 18.5h1m14 0h1m2 0h2m3 0h1m4 0h1M7 19.5h1m11 0h1m8 0h1m6 0h1M17 20.5h1m3 0h1m10 0h1M17 21.5h1m15 0h1M27 22.5h1M33 23.5h1M26 24.5h1m8 0h1m13 0h1m1 0h1M27 25.5h2m3 0h1m4 0h1M27 26.5h1m2 0h1m12 0h1m4 0h1M15 27.5h1m9 0h1m14 0h1m3 0h1M9 28.5h1m27 0h1m4 0h1m2 0h1M17 29.5h1m4 0h1m9 0h1M22 30.5h1m15 0h1M12 31.5h1m6 0h1m3 0h1m31 0h1M9 33.5h1m9 0h1m3 0h1m17 0h1M17 34.5h1m3 0h2m8 0h1m5 0h1m8 0h1M19 35.5h1m21 0h1M15 37.5h2m8 0h2m2 0h1m5 0h1m6 0h1M10 38.5h1m23 0h1M7 39.5h1m8 0h1m3 0h1m6 0h1m3 0h1m4 0h1M33 40.5h2m20 0h1M24 41.5h1m13 0h1M28 42.5h1m2 0h1m1 0h1m1 0h1m9 0h1M23 43.5h1m14 0h1m6 0h1M11 44.5h1m3 0h1m5 0h1m12 0h1m9 0h2M19 45.5h1m7 0h1m2 0h1m6 0h1m2 0h1m3 0h1M24 46.5h1m4 0h1m6 0h1m5 0h1M40 47.5h1M22 48.5h1m6 0h1m3 0h1M31 50.5h1m2 0h1M36 51.5h1M27 52.5h1m3 0h1M27 53.5h1M29 54.5h1m1 0h1M34 56.5h1m2 0h1m8 0h1M6 57.5h1m23 0h1m2 0h1m10 0h1M36 58.5h1M32 60.5h1M29 62.5h1m3 0h1M32 63.5h2"/><path stroke="#20938c" d="M27 0.5h1M30 2.5h1M32 3.5h1M29 4.5h1M29 9.5h2M28 11.5h1m3 0h1m2 0h2M28 12.5h1m5 0h1M36 13.5h1M34 14.5h1M33 15.5h1M32 17.5h1M32 18.5h1m1 0h1m17 0h1M29 19.5h1m3 0h1M33 20.5h1m2 0h1M26 22.5h1M27 23.5h1m6 0h3M32 24.5h1m6 0h1M26 25.5h1m8 0h2M15 26.5h1M11 27.5h1m15 0h2m2 0h1M28 28.5h1M28 29.5h3m11 0h2m1 0h1M36 30.5h1m9 0h1m3 0h1M25 31.5h1m11 0h2M25 33.5h1m6 0h1m15 0h1M24 34.5h1m13 0h1M33 35.5h1m6 0h1M25 36.5h1m3 0h1m6 0h1M34 37.5h1M25 38.5h1m13 0h1m10 0h1M29 39.5h1M40 40.5h1M33 41.5h1m1 0h1M15 42.5h1M36 43.5h1m6 0h1M30 44.5h2m6 0h1m19 0h1M31 45.5h1m3 0h1M32 46.5h1M21 47.5h1m10 0h1M20 48.5h1M28 49.5h1m2 0h1M25 50.5h1m6 0h1M28 51.5h1M30 53.5h1m1 0h2M34 54.5h1m1 0h1M25 55.5h1m8 0h1M31 56.5h3M34 57.5h1M32 59.5h1m3 0h1M29 63.5h2"/><path stroke="#1f998a" d="M33 1.5h1M34 3.5h1M35 4.5h1M33 6.5h2M29 8.5h1M31 9.5h1M32 10.5h1M35 12.5h1M30 13.5h2m1 0h1M30 14.5h1M40 15.5h1M34 16.5h1M33 17.5h1M31 19.5h2M35 20.5h1M32 21.5h1M31 22.5h1M31 23.5h1M25 24.5h1m7 0h2m2 0h1M31 25.5h1M25 26.5h1m2 0h1m7 0h2M30 27.5h1M33 28.5h2m4 0h1M25 29.5h1M29 30.5h1m7 0h1m3 0h1M20 31.5h1m9 0h1m14 0h1m2 0h1M3 32.5h2m44 0h1m5 0h1M39 33.5h1M28 36.5h1M32 38.5h1m2 0h1M34 39.5h1m6 0h1M24 40.5h1m5 0h1M29 42.5h1M32 43.5h1m1 0h1M28 45.5h1m3 0h1M33 46.5h2M31 47.5h1M32 48.5h1M32 49.5h1M33 50.5h1M34 53.5h1M32 55.5h1M31 57.5h1M33 58.5h1"/><path stroke="#1fa088" d="M32 5.5h1M31 11.5h1M31 15.5h1M30 16.5h1M27 18.5h1m3 0h1m3 0h1M30 19.5h1M34 20.5h1M35 21.5h2M29 22.5h1m3 0h1M33 25.5h1M34 26.5h2M34 27.5h1M32 28.5h1M21 29.5h1m11 0h1M27 30.5h2M29 31.5h1M0 32.5h1m12 0h1m36 0h1m12 0h1M30 33.5h1M34 34.5h1m1 0h1M35 35.5h1M22 37.5h1M32 41.5h1M30 43.5h1M33 45.5h1M35 46.5h1M30 47.5h1M32 51.5h1M32 52.5h1M30 56.5h1M35 61.5h1"/><path stroke="#21a585" d="M33 10.5h1M32 12.5h1M30 17.5h1M34 19.5h1m1 0h1M30 24.5h2M30 28.5h1M28 31.5h1m6 0h1M8 32.5h2m41 0h1m2 0h1m2 0h3m1 0h1M28 33.5h1m7 0h1M29 34.5h1M28 35.5h1M31 37.5h1M35 39.5h1M32 40.5h1M31 43.5h1M29 44.5h1m2 0h1M37 47.5h1"/><path stroke="#25ac82" d="M32 15.5h1M31 20.5h1M28 23.5h2M29 25.5h1M32 27.5h2M29 28.5h1M32 30.5h1M31 31.5h1M1 32.5h1m3 0h3m3 0h1m5 0h1m5 0h1m4 0h1m8 0h1m4 0h1m1 0h2m6 0h2m2 0h1m3 0h1m1 0h1M34 33.5h1M32 35.5h1M30 36.5h1M30 38.5h2m1 0h1M32 39.5h2M34 41.5h1M33 55.5h1"/><path stroke="#2db27d" d="M31 26.5h1M35 28.5h1M31 29.5h1M2 32.5h1m7 0h1m1 0h1m2 0h2m1 0h3m1 0h1m2 0h3m1 0h3m2 0h1m1 0h1m3 0h2m5 0h2M31 33.5h1m3 0h1M34 35.5h1M31 40.5h1M31 41.5h1"/><path stroke="#35b779" d="M32 26.5h2M30 30.5h2m2 0h2M32 31.5h2M14 32.5h1m6 0h1m2 0h1m10 0h1m2 0h2M29 33.5h1M30 34.5h1m2 0h1M31 35.5h1M32 37.5h2"/><path stroke="#40bd72" d="M34 29.5h1M43 32.5h1m2 0h1M32 34.5h1M32 36.5h1"/><path stroke="#4cc26c" d="M33 30.5h1M33 32.5h1M31 36.5h1"/><path stroke="#fde725" d="M32 32.5h1"/></g></svg><svg class="p" style="left:1350.0px;top:2124.0px" width="371.5" height="379.7" viewBox="0 0 32 32" preserveAspectRatio="none"><g fill="none" stroke-width="1.02"><path stroke="#481c6e" d="M12 0.5h1m16 0h1M0 7.5h1M30 31.5h1"/><path stroke="#482576" d="M1 0.5h1m5 0h1M10 2.5h1M13 3.5h1m16 0h1M1 4.5h1M24 6.5h1M1 10.5h2M2 13.5h1m27 0h1M26 17.5h1M29 22.5h1M30 23.5h1M26 25.5h1m3 0h1M7 26.5h1m5 0h1m13 0h1M5 28.5h1m9 0h1M11 29.5h1m6 0h1m3 0h1M10 30.5h1m6 0h1m10 0h1"/><path stroke="#472d7b" d="M20 1.5h1M14 2.5h1m5 0h1M18 3.5h1M0 4.5h1m7 0h1M21 7.5h1m1 0h1M10 8.5h1m10 0h1M19 9.5h1M9 11.5h1M6 13.5h1M7 15.5h1M24 18.5h1M31 19.5h1M11 24.5h1M10 25.5h1M28 27.5h1M30 29.5h1M6 30.5h1M1 31.5h1m2 0h1"/><path stroke="#453581" d="M0 0.5h1m8 0h1m10 0h1M1 1.5h1m20 0h1M18 2.5h1M4 4.5h1m21 0h1M13 5.5h1M11 7.5h1M25 10.5h1M2 11.5h1m9 0h1M0 15.5h1M6 19.5h1M2 20.5h1M1 25.5h1m2 0h1M0 31.5h1"/><path stroke="#433d84" d="M17 1.5h1m13 0h1M26 2.5h1M14 3.5h1m16 0h1M2 5.5h1m27 0h1M4 6.5h1M6 7.5h1M31 8.5h1M1 9.5h1m29 0h1M29 11.5h1M2 15.5h1M28 18.5h1M18 24.5h1M6 26.5h1m1 0h1M11 27.5h2M31 28.5h1M8 29.5h1M5 30.5h1M23 31.5h1"/><path stroke="#404588" d="M3 0.5h2m3 0h1m1 0h1m11 0h1M2 1.5h1m3 0h2m16 0h1M0 3.5h1m18 0h1M24 4.5h1M3 5.5h1M6 6.5h2m15 0h1M29 7.5h1M5 9.5h1m24 0h1M1 11.5h1m1 0h1M0 12.5h1m27 0h1M9 14.5h1m13 0h1m1 0h1m1 0h1m2 0h1M30 15.5h1M31 17.5h1M23 18.5h1M7 19.5h1m14 0h1M0 21.5h1m26 0h1M0 22.5h1m4 0h1m9 0h1M1 24.5h1m5 0h1m11 0h1M0 25.5h1M26 26.5h1M10 27.5h1M21 28.5h1M28 29.5h1M15 31.5h1"/><path stroke="#3d4d8a" d="M6 0.5h1m11 0h1m5 0h1m1 0h1m1 0h1M9 1.5h1m2 0h1m2 0h1m2 0h1m2 0h1m3 0h1M11 2.5h1M1 3.5h1m2 0h1m6 0h1M3 4.5h1m10 0h2m6 0h1M28 5.5h1M10 6.5h1M9 7.5h1m15 0h1M0 9.5h1m10 0h1m14 0h1M3 10.5h1M22 11.5h1M1 12.5h1m1 0h1m4 0h2m19 0h1M1 14.5h1m1 0h1M5 15.5h1m16 0h1m1 0h2M0 17.5h2M4 20.5h1m10 0h1M10 21.5h1M21 22.5h1m1 0h1m7 0h1M13 24.5h1m1 0h1M7 25.5h1m6 0h1M2 26.5h1m2 0h1m14 0h1M0 27.5h1m14 0h1m2 0h2M0 28.5h1M3 29.5h1m6 0h1m9 0h1m4 0h2M0 30.5h1m28 0h1m1 0h1M3 31.5h1m13 0h1m1 0h2"/><path stroke="#3a538b" d="M31 0.5h1M11 1.5h1m7 0h1m3 0h1M0 2.5h2m2 0h1m12 0h1m4 0h1m1 0h1m4 0h1m1 0h1M6 3.5h1m22 0h1M7 4.5h1m12 0h1m8 0h1M0 5.5h1M3 7.5h1m8 0h1m7 0h1M1 8.5h1m3 0h1m3 0h1m13 0h1M12 9.5h1m1 0h2m9 0h1m2 0h1M8 10.5h1m2 0h1M4 11.5h2m18 0h1M1 13.5h1m20 0h1M7 14.5h1m16 0h1m1 0h1m2 0h1M6 15.5h1m20 0h1m1 0h1M6 17.5h2M3 18.5h1m21 0h1M4 19.5h1m6 0h1m15 0h1m1 0h1M0 20.5h1m19 0h1M6 23.5h1m10 0h1m4 0h1M26 24.5h1M17 25.5h1M1 26.5h1m9 0h1M1 27.5h1m7 0h1M1 28.5h1m5 0h1M2 29.5h1m10 0h1m13 0h1M8 30.5h1m3 0h2m1 0h1m4 0h1m9 0h1M6 31.5h4m8 0h1"/><path stroke="#375b8d" d="M2 0.5h1m2 0h1m13 0h1m7 0h1M3 1.5h1m1 0h1m4 0h1m17 0h1M5 2.5h1m1 0h2m3 0h2m1 0h1m11 0h1M7 3.5h2m11 0h1M13 4.5h1m3 0h1m7 0h1m1 0h1M6 5.5h1m13 0h1M12 6.5h1m8 0h1m7 0h1m1 0h1M1 7.5h1m2 0h2m9 0h1m1 0h1M3 8.5h2m3 0h1m20 0h1M2 9.5h1m1 0h1m1 0h1m20 0h1M0 10.5h1m8 0h2m7 0h1m5 0h1m1 0h2M17 11.5h1m9 0h2M2 12.5h1m2 0h1m1 0h1m16 0h1m1 0h2M8 13.5h1m17 0h1m4 0h1M0 14.5h1m5 0h1m5 0h1m15 0h1M3 15.5h2m26 0h1M25 17.5h1m1 0h1M2 18.5h1m1 0h1m26 0h1M3 19.5h1m6 0h1m4 0h1m4 0h1m7 0h1m1 0h1M9 20.5h2m19 0h1M1 21.5h1m3 0h1m22 0h1m2 0h1M3 22.5h2m23 0h1M0 23.5h1m1 0h1m1 0h1m26 0h1M6 24.5h1m13 0h1M6 25.5h1m5 0h1m6 0h1M12 26.5h1m5 0h1m2 0h1m6 0h1M7 27.5h1m6 0h1m10 0h2M2 28.5h1m8 0h1m1 0h1m3 0h1m10 0h3M1 29.5h1m5 0h1m6 0h1m2 0h1m6 0h1m6 0h1M3 30.5h1m3 0h1m3 0h1m6 0h1m5 0h1M11 31.5h1m2 0h1m7 0h1m5 0h1"/><path stroke="#34618d" d="M11 0.5h1m18 0h1M0 1.5h1m12 0h2m12 0h1m1 0h2M6 2.5h1m14 0h1m8 0h1M2 3.5h1m7 0h1m11 0h3M2 4.5h1m2 0h1m4 0h1m8 0h1m8 0h1m2 0h1M5 5.5h1m1 0h1m2 0h1m15 0h1m4 0h1M9 6.5h1m1 0h1m6 0h3m5 0h1M13 7.5h1m4 0h1M7 8.5h1m12 0h1m7 0h1M8 9.5h1m12 0h2m1 0h1M5 10.5h1m22 0h2M0 11.5h1m29 0h2M17 12.5h1M3 13.5h1m1 0h1m11 0h1M31 14.5h1M11 15.5h1M4 17.5h1m3 0h2m19 0h1M6 18.5h1m2 0h1m1 0h1m5 0h1m4 0h1m7 0h1M5 19.5h1M25 20.5h2m4 0h1M14 21.5h1m3 0h1m2 0h1m3 0h1M2 22.5h1m6 0h1m8 0h1M5 23.5h1m13 0h1m3 0h1M0 24.5h1m3 0h2m21 0h1M2 25.5h1m12 0h1m2 0h1m9 0h1m2 0h1M15 26.5h1m1 0h1m1 0h1m9 0h2M8 27.5h1M6 28.5h1m7 0h1m4 0h1m4 0h1M21 29.5h1m7 0h1M2 30.5h1m11 0h1m8 0h1m3 0h1M2 31.5h1m2 0h1m7 0h1"/><path stroke="#31688e" d="M13 0.5h2m2 0h1m3 0h1m1 0h1M3 2.5h1m19 0h1m1 0h1M3 3.5h1m1 0h1m15 0h1m3 0h1m2 0h1M12 4.5h1m10 0h1M12 5.5h1m2 0h1m2 0h2m3 0h2M2 6.5h2m9 0h1m11 0h1m4 0h1M2 7.5h1m4 0h1m2 0h1m16 0h2m1 0h2M22 8.5h1m4 0h1m2 0h1M18 9.5h1m4 0h1m5 0h1M6 10.5h1m24 0h1M6 11.5h1m13 0h1m2 0h1m1 0h1M4 12.5h1m25 0h2M12 13.5h1m10 0h1m1 0h1m2 0h1M2 14.5h1M23 15.5h1M3 17.5h1m17 0h2M0 18.5h2m3 0h1m2 0h1m4 0h1m6 0h1m6 0h1M1 19.5h1m7 0h1M5 20.5h3m6 0h1m7 0h1m1 0h1m4 0h1M6 21.5h3m4 0h1m3 0h1m4 0h1m7 0h1M1 22.5h1m17 0h1M3 23.5h1m3 0h2m17 0h1m2 0h1M17 24.5h1m4 0h1m6 0h2M9 25.5h1m10 0h2m5 0h1m1 0h1M9 26.5h1m21 0h1M2 27.5h1m2 0h2m24 0h1M3 28.5h1m14 0h1m4 0h1m1 0h3M0 29.5h1m3 0h3m5 0h1M19 30.5h1m1 0h2m3 0h1M10 31.5h1m1 0h1m8 0h1m2 0h1m1 0h2"/><path stroke="#2e6e8e" d="M16 0.5h1M4 1.5h1m11 0h1m9 0h1M2 2.5h1m6 0h1m18 0h1M27 3.5h1M9 4.5h1m1 0h1m9 0h1m8 0h1M11 5.5h1m5 0h1m7 0h1m1 0h1m1 0h1M1 6.5h1m3 0h1m2 0h1m6 0h1m6 0h1m4 0h2M8 7.5h1m5 0h1M2 8.5h1m8 0h1m2 0h2m1 0h1m1 0h1M10 9.5h1m9 0h1M7 10.5h1m11 0h1m1 0h1m8 0h1M26 11.5h1M22 12.5h1M4 13.5h1m9 0h1m9 0h1m4 0h1M5 14.5h1m2 0h1M1 15.5h1m6 0h3m15 0h1m1 0h1M5 17.5h1m24 0h1M26 18.5h1m2 0h1M0 19.5h1m20 0h1m2 0h3M1 20.5h1m1 0h1m8 0h1m8 0h1m1 0h1M4 21.5h1m6 0h1m7 0h1m9 0h1M11 22.5h1m5 0h1m4 0h1m2 0h1m4 0h1M10 23.5h1m2 0h3m11 0h1M3 24.5h1m5 0h1m2 0h1m1 0h1m9 0h1m6 0h1M3 25.5h1m1 0h1m5 0h1m13 0h1M3 26.5h1m10 0h1m8 0h3M13 27.5h1m2 0h1m6 0h1m6 0h1M10 28.5h1m1 0h1m3 0h1m5 0h1M19 29.5h1m3 0h1M1 30.5h1m2 0h1m4 0h1m15 0h1M25 31.5h1m3 0h1"/><path stroke="#2b748e" d="M15 0.5h1m9 0h1M8 1.5h1M16 2.5h1M15 3.5h1m1 0h1m8 0h1M18 4.5h1M1 5.5h1m6 0h2m4 0h1m6 0h2M0 6.5h1m13 0h1m1 0h2M22 7.5h1m1 0h1M0 8.5h1m5 0h1m5 0h1m12 0h1M13 9.5h1M12 10.5h1m1 0h2m7 0h1M7 11.5h2m1 0h1M6 12.5h1m14 0h1m1 0h1M0 13.5h1m8 0h2m8 0h1m7 0h1M4 14.5h1m5 0h1m2 0h1m7 0h1M23 17.5h1M7 18.5h1m2 0h1M2 19.5h1m10 0h1m9 0h1M8 20.5h1m19 0h1M2 21.5h2m8 0h1m3 0h1m6 0h2M7 22.5h1m6 0h1m5 0h1m6 0h1M1 23.5h1m9 0h1m8 0h2m2 0h2m2 0h1M2 24.5h1m18 0h1m6 0h1M8 25.5h1m15 0h1M0 26.5h1m3 0h1m11 0h1m5 0h1M17 27.5h1m2 0h2m2 0h1m2 0h1m1 0h1M4 28.5h1m4 0h1m10 0h1M9 29.5h1M16 31.5h1m14 0h1"/><path stroke="#297b8e" d="M19 2.5h1M9 3.5h1m2 0h1m3 0h1M6 4.5h1M4 5.5h1m11 0h1M16 7.5h1m2 0h1m6 0h1M13 8.5h1m4 0h1m7 0h1M3 9.5h1m3 0h1m1 0h1m6 0h2M16 10.5h1m3 0h1m1 0h1M13 11.5h1m7 0h1M16 12.5h1m8 0h1M20 13.5h1M11 14.5h1m5 0h1M2 17.5h1m7 0h1m2 0h1m10 0h1m3 0h1M8 19.5h1m7 0h1M19 20.5h1m7 0h1M9 21.5h1m10 0h1m5 0h1M6 22.5h1m1 0h1m1 0h1m5 0h1m7 0h1m1 0h1M16 23.5h1M8 24.5h1m1 0h1m5 0h1m6 0h1m1 0h1M13 25.5h1m8 0h2M3 27.5h1m18 0h1M8 28.5h1M15 29.5h2"/><path stroke="#26818e" d="M16 4.5h1M16 8.5h1m7 0h1M4 10.5h1m8 0h1M11 11.5h1m2 0h3m2 0h1M10 12.5h2m3 0h1m4 0h1M7 13.5h1m10 0h1M22 14.5h1M13 15.5h1m5 0h1M18 17.5h1M12 18.5h1m1 0h2M11 20.5h1m4 0h2M12 22.5h2M9 23.5h1m2 0h1m5 0h1M16 25.5h1M10 26.5h1M4 27.5h1M16 30.5h1"/><path stroke="#24878e" d="M18 12.5h2M13 13.5h1m7 0h1M18 14.5h3M12 15.5h1m4 0h2m1 0h1M5 16.5h1M20 17.5h1M19 19.5h1M15 21.5h1"/><path stroke="#228d8d" d="M17 10.5h1M18 11.5h1M12 12.5h2M11 13.5h1m3 0h1M14 14.5h1M15 15.5h1m5 0h1M0 16.5h1m7 0h1M11 17.5h1m2 0h1M19 18.5h1m1 0h1M12 19.5h1m1 0h1M13 20.5h1"/><path stroke="#20938c" d="M14 12.5h1M16 13.5h1M16 14.5h1M14 15.5h1M1 16.5h1m1 0h2m5 0h1m14 0h2m2 0h3M12 17.5h1m6 0h1M18 19.5h1M18 20.5h1"/><path stroke="#1f998a" d="M15 14.5h1M16 15.5h1M2 16.5h1m4 0h1m1 0h1m1 0h2m2 0h1m2 0h1m1 0h3m5 0h1M15 17.5h2"/><path stroke="#1fa088" d="M6 16.5h1m7 0h1m2 0h1m5 0h2m2 0h1M17 17.5h1M17 19.5h1"/><path stroke="#21a585" d="M16 18.5h1m1 0h1"/><path stroke="#40bd72" d="M13 16.5h1m5 0h1"/><path stroke="#fde725" d="M16 16.5h1"/></g></svg><svg class="p" style="left:1786.8px;top:2124.0px" width="371.0" height="379.7" viewBox="0 0 16 16" preserveAspectRatio="none"><g fill="none" stroke-width="1.02"><path stroke="#460a5d" d="M8 0.5h1"/><path stroke="#482576" d="M2 0.5h1m11 0h1M15 1.5h1M3 2.5h1m6 0h1m3 0h1M0 3.5h1m8 0h1M13 5.5h1M3 11.5h1M0 13.5h1M2 14.5h1m10 0h1M1 15.5h1"/><path stroke="#453581" d="M0 1.5h2m6 0h1m2 0h1m1 0h1M1 2.5h1m11 0h1M14 3.5h1M11 4.5h1M2 7.5h1M14 9.5h1M11 10.5h1M2 11.5h1M5 12.5h1M2 13.5h1m4 0h1M3 14.5h1m2 0h1M0 15.5h1m2 0h1m1 0h1m2 0h1"/><path stroke="#404588" d="M0 0.5h1M3 1.5h1m1 0h2m7 0h1M0 2.5h1M2 3.5h1M0 4.5h1m4 0h1M1 5.5h1m7 0h1m4 0h1M5 6.5h1m9 0h1M6 8.5h1m3 0h1M15 11.5h1M0 12.5h2m9 0h1M0 14.5h2m13 0h1M2 15.5h1m7 0h2m3 0h1"/><path stroke="#3a538b" d="M4 0.5h3m3 0h3M9 1.5h2M2 2.5h1m3 0h1m1 0h1m6 0h1M1 3.5h1m3 0h1m7 0h1M3 4.5h1m10 0h2M0 5.5h1m9 0h1m4 0h1M13 6.5h1M4 8.5h1m7 0h1M1 10.5h1m1 0h1M0 11.5h1m6 0h1M2 12.5h1m10 0h1M3 13.5h1m7 0h1m2 0h2M8 14.5h1m1 0h1m3 0h1M6 15.5h2m5 0h1"/><path stroke="#34618d" d="M1 0.5h1m1 0h1m3 0h1m1 0h1m3 0h1m1 0h1M2 1.5h1m1 0h1m2 0h1m4 0h1M4 2.5h1m2 0h1m4 0h1M3 3.5h2m1 0h1m5 0h1m2 0h1M8 4.5h1m3 0h2M2 5.5h1m1 0h1M0 6.5h2M12 7.5h1M5 8.5h1m5 0h1M4 9.5h1M0 10.5h1m14 0h1M1 11.5h1m4 0h1m5 0h1M1 13.5h1m2 0h1m7 0h2M12 14.5h1M12 15.5h1m1 0h1"/><path stroke="#2e6e8e" d="M10 3.5h2M1 4.5h2M3 5.5h1m7 0h2M2 6.5h1m6 0h4M1 7.5h1m13 0h1M0 8.5h1M1 9.5h3m11 0h1M4 10.5h4m6 0h1M4 11.5h2m8 0h1M3 12.5h2m3 0h2m4 0h2M5 13.5h2m3 0h1M4 14.5h1m4 0h1M4 15.5h1m4 0h1"/><path stroke="#297b8e" d="M9 2.5h1m1 0h1M7 4.5h1M6 5.5h1m1 0h1M4 6.5h1m3 0h1m5 0h1M10 7.5h2m1 0h2M2 8.5h1m6 0h1m4 0h1M13 9.5h1M2 10.5h1m5 0h1m3 0h2M8 11.5h1m4 0h1M5 14.5h1m1 0h1m3 0h1"/><path stroke="#24878e" d="M5 2.5h1M8 3.5h1M4 4.5h1m1 0h1m2 0h2M5 5.5h1m1 0h1M3 6.5h1M0 7.5h1m2 0h1M7 8.5h1m7 0h1M0 9.5h1m4 0h2m3 0h1m1 0h1M9 11.5h3M6 12.5h1m3 0h1m1 0h1"/><path stroke="#20938c" d="M4 7.5h2m3 0h1M1 8.5h1m1 0h1m9 0h1M11 9.5h1M8 13.5h1"/><path stroke="#1fa088" d="M7 3.5h1M7 6.5h1M6 7.5h3M7 9.5h3M9 10.5h2M7 12.5h1M9 13.5h1"/><path stroke="#25ac82" d="M6 6.5h1"/><path stroke="#fde725" d="M8 8.5h1"/></g></svg><svg class="p" style="left:41.0px;top:2613.6px" width="371.0" height="379.9" viewBox="0 0 32 32" preserveAspectRatio="none"><g fill="none" stroke-width="1.02" filter="url(#fbB)"><path stroke="#353535" d="M-4 -3.5h40M-4 -2.5h1m38 0h1M-4 -1.5h1m38 0h1M-4 -0.5h1m38 0h1M-4 0.5h1m38 0h1M-4 1.5h1m38 0h1M-4 2.5h1m38 0h1M-4 3.5h1m38 0h1M-4 4.5h1m38 0h1M-4 5.5h1m38 0h1M-4 6.5h1m38 0h1M-4 7.5h1m38 0h1M-4 8.5h1m38 0h1M-4 9.5h1m38 0h1M-4 10.5h1m38 0h1M-4 11.5h1m38 0h1M-4 12.5h1m38 0h1M-4 13.5h1m38 0h1M-4 14.5h1m38 0h1M-4 15.5h1m38 0h1M-4 16.5h1m38 0h1M-4 17.5h1m38 0h1M-4 18.5h1m38 0h1M-4 19.5h1m38 0h1M-4 20.5h1m38 0h1M-4 21.5h1m38 0h1M-4 22.5h1m38 0h1M-4 23.5h1m38 0h1M-4 24.5h1m38 0h1M-4 25.5h1m38 0h1M-4 26.5h1m38 0h1M-4 27.5h1m38 0h1M-4 28.5h1m38 0h1M-4 29.5h1m38 0h1M-4 30.5h1m38 0h1M-4 31.5h1m38 0h1M-4 32.5h1m38 0h1M-4 33.5h1m38 0h1M-4 34.5h1m38 0h1M-4 35.5h40"/><path stroke="#393939" d="M-3 -2.5h38M-3 -1.5h38M-3 -0.5h2m34 0h2M-3 0.5h2m34 0h2M-3 1.5h2m34 0h2M-3 2.5h2m34 0h2M-3 3.5h2m34 0h2M-3 4.5h2m34 0h2M-3 5.5h2m34 0h2M-3 6.5h2m34 0h2M-3 7.5h2m34 0h2M-3 8.5h2m34 0h2M-3 9.5h2m34 0h2M-3 10.5h2m34 0h2M-3 11.5h2m34 0h2M-3 12.5h2m34 0h2M-3 13.5h2m34 0h2M-3 14.5h2m34 0h2M-3 15.5h2m34 0h2M-3 16.5h2m34 0h2M-3 17.5h2m34 0h2M-3 18.5h2m34 0h2M-3 19.5h2m34 0h2M-3 20.5h2m34 0h2M-3 21.5h2m34 0h2M-3 22.5h2m34 0h2M-3 23.5h2m34 0h2M-3 24.5h2m34 0h2M-3 25.5h2m34 0h2M-3 26.5h2m34 0h2M-3 27.5h2m34 0h2M-3 28.5h2m34 0h2M-3 29.5h2m34 0h2M-3 30.5h2m34 0h2M-3 31.5h2m34 0h2M-3 32.5h2m34 0h2M-3 33.5h38M-3 34.5h38"/><path stroke="#3d3d3d" d="M-1 -0.5h34M-1 0.5h34M-1 1.5h2m30 0h2M-1 2.5h2m30 0h2M-1 3.5h2m30 0h2M-1 4.5h2m30 0h2M-1 5.5h2m30 0h2M-1 6.5h2m30 0h2M-1 7.5h2m30 0h2M-1 8.5h2m30 0h2M-1 9.5h2m30 0h2M-1 10.5h2m30 0h2M-1 11.5h2m30 0h2M-1 12.5h2m30 0h2M-1 13.5h2m30 0h2M-1 14.5h2m30 0h2M-1 15.5h2m30 0h2M-1 16.5h2m30 0h2M-1 17.5h2m30 0h2M-1 18.5h2m30 0h2M-1 19.5h2m30 0h2M-1 20.5h2m30 0h2M-1 21.5h2m30 0h2M-1 22.5h2m30 0h2M-1 23.5h2m30 0h2M-1 24.5h2m30 0h2M-1 25.5h2m30 0h2M-1 26.5h2m30 0h2M-1 27.5h2m30 0h2M-1 28.5h2m30 0h2M-1 29.5h2m30 0h2M-1 30.5h2m30 0h2M-1 31.5h34M-1 32.5h34"/><path stroke="#414141" d="M1 1.5h30M1 2.5h30M1 3.5h2m26 0h2M1 4.5h2m26 0h2M1 5.5h2m26 0h2M1 6.5h2m26 0h2M1 7.5h2m26 0h2M1 8.5h2m26 0h2M1 9.5h2m26 0h2M1 10.5h2m26 0h2M1 11.5h2m26 0h2M1 12.5h2m26 0h2M1 13.5h2m26 0h2M1 14.5h2m26 0h2M1 15.5h2m26 0h2M1 16.5h2m26 0h2M1 17.5h2m26 0h2M1 18.5h2m26 0h2M1 19.5h2m26 0h2M1 20.5h2m26 0h2M1 21.5h2m26 0h2M1 22.5h2m26 0h2M1 23.5h2m26 0h2M1 24.5h2m26 0h2M1 25.5h2m26 0h2M1 26.5h2m26 0h2M1 27.5h2m26 0h2M1 28.5h2m26 0h2M1 29.5h30M1 30.5h30"/><path stroke="#454545" d="M3 3.5h26M3 4.5h26M3 5.5h7m12 0h7M3 6.5h3m20 0h3M3 7.5h3m20 0h3M3 8.5h3m20 0h3M3 9.5h3m20 0h3M3 10.5h2m22 0h2M3 11.5h2m22 0h2M3 12.5h2m22 0h2M3 13.5h2m22 0h2M3 14.5h2m22 0h2M3 15.5h2m22 0h2M3 16.5h2m22 0h2M3 17.5h2m22 0h2M3 18.5h2m22 0h2M3 19.5h2m22 0h2M3 20.5h2m22 0h2M3 21.5h2m22 0h2M3 22.5h3m20 0h3M3 23.5h3m20 0h3M3 24.5h3m20 0h3M3 25.5h3m20 0h3M3 26.5h7m12 0h7M3 27.5h26M3 28.5h26"/><path stroke="#494949" d="M10 5.5h12M6 6.5h20M6 7.5h6m8 0h6M6 8.5h2m16 0h2M6 9.5h2m16 0h2M5 10.5h3m16 0h3M5 11.5h3m16 0h3M5 12.5h2m18 0h2M5 13.5h2m18 0h2M5 14.5h2m18 0h2M5 15.5h2m18 0h2M5 16.5h2m18 0h2M5 17.5h2m18 0h2M5 18.5h2m18 0h2M5 19.5h2m18 0h2M5 20.5h3m16 0h3M5 21.5h3m16 0h3M6 22.5h2m16 0h2M6 23.5h2m16 0h2M6 24.5h6m8 0h6M6 25.5h20M10 26.5h12"/><path stroke="#4d4d4d" d="M12 7.5h8M8 8.5h16M8 9.5h4m8 0h4M8 10.5h2m12 0h2M8 11.5h2m12 0h2M7 12.5h2m14 0h2M7 13.5h2m14 0h2M7 14.5h2m14 0h2M7 15.5h2m14 0h2M7 16.5h2m14 0h2M7 17.5h2m14 0h2M7 18.5h2m14 0h2M7 19.5h2m14 0h2M8 20.5h2m12 0h2M8 21.5h2m12 0h2M8 22.5h4m8 0h4M8 23.5h16M12 24.5h8"/><path stroke="#515151" d="M12 9.5h8M10 10.5h5m2 0h5M10 11.5h2m8 0h2M9 12.5h2m10 0h2M9 13.5h2m10 0h2M9 14.5h2m10 0h2M9 15.5h1m12 0h1M9 16.5h1m12 0h1M9 17.5h2m10 0h2M9 18.5h2m10 0h2M9 19.5h2m10 0h2M10 20.5h2m8 0h2M10 21.5h5m2 0h5M12 22.5h8"/><path stroke="#555555" d="M15 10.5h2M12 11.5h8M11 12.5h2m6 0h2M11 13.5h1m8 0h1M11 14.5h1m8 0h1M10 15.5h2m8 0h2M10 16.5h2m8 0h2M11 17.5h1m8 0h1M11 18.5h1m8 0h1M11 19.5h2m6 0h2M12 20.5h8M15 21.5h2"/><path stroke="#595959" d="M13 12.5h2m2 0h2M12 13.5h1m6 0h1M12 14.5h1m6 0h1M12 17.5h1m6 0h1M12 18.5h1m6 0h1M13 19.5h2m2 0h2"/><path stroke="#5d5d5d" d="M15 12.5h2M13 13.5h1m4 0h1M12 15.5h1m6 0h1M12 16.5h1m6 0h1M13 18.5h1m4 0h1M15 19.5h2"/><path stroke="#616161" d="M14 13.5h1m2 0h1M13 14.5h1m4 0h1M13 17.5h1m4 0h1M14 18.5h1m2 0h1"/><path stroke="#696969" d="M15 13.5h2M13 15.5h1m4 0h1M13 16.5h1m4 0h1M15 18.5h2"/><path stroke="#717171" d="M14 14.5h1m2 0h1M14 17.5h1m2 0h1"/><path stroke="#7d7d7d" d="M15 14.5h2M14 15.5h1m2 0h1M14 16.5h1m2 0h1M15 17.5h2"/><path stroke="#929292" d="M15 15.5h2M15 16.5h2"/></g><g filter="url(#fsB)" style="mix-blend-mode:lighten"><rect x="15.513" y="0.00" width="1.294" height="32.00" fill="#6b6b6b"/><rect x="15.901" y="0.00" width="0.518" height="32.00" fill="#757575"/><rect x="0.00" y="15.621" width="32.00" height="0.758" fill="#696969"/><rect x="0.00" y="15.832" width="32.00" height="0.337" fill="#737373"/><ellipse cx="16.160" cy="16.160" rx="0.345" ry="0.168" fill="#bfbfbf"/></g></svg><svg class="p" style="left:474.4px;top:2613.6px" width="371.9" height="379.9" viewBox="0 0 32 32" preserveAspectRatio="none"><g fill="none" stroke-width="1.02" filter="url(#fbB)"><path stroke="#414141" d="M-4 -3.5h40M-4 -2.5h1m38 0h1M-4 -1.5h1m38 0h1M-4 -0.5h1m38 0h1M-4 0.5h1m38 0h1M-4 1.5h1m38 0h1M-4 2.5h1m38 0h1M-4 3.5h1m38 0h1M-4 4.5h1m38 0h1M-4 5.5h1m38 0h1M-4 6.5h1m38 0h1M-4 7.5h1m38 0h1M-4 8.5h1m38 0h1M-4 9.5h1m38 0h1M-4 10.5h1m38 0h1M-4 11.5h1m38 0h1M-4 12.5h1m38 0h1M-4 13.5h1m38 0h1M-4 14.5h1m38 0h1M-4 15.5h1m38 0h1M-4 16.5h1m38 0h1M-4 17.5h1m38 0h1M-4 18.5h1m38 0h1M-4 19.5h1m38 0h1M-4 20.5h1m38 0h1M-4 21.5h1m38 0h1M-4 22.5h1m38 0h1M-4 23.5h1m38 0h1M-4 24.5h1m38 0h1M-4 25.5h1m38 0h1M-4 26.5h1m38 0h1M-4 27.5h1m38 0h1M-4 28.5h1m38 0h1M-4 29.5h1m38 0h1M-4 30.5h1m38 0h1M-4 31.5h1m38 0h1M-4 32.5h1m38 0h1M-4 33.5h1m38 0h1M-4 34.5h1m38 0h1M-4 35.5h40"/><path stroke="#454545" d="M-3 -2.5h38M-3 -1.5h38M-3 -0.5h38M-3 0.5h3m32 0h3M-3 1.5h3m32 0h3M-3 2.5h3m32 0h3M-3 3.5h3m32 0h3M-3 4.5h3m32 0h3M-3 5.5h3m32 0h3M-3 6.5h3m32 0h3M-3 7.5h3m32 0h3M-3 8.5h3m32 0h3M-3 9.5h3m32 0h3M-3 10.5h3m32 0h3M-3 11.5h3m32 0h3M-3 12.5h3m32 0h3M-3 13.5h3m32 0h3M-3 14.5h3m32 0h3M-3 15.5h3m32 0h3M-3 16.5h3m32 0h3M-3 17.5h3m32 0h3M-3 18.5h3m32 0h3M-3 19.5h3m32 0h3M-3 20.5h3m32 0h3M-3 21.5h3m32 0h3M-3 22.5h3m32 0h3M-3 23.5h3m32 0h3M-3 24.5h3m32 0h3M-3 25.5h3m32 0h3M-3 26.5h3m32 0h3M-3 27.5h3m32 0h3M-3 28.5h3m32 0h3M-3 29.5h3m32 0h3M-3 30.5h3m32 0h3M-3 31.5h3m32 0h3M-3 32.5h38M-3 33.5h38M-3 34.5h38"/><path stroke="#494949" d="M0 0.5h32M0 1.5h32M0 2.5h2m28 0h2M0 3.5h2m28 0h2M0 4.5h2m28 0h2M0 5.5h2m28 0h2M0 6.5h2m28 0h2M0 7.5h2m28 0h2M0 8.5h2m28 0h2M0 9.5h2m28 0h2M0 10.5h2m28 0h2M0 11.5h2m28 0h2M0 12.5h2m28 0h2M0 13.5h2m28 0h2M0 14.5h2m28 0h2M0 15.5h2m28 0h2M0 16.5h2m28 0h2M0 17.5h2m28 0h2M0 18.5h2m28 0h2M0 19.5h2m28 0h2M0 20.5h2m28 0h2M0 21.5h2m28 0h2M0 22.5h2m28 0h2M0 23.5h2m28 0h2M0 24.5h2m28 0h2M0 25.5h2m28 0h2M0 26.5h2m28 0h2M0 27.5h2m28 0h2M0 28.5h2m28 0h2M0 29.5h2m28 0h2M0 30.5h32M0 31.5h32"/><path stroke="#4d4d4d" d="M2 2.5h28M2 3.5h28M2 4.5h9m10 0h9M2 5.5h3m22 0h3M2 6.5h3m22 0h3M2 7.5h3m22 0h3M2 8.5h3m22 0h3M2 9.5h3m22 0h3M2 10.5h3m22 0h3M2 11.5h2m24 0h2M2 12.5h2m24 0h2M2 13.5h2m24 0h2M2 14.5h2m24 0h2M2 15.5h2m24 0h2M2 16.5h2m24 0h2M2 17.5h2m24 0h2M2 18.5h2m24 0h2M2 19.5h2m24 0h2M2 20.5h2m24 0h2M2 21.5h3m22 0h3M2 22.5h3m22 0h3M2 23.5h3m22 0h3M2 24.5h3m22 0h3M2 25.5h3m22 0h3M2 26.5h3m22 0h3M2 27.5h9m10 0h9M2 28.5h28M2 29.5h28"/><path stroke="#515151" d="M11 4.5h10M5 5.5h22M5 6.5h6m10 0h4m1 0h1M5 7.5h2m18 0h2M5 8.5h2m18 0h2M5 9.5h2m18 0h2M5 10.5h2m18 0h2M4 11.5h2m20 0h2M4 12.5h2m20 0h2M4 13.5h2m20 0h2M4 14.5h2m20 0h2M4 15.5h2m20 0h2M4 16.5h2m20 0h2M4 17.5h2m20 0h2M4 18.5h2m20 0h2M4 19.5h2m20 0h2M4 20.5h2m20 0h2M5 21.5h2m18 0h2M5 22.5h2m18 0h2M5 23.5h2m18 0h2M5 24.5h2m18 0h2M5 25.5h1m1 0h4m10 0h6M5 26.5h22M11 27.5h10"/><path stroke="#555555" d="M11 6.5h10m4 0h1M7 7.5h7m4 0h7M7 8.5h1m16 0h1M7 9.5h1m16 0h1M7 10.5h1m16 0h1M6 11.5h2m16 0h2M6 12.5h2m16 0h2M6 13.5h2m16 0h2M6 14.5h1m18 0h1M6 15.5h1m18 0h1M6 16.5h1m18 0h1M6 17.5h1m18 0h1M6 18.5h2m16 0h2M6 19.5h2m16 0h2M6 20.5h2m16 0h2M7 21.5h1m16 0h1M7 22.5h1m16 0h1M7 23.5h1m16 0h1M7 24.5h7m4 0h7M6 25.5h1m4 0h10"/><path stroke="#595959" d="M14 7.5h4M8 8.5h16M8 9.5h1m14 0h1M8 10.5h1m14 0h1M8 11.5h1m14 0h1M8 12.5h1m14 0h1M8 13.5h1m14 0h1M7 14.5h2m14 0h2M7 15.5h2m14 0h2M7 16.5h2m14 0h2M7 17.5h2m14 0h2M8 18.5h1m14 0h1M8 19.5h1m14 0h1M8 20.5h1m14 0h1M8 21.5h1m14 0h1M8 22.5h1m14 0h1M8 23.5h16M14 24.5h4"/><path stroke="#5d5d5d" d="M9 9.5h12M9 10.5h1M9 11.5h1m12 0h1M9 12.5h1m12 0h1M9 13.5h1m12 0h1M9 14.5h1m12 0h1M9 15.5h1m12 0h1M9 16.5h1m12 0h1M9 17.5h1m12 0h1M9 18.5h1m12 0h1M9 19.5h1m12 0h1M9 20.5h1m12 0h1M22 21.5h1M11 22.5h12"/><path stroke="#616161" d="M21 9.5h2M12 10.5h8m2 0h1M10 12.5h1m10 0h1M10 13.5h1m10 0h1M10 14.5h1m10 0h1M10 15.5h1m10 0h1M10 16.5h1m10 0h1M10 17.5h1m10 0h1M10 18.5h1m10 0h1M10 19.5h1m10 0h1M9 21.5h1m2 0h8M9 22.5h2"/><path stroke="#656565" d="M10 10.5h2m8 0h2M10 11.5h1m2 0h2m2 0h1m3 0h1M11 13.5h1M11 14.5h1m8 0h1M11 17.5h1m8 0h1M20 18.5h1M10 20.5h1m3 0h1m2 0h2m2 0h1M10 21.5h2m8 0h2"/><path stroke="#696969" d="M12 11.5h1m2 0h2m1 0h1M11 12.5h1M20 13.5h1M11 15.5h1m8 0h1M11 16.5h1m8 0h1M11 18.5h1M20 19.5h1M13 20.5h1m1 0h2m2 0h1"/><path stroke="#6d6d6d" d="M11 11.5h1m7 0h2M20 12.5h1M11 19.5h1M11 20.5h2m7 0h1"/><path stroke="#717171" d="M14 12.5h4M12 14.5h1m6 0h1M12 15.5h1m6 0h1M12 16.5h1m6 0h1M12 17.5h1m6 0h1M14 19.5h4"/><path stroke="#757575" d="M12 12.5h2m4 0h1M12 13.5h1m6 0h1M12 18.5h1m6 0h1M13 19.5h1m4 0h2"/><path stroke="#797979" d="M19 12.5h1M12 19.5h1"/><path stroke="#828282" d="M13 13.5h4M13 14.5h1M13 15.5h1m4 0h1M13 16.5h1m4 0h1M18 17.5h1M15 18.5h4"/><path stroke="#868686" d="M17 13.5h2M18 14.5h1M13 17.5h1M13 18.5h2"/><path stroke="#9a9a9a" d="M14 14.5h1M17 17.5h1"/><path stroke="#9e9e9e" d="M15 14.5h1m1 0h1M14 15.5h1M17 16.5h1M14 17.5h1m1 0h1"/><path stroke="#a2a2a2" d="M16 14.5h1M17 15.5h1M14 16.5h1M15 17.5h1"/><path stroke="#bebebe" d="M15 15.5h1M16 16.5h1"/><path stroke="#c2c2c2" d="M16 15.5h1M15 16.5h1"/></g><g filter="url(#fsB)" style="mix-blend-mode:lighten"><rect x="15.871" y="0.00" width="0.258" height="32.00" fill="#6b6b6b"/><rect x="0.00" y="15.916" width="32.00" height="0.168" fill="#666666"/><ellipse cx="16.000" cy="16.000" rx="0.344" ry="0.168" fill="#e6e6e6"/></g></svg><svg class="p" style="left:913.2px;top:2611.0px" width="371.5" height="380.0" viewBox="0 0 64 64" preserveAspectRatio="none"><g fill="none" stroke-width="1.02"><path stroke="#440154" d="M2 0.5h1m45 0h1M12 1.5h1m3 0h1m28 0h1m17 0h1M1 2.5h1M0 3.5h1m2 0h1m14 0h1m19 0h1m16 0h1M0 4.5h1m32 0h1m27 0h1M28 5.5h1m15 0h1m17 0h1M25 6.5h1m1 0h1m8 0h1m8 0h1M7 7.5h1m2 0h1m19 0h1m8 0h1m12 0h1m8 0h1M18 8.5h1M54 9.5h1M18 10.5h1M44 11.5h1m12 0h1M61 13.5h1M10 15.5h1M4 17.5h1m57 0h1M57 18.5h2M55 19.5h1M61 22.5h1M61 23.5h1M1 24.5h1M54 26.5h1M0 27.5h1m3 0h1M61 31.5h1M62 34.5h1M3 35.5h1m53 0h1M59 37.5h1M58 38.5h1M10 40.5h1m47 0h1M8 41.5h1m49 0h1M63 43.5h1M0 44.5h1m1 0h1M11 46.5h1M10 49.5h1M7 50.5h1m50 0h1M55 51.5h1M8 52.5h1M1 53.5h1m43 0h1m17 0h1M52 54.5h1M57 55.5h1M19 57.5h1M8 58.5h2m6 0h2m24 0h1M1 59.5h1m2 0h1m48 0h1m6 0h1M31 60.5h1m15 0h1m1 0h1M4 61.5h1m30 0h1M7 62.5h1m7 0h1m2 0h1m3 0h1m34 0h1M45 63.5h1m12 0h1"/><path stroke="#460a5d" d="M4 2.5h1m25 0h1M24 3.5h1m29 0h1m6 0h1M8 4.5h1M9 5.5h1M44 8.5h1M29 10.5h1m4 0h1M47 11.5h1M5 12.5h1m15 0h1m26 0h1M7 13.5h1m5 0h1m2 0h1m26 0h1M24 14.5h1m23 0h1m3 0h1M10 23.5h1M1 25.5h1m10 0h1m49 0h1M56 28.5h1M51 29.5h1M11 39.5h1M50 40.5h1M49 42.5h1M52 43.5h1M16 47.5h1m34 0h1M44 48.5h1M49 49.5h1M26 50.5h1m15 0h1M0 51.5h1m19 0h1M17 53.5h1m7 0h1m9 0h1m13 0h1M19 54.5h1m9 0h1m1 0h1M54 56.5h1M33 57.5h1M20 58.5h1m16 0h1m12 0h1M12 59.5h1M4 62.5h1"/><path stroke="#481467" d="M11 0.5h1m3 0h1M24 1.5h1m19 0h1M26 2.5h1m31 0h1M12 3.5h1m37 0h1M13 4.5h1M2 6.5h1m10 0h1m48 0h1M21 8.5h1M6 12.5h1M27 13.5h1M63 14.5h1M46 16.5h1M0 18.5h1m23 0h1M21 19.5h1m1 0h1m34 0h1M0 23.5h1m55 0h1M18 25.5h1M17 26.5h1M16 28.5h1M2 30.5h1M61 34.5h1M0 36.5h1M1 37.5h1M45 38.5h1M3 39.5h1M5 42.5h1m40 0h1m14 0h1M1 45.5h1m16 0h1m18 0h1M5 46.5h1m12 0h1m4 0h1m36 0h1M3 47.5h1m14 0h1m26 0h1M1 48.5h1m28 0h1m24 0h1m5 0h1M58 49.5h1M2 50.5h1M16 51.5h1m44 0h1M9 52.5h1m15 0h1M23 53.5h1M3 54.5h1m12 0h1m9 0h1m33 0h1M18 55.5h1m36 0h1M21 56.5h1m2 0h1m22 0h1m12 0h1M43 57.5h1M10 58.5h1m27 0h1m22 0h1M9 59.5h1M8 60.5h1m9 0h2m17 0h1m20 0h1M2 61.5h1m48 0h1M24 62.5h1m13 0h1"/><path stroke="#481c6e" d="M28 0.5h1M29 1.5h1M18 2.5h1M22 3.5h1m5 0h1m28 0h1M20 4.5h1m9 0h1m26 0h1M41 5.5h1M20 6.5h1m33 0h1M31 7.5h1m21 0h1M37 8.5h1m16 0h1m4 0h1M56 9.5h1M20 14.5h1M1 15.5h1m42 0h1M7 16.5h1m2 0h1M1 18.5h1m7 0h1M28 19.5h1M22 21.5h1M12 22.5h1m6 0h1m37 0h1m1 0h2M3 24.5h1m17 0h1m39 0h1M47 26.5h1M10 28.5h1M56 30.5h1M45 31.5h1M2 33.5h1M4 34.5h1M63 35.5h1M20 36.5h1m22 0h1m6 0h1m2 0h1M8 37.5h1m37 0h1m5 0h1M21 39.5h1M57 40.5h1M14 41.5h1M6 42.5h1m13 0h1m26 0h1m3 0h2M3 43.5h1m1 0h1m4 0h1M11 44.5h1m25 0h1M27 45.5h1M10 46.5h1m8 0h1m6 0h1M18 48.5h1m17 0h1M17 49.5h1M0 50.5h1M24 51.5h1M5 52.5h1m37 0h1M61 53.5h1M48 54.5h1m10 0h1M0 55.5h1m7 0h1m38 0h1M5 56.5h1m20 0h1m4 0h1M0 57.5h1m11 0h1m14 0h1m25 0h1M0 58.5h1M26 60.5h1m34 0h1M9 61.5h1m27 0h1M34 62.5h1m17 0h1M10 63.5h1m13 0h1m27 0h2"/><path stroke="#482576" d="M38 0.5h1m8 0h1M25 1.5h1m2 0h1m31 0h1M16 2.5h2m13 0h1m1 0h1m26 0h1M14 3.5h1m10 0h1M3 4.5h1m1 0h1m8 0h1m13 0h1m34 0h1M23 5.5h1m19 0h1m2 0h1m8 0h1M26 6.5h1m16 0h1m17 0h1M20 7.5h1M5 8.5h1m13 0h1m25 0h1M17 9.5h1m4 0h1m25 0h1M1 10.5h1m15 0h1M29 11.5h1m16 0h1m12 0h1m1 0h1M18 12.5h1M23 13.5h1M40 14.5h2m13 0h1M2 15.5h1m8 0h1m11 0h1M15 16.5h1m5 0h1M0 17.5h1M13 18.5h1m48 0h1M37 19.5h1m13 0h1m8 0h1M6 20.5h1m40 0h1M9 21.5h1m41 0h1m1 0h1M58 22.5h1M20 23.5h1m31 0h1M2 25.5h1m1 0h1M2 26.5h1M8 28.5h1m5 0h1m28 0h1m14 0h1M45 29.5h1m9 0h1m2 0h1M53 30.5h1M18 35.5h1M56 36.5h1m3 0h1M20 37.5h1m21 0h1M42 38.5h1m11 0h1M20 39.5h1M0 41.5h1m5 0h1m34 0h1M4 42.5h1m12 0h1M4 44.5h1m1 0h1m22 0h1m16 0h1M8 45.5h1m12 0h1m37 0h2M15 46.5h1m37 0h1m4 0h1M10 47.5h1m48 0h1M18 49.5h1m43 0h1M12 50.5h1M0 53.5h1m45 0h1M58 54.5h1M4 55.5h2m23 0h1m33 0h1M6 56.5h1m22 0h1m16 0h1m14 0h1M17 57.5h1m2 0h1m5 0h1m20 0h1M7 58.5h1m6 0h1m42 0h1M37 59.5h1m6 0h1m6 0h1M22 60.5h1m22 0h1M16 61.5h1m2 0h1m28 0h1M2 62.5h1m30 0h1M4 63.5h1m2 0h1m12 0h1m10 0h1m24 0h1"/><path stroke="#472d7b" d="M1 0.5h1m1 0h1m14 0h1m1 0h2m12 0h1m11 0h1m16 0h1M8 1.5h1m6 0h1m31 0h1m1 0h1M12 2.5h1M6 3.5h2m8 0h1m12 0h1m5 0h1M47 4.5h1M1 5.5h1m6 0h1m1 0h1m6 0h1m4 0h1m14 0h1M0 6.5h1m7 0h1m32 0h1M3 7.5h1m5 0h1m15 0h1M7 8.5h1M40 9.5h1M26 11.5h1m1 0h1m5 0h1m7 0h1M45 12.5h2M17 13.5h1m13 0h1m6 0h1M3 14.5h1m18 0h1m28 0h1M0 15.5h1m34 0h1M55 16.5h1m5 0h1M48 17.5h1m6 0h1M50 18.5h1m5 0h1M22 19.5h1m10 0h1M15 20.5h1m11 0h1M14 21.5h1m41 0h1M0 22.5h1m6 0h1m41 0h1M17 23.5h1m26 0h1m3 0h1M41 24.5h1m12 0h1M8 25.5h1m44 0h1M11 26.5h1m40 0h1M2 27.5h1m9 0h1m47 0h1M52 28.5h1M61 30.5h1M42 33.5h1M1 34.5h1m5 0h1m2 0h1m47 0h1M6 35.5h1M4 37.5h1M0 38.5h1m49 0h1M14 39.5h1m42 0h1m4 0h2M17 41.5h1m32 0h1m10 0h1M9 42.5h1m3 0h1m40 0h1M53 43.5h1m5 0h1M56 44.5h1M3 45.5h1m7 0h1m46 0h1M14 47.5h1m39 0h1m7 0h1M17 48.5h1M10 50.5h1m10 0h1m5 0h1M18 51.5h1m21 0h1m19 0h1M2 52.5h1m20 0h1m7 0h1M33 53.5h1m19 0h1M44 54.5h1M43 55.5h1m5 0h1M10 56.5h1m5 0h1m40 0h1m1 0h1M3 57.5h1m25 0h1m5 0h1m26 0h1M11 58.5h1m9 0h1m23 0h1m12 0h1M8 59.5h1m31 0h1m9 0h1M3 60.5h1m40 0h1m12 0h1m2 0h1M13 61.5h1m4 0h1m3 0h1m6 0h1m8 0h1M23 62.5h1m34 0h1m1 0h1M18 63.5h1m7 0h1m19 0h1"/><path stroke="#453581" d="M40 0.5h2m8 0h1m11 0h1M17 1.5h1M6 2.5h1m16 0h1m5 0h1m21 0h1M11 3.5h1m5 0h1m13 0h1m1 0h1M6 4.5h1m15 0h1m30 0h1M7 5.5h1m4 0h1m16 0h1m24 0h1M4 6.5h1m6 0h1m4 0h1m2 0h1m19 0h2m8 0h1m1 0h2M1 7.5h1m42 0h1m1 0h1m3 0h1M16 8.5h1m39 0h1m5 0h1M41 9.5h1m1 0h1m5 0h2M12 10.5h1m2 0h1m3 0h1m6 0h1m28 0h1M16 11.5h1m23 0h1m22 0h1M17 12.5h1m4 0h1M1 13.5h1m2 0h1m23 0h1M7 14.5h2m52 0h1M3 15.5h1m18 0h1m38 0h1m1 0h1M16 16.5h1m6 0h1m19 0h1M9 17.5h1m20 0h1m29 0h1M21 18.5h1m41 0h1M3 19.5h1m8 0h1m4 0h1M3 21.5h1m41 0h1m4 0h1m7 0h1m3 0h1M18 22.5h1m6 0h1M5 23.5h1m15 0h1m15 0h1m15 0h2m4 0h1M6 24.5h1m11 0h1m18 0h2M14 25.5h1M46 26.5h1m12 0h1M3 27.5h1m3 0h1m45 0h1m1 0h1m1 0h1M0 28.5h1m1 0h1m2 0h2m40 0h1m5 0h1M12 29.5h1m29 0h1M9 30.5h1m2 0h1m44 0h1M10 31.5h1m38 0h1m3 0h1M16 33.5h1m43 0h1M12 34.5h1m43 0h1m6 0h1M2 35.5h1M60 37.5h1M4 38.5h1m12 0h1m41 0h1M60 39.5h1M29 40.5h1m18 0h2m5 0h1m7 0h1M15 41.5h1M22 42.5h1m21 0h1m14 0h1M0 43.5h1m7 0h1m14 0h1M10 44.5h1m6 0h1m21 0h1m23 0h1M4 45.5h1m7 0h1M16 46.5h1m42 0h1M20 47.5h1m32 0h1M11 48.5h1m26 0h1m2 0h1M8 49.5h1m32 0h1m15 0h1M22 50.5h1m10 0h1m3 0h1m7 0h1M51 51.5h1m5 0h1M27 52.5h1M7 53.5h1m32 0h1m3 0h1m13 0h1M9 54.5h1m20 0h1m2 0h1m6 0h1m13 0h1M3 55.5h1m16 0h1m24 0h1m15 0h1M0 56.5h1m12 0h1m4 0h1m43 0h1M8 57.5h1M2 58.5h1m16 0h1m19 0h1m15 0h1M19 59.5h1m10 0h1m3 0h1m27 0h1M17 60.5h1m7 0h1m4 0h1m15 0h1m4 0h1M31 61.5h1m18 0h1m6 0h1M61 62.5h1M2 63.5h1m5 0h1m3 0h1m1 0h1m20 0h1m2 0h1m21 0h1"/><path stroke="#433d84" d="M13 0.5h1m13 0h1m21 0h1M4 1.5h2m3 0h1m1 0h1m6 0h1m18 0h1m2 0h2m14 0h1M11 2.5h1m3 0h1m23 0h1m1 0h1m10 0h1M10 3.5h1m10 0h1m8 0h1m28 0h1m2 0h1M2 4.5h1m28 0h1m3 0h1m19 0h1M0 5.5h1m12 0h1m2 0h1m13 0h1m5 0h1m16 0h1m2 0h1m6 0h1M14 6.5h1m8 0h1m11 0h1M28 7.5h1m28 0h1M1 8.5h1m4 0h1m6 0h1m26 0h1m11 0h1M2 9.5h1m2 0h1m8 0h1m8 0h1m1 0h1m11 0h1m6 0h1m6 0h2m2 0h1m1 0h1M45 10.5h2m9 0h1m5 0h1M8 11.5h1m5 0h1m15 0h1m14 0h1m16 0h1M1 12.5h1m1 0h1m6 0h1m26 0h1m11 0h1M10 13.5h1m10 0h1m15 0h1m1 0h1m2 0h1m4 0h1m7 0h1M23 14.5h1M11 16.5h1m33 0h1M1 17.5h1m4 0h1m7 0h1m7 0h1M51 18.5h2m6 0h1M0 19.5h1m3 0h1m3 0h1m10 0h1m14 0h1M22 20.5h1m13 0h1m20 0h1m1 0h3M1 21.5h1m2 0h1m10 0h1m10 0h1m19 0h1M35 22.5h1m5 0h1M15 23.5h1m34 0h1m7 0h1M15 24.5h2m25 0h1M11 25.5h1m38 0h1m7 0h1M13 26.5h1m39 0h1m1 0h1M1 27.5h1m6 0h1m5 0h1m3 0h1m2 0h1m37 0h1M12 28.5h1m4 0h2m32 0h1m7 0h1M2 29.5h1m58 0h1M12 31.5h1m3 0h1m3 0h1m25 0h1m10 0h1m4 0h2M24 33.5h1M0 34.5h1m17 0h1m26 0h1M47 35.5h1m3 0h2m8 0h1M10 36.5h1m4 0h1m46 0h2M13 37.5h1M6 38.5h2m5 0h1M1 39.5h1m6 0h1m33 0h2m17 0h1M3 40.5h1m11 0h1m31 0h1m4 0h1m7 0h1M52 41.5h1M0 42.5h1m47 0h1m14 0h1M2 43.5h1m31 0h1m26 0h1M1 44.5h1m3 0h1m45 0h1m10 0h1M9 45.5h1m14 0h1m22 0h1m6 0h1M9 46.5h1m42 0h1M0 47.5h1m5 0h1m5 0h1m11 0h1m17 0h1m9 0h1M7 48.5h1m17 0h1m3 0h1m9 0h1M2 49.5h1m9 0h1m10 0h1m1 0h1m30 0h1M8 51.5h1m19 0h1m30 0h1m3 0h1M1 52.5h1m5 0h1m6 0h1m11 0h1m15 0h1m6 0h1M2 53.5h1m12 0h1m2 0h1m36 0h1M2 54.5h1m11 0h1m6 0h1m27 0h1m5 0h1m5 0h1M1 55.5h1m7 0h2m1 0h1m14 0h2m8 0h1M4 56.5h1m6 0h2m6 0h1m38 0h1M4 57.5h1m23 0h1m7 0h1m4 0h1m13 0h1m5 0h1M25 58.5h2m2 0h1m11 0h1m5 0h1m11 0h1M14 59.5h1m3 0h1m2 0h1m35 0h1m3 0h1M5 60.5h1m1 0h1m12 0h1m13 0h1m3 0h2m1 0h2m20 0h1M14 61.5h1m24 0h1m1 0h1m1 0h1m1 0h1M8 62.5h1m7 0h1m12 0h1m18 0h1m1 0h1M0 63.5h1m41 0h1m1 0h1m2 0h1m7 0h1m1 0h1"/><path stroke="#404588" d="M6 0.5h1m1 0h2m4 0h1m11 0h1m4 0h1m3 0h1m1 0h1m1 0h1m12 0h2m7 0h1M0 1.5h1m5 0h1m6 0h1m5 0h1m16 0h1m15 0h1m1 0h2M19 2.5h1m1 0h1m13 0h2m7 0h1m5 0h1m6 0h1M9 3.5h1m24 0h1m2 0h1m2 0h1m1 0h1m15 0h1M4 4.5h1m21 0h1m7 0h1m3 0h2m3 0h1m1 0h1m2 0h1m1 0h1m8 0h2M4 5.5h1m1 0h1m17 0h1m10 0h1m24 0h1M5 6.5h2m3 0h1m1 0h1m2 0h1m1 0h1m10 0h1m1 0h1M4 7.5h1m6 0h2m13 0h1m9 0h1m6 0h1m10 0h1m4 0h2M14 8.5h1m7 0h1m16 0h1m2 0h2m6 0h1m6 0h1M1 9.5h1m19 0h1m7 0h1m30 0h1m2 0h1M4 10.5h1m1 0h1m6 0h2m7 0h1m8 0h1m1 0h1m1 0h2m22 0h1M0 11.5h1m3 0h1m28 0h1m16 0h1m5 0h1M8 12.5h1m6 0h1m47 0h1M11 13.5h1m3 0h1m10 0h1m3 0h1m10 0h1m7 0h1M11 14.5h1m7 0h1m15 0h1m3 0h1m6 0h2m8 0h1m2 0h1M8 15.5h1m5 0h1m14 0h1M25 16.5h1m4 0h1m17 0h1m5 0h1M11 17.5h1m16 0h1m12 0h1M20 18.5h1m23 0h2m2 0h1M10 19.5h1m25 0h1M0 20.5h1m4 0h1m3 0h1m30 0h1M12 21.5h1m18 0h1M6 22.5h1m7 0h1m35 0h1m5 0h1M3 23.5h1m2 0h1m1 0h1m36 0h1M29 24.5h1m19 0h1m9 0h1M43 25.5h1m12 0h1m6 0h1M58 26.5h1m3 0h1M9 27.5h1m37 0h1m2 0h1m12 0h1M54 28.5h1M0 29.5h1m2 0h3m5 0h1m4 0h1m1 0h1m27 0h2m8 0h1M3 30.5h2m6 0h1m1 0h1m36 0h1M0 31.5h1m1 0h1m12 0h1m39 0h2M6 33.5h2m6 0h1m26 0h1m19 0h2M2 34.5h2m2 0h1m7 0h1m33 0h1m1 0h1m4 0h1m4 0h1M4 35.5h1m4 0h1m49 0h1M8 36.5h1M5 37.5h1m8 0h1m38 0h1M62 38.5h1M9 39.5h1m25 0h1m12 0h1m10 0h1M2 40.5h1m3 0h3m4 0h1m39 0h1M1 41.5h1m7 0h1m1 0h1m34 0h1m8 0h1M8 42.5h1m32 0h1m14 0h1M25 43.5h1m2 0h1m10 0h1M14 44.5h2m14 0h1m26 0h1m3 0h1M0 45.5h1m1 0h1m3 0h1m3 0h1m4 0h1m4 0h1m10 0h1m16 0h1m6 0h1m1 0h1m4 0h1M6 46.5h2m33 0h1m12 0h1m8 0h1M5 47.5h1m15 0h1m6 0h1m10 0h1M15 48.5h1m21 0h1m14 0h1m6 0h1M3 49.5h1m39 0h1M6 50.5h1m10 0h1m5 0h1m7 0h1m12 0h1m12 0h1m3 0h1M9 51.5h1m31 0h1m20 0h1M6 52.5h1m4 0h1m38 0h2m4 0h1M4 53.5h2m14 0h2m7 0h2m5 0h1m14 0h1m8 0h1M7 54.5h1m12 0h1m15 0h1m1 0h1m17 0h1M2 55.5h1m3 0h1m4 0h1m2 0h1m25 0h1m18 0h2m1 0h1M20 56.5h1m1 0h1m4 0h1m5 0h1m4 0h1m12 0h1m4 0h1M1 57.5h1m13 0h1m9 0h1m23 0h1m4 0h1m5 0h1M18 58.5h1m11 0h1m20 0h1m8 0h1M0 59.5h1m9 0h1m5 0h1m21 0h1m2 0h1m1 0h1m11 0h1M0 60.5h1m5 0h1m4 0h1m3 0h1m5 0h1m1 0h1m29 0h1M0 61.5h1m10 0h2m20 0h1m8 0h1m3 0h2M14 62.5h1m2 0h1m3 0h1m4 0h1m9 0h1m6 0h1M1 63.5h1m9 0h1m11 0h1m12 0h1m3 0h1m2 0h1m18 0h2"/><path stroke="#3d4d8a" d="M7 0.5h1m21 0h1m21 0h1m2 0h1m2 0h1m2 0h1M26 1.5h2m18 0h1m1 0h1M3 2.5h1m6 0h1m29 0h1m1 0h2m3 0h1m6 0h1m4 0h1M4 3.5h1m15 0h1m18 0h1m1 0h1m1 0h1m3 0h1m3 0h1m11 0h1M7 4.5h1m1 0h4m2 0h1m20 0h1m3 0h1m10 0h1m10 0h1M14 5.5h1m3 0h1M53 6.5h1m1 0h2M5 7.5h1m7 0h1m4 0h1m5 0h1m2 0h1m1 0h1m4 0h1m2 0h1m7 0h1m9 0h2M0 8.5h1m1 0h1m6 0h1m16 0h1m7 0h1m3 0h1m10 0h1m1 0h1m9 0h1M4 9.5h1m2 0h1m8 0h1m2 0h1m7 0h1m8 0h1m25 0h1M2 10.5h1m8 0h1m18 0h1m6 0h1m4 0h1m18 0h1M2 11.5h1m9 0h1m18 0h1m4 0h1m6 0h1m9 0h1m4 0h1M26 12.5h4m4 0h1m3 0h1m5 0h1m7 0h1m8 0h2M9 13.5h1m14 0h1m11 0h1m8 0h1m5 0h2m4 0h1M0 14.5h3m3 0h1m2 0h1m3 0h1m12 0h1m1 0h1m5 0h1m2 0h1m15 0h1m6 0h1M6 15.5h1m2 0h1m32 0h1m6 0h1m2 0h1m1 0h2M3 16.5h2m12 0h2m16 0h1m24 0h1M8 17.5h1m4 0h1m2 0h1m4 0h1m23 0h1m5 0h1m2 0h1m1 0h1m2 0h1m1 0h1m1 0h1M4 18.5h1m1 0h2m4 0h1m12 0h1m1 0h1m8 0h1m23 0h1M6 19.5h1m6 0h1m34 0h1m1 0h1m6 0h1M13 20.5h2m1 0h1m6 0h1m4 0h1m23 0h1m3 0h1m5 0h2M0 21.5h1m6 0h1m2 0h1m2 0h1m35 0h1m5 0h1M1 22.5h1m9 0h1m3 0h1m17 0h1m20 0h2M9 23.5h1m3 0h1M10 24.5h1m2 0h1m25 0h1m16 0h2M3 25.5h1m13 0h1m26 0h1m10 0h1m1 0h1M6 26.5h1m16 0h1m25 0h1m7 0h1M19 27.5h1m31 0h1M1 28.5h1m18 0h1m25 0h1m16 0h1M48 29.5h1m10 0h1m3 0h1M6 30.5h1m52 0h1M6 31.5h1M5 33.5h1m14 0h1m27 0h1m3 0h2M8 34.5h1m7 0h1M0 35.5h1m6 0h1m3 0h1m1 0h1m5 0h1m1 0h1m22 0h1m10 0h2M2 36.5h1m3 0h1m2 0h1m11 0h1m35 0h1M2 37.5h1m53 0h1M5 38.5h1m24 0h2m5 0h1m9 0h1m8 0h1M4 39.5h1m13 0h1m20 0h1m12 0h1m2 0h2M5 40.5h1m12 0h3m6 0h1M3 41.5h3m4 0h1m2 0h1m37 0h1m8 0h1m1 0h1M7 42.5h1m13 0h1m36 0h1M1 43.5h1m4 0h1m8 0h1m19 0h1m8 0h1m10 0h1m6 0h1M9 44.5h1m21 0h1m11 0h1M5 45.5h1m11 0h1m12 0h1m7 0h1M1 46.5h3m16 0h1m13 0h1m22 0h1M1 47.5h1m2 0h1m3 0h1m16 0h1m11 0h1m5 0h1M2 48.5h1m1 0h1m8 0h2m9 0h1m6 0h1m18 0h1m11 0h2M7 49.5h1m1 0h1m17 0h1m6 0h1m28 0h1M1 50.5h1m2 0h1m4 0h1m3 0h1m20 0h1m8 0h1m16 0h1m2 0h1M2 51.5h1m2 0h1m30 0h1m6 0h1m4 0h2m2 0h1m1 0h1M29 52.5h1m15 0h1m14 0h1m2 0h1M6 53.5h1m4 0h1m2 0h1m26 0h1m6 0h1m10 0h1M0 54.5h1m7 0h1m6 0h1m7 0h3m11 0h1m3 0h1m5 0h1M7 55.5h1m5 0h1m1 0h1m23 0h1m12 0h1m3 0h1m1 0h1M7 56.5h1m55 0h1M2 57.5h1m2 0h1m33 0h1m5 0h1M1 58.5h1m13 0h1m28 0h1m3 0h2m2 0h1m3 0h1M11 59.5h1m5 0h1m5 0h1m4 0h1m4 0h1m2 0h1m2 0h1m6 0h1m2 0h1m6 0h1M2 60.5h1m10 0h1m26 0h1m9 0h1m5 0h1M10 61.5h1m13 0h1m3 0h1m15 0h1m8 0h1M1 62.5h1m8 0h2m15 0h1m16 0h1m18 0h1M6 63.5h1m6 0h1m13 0h1m1 0h1m3 0h1m3 0h1m1 0h1m1 0h1m7 0h1"/><path stroke="#3a538b" d="M5 0.5h1m6 0h1m10 0h1m6 0h1m2 0h1m8 0h1m13 0h1m2 0h1M2 1.5h2m16 0h1m1 0h1m8 0h1m1 0h3m26 0h1M5 2.5h1m2 0h2m4 0h1m13 0h1m9 0h1m10 0h1m5 0h1m5 0h1M1 3.5h1m17 0h1m3 0h1m3 0h1m8 0h1m7 0h1m1 0h1m1 0h1m7 0h1M5 5.5h1m5 0h1m3 0h1m3 0h2m5 0h1m7 0h1m4 0h2m1 0h1m4 0h2m1 0h1m8 0h1M24 6.5h1m6 0h1m1 0h1m13 0h1m11 0h2m2 0h1M8 7.5h1m39 0h1m2 0h1m11 0h1M3 8.5h1m4 0h1m16 0h1m3 0h1m3 0h1m14 0h1m4 0h1M10 9.5h2m1 0h1m10 0h1m10 0h1m2 0h2m5 0h1m13 0h1M3 10.5h1m3 0h2m11 0h1m4 0h1m17 0h2m2 0h1m1 0h1m1 0h2M9 11.5h1m5 0h1m2 0h1m3 0h1m1 0h1m10 0h1m3 0h1m1 0h1m10 0h1M0 12.5h1m6 0h1m5 0h1m9 0h1m16 0h1m6 0h1m3 0h1m8 0h1M0 13.5h1m4 0h1m27 0h1m10 0h1M4 14.5h2m6 0h1m14 0h1m17 0h1m4 0h1m11 0h1M15 15.5h1m2 0h1m8 0h1m6 0h1m11 0h2m3 0h1m6 0h1M13 16.5h1m6 0h1m17 0h1m11 0h1m6 0h1M7 17.5h1M2 18.5h1m7 0h2m4 0h1m2 0h1m20 0h1m8 0h1m3 0h1m1 0h1M7 19.5h1m6 0h1m20 0h1m16 0h1M12 20.5h1m12 0h1m11 0h1m1 0h1M2 21.5h1m3 0h1m4 0h1m25 0h1m2 0h1m1 0h1m1 0h1m2 0h2m5 0h1m6 0h1M26 22.5h2m18 0h1m5 0h1M2 23.5h1m1 0h1m9 0h1m1 0h1m7 0h1m21 0h1M0 24.5h1m1 0h1m4 0h1m11 0h1m33 0h1M9 25.5h1m31 0h1m5 0h1m4 0h1m1 0h1M0 26.5h2m1 0h2m2 0h1m2 0h1m3 0h2m6 0h1m10 0h1M6 27.5h1m4 0h1m30 0h1m13 0h1m4 0h1M3 28.5h1m5 0h1m32 0h1m17 0h2M7 29.5h1m2 0h1m8 0h2m23 0h1m9 0h1m2 0h1M20 30.5h1m31 0h1m1 0h1m7 0h2M1 31.5h1m1 0h2m2 0h1m9 0h1m22 0h1m6 0h1m10 0h2M0 33.5h1m2 0h1m6 0h1m40 0h1m2 0h2M5 34.5h1m11 0h1m1 0h2m36 0h1M5 35.5h1m4 0h1m38 0h1M1 36.5h1m1 0h1m55 0h1M0 37.5h1m5 0h1m12 0h1m37 0h2M3 38.5h1m4 0h1m3 0h1m42 0h1m1 0h1m2 0h2M2 39.5h1m2 0h2m3 0h1m34 0h1m3 0h1m3 0h1M1 40.5h1m2 0h1m6 0h2m1 0h1m13 0h1m5 0h1m11 0h1m12 0h1M7 41.5h1m8 0h1m9 0h1m9 0h1m2 0h1M12 42.5h1m2 0h1m8 0h1m6 0h1m21 0h1m1 0h1M7 43.5h1m10 0h1m19 0h1M3 44.5h1m38 0h1m5 0h1m1 0h1m1 0h1m6 0h1M13 45.5h1m5 0h1m8 0h1m13 0h1m6 0h1m1 0h1m11 0h1M0 46.5h1m16 0h1m10 0h1m1 0h1m6 0h1m4 0h1m3 0h1m1 0h2m12 0h1M9 47.5h1m3 0h1m1 0h1m1 0h1m8 0h1m20 0h1m9 0h1M0 48.5h1m8 0h1m9 0h1m22 0h1m11 0h1m3 0h1m1 0h1M0 49.5h1m4 0h1m14 0h1m5 0h1m4 0h1m10 0h1m1 0h1m2 0h1m5 0h2m5 0h2M8 50.5h1m15 0h1m3 0h2m6 0h1m12 0h1m6 0h1M4 51.5h1m2 0h1m4 0h1m2 0h1m5 0h1m3 0h1m16 0h1m15 0h1M0 52.5h1m12 0h1m2 0h1m4 0h1m2 0h1m8 0h1m2 0h1m20 0h1m3 0h1M8 53.5h1m7 0h1m2 0h1m17 0h1m4 0h1m4 0h1m9 0h1M5 54.5h1m4 0h1m2 0h1m4 0h1m9 0h1m5 0h1m10 0h1m16 0h1M24 55.5h2m4 0h1m7 0h1m3 0h1m3 0h1m1 0h1m1 0h1m2 0h1M1 56.5h1m12 0h1m10 0h1m10 0h1m4 0h1m3 0h1m4 0h1m4 0h1M6 57.5h1m3 0h1m19 0h2m6 0h1m3 0h1m3 0h1m1 0h1m1 0h1m6 0h1M5 58.5h1m16 0h1m4 0h1m8 0h1m6 0h1m18 0h2M3 59.5h1m1 0h2m6 0h1m6 0h1m21 0h1m2 0h1m1 0h1m15 0h1M4 60.5h1m5 0h1m3 0h1m14 0h1m5 0h1m12 0h1m3 0h1m6 0h1M6 61.5h1m1 0h1m8 0h1m8 0h1m7 0h1m1 0h1m24 0h1m1 0h1M0 62.5h1m4 0h1m6 0h1m17 0h1m11 0h1m3 0h1m2 0h1m3 0h1m8 0h1M9 63.5h1m5 0h1m6 0h1m2 0h1m35 0h1"/><path stroke="#375b8d" d="M0 0.5h1m3 0h1m11 0h1m7 0h1m18 0h1m1 0h1m12 0h1M14 1.5h1m6 0h1m8 0h1m12 0h1m17 0h1M0 2.5h1m6 0h1m5 0h1m6 0h1m1 0h1m11 0h1m11 0h1m6 0h1m8 0h2M5 3.5h1m7 0h1m1 0h1m33 0h1M17 4.5h1m1 0h1m5 0h1m1 0h1m13 0h1m2 0h1m1 0h1m5 0h1m1 0h1m1 0h1M2 5.5h2m34 0h1m13 0h1M1 6.5h1m1 0h1m5 0h1m11 0h2m6 0h1m7 0h1m8 0h1M2 7.5h1m3 0h1m9 0h2m4 0h2m9 0h1m4 0h1m2 0h1m5 0h1M4 8.5h1m6 0h1m8 0h1m2 0h1m4 0h1m1 0h2m23 0h1m7 0h1M0 9.5h1m2 0h1m5 0h1m10 0h1m5 0h1m3 0h1m3 0h1m12 0h1M5 10.5h1m3 0h1m6 0h1m22 0h3m6 0h1m4 0h1m3 0h1M1 11.5h1m3 0h1m5 0h1m9 0h1M4 12.5h1m4 0h1m1 0h2m23 0h1m13 0h1m2 0h1m1 0h2M3 13.5h1m10 0h1m31 0h1m6 0h1m8 0h1M15 14.5h3m20 0h1m10 0h1m8 0h1M4 15.5h2m1 0h1m18 0h1m1 0h1m9 0h1m1 0h1m4 0h1m4 0h1m5 0h1m2 0h1m2 0h1M0 16.5h2m25 0h1m14 0h1m10 0h1m2 0h1m1 0h2m2 0h2M2 17.5h1m7 0h1m4 0h1m7 0h1m15 0h2m6 0h1m1 0h1m2 0h1m4 0h2M3 18.5h1m1 0h1m23 0h1m3 0h1m3 0h1m1 0h1m6 0h1M5 19.5h1m3 0h1m36 0h1m2 0h1m3 0h1m2 0h1m4 0h3M1 20.5h1m1 0h2m3 0h1m35 0h1M5 21.5h1m18 0h1m14 0h1m20 0h1M2 22.5h3m3 0h1m8 0h1m27 0h1m1 0h1m5 0h1m9 0h1M12 23.5h1m6 0h1m3 0h1m4 0h2m10 0h3m17 0h1m2 0h1M4 24.5h1m17 0h1m22 0h2m13 0h1m1 0h2M0 25.5h1m5 0h2m8 0h1m6 0h1m15 0h1m5 0h1M12 26.5h1M10 27.5h1m25 0h1m11 0h2m4 0h1m3 0h1m3 0h1M7 28.5h1m32 0h1m8 0h1m5 0h1M6 29.5h1m1 0h1m6 0h1m37 0h1m8 0h1M1 30.5h1m6 0h1m35 0h1M5 31.5h1m2 0h2m4 0h1m26 0h1m6 0h1M1 33.5h1m6 0h1m4 0h1m7 0h1m16 0h1m5 0h1m5 0h1m5 0h2m1 0h1M9 34.5h1m3 0h1m1 0h1m6 0h1m14 0h1m21 0h1M14 35.5h1m30 0h1m14 0h1M12 36.5h1m3 0h2m19 0h1m13 0h1m3 0h1m2 0h1m2 0h1M7 37.5h1m7 0h1m1 0h2m22 0h1m5 0h1m1 0h3m10 0h2M39 38.5h1m4 0h1m1 0h1m4 0h1m1 0h1M0 39.5h1m6 0h1m39 0h1m2 0h2m6 0h1M0 40.5h1m21 0h1m7 0h1m12 0h1m12 0h1M18 41.5h1m6 0h1m4 0h1m14 0h1M2 42.5h1m7 0h1m26 0h1M4 43.5h1m14 0h2m28 0h1m4 0h1m3 0h1M7 44.5h1m11 0h1m1 0h2m1 0h1m22 0h1m7 0h1m2 0h1m1 0h1M33 45.5h2m6 0h1M4 46.5h1m3 0h1m3 0h1m8 0h1m2 0h1m10 0h2m1 0h2m3 0h1m11 0h1m5 0h1M2 47.5h1m4 0h1m23 0h1m6 0h1m2 0h1m7 0h2m4 0h2m3 0h1M3 48.5h1m16 0h1m12 0h1m1 0h1m7 0h1m7 0h1m1 0h1M1 49.5h1m13 0h1m3 0h1m4 0h1m5 0h1m7 0h3m4 0h1m4 0h2m3 0h1m3 0h1M18 50.5h1m1 0h1m4 0h1M19 51.5h1m9 0h1m8 0h1m5 0h1m1 0h1M19 52.5h1m18 0h1m1 0h2m6 0h1m9 0h2m2 0h1M10 53.5h1m23 0h1m8 0h1m12 0h1m5 0h1M4 54.5h1m22 0h1m4 0h1m9 0h2m2 0h1m16 0h1M16 55.5h1m5 0h1m11 0h2m8 0h1M2 56.5h2m11 0h1m12 0h1m1 0h1m9 0h1m1 0h1m10 0h1M11 57.5h1m1 0h1m7 0h1m12 0h1m17 0h1m3 0h1m1 0h1m4 0h1M6 58.5h1m6 0h1m19 0h1m19 0h1M25 59.5h3m1 0h1m5 0h1m22 0h2M9 60.5h1m2 0h1m11 0h1m3 0h1m26 0h1m6 0h1M1 61.5h1m1 0h1m1 0h1m1 0h1m12 0h1m2 0h1m16 0h1m11 0h1m1 0h1M6 62.5h1m2 0h1m9 0h2m18 0h1m1 0h1m3 0h1m1 0h1m3 0h1m3 0h1M5 63.5h1m13 0h1m8 0h1m1 0h1m3 0h1m15 0h1m3 0h1m4 0h1"/><path stroke="#34618d" d="M17 0.5h1m7 0h1m10 0h1m7 0h1m10 0h1M10 1.5h1m12 0h1m14 0h1m3 0h1m7 0h2m1 0h1m3 0h2M2 2.5h1m34 0h1m10 0h1M45 3.5h1m6 0h2m6 0h1M16 4.5h1m7 0h1m4 0h1M25 5.5h1m5 0h1m19 0h1m9 0h1M34 6.5h1m15 0h1M21 7.5h1m13 0h1m22 0h1m3 0h1M10 8.5h1m13 0h1m10 0h1m5 0h1m4 0h2m12 0h1M6 9.5h1m26 0h1M0 10.5h1m20 0h1m28 0h1m7 0h1m1 0h1M13 11.5h1m3 0h1m1 0h1m3 0h1m1 0h1m12 0h1m9 0h2m4 0h2M14 12.5h1m4 0h1m4 0h1m5 0h1m2 0h1m1 0h1m18 0h1m2 0h1m1 0h1M2 13.5h1m53 0h1m2 0h1m3 0h1M25 14.5h1m3 0h1m6 0h1m6 0h2M21 15.5h1m8 0h1m1 0h1m20 0h1M2 16.5h1m16 0h1m6 0h1m2 0h1m3 0h1m5 0h1m9 0h1M3 17.5h1m1 0h1m12 0h3m4 0h2m9 0h1m7 0h1m5 0h1M22 18.5h1m8 0h1m9 0h1m1 0h1m10 0h1M2 19.5h1m13 0h1m7 0h1m1 0h1m11 0h1m2 0h1m17 0h1M2 20.5h1m4 0h1m45 0h2M8 21.5h1m8 0h1m5 0h1m3 0h1m6 0h1m3 0h1m20 0h1M16 22.5h1m20 0h1m5 0h1M1 23.5h1m5 0h1m39 0h1m1 0h1m5 0h1M11 24.5h1m2 0h1m29 0h1m2 0h1m2 0h1M5 25.5h1m15 0h1m9 0h1m4 0h1m11 0h1m2 0h1m9 0h1M9 26.5h1m10 0h1m23 0h1m6 0h1m11 0h1M17 27.5h1m23 0h1M22 28.5h1m39 0h1M9 29.5h1m4 0h1m28 0h1m16 0h1M0 30.5h1m4 0h1m1 0h1m6 0h1m4 0h1m1 0h2m18 0h1m3 0h1m1 0h2m2 0h1m3 0h1m4 0h1M11 31.5h1m12 0h1m27 0h1m1 0h1M4 33.5h1m4 0h1m1 0h1m35 0h1m1 0h1m8 0h1M11 34.5h1m30 0h2m5 0h1m3 0h1M1 35.5h1m10 0h1m3 0h2m4 0h1m4 0h1m18 0h1m6 0h2m7 0h1M4 36.5h1m9 0h1m8 0h1m20 0h1M9 37.5h2m5 0h1m37 0h1m6 0h1M9 38.5h1m1 0h1m4 0h1m24 0h1m1 0h1m19 0h1M12 39.5h1m28 0h1M37 40.5h1m2 0h1m1 0h1m2 0h1m5 0h1m2 0h1m6 0h1M23 41.5h1m19 0h1m5 0h1m6 0h2m1 0h1M1 42.5h1m1 0h1m7 0h1m2 0h1m25 0h1m2 0h1m13 0h1m4 0h1M13 43.5h2m7 0h1m3 0h1m2 0h2m14 0h2m3 0h1m5 0h1M33 44.5h1m4 0h1M23 45.5h1m26 0h1m1 0h1m3 0h1m4 0h1M29 46.5h1m10 0h1m6 0h1M22 47.5h1m4 0h1m6 0h2m8 0h1m3 0h1m9 0h1m4 0h1M5 48.5h2m5 0h1m3 0h1m6 0h1m10 0h1m12 0h1M16 49.5h1m11 0h2m3 0h1m1 0h1m16 0h1M5 50.5h1m8 0h3m2 0h1m21 0h1m10 0h3m4 0h1M1 51.5h1m1 0h1m7 0h1m1 0h1m8 0h1m3 0h2m2 0h1m8 0h1m5 0h1m1 0h1m8 0h1M12 52.5h1m5 0h1m1 0h1m9 0h1m8 0h1m6 0h2m5 0h1m1 0h1M9 53.5h1m2 0h1m9 0h1m16 0h1m14 0h1M1 54.5h1m4 0h1m5 0h1m4 0h1m4 0h1m27 0h1m2 0h1M17 55.5h1m3 0h1m4 0h1m24 0h1m2 0h1M17 56.5h1m16 0h2m7 0h1m4 0h1m3 0h1M7 57.5h1m6 0h1m3 0h1m3 0h1M12 58.5h1m11 0h1m3 0h1m5 0h2m4 0h1m5 0h1M2 59.5h1m12 0h1m8 0h1m6 0h2m21 0h1M16 60.5h1m10 0h1m4 0h1m3 0h1m6 0h1m10 0h1M27 61.5h1m2 0h1m25 0h1m1 0h1M3 62.5h1m9 0h1m11 0h1m2 0h1m3 0h1m7 0h1m15 0h1m2 0h1M17 63.5h1m33 0h1"/><path stroke="#31688e" d="M10 0.5h1m8 0h1m2 0h1M7 1.5h1m24 0h1m6 0h1M25 2.5h1m6 0h1m12 0h1M8 3.5h1m23 0h1M1 4.5h1m19 0h1m10 0h1m4 0h1m11 0h1m8 0h1M21 5.5h1m11 0h1m11 0h1m3 0h1m8 0h1M38 6.5h1m3 0h1m1 0h1m3 0h1m8 0h1M0 7.5h1m39 0h1m1 0h1m6 0h1M27 8.5h1m8 0h1m21 0h1M8 9.5h1m3 0h1m2 0h1m12 0h1m2 0h1M10 10.5h1m13 0h1m2 0h2M3 11.5h1m2 0h2m2 0h1m9 0h1M2 12.5h1m13 0h1m8 0h1m5 0h1m11 0h1M8 13.5h1m16 0h1m3 0h1m4 0h2m12 0h1m5 0h1m3 0h1M32 14.5h2m23 0h1M20 15.5h1m10 0h1m4 0h1m2 0h1m1 0h1m15 0h1m2 0h1M12 16.5h1m11 0h1m3 0h1m11 0h1m10 0h1M27 17.5h1m1 0h1m8 0h1m3 0h2M8 18.5h1m5 0h1m2 0h2m4 0h1m4 0h1m9 0h1M1 19.5h1m9 0h1m8 0h1m8 0h1m1 0h1m15 0h1M10 20.5h2m5 0h1m3 0h1m9 0h1m6 0h1m9 0h1m1 0h2m3 0h1M20 21.5h1m4 0h1m37 0h1M10 22.5h1m2 0h1m9 0h1m6 0h1m11 0h1m5 0h1m2 0h1m10 0h1M22 23.5h1m28 0h1m5 0h1m4 0h1M9 24.5h1m2 0h1m12 0h1m22 0h1m3 0h1m2 0h1m2 0h1M10 25.5h1m9 0h1m28 0h1m9 0h1M5 26.5h1m12 0h1m7 0h1m14 0h1m3 0h1m4 0h1m9 0h2M13 27.5h1m1 0h1m29 0h2M4 28.5h1m8 0h1m1 0h1m3 0h1m1 0h1m1 0h1m26 0h1M1 29.5h1m20 0h1m5 0h1m9 0h1m13 0h1M16 30.5h2m40 0h1M18 31.5h1m2 0h1m1 0h1m26 0h1M17 33.5h1m25 0h1m19 0h1M24 34.5h1m19 0h1m2 0h1m4 0h1M15 35.5h1m4 0h1m21 0h1m15 0h1M7 36.5h1m3 0h1m6 0h1m10 0h1m12 0h1m2 0h2m5 0h1m1 0h1M3 37.5h1m7 0h2m32 0h1m9 0h1M1 38.5h2m7 0h1m3 0h1m4 0h2m17 0h1m10 0h1M15 39.5h1m11 0h1m26 0h1M9 40.5h1m52 0h1M2 41.5h1m9 0h1m8 0h1m6 0h1m5 0h2m8 0h1m2 0h1m6 0h1M16 42.5h1m2 0h1m3 0h1m3 0h2m4 0h1m1 0h1m9 0h1m14 0h1M9 43.5h1m2 0h1m3 0h2m3 0h1m2 0h1m6 0h1m8 0h1m6 0h1m9 0h1M13 44.5h1m26 0h1m3 0h1m8 0h2M7 45.5h1m6 0h1m7 0h1m2 0h1m17 0h1m9 0h1M14 46.5h1m7 0h1m2 0h1m7 0h1m17 0h1m4 0h1M11 47.5h1m24 0h1m3 0h1m5 0h1M8 48.5h1m1 0h1m10 0h1m24 0h1M4 49.5h1m1 0h1m4 0h1m1 0h1m7 0h1m15 0h1m10 0h1M3 50.5h1m26 0h1m4 0h1m4 0h1m7 0h1M14 51.5h1m2 0h1m14 0h1m1 0h1m15 0h1M3 52.5h2m29 0h2m1 0h1m6 0h1m7 0h1M3 53.5h1m20 0h1m1 0h1m4 0h1m18 0h1M35 54.5h1m15 0h1M31 55.5h2m3 0h1m4 0h1M9 56.5h1m27 0h1m1 0h1m9 0h1M9 57.5h1m6 0h1m20 0h1m6 0h1M3 58.5h2m18 0h1m7 0h1M22 59.5h1m25 0h1m3 0h1M1 60.5h1m31 0h1M15 61.5h1m9 0h1m23 0h1m5 0h1M54 62.5h1M3 63.5h1m12 0h1m4 0h1m10 0h1m15 0h1"/><path stroke="#2e6e8e" d="M32 0.5h1M1 1.5h1m57 0h1M2 3.5h1m23 0h1M18 4.5h1m23 0h1M27 5.5h1m4 0h1m24 0h1M7 6.5h1m50 0h1M14 7.5h2m3 0h1M12 8.5h1m2 0h1m16 0h1M18 9.5h1m13 0h1m9 0h1m3 0h1m6 0h1m4 0h1m2 0h1M23 10.5h1m8 0h1m5 0h1m15 0h1m8 0h1M32 11.5h1m27 0h1M20 12.5h1m11 0h1m6 0h1m1 0h1m16 0h1M6 13.5h1m11 0h2m12 0h1m7 0h1M10 14.5h1m7 0h1m2 0h1m8 0h1M12 15.5h2m2 0h2m1 0h1m23 0h1m4 0h1M5 16.5h2m1 0h1m23 0h1m1 0h1m12 0h1m4 0h1M12 17.5h1m4 0h1m6 0h1m9 0h1m11 0h1m6 0h1M15 18.5h1m19 0h1m25 0h1M15 19.5h1m24 0h1m1 0h1m2 0h1M18 20.5h1m5 0h1m1 0h1m2 0h1m3 0h2m6 0h3m1 0h2m2 0h1m8 0h1M21 21.5h1m8 0h1m21 0h1m4 0h1M9 22.5h1m11 0h1m9 0h1m6 0h3M26 23.5h1m5 0h5m1 0h2m3 0h1M5 24.5h1m2 0h1m11 0h1m22 0h1M15 25.5h1m11 0h1m1 0h1m8 0h1m1 0h1m5 0h1m13 0h1M16 26.5h1m2 0h1m20 0h1m2 0h1m12 0h1M5 27.5h1m14 0h1m3 0h1m4 0h1m14 0h1M39 28.5h1m1 0h1m2 0h1m3 0h1m8 0h1M17 29.5h1m7 0h1m24 0h1M18 30.5h1m5 0h1m14 0h1m3 0h1M25 31.5h1m17 0h2m15 0h1M62 32.5h1M12 33.5h1m2 0h1m3 0h1m2 0h1m2 0h1m19 0h2M46 34.5h1m7 0h1M8 35.5h1M5 36.5h1m7 0h1m5 0h1m5 0h1m14 0h1m7 0h1M21 37.5h1m7 0h1M15 38.5h1m2 0h1m15 0h1m13 0h1m3 0h1M17 39.5h1m26 0h1M17 40.5h1m3 0h1m13 0h1M37 41.5h2m14 0h1m9 0h1M25 42.5h2m2 0h2m8 0h1m2 0h1M11 43.5h1m20 0h1m8 0h1m6 0h1m11 0h1M18 44.5h1m4 0h1m4 0h1m3 0h1m1 0h2m5 0h1m3 0h1M16 45.5h1m9 0h1m2 0h1m5 0h2m2 0h1M27 46.5h1m4 0h1m11 0h2M61 47.5h1M26 48.5h1m18 0h1m3 0h1m6 0h2M32 49.5h1m3 0h1m9 0h1M38 50.5h2m6 0h1m8 0h1M6 51.5h1m16 0h1m7 0h1m1 0h1m3 0h1M15 52.5h1m1 0h1m4 0h1m31 0h1M52 53.5h1M11 54.5h1m27 0h1M19 55.5h1m3 0h1M8 56.5h1m14 0h1M23 57.5h2m7 0h1m7 0h1m10 0h1m7 0h1M32 58.5h1m21 0h1M32 61.5h1m27 0h1m1 0h1M31 62.5h1m5 0h1"/><path stroke="#2b748e" d="M24 2.5h1m2 0h1m28 0h1M23 4.5h1M18 6.5h1m13 0h1M17 8.5h1M27 11.5h1m9 0h1m13 0h1M42 12.5h1M20 13.5h1m29 0h1M14 14.5h1m16 0h1m10 0h1M24 15.5h2m7 0h1m3 0h1M9 16.5h1m4 0h1m7 0h1m8 0h1m4 0h2m3 0h1M31 17.5h2m4 0h1M34 18.5h1m7 0h1m4 0h1M18 19.5h1m13 0h1m6 0h1m3 0h1m10 0h1M20 20.5h1m11 0h1M16 21.5h1m2 0h1m9 0h1m2 0h2M5 22.5h1m18 0h1m4 0h1m6 0h1M18 23.5h1M23 24.5h1m6 0h1m20 0h1M21 26.5h1m26 0h1M22 27.5h1m5 0h1m5 0h1m8 0h1m8 0h1M11 28.5h1m12 0h1M13 29.5h1m12 0h1M10 30.5h1m4 0h1m30 0h1m2 0h1M13 31.5h1m37 0h1M0 32.5h2m13 0h1m9 0h1m21 0h2m4 0h1m9 0h1M26 33.5h1M21 34.5h1m19 0h1M24 35.5h1m6 0h1m8 0h2m6 0h1m1 0h1M22 36.5h1m1 0h1m7 0h1m16 0h1M44 37.5h1m3 0h1M22 38.5h1M16 39.5h1m6 0h2m9 0h1m2 0h1m2 0h1m5 0h1M23 40.5h2m7 0h1M19 41.5h2m3 0h1M50 42.5h1M37 43.5h1m13 0h1M8 44.5h1m3 0h1m3 0h1m9 0h2m8 0h1m12 0h1M32 45.5h1m7 0h1m3 0h1m1 0h1M13 46.5h1m36 0h1M19 47.5h1m3 0h1m8 0h1M22 48.5h1m4 0h1m4 0h1M14 49.5h1M11 50.5h1m20 0h1m14 0h1m2 0h2m10 0h1M35 51.5h1m17 0h1M28 52.5h1m3 0h1M13 53.5h1m13 0h2m3 0h1M57 54.5h1M32 56.5h1M7 59.5h1M21 61.5h1m37 0h1M35 62.5h1"/><path stroke="#297b8e" d="M32 7.5h1M12 13.5h1m9 0h1m37 0h1M54 14.5h1M44 16.5h1M33 17.5h1M26 18.5h1m3 0h1m1 0h1M25 19.5h1m4 0h1M18 21.5h1m9 0h1m6 0h2m4 0h1M22 22.5h1m21 0h1M11 23.5h1m15 0h1M17 24.5h1m9 0h1m8 0h1M13 25.5h1m5 0h1M8 26.5h1m21 0h1m11 0h1M23 27.5h1m13 0h1m2 0h1M45 28.5h1M21 29.5h1m18 0h2m7 0h1M38 30.5h1m1 0h1M2 32.5h4m1 0h3m1 0h2m4 0h1m1 0h1m18 0h1m2 0h1m2 0h2m3 0h1m2 0h1m3 0h1m1 0h1m1 0h1M18 33.5h1M23 34.5h1m2 0h1m3 0h1m5 0h1m14 0h1M47 36.5h1M23 37.5h3m6 0h1m6 0h1m3 0h1M25 38.5h1M13 39.5h1m19 0h1M16 40.5h1m9 0h1m14 0h1M32 41.5h1m15 0h1M18 42.5h1M33 43.5h1m8 0h1M25 44.5h1M45 45.5h1M30 47.5h1m2 0h1M28 48.5h1m11 0h1m7 0h1M10 51.5h1M10 52.5h1M38 53.5h1M44 56.5h1"/><path stroke="#26818e" d="M35 17.5h1M27 19.5h1m16 0h1M19 20.5h1m10 0h1m4 0h1M43 21.5h1M20 22.5h1m7 0h1m3 0h1m1 0h1M30 23.5h1M26 24.5h1m7 0h1M37 25.5h1M24 26.5h1m14 0h1M16 27.5h1m9 0h1M38 28.5h1M26 30.5h1M19 31.5h1m2 0h1m14 0h1M10 32.5h1m2 0h1m6 0h1m19 0h1m2 0h1m6 0h2m5 0h1m1 0h1M23 33.5h1m16 0h1M40 34.5h1M23 35.5h1m19 0h1M31 36.5h1m7 0h1m1 0h1M22 37.5h1m4 0h1M24 38.5h1m1 0h1m13 0h1M19 39.5h1m2 0h1m2 0h2m1 0h1m3 0h1m5 0h1M36 40.5h1m7 0h1M22 41.5h1m6 0h1m12 0h1M32 42.5h1m5 0h1M27 43.5h1m8 0h1M29 47.5h1M22 49.5h1M33 55.5h1"/><path stroke="#24878e" d="M31 23.5h1M28 24.5h1m6 0h1M22 25.5h1m2 0h2m8 0h1m6 0h1M28 26.5h2m5 0h2m1 0h1M38 27.5h1M25 28.5h2M23 29.5h1M42 30.5h1M36 31.5h1m5 0h1M6 32.5h1m7 0h1m1 0h1m7 0h1m1 0h1m12 0h1m6 0h1m8 0h1m5 0h1M37 33.5h1M36 37.5h1M21 38.5h1m1 0h1m3 0h1M29 39.5h1m1 0h1m4 0h1M31 40.5h1m1 0h1m5 0h1M31 41.5h1m1 0h1m6 0h1M36 42.5h1M43 43.5h1M31 46.5h1"/><path stroke="#228d8d" d="M24 24.5h1m8 0h1m6 0h1M24 25.5h1m3 0h1m1 0h1M27 26.5h1m4 0h1M24 29.5h1m6 0h1M23 30.5h1M28 31.5h1m10 0h1M18 32.5h1m2 0h3m3 0h1m14 0h1m11 0h1M39 33.5h1M39 34.5h1M26 35.5h1M26 36.5h1M26 37.5h1m3 0h1m9 0h1M30 39.5h1M25 40.5h1m12 0h1M27 41.5h1M34 42.5h1"/><path stroke="#20938c" d="M25 23.5h1M32 25.5h1m1 0h1M25 27.5h1m1 0h1m4 0h2M28 28.5h1M26 31.5h1m2 0h1M36 32.5h1M28 34.5h1m9 0h1M25 35.5h1M28 36.5h1m6 0h1m2 0h1M28 37.5h1m9 0h1M33 38.5h1M20 44.5h1"/><path stroke="#1f998a" d="M31 24.5h1M25 26.5h1m5 0h1m5 0h1M31 27.5h1m7 0h1M31 28.5h1M39 29.5h1M25 30.5h1M27 31.5h1M37 32.5h1M25 34.5h1M29 35.5h1m8 0h2M27 36.5h1M28 38.5h2m2 0h1"/><path stroke="#1fa088" d="M32 24.5h1M33 25.5h1M34 26.5h1M29 28.5h1m6 0h1M37 29.5h1M27 30.5h5M32 31.5h1m2 0h1M28 33.5h1M33 35.5h1m2 0h2M36 36.5h1M33 37.5h1M36 38.5h1"/><path stroke="#21a585" d="M27 28.5h1m4 0h1M27 29.5h1m1 0h1m4 0h1m1 0h1M37 30.5h1M38 31.5h1M27 33.5h1M27 34.5h1m4 0h1"/><path stroke="#25ac82" d="M30 27.5h1m4 0h1M37 28.5h1M32 29.5h1M36 30.5h1M28 32.5h1M29 34.5h1M28 35.5h1M30 36.5h1m3 0h1M31 37.5h1m2 0h2m1 0h1"/><path stroke="#2db27d" d="M30 28.5h1m2 0h1M30 29.5h1m2 0h1m1 0h1M34 30.5h1M29 32.5h1m4 0h2M29 33.5h1m4 0h1M33 34.5h1M32 35.5h1m2 0h1M35 38.5h1"/><path stroke="#35b779" d="M34 28.5h2M35 30.5h1M30 31.5h1M34 35.5h1M33 36.5h1"/><path stroke="#40bd72" d="M30 33.5h1m4 0h2M35 34.5h1M30 35.5h1"/><path stroke="#4cc26c" d="M32 30.5h2M34 31.5h1M31 32.5h1M32 33.5h1M31 34.5h1"/><path stroke="#5ac864" d="M30 32.5h1m2 0h1M34 34.5h1"/><path stroke="#67cc5c" d="M31 31.5h1M31 33.5h1"/><path stroke="#77d153" d="M33 31.5h1M33 33.5h1"/><path stroke="#fde725" d="M32 32.5h1"/></g></svg><svg class="p" style="left:1350.0px;top:2611.0px" width="371.5" height="380.0" viewBox="0 0 32 32" preserveAspectRatio="none"><g fill="none" stroke-width="1.02"><path stroke="#440154" d="M13 0.5h1m10 0h1m5 0h1M4 1.5h1m2 0h1M4 2.5h1m3 0h1M17 3.5h1M0 4.5h1m22 0h1M2 5.5h1M31 7.5h1M2 23.5h1M27 24.5h1M28 26.5h1M8 28.5h1M13 29.5h1m13 0h1M0 30.5h1m5 0h1m3 0h1M4 31.5h1m1 0h2"/><path stroke="#460a5d" d="M6 1.5h1m23 0h1M19 2.5h1m9 0h1M1 3.5h1m2 0h1M28 4.5h1M25 5.5h1M25 6.5h1M25 7.5h1M6 8.5h1m24 0h1M27 13.5h1M29 19.5h1M3 21.5h1M25 27.5h1M11 31.5h1"/><path stroke="#481467" d="M5 0.5h1m12 0h1M22 5.5h1M4 8.5h1M31 9.5h1M0 17.5h1M1 18.5h1M1 21.5h1M1 22.5h1M1 23.5h1m1 0h1m24 0h1M4 24.5h1m25 0h1M24 25.5h1M0 28.5h1M9 29.5h1m18 0h1M3 30.5h1m18 0h1M13 31.5h1"/><path stroke="#481c6e" d="M2 0.5h1M20 3.5h1M9 4.5h1m19 0h1M17 6.5h1M5 7.5h1M23 8.5h1M0 18.5h1M2 20.5h1M9 23.5h1M9 24.5h1m21 0h1M3 25.5h1m7 0h1M5 26.5h1M30 27.5h1M7 28.5h1M28 30.5h1"/><path stroke="#482576" d="M23 0.5h1m7 0h1M3 1.5h1M0 2.5h1m2 0h1M19 3.5h1m11 0h1M21 4.5h1M11 5.5h1M29 6.5h1M7 7.5h1M30 8.5h1M3 9.5h1M0 10.5h1M6 11.5h1M25 13.5h1M29 14.5h1M25 17.5h1M24 21.5h1m6 0h1M3 22.5h1m21 0h1m1 0h1M19 25.5h1M0 27.5h1m6 0h1M6 28.5h1M20 29.5h1M18 31.5h1m4 0h1m4 0h1"/><path stroke="#472d7b" d="M3 0.5h1m15 0h1M13 1.5h1m11 0h1M6 2.5h1m18 0h1M3 3.5h1m25 0h1M0 5.5h1m18 0h1m11 0h1M11 8.5h1M1 9.5h1m28 0h1M9 11.5h1M0 19.5h1m29 0h1M31 22.5h1M4 23.5h1M0 25.5h1m12 0h1M12 26.5h1m18 0h1M12 29.5h1M7 30.5h2m12 0h1m3 0h1M2 31.5h1m27 0h1"/><path stroke="#453581" d="M4 0.5h1m5 0h1m6 0h1m10 0h1M5 1.5h1m5 0h1M21 2.5h2m7 0h1M3 4.5h1m10 0h1m16 0h1M1 5.5h1m6 0h1m20 0h1M0 6.5h1m26 0h1M3 7.5h1M0 9.5h1m28 0h1M0 11.5h1m7 0h1m16 0h1m4 0h1M3 12.5h1M30 13.5h1M29 18.5h1M4 19.5h1M28 20.5h1M10 21.5h1M28 22.5h1M31 23.5h1M0 24.5h2M26 25.5h1M9 26.5h1m11 0h1M1 27.5h1m17 0h1m1 0h1M29 29.5h2M17 30.5h1m5 0h1M25 31.5h1m1 0h1"/><path stroke="#433d84" d="M1 0.5h1m4 0h2m12 0h1M9 1.5h1m5 0h1m6 0h1m6 0h1M1 2.5h1m29 0h1M0 3.5h1M10 4.5h3m4 0h1M4 5.5h2m24 0h1M2 6.5h1m2 0h1m20 0h1M0 7.5h2m28 0h1M5 8.5h1M5 9.5h2m17 0h1M2 10.5h1m1 0h1m1 0h1m14 0h1m4 0h1M23 11.5h1M0 13.5h1m1 0h1m1 0h1M0 14.5h1m5 0h1m2 0h1M0 15.5h1m22 0h1m1 0h1m3 0h1M2 18.5h1m23 0h1m3 0h1M3 19.5h1m3 0h1m20 0h1M6 20.5h1M4 22.5h1m2 0h1M24 23.5h1m4 0h1M28 24.5h1M4 25.5h1M4 26.5h1m20 0h1m1 0h1M4 27.5h2M27 28.5h1M2 29.5h2m1 0h1m1 0h1m2 0h1m12 0h1m1 0h2m4 0h1M2 30.5h1m8 0h1M3 31.5h1m1 0h1m8 0h1m5 0h1"/><path stroke="#404588" d="M0 0.5h1m7 0h1m3 0h1m2 0h1m13 0h1M26 1.5h1M5 2.5h1m10 0h1M14 3.5h1m7 0h1m3 0h1M2 4.5h1m1 0h1m8 0h1m10 0h1M4 6.5h1m9 0h1m4 0h1m2 0h1M8 7.5h1m1 0h1m15 0h1M0 8.5h1m2 0h1m22 0h1M20 9.5h1M1 10.5h1M3 11.5h1m3 0h1m20 0h1M4 12.5h1m22 0h1m3 0h1M1 14.5h1m1 0h1M26 15.5h1M3 18.5h1M31 19.5h1M29 20.5h1M2 21.5h1m1 0h1m3 0h1M2 22.5h1m21 0h1m5 0h1M0 23.5h1m4 0h1m24 0h1M2 24.5h1M3 26.5h1m26 0h1M12 27.5h1m10 0h1m4 0h1M3 28.5h1m9 0h1M1 29.5h1m12 0h1m2 0h1M19 30.5h1m6 0h1M1 31.5h1m6 0h1m7 0h1m5 0h1m8 0h1"/><path stroke="#3d4d8a" d="M22 0.5h1M0 1.5h1m1 0h1m7 0h1m1 0h1m1 0h1m3 0h1m4 0h2m3 0h1M10 2.5h1m4 0h1M9 3.5h2m12 0h1m4 0h1M5 4.5h1M7 5.5h1m8 0h1M6 6.5h1m6 0h1m16 0h2M6 7.5h1m5 0h1m6 0h1M24 8.5h1M2 9.5h1m1 0h1m21 0h1M19 10.5h1m8 0h1M2 11.5h1M0 12.5h1m27 0h1M8 13.5h1m19 0h1M30 14.5h1M27 15.5h1M28 17.5h1M27 18.5h1M1 20.5h1M0 21.5h1M0 22.5h1m4 0h2M10 23.5h1M7 24.5h1m18 0h1M1 25.5h1m4 0h1m1 0h1m3 0h1m9 0h1M1 26.5h1m4 0h1M14 27.5h1m12 0h1M11 28.5h1m13 0h1M11 29.5h1M4 30.5h1m4 0h1m3 0h1m15 0h2M10 31.5h1"/><path stroke="#3a538b" d="M1 1.5h1m19 0h1m5 0h1m3 0h1M7 2.5h1m1 0h1m8 0h1m1 0h1m2 0h1m3 0h2M13 3.5h1m4 0h1m2 0h1m3 0h1M1 4.5h1m4 0h3m16 0h1M13 5.5h1m13 0h1M3 6.5h1m5 0h2M4 7.5h1m13 0h1m3 0h1m1 0h1m3 0h2M1 8.5h1m6 0h1m3 0h1m15 0h2M18 10.5h1M31 11.5h1M6 12.5h1m16 0h1m1 0h1M3 13.5h1M31 14.5h1M1 15.5h1m2 0h1m1 0h1m23 0h1M3 17.5h1m2 0h1m19 0h1m4 0h1M31 18.5h1M2 19.5h1M0 20.5h1m20 0h1m4 0h1m3 0h2M11 21.5h1m17 0h2M14 22.5h1m8 0h1m2 0h1M3 24.5h1m4 0h1m16 0h1M2 25.5h1m4 0h1m19 0h1m1 0h1m1 0h1M0 26.5h1m7 0h1m1 0h1m13 0h1m4 0h1M3 27.5h1m18 0h1m1 0h1m4 0h1M1 28.5h1m2 0h1m9 0h1m2 0h1M16 29.5h1m5 0h1m1 0h1M1 30.5h1m3 0h1m6 0h1m11 0h1m6 0h1M9 31.5h1m9 0h1m9 0h1"/><path stroke="#375b8d" d="M11 0.5h1m14 0h1M16 1.5h1m2 0h2M12 2.5h1m1 0h1m2 0h1m6 0h1M5 3.5h1m6 0h1m3 0h1m10 0h1M22 4.5h1m4 0h1M3 5.5h1m5 0h1m10 0h1m2 0h2m1 0h1m1 0h1M8 6.5h1m7 0h1m1 0h1m5 0h1M11 7.5h1m5 0h1m5 0h1M17 8.5h1m3 0h1M25 9.5h1M8 10.5h1m11 0h1M1 11.5h1m9 0h1M1 12.5h2m27 0h1M6 13.5h1m13 0h1m5 0h1m4 0h1M4 14.5h2M31 15.5h1M2 17.5h1m1 0h1m24 0h2M4 18.5h1m3 0h1m19 0h1M12 19.5h1m14 0h1M3 20.5h3m21 0h1M6 21.5h1m20 0h1M17 22.5h1M27 23.5h1M24 24.5h1M30 25.5h1M2 26.5h1M9 27.5h1m3 0h1m17 0h1M2 28.5h1m7 0h1m11 0h1m1 0h1m3 0h1m2 0h1M0 29.5h1m5 0h1m1 0h1m12 0h1M18 30.5h1m1 0h1m6 0h1M0 31.5h1m20 0h1m4 0h1"/><path stroke="#34618d" d="M9 0.5h1m11 0h1m5 0h1M8 1.5h1M13 2.5h1M6 3.5h1m4 0h1m3 0h1M16 4.5h1M17 5.5h2m2 0h1M1 6.5h1m13 0h1m7 0h1m4 0h1M16 7.5h1m4 0h1m5 0h1M7 8.5h1m2 0h1m9 0h1M7 9.5h1m20 0h1M3 10.5h1m1 0h1M26 11.5h2M5 12.5h1m16 0h1m3 0h1m2 0h1M24 13.5h1m4 0h1M7 14.5h1m16 0h1M3 15.5h1m3 0h1m20 0h1M5 19.5h1M7 20.5h1M7 21.5h1M21 22.5h1M11 23.5h1M5 24.5h1m11 0h1m5 0h1M5 25.5h1m3 0h1m11 0h1m1 0h1M7 26.5h1m3 0h1m2 0h1m1 0h1m2 0h2m2 0h1M2 27.5h1m5 0h1m7 0h2m2 0h1m5 0h1M12 28.5h1m2 0h2m1 0h1m1 0h2m1 0h1m5 0h1M18 29.5h2M15 30.5h1M12 31.5h1m4 0h1m6 0h1"/><path stroke="#31688e" d="M14 0.5h1m1 0h1m8 0h1M17 1.5h1M11 2.5h1m14 0h1M2 3.5h1m4 0h1M15 4.5h1m2 0h2M12 5.5h1m1 0h1M12 6.5h1M13 7.5h1m6 0h1M2 8.5h1m19 0h1M8 9.5h1m1 0h1m1 0h1m6 0h1m3 0h1M7 10.5h1m2 0h1m14 0h1m5 0h1M24 11.5h1M1 13.5h1M2 14.5h1m23 0h3M2 15.5h1m2 0h1m2 0h2M27 17.5h1M5 18.5h1m1 0h1M1 19.5h1m4 0h1M24 20.5h1M5 21.5h1m3 0h1m16 0h1m1 0h1M29 22.5h1M13 23.5h1m12 0h1M10 24.5h1m4 0h1m13 0h1M10 25.5h1m5 0h1m11 0h1M13 26.5h1m4 0h1m3 0h1m3 0h1M6 27.5h1m3 0h1m7 0h1M5 28.5h1m3 0h1M4 29.5h1M14 30.5h1M15 31.5h1"/><path stroke="#2e6e8e" d="M8 3.5h1m15 0h1m5 0h1M20 4.5h1m5 0h1m3 0h1M6 5.5h1m3 0h1m4 0h1M21 6.5h1M2 7.5h1m6 0h1M15 8.5h1m9 0h1M15 9.5h1M12 10.5h1m9 0h1m4 0h1m1 0h2M5 11.5h1M19 12.5h1M5 13.5h1m1 0h1M0 16.5h1m3 0h1m1 0h1m23 0h1M1 17.5h1m3 0h1m4 0h1m13 0h1M6 18.5h1m11 0h1M8 19.5h1M8 20.5h2M12 21.5h1m8 0h1m1 0h1M16 22.5h1m2 0h2M6 23.5h1m1 0h1m10 0h1m2 0h1m2 0h1M6 24.5h1m5 0h1m3 0h1m1 0h3m1 0h1M17 25.5h1m7 0h1M15 27.5h1M30 28.5h1M15 29.5h1M16 30.5h1"/><path stroke="#2b748e" d="M7 6.5h1m3 0h1m8 0h1M9 8.5h1m4 0h1m3 0h2m7 0h1M16 9.5h1m10 0h1M19 11.5h1m1 0h1m7 0h1M7 12.5h1M20 14.5h1M5 16.5h1m19 0h1m1 0h1m1 0h1m1 0h1M25 18.5h1M9 19.5h1m10 0h1m2 0h1M25 20.5h1M22 21.5h1M8 22.5h1m1 0h1m4 0h1m2 0h1m3 0h1M23 23.5h1M14 24.5h1M18 25.5h1M19 28.5h1m6 0h1"/><path stroke="#297b8e" d="M2 2.5h1M15 7.5h1M9 9.5h1m11 0h1M4 11.5h1m15 0h1m1 0h1M8 12.5h1M8 14.5h1m1 0h1m4 0h1m7 0h1M20 15.5h1m1 0h1m1 0h1M1 16.5h1m1 0h1m3 0h1m1 0h1m2 0h1m10 0h1m4 0h1M7 17.5h1M16 21.5h1m2 0h1M11 22.5h1M7 23.5h1m13 0h1M21 24.5h1M14 25.5h1m5 0h1M15 26.5h1M11 27.5h1"/><path stroke="#26818e" d="M14 7.5h1M16 8.5h1M11 9.5h1m6 0h1m3 0h1M9 10.5h1m1 0h1m4 0h1m6 0h2M10 11.5h1m1 0h1M9 12.5h1M21 13.5h1m1 0h1M11 14.5h1M2 16.5h1m5 0h1m15 0h1M8 17.5h2m1 0h1M9 18.5h1m13 0h1M21 19.5h2m1 0h2M11 20.5h1M18 21.5h1m1 0h1m4 0h1M12 23.5h1m3 0h1M11 24.5h1m1 0h1M17 26.5h1"/><path stroke="#24878e" d="M13 9.5h1m3 0h1M14 10.5h1m2 0h1M15 11.5h1M13 12.5h1M9 13.5h1m1 0h1M16 14.5h1m8 0h1M26 16.5h1M18 17.5h1m1 0h1M11 18.5h1m5 0h1m1 0h1m4 0h1M10 19.5h2m14 0h1M12 20.5h1m10 0h1M12 22.5h1M14 23.5h1m3 0h1m1 0h1"/><path stroke="#228d8d" d="M14 9.5h1M14 11.5h1M10 12.5h3m8 0h1M13 13.5h1M22 14.5h1M14 15.5h1M22 16.5h1M23 17.5h1M12 18.5h1m7 0h1M14 19.5h1M16 20.5h1m5 0h1M9 22.5h1M17 23.5h1M15 25.5h1"/><path stroke="#20938c" d="M13 8.5h1M15 10.5h1M16 11.5h1M14 12.5h1m1 0h2m6 0h1M12 13.5h1m9 0h1M10 15.5h1m2 0h1m4 0h1m2 0h1M10 16.5h1m4 0h1M22 17.5h1M22 18.5h1M18 19.5h1M10 20.5h1m7 0h1m1 0h1M13 21.5h1m1 0h1m1 0h1M15 23.5h1"/><path stroke="#1f998a" d="M13 11.5h1M20 12.5h1M19 14.5h1M16 15.5h1M21 16.5h1M14 17.5h1M10 18.5h1m2 0h1M14 21.5h1M13 22.5h1"/><path stroke="#1fa088" d="M13 10.5h1M17 11.5h1M16 13.5h1M12 15.5h1M13 16.5h1m6 0h1M21 17.5h1M15 18.5h1M16 19.5h1M13 20.5h1m1 0h1m3 0h1"/><path stroke="#21a585" d="M15 12.5h1M19 13.5h1M13 14.5h1m7 0h1M12 17.5h1m2 0h1m3 0h1M21 18.5h1M15 19.5h1M14 20.5h1"/><path stroke="#25ac82" d="M18 12.5h1M10 13.5h1m3 0h2M12 14.5h1M11 15.5h1m7 0h1M11 16.5h1m7 0h1M16 18.5h1M13 19.5h1M17 20.5h1"/><path stroke="#2db27d" d="M18 11.5h1M17 13.5h1M17 14.5h1M15 15.5h1M17 16.5h1M13 17.5h1M19 19.5h1"/><path stroke="#35b779" d="M14 14.5h1m3 0h1M14 16.5h1m3 0h1M14 18.5h1"/><path stroke="#40bd72" d="M18 13.5h1M17 15.5h1M17 19.5h1"/><path stroke="#4cc26c" d="M16 17.5h2"/><path stroke="#fde725" d="M16 16.5h1"/></g></svg><svg class="p" style="left:1786.8px;top:2611.0px" width="371.0" height="380.5" viewBox="0 0 16 16" preserveAspectRatio="none"><g fill="none" stroke-width="1.02"><path stroke="#460a5d" d="M0 3.5h1m13 0h1M15 6.5h1M1 10.5h1M0 13.5h1m1 0h1M1 15.5h1"/><path stroke="#482576" d="M5 0.5h2m3 0h2M1 1.5h1m13 0h1M14 5.5h1M5 6.5h1M11 10.5h1M2 11.5h1"/><path stroke="#453581" d="M0 0.5h1m7 0h1M0 1.5h1m10 0h1M13 2.5h1M5 3.5h1M0 4.5h1m2 0h1m11 0h1M1 5.5h1m13 0h1M0 8.5h1M1 11.5h1M0 12.5h1m4 0h1m7 0h1M11 13.5h1M1 14.5h3M0 15.5h1m4 0h2m8 0h1"/><path stroke="#404588" d="M2 0.5h1m11 0h1M3 1.5h4m3 0h1m2 0h2M0 2.5h2m4 0h1m3 0h1m3 0h2M2 3.5h1m1 0h1m8 0h1M11 4.5h1M13 5.5h1M4 6.5h1M2 7.5h1M14 9.5h1M12 10.5h1m2 0h1M3 11.5h1m11 0h1M1 12.5h1m1 0h1M0 14.5h1m9 0h1m2 0h3M10 15.5h4"/><path stroke="#3a538b" d="M1 0.5h1m1 0h1m9 0h1m1 0h1M9 1.5h1M2 2.5h2M1 3.5h1m8 0h1m4 0h1M1 4.5h1m3 0h1m7 0h2M0 5.5h1m2 0h2M1 6.5h1m10 0h1M13 7.5h1M3 9.5h1M4 10.5h1m9 0h1M0 11.5h1m11 0h2M2 12.5h1m8 0h1m3 0h1M1 13.5h1m1 0h1m2 0h1m5 0h1m1 0h2M6 14.5h1M2 15.5h3m2 0h2"/><path stroke="#34618d" d="M4 0.5h1m7 0h1M2 1.5h1m4 0h2m3 0h1M4 2.5h2m1 0h1m3 0h2M3 3.5h1m2 0h1m2 0h1m1 0h1M2 4.5h1m1 0h1m7 0h1M2 5.5h1m3 0h1m4 0h1M2 6.5h1m8 0h1m1 0h1M5 7.5h1m4 0h1m3 0h1M2 9.5h1m3 0h1m4 0h1M0 10.5h1m2 0h1m1 0h1m7 0h1M5 11.5h1m4 0h1m3 0h1M4 12.5h1m7 0h1m1 0h1M5 13.5h1m7 0h1M4 14.5h2m3 0h1m1 0h2M9 15.5h1m4 0h1"/><path stroke="#2e6e8e" d="M8 2.5h2M12 3.5h1M9 5.5h2m1 0h1M0 6.5h1m2 0h1M0 7.5h2M4 11.5h1m1 0h2m3 0h1M4 13.5h1m2 0h1m2 0h1M7 14.5h2"/><path stroke="#297b8e" d="M7 0.5h1m1 0h1M6 4.5h2M5 5.5h1M6 6.5h1M3 7.5h2m2 0h1m1 0h1m2 0h1m2 0h1M14 8.5h1M4 9.5h1m2 0h1m7 0h1M10 10.5h1M8 11.5h1M9 12.5h2"/><path stroke="#24878e" d="M7 3.5h2M10 4.5h1M7 6.5h1m2 0h1m3 0h1M2 8.5h1M0 9.5h2m7 0h1m3 0h1M2 10.5h1m3 0h1M6 12.5h1"/><path stroke="#20938c" d="M8 4.5h2M8 5.5h1M11 7.5h1M7 8.5h1m1 0h1m3 0h1M12 9.5h1M7 10.5h1m1 0h1M7 12.5h2M8 13.5h1"/><path stroke="#1fa088" d="M8 6.5h2M1 8.5h1m1 0h4m3 0h3m2 0h1M5 9.5h1m2 0h1m1 0h1M8 10.5h1M9 11.5h1M9 13.5h1"/><path stroke="#25ac82" d="M7 5.5h1M6 7.5h1m1 0h1"/><path stroke="#fde725" d="M8 8.5h1"/></g></svg><svg class="ov" width="2238" height="4120" style="position:absolute;left:0;top:0"><line x1="408.0" y1="225.4" x2="451.0" y2="225.4" stroke="#000" stroke-width="2.2"/><polygon points="471.0,225.4 449.0,213.9 449.0,236.9" fill="#000"/><line x1="844.0" y1="225.4" x2="887.0" y2="225.4" stroke="#000" stroke-width="2.2"/><polygon points="907.0,225.4 885.0,213.9 885.0,236.9" fill="#000"/><line x1="1279.0" y1="225.4" x2="1323.0" y2="225.4" stroke="#000" stroke-width="2.2"/><polygon points="1343.0,225.4 1321.0,213.9 1321.0,236.9" fill="#000"/><line x1="1715.0" y1="225.4" x2="1759.0" y2="225.4" stroke="#000" stroke-width="2.2"/><polygon points="1779.0,225.4 1757.0,213.9 1757.0,236.9" fill="#000"/><line x1="429.0" y1="729.5" x2="470.0" y2="729.5" stroke="#000" stroke-width="2.2"/><polygon points="409.0,729.5 431.0,718.0 431.0,741.0" fill="#000"/><line x1="862.0" y1="729.5" x2="905.0" y2="729.5" stroke="#000" stroke-width="2.2"/><polygon points="842.0,729.5 864.0,718.0 864.0,741.0" fill="#000"/><line x1="1297.0" y1="729.5" x2="1339.0" y2="729.5" stroke="#000" stroke-width="2.2"/><polygon points="1277.0,729.5 1299.0,718.0 1299.0,741.0" fill="#000"/><line x1="1731.0" y1="729.5" x2="1775.0" y2="729.5" stroke="#000" stroke-width="2.2"/><polygon points="1711.0,729.5 1733.0,718.0 1733.0,741.0" fill="#000"/><line x1="413.0" y1="1285.4" x2="456.0" y2="1285.4" stroke="#000" stroke-width="2.2"/><polygon points="476.0,1285.4 454.0,1273.9 454.0,1296.9" fill="#000"/><line x1="849.0" y1="1285.4" x2="892.0" y2="1285.4" stroke="#000" stroke-width="2.2"/><polygon points="912.0,1285.4 890.0,1273.9 890.0,1296.9" fill="#000"/><line x1="1284.0" y1="1285.4" x2="1328.0" y2="1285.4" stroke="#000" stroke-width="2.2"/><polygon points="1348.0,1285.4 1326.0,1273.9 1326.0,1296.9" fill="#000"/><line x1="1720.0" y1="1285.4" x2="1763.0" y2="1285.4" stroke="#000" stroke-width="2.2"/><polygon points="1783.0,1285.4 1761.0,1273.9 1761.0,1296.9" fill="#000"/><line x1="433.0" y1="1795.8" x2="473.0" y2="1795.8" stroke="#000" stroke-width="2.2"/><polygon points="413.0,1795.8 435.0,1784.3 435.0,1807.3" fill="#000"/><line x1="866.0" y1="1795.8" x2="910.0" y2="1795.8" stroke="#000" stroke-width="2.2"/><polygon points="846.0,1795.8 868.0,1784.3 868.0,1807.3" fill="#000"/><line x1="1303.0" y1="1795.8" x2="1348.0" y2="1795.8" stroke="#000" stroke-width="2.2"/><polygon points="1283.0,1795.8 1305.0,1784.3 1305.0,1807.3" fill="#000"/><line x1="1740.0" y1="1795.8" x2="1784.0" y2="1795.8" stroke="#000" stroke-width="2.2"/><polygon points="1720.0,1795.8 1742.0,1784.3 1742.0,1807.3" fill="#000"/><line x1="413.0" y1="2319.0" x2="457.6" y2="2319.0" stroke="#000" stroke-width="2.2"/><polygon points="477.6,2319.0 455.6,2307.5 455.6,2330.5" fill="#000"/><line x1="849.0" y1="2319.0" x2="893.6" y2="2319.0" stroke="#000" stroke-width="2.2"/><polygon points="913.6,2319.0 891.6,2307.5 891.6,2330.5" fill="#000"/><line x1="1286.0" y1="2319.0" x2="1330.0" y2="2319.0" stroke="#000" stroke-width="2.2"/><polygon points="1350.0,2319.0 1328.0,2307.5 1328.0,2330.5" fill="#000"/><line x1="1722.0" y1="2319.0" x2="1766.8" y2="2319.0" stroke="#000" stroke-width="2.2"/><polygon points="1786.8,2319.0 1764.8,2307.5 1764.8,2330.5" fill="#000"/><line x1="433.0" y1="2812.2" x2="474.4" y2="2812.2" stroke="#000" stroke-width="2.2"/><polygon points="413.0,2812.2 435.0,2800.7 435.0,2823.7" fill="#000"/><line x1="867.0" y1="2812.2" x2="913.2" y2="2812.2" stroke="#000" stroke-width="2.2"/><polygon points="847.0,2812.2 869.0,2800.7 869.0,2823.7" fill="#000"/><line x1="1305.0" y1="2812.2" x2="1350.0" y2="2812.2" stroke="#000" stroke-width="2.2"/><polygon points="1285.0,2812.2 1307.0,2800.7 1307.0,2823.7" fill="#000"/><line x1="1742.0" y1="2812.2" x2="1786.8" y2="2812.2" stroke="#000" stroke-width="2.2"/><polygon points="1722.0,2812.2 1744.0,2800.7 1744.0,2823.7" fill="#000"/></svg><div class="l" style="left:66.0px;top:438.5px;font-size:30.4px">original img</div><div class="l" style="left:517.0px;top:438.5px;font-size:30.4px">AFSF block 1</div><div class="l" style="left:959.3px;top:438.5px;font-size:30.4px">AFSF block 2</div><div class="l" style="left:1408.9px;top:438.5px;font-size:30.4px">AFSF block 3</div><div class="l" style="left:1843.6px;top:438.5px;font-size:30.4px">AFSF block 4</div><div class="l" style="left:111.0px;top:930.1px;font-size:30.4px">out</div><div class="l" style="left:518.9px;top:930.1px;font-size:30.4px">AFSF block 8</div><div class="l" style="left:979.0px;top:930.1px;font-size:30.4px">AFSF block 7</div><div class="l" style="left:1415.3px;top:930.1px;font-size:30.4px">AFSF block 6</div><div class="l" style="left:1851.8px;top:930.1px;font-size:30.4px">AFSF block 5</div><div class="l" style="left:107.3px;top:1484.0px;font-size:30.4px">original img</div><div class="l" style="left:561.0px;top:1484.0px;font-size:30.4px">AFSF block 1</div><div class="l" style="left:1005.0px;top:1484.0px;font-size:30.4px">AFSF block 2</div><div class="l" style="left:1455.3px;top:1484.0px;font-size:30.4px">AFSF block 3</div><div class="l" style="left:1892.0px;top:1484.0px;font-size:30.4px">AFSF block 4</div><div class="l" style="left:145.3px;top:1983.0px;font-size:30.4px">out</div><div class="l" style="left:555.3px;top:1983.0px;font-size:30.4px">AFSF block 8</div><div class="l" style="left:1017.3px;top:1983.0px;font-size:30.4px">AFSF block 7</div><div class="l" style="left:1455.0px;top:1983.0px;font-size:30.4px">AFSF block 6</div><div class="l" style="left:1892.7px;top:1983.0px;font-size:30.4px">AFSF block 5</div><div class="l" style="left:119.3px;top:2511.5px;font-size:30.4px">original img</div><div class="l" style="left:572.0px;top:2511.5px;font-size:30.4px">AFSF block 1</div><div class="l" style="left:1014.5px;top:2511.5px;font-size:30.4px">AFSF block 2</div><div class="l" style="left:1465.0px;top:2511.5px;font-size:30.4px">AFSF block 3</div><div class="l" style="left:1899.4px;top:2511.5px;font-size:30.4px">AFSF block 4</div><div class="l" style="left:126.5px;top:3012.5px;font-size:30.4px">out</div><div class="l" style="left:535.3px;top:3012.5px;font-size:30.4px">AFSF block 8</div><div class="l" style="left:996.5px;top:3012.5px;font-size:30.4px">AFSF block 7</div><div class="l" style="left:1433.3px;top:3012.5px;font-size:30.4px">AFSF block 6</div><div class="l" style="left:1870.4px;top:3012.5px;font-size:30.4px">AFSF block 5</div><div class="t" style="left:705.7px;top:985.9px;font-size:38.3px">(a) FFDC: Only LowPass Filter</div><div class="t" style="left:650.0px;top:2034.9px;font-size:38.3px">(b) FFDC: Only HighPass Filter</div><div class="t" style="left:874.7px;top:3091.5px;font-size:38.3px">(c) FFDC</div><svg class="ov" width="2238" height="4120" style="position:absolute;left:0;top:0"><style>.tk{font:11px "Liberation Serif",serif;fill:#333}.lg{font:11.6px "Liberation Serif",serif;fill:#222;stroke:#222;stroke-width:0.25}.bl{font:bold 21.6px "Liberation Serif",serif;fill:#111}.yl{font:33px "Liberation Serif",serif;fill:#111}.xl{font:32.6px "Liberation Serif",serif;fill:#111}.bg{font:bold 21.6px "Liberation Serif",serif;fill:#111}.bs{font:bold 21.5px "Liberation Serif",serif;fill:#111}</style><clipPath id="cp0"><rect x="74.6" y="3149.5" width="497.4" height="358.2"/></clipPath><path d="M97.8 3149.5V3507.7M188.2 3149.5V3507.7M278.6 3149.5V3507.7M369.0 3149.5V3507.7M459.4 3149.5V3507.7M549.8 3149.5V3507.7M74.6 3504.8H572.0M74.6 3444.3H572.0M74.6 3383.8H572.0M74.6 3323.2H572.0M74.6 3262.7H572.0M74.6 3202.2H572.0" stroke="#d2d2d2" stroke-width="1.3" fill="none"/><path d="M97.8 3507.7v4M188.2 3507.7v4M278.6 3507.7v4M369.0 3507.7v4M459.4 3507.7v4M549.8 3507.7v4M74.6 3504.8h-4M74.6 3444.3h-4M74.6 3383.8h-4M74.6 3323.2h-4M74.6 3262.7h-4M74.6 3202.2h-4" stroke="#333" stroke-width="1" fill="none"/><text x="97.8" y="3522.7" class="tk" text-anchor="middle">0.0 π</text><text x="188.2" y="3522.7" class="tk" text-anchor="middle">0.1 π</text><text x="278.6" y="3522.7" class="tk" text-anchor="middle">0.2 π</text><text x="369.0" y="3522.7" class="tk" text-anchor="middle">0.3 π</text><text x="459.4" y="3522.7" class="tk" text-anchor="middle">0.4 π</text><text x="549.8" y="3522.7" class="tk" text-anchor="middle">0.5 π</text><text x="68.6" y="3508.8" class="tk" text-anchor="end">4</text><text x="68.6" y="3448.3" class="tk" text-anchor="end">5</text><text x="68.6" y="3387.8" class="tk" text-anchor="end">6</text><text x="68.6" y="3327.2" class="tk" text-anchor="end">7</text><text x="68.6" y="3266.7" class="tk" text-anchor="end">8</text><text x="68.6" y="3206.2" class="tk" text-anchor="end">9</text><g clip-path="url(#cp0)" fill="none" stroke-linejoin="round"><path transform="matrix(2.27136 0 0 -0.60520 97.80 3746.88)" d="M0 874l1-62 1-75 1-33 1-6 1 15 1 10 1-6 1-11 1-9 1-8 1-19 1-8 1-1 1-13 1-3 1-6 1-1 1-4 1-12 1-4 1 0 1 2 1 1 1 4 1-6 1 2 1-8 1-3 1-2 1-5 1-5 1 2 1 1 1-1 1-1 1-6 1-2 1-3 1-3 1 5 1-2 1 3 1 7 1-7 1-3 1 3 1 2 1-2 1-6 1 4 1-7 1-8 1 2 1 9 1 2 1-2 1-10 1-4 1-6 1-5 1 7 1 6 1-6 1-10 1 0 1-7 1-1 1-1 1-9 1-4 1 2 1-5 1-4 1 1 1-4 1-3 1-5 1 0 1-7 1-4 1-2 1 8 1 0 1-4 1-7 1 3 1 2 1 1 1-10 1 4 1 1 1-9 1-1 1-4 1 2 1 2 1 1 1-6 1-6 1 2 1-1 1 0 1-5 1 3 1-4 1-2 1 0 1-8 1-2 1 2 1-3 1-2 1-4 1 0 1 6 1 0 1-10 1 5 1 0 1-3 1-7 1-7 1-3 1-5 1-5 1 5 1 0 1-3 1-2 1-5 1 6 1-1 1 1 1 3 1 1 1 12 1 0 1-5 1-8 1-6 1 1 1-5 1 1 1 3 1 4 1-1 1 0 1 4 1-4 1-4 1 4 1 8 1-2 1-5 1-4 1 6 1 10 1 6 1 4 1-6 1 4 1 2 1-7 1 11 1-7 1-1 1 10 1 3 1 3 1-1 1-2 1-3 1 0 1 2 1-6 1 7 1 5 1-4 1 7 1 3 1-3 1-1 1 3 1 1 1 0 1 9 1 0 1-2 1 0 1-4 1-7 1 8 1-10 1-1 1-1 1 5 1 1 1-6 1-11" stroke="#d9544f" stroke-width="1.3" vector-effect="non-scaling-stroke" stroke-dasharray="1.6 2.4"/><path transform="matrix(1.89121 0 0 -0.60520 97.80 3746.88)" d="M0 950l1-89 1-84 1-42 1-36 1 1 1 1 1-3 1-7 1-5 1-1 1-4 1-8 1-1 1-5 1-3 1-3 1-3 1-2 1-2 1-6 1-3 1-7 1-3 1-2 1-4 1-5 1-3 1 0 1 0 1-4 1 0 1-1 1 0 1-2 1-2 1-4 1 0 1 2 1-2 1-6 1 4 1-1 1-3 1-5 1-2 1 3 1 2 1-2 1-4 1-6 1-5 1 1 1 0 1-4 1 1 1 1 1-2 1-6 1-1 1-1 1-1 1 4 1-4 1-1 1-1 1 3 1-1 1-5 1-8 1 3 1 3 1-2 1-3 1 1 1-7 1-1 1 3 1 0 1 1 1-5 1-5 1-2 1-3 1 0 1 3 1 1 1-1 1-4 1 2 1-3 1 0 1-5 1-3 1 2 1 1 1-3 1-4 1-4 1 0 1 5 1 2 1-4 1-3 1 2 1-4 1 0 1 1 1-4 1 3 1-1 1 1 1-1 1 1 1 0 1-3 1 4 1-1 1 0 1 0 1-1 1-2 1-4 1-4 1 1 1-2 1-1 1 3 1-2 1-3 1 0 1 3 1 2 1 1 1-2 1 1 1 1 1-4 1-7 1 5 1 0 1-1 1 0 1-1 1-1 1-4 1-3 1 3 1 1 1 3 1-2 1-1 1-2 1 1 1 0 1-2 1 3 1-1 1-4 1-2 1 6 1 0 1-1 1 2 1 4 1-3 1-3 1-1 1 6 1 1 1-2 1-2 1 1 1 0 1-1 1-3 1-2 1 2 1-4 1 2 1 1 1-1 1 3 1-1 1-1 1 1 1 0 1 3 1-2 1-4 1-5 1 3 1 5 1-1 1 0 1 2 1-6 1-1 1 2 1 1 1-2 1-3 1 0 1 5 1 1 1-3 1-1 1-3 1 2 1 4 1 0 1 2 1-6 1 0 1 0 1 0 1-1 1-3 1 2 1 7 1-7 1-7 1 3 1 3 1 0 1 3 1 0 1-4 1-3 1-2 1 0 1 0 1 6 1 1 1-8 1-3 1-1 1 0 1-4 1 4" stroke="#7fc4f0" stroke-width="1.4" vector-effect="non-scaling-stroke"/><path transform="matrix(1.89121 0 0 -0.60520 97.80 3746.88)" d="M0 960l1-83 1-81 1-53 1-37 1 23 1 12 1-9 1-12 1-12 1-9 1-4 1-7 1-5 1-3 1-2 1-5 1-7 1-6 1-2 1-4 1-3 1 0 1-7 1-16 1-1 1 4 1 0 1 0 1 1 1 1 1-9 1-1 1 5 1-3 1-5 1-6 1-5 1 3 1-2 1-5 1-1 1-1 1-3 1 1 1-1 1-2 1-2 1 1 1 0 1-3 1-4 1 1 1-2 1 0 1-3 1 2 1-4 1-5 1 1 1 2 1-2 1-5 1-1 1 2 1-1 1 1 1-1 1-7 1 4 1 2 1-5 1-3 1 3 1-1 1 0 1-6 1-5 1 2 1 1 1 1 1-3 1-7 1 0 1 6 1-1 1-5 1 0 1 1 1 0 1 0 1-3 1-3 1-1 1-1 1-7 1 2 1 1 1-4 1 3 1-1 1 2 1-1 1 1 1 1 1-4 1-6 1 0 1 7 1-4 1-4 1 1 1 0 1 2 1-2 1-3 1-1 1 0 1-2 1 4 1 1 1-11 1-3 1 10 1 5 1-10 1-4 1 4 1-3 1-1 1 1 1 1 1-2 1 0 1-2 1-3 1 0 1-1 1 0 1-3 1 1 1 6 1-3 1-1 1 0 1-2 1 0 1 2 1-2 1-3 1 3 1-3 1-3 1 1 1 3 1 4 1-5 1-2 1-4 1 5 1 4 1-3 1-2 1 3 1 2 1 1 1 2 1-5 1-4 1 1 1 0 1 0 1 0 1-1 1-4 1 5 1-3 1-2 1 6 1 3 1-3 1-3 1 0 1 9 1-5 1-8 1 0 1 1 1-3 1 3 1 1 1 4 1-3 1-9 1 3 1 0 1 6 1 0 1-2 1-2 1 7 1 0 1-8 1 0 1-2 1 0 1 0 1 5 1-5 1-1 1 2 1-3 1 0 1-1 1 0 1-2 1 1 1 1 1 0 1 0 1 0 1 2 1-2 1-2 1-1 1-2 1 0 1 3 1-4 1 1 1 3 1 1 1-5 1-4 1 6 1 0 1-3 1 3 1-3 1-2" stroke="#2e86d4" stroke-width="1.4" vector-effect="non-scaling-stroke"/><path transform="matrix(1.89121 0 0 -0.60520 97.80 3746.88)" d="M0 950l1-79 1-76 1-42 1-28 1 0 1-8 1 1 1-4 1-4 1 1 1-8 1-7 1-5 1 0 1-5 1-4 1-7 1-5 1-5 1 0 1-5 1-4 1-6 1-8 1 5 1 1 1-15 1-7 1 2 1 7 1-1 1 1 1-3 1-5 1-3 1-2 1-1 1-8 1-1 1 4 1 2 1-11 1-6 1 2 1 3 1-2 1-2 1-8 1 6 1-1 1-9 1 4 1 3 1-3 1 3 1 3 1-8 1-7 1-2 1 3 1-3 1-2 1 0 1 0 1-8 1-6 1-1 1 11 1 1 1 2 1-7 1-4 1 2 1-3 1-7 1 3 1 8 1-3 1-4 1-4 1-2 1 4 1-4 1-5 1 0 1-2 1 4 1 1 1-5 1 3 1-5 1-2 1-4 1 1 1 0 1-3 1-2 1-1 1-2 1-2 1 4 1 5 1 2 1 1 1 4 1-8 1-3 1 4 1-7 1 1 1-4 1-1 1-4 1 6 1-2 1-1 1 7 1-1 1-6 1-4 1 1 1 1 1 3 1-1 1-6 1-2 1-1 1-3 1 2 1 3 1 4 1 1 1-7 1 1 1 0 1 6 1-5 1-3 1-6 1 0 1 3 1-1 1-1 1-4 1 4 1 0 1 5 1-3 1 0 1-6 1 2 1-3 1 0 1 2 1 0 1 2 1 3 1-1 1-5 1-6 1 1 1 1 1-4 1 8 1-1 1 0 1 4 1 0 1-4 1-4 1 3 1 0 1-2 1 5 1-3 1-8 1 3 1 0 1 7 1-1 1-8 1-1 1 4 1 2 1 5 1-2 1-4 1-2 1-6 1 6 1 4 1-5 1-2 1 6 1 5 1-8 1-4 1 4 1-8 1 4 1 0 1 2 1-2 1 4 1-4 1-10 1-2 1 8 1 7 1-3 1-3 1 0 1 3 1-1 1-3 1-2 1 7 1-1 1-6 1 9 1-4 1-9 1-4 1 8 1 1 1-7 1-3 1 8 1-3 1 2 1 12 1 0 1-8 1-6 1-2 1-7 1 4 1-1 1-2" stroke="#8c82f0" stroke-width="1.4" vector-effect="non-scaling-stroke"/><path transform="matrix(1.89121 0 0 -0.60520 97.80 3746.88)" d="M0 941l1-75 1-70 1-36 1-33 1-5 1-8 1-2 1 0 1 5 1-10 1-9 1-5 1-6 1-5 1-1 1 0 1-3 1-1 1-5 1-1 1 1 1-6 1-7 1-2 1 2 1 1 1-8 1-3 1 0 1-6 1-1 1 2 1-2 1-3 1-5 1-8 1 5 1-5 1-4 1 4 1 0 1-5 1-4 1 1 1 0 1 2 1-3 1-3 1-1 1-5 1-4 1 2 1 0 1-5 1-4 1-1 1-6 1 5 1-1 1-7 1 0 1-1 1 0 1-7 1 0 1 6 1-2 1-10 1 1 1 2 1-1 1 1 1-6 1-1 1-2 1 3 1-4 1-5 1-2 1 7 1 0 1-2 1 0 1-5 1-5 1-2 1 1 1 2 1-7 1-1 1 2 1 1 1-1 1-7 1-3 1 5 1 5 1-2 1-3 1-2 1 0 1-1 1 1 1-4 1 1 1 0 1 1 1 1 1 5 1-1 1-6 1-10 1 1 1 2 1-1 1-4 1 7 1 0 1-8 1-2 1 2 1 2 1 4 1 2 1-5 1-1 1 0 1 3 1-1 1-3 1-6 1-1 1 0 1 5 1-1 1-5 1-1 1 1 1-4 1-1 1 6 1 4 1-8 1-4 1-3 1 0 1 6 1 2 1-2 1-1 1 0 1-3 1-4 1 2 1 2 1-3 1 0 1-1 1 2 1 3 1-3 1 0 1 3 1 2 1-2 1-8 1 4 1-1 1 1 1 3 1 2 1-1 1-2 1 2 1-5 1-1 1 2 1-1 1 6 1 0 1 0 1-6 1-3 1 1 1 1 1-3 1 1 1 2 1 2 1-4 1 1 1-4 1-3 1 0 1 0 1 4 1 3 1-2 1 2 1 2 1-4 1-3 1-3 1-2 1 3 1-3 1 4 1 1 1 1 1-3 1-3 1 2 1-2 1 0 1 1 1-1 1-1 1-2 1-1 1-4 1 3 1 0 1 6 1-1 1-8 1 3 1 0 1-2 1 2 1-3 1-4 1 3 1 2 1-1 1-2 1 4 1 0 1-6 1 0" stroke="#f04848" stroke-width="1.4" vector-effect="non-scaling-stroke"/></g><rect x="74.6" y="3149.5" width="497.4" height="358.2" fill="none" stroke="#3a3a3a" stroke-width="1.5"/><rect x="363.0" y="3155.8" width="203.0" height="85.8" rx="2" fill="#fff" fill-opacity="0.85" stroke="#dcdcdc" stroke-width="1"/><line x1="366.5" y1="3164.9" x2="391.4" y2="3164.9" stroke="#d9544f" stroke-width="1.3" stroke-dasharray="1.6 2.4"/><text x="399.0" y="3168.5" class="lg">Original Image</text><line x1="366.5" y1="3181.4" x2="391.4" y2="3181.4" stroke="#8c82f0" stroke-width="1.8"/><text x="399.0" y="3185.0" class="lg">FFDC: Only HighPass Filter</text><line x1="366.5" y1="3197.9" x2="391.4" y2="3197.9" stroke="#2e86d4" stroke-width="1.8"/><text x="399.0" y="3201.5" class="lg">FFDC: Only LowPass Filter</text><line x1="366.5" y1="3214.4" x2="391.4" y2="3214.4" stroke="#7fc4f0" stroke-width="1.8"/><text x="399.0" y="3218.0" class="lg">FFDC: Without Fourier Transform</text><line x1="366.5" y1="3230.9" x2="391.4" y2="3230.9" stroke="#f04848" stroke-width="1.8"/><text x="399.0" y="3234.5" class="lg">FFDC</text><text x="258.0" y="3351.4" class="bl">AFSF block (8)</text><text transform="translate(48.6 3293.6) rotate(-90)" class="yl">Amplitude</text><text x="218.5" y="3544.0" class="xl">Frequency (π)</text><clipPath id="cp1"><rect x="616.0" y="3150.4" width="496.7" height="357.3"/></clipPath><path d="M638.8 3150.4V3507.7M729.2 3150.4V3507.7M819.7 3150.4V3507.7M910.1 3150.4V3507.7M1000.6 3150.4V3507.7M1091.0 3150.4V3507.7M616.0 3506.0H1112.7M616.0 3442.9H1112.7M616.0 3379.8H1112.7M616.0 3316.8H1112.7M616.0 3253.7H1112.7M616.0 3190.6H1112.7" stroke="#d2d2d2" stroke-width="1.3" fill="none"/><path d="M638.8 3507.7v4M729.2 3507.7v4M819.7 3507.7v4M910.1 3507.7v4M1000.6 3507.7v4M1091.0 3507.7v4M616.0 3506.0h-4M616.0 3442.9h-4M616.0 3379.8h-4M616.0 3316.8h-4M616.0 3253.7h-4M616.0 3190.6h-4" stroke="#333" stroke-width="1" fill="none"/><text x="638.8" y="3522.7" class="tk" text-anchor="middle">0.0 π</text><text x="729.2" y="3522.7" class="tk" text-anchor="middle">0.1 π</text><text x="819.7" y="3522.7" class="tk" text-anchor="middle">0.2 π</text><text x="910.1" y="3522.7" class="tk" text-anchor="middle">0.3 π</text><text x="1000.6" y="3522.7" class="tk" text-anchor="middle">0.4 π</text><text x="1091.0" y="3522.7" class="tk" text-anchor="middle">0.5 π</text><text x="610.0" y="3510.0" class="tk" text-anchor="end">4</text><text x="610.0" y="3446.9" class="tk" text-anchor="end">5</text><text x="610.0" y="3383.8" class="tk" text-anchor="end">6</text><text x="610.0" y="3320.8" class="tk" text-anchor="end">7</text><text x="610.0" y="3257.7" class="tk" text-anchor="end">8</text><text x="610.0" y="3194.6" class="tk" text-anchor="end">9</text><g clip-path="url(#cp1)" fill="none" stroke-linejoin="round"><path transform="matrix(2.27236 0 0 -0.63080 638.80 3758.32)" d="M0 874l1-64 1-74 1-32 1-4 1 12 1 15 1-7 1-15 1-14 1-14 1-8 1-16 1-2 1-5 1-8 1 3 1 4 1-11 1-9 1 2 1 3 1-4 1-6 1-6 1 4 1 2 1 1 1-2 1-9 1-14 1-4 1 1 1 4 1 0 1 5 1-3 1-1 1 0 1-5 1-3 1 12 1 0 1-6 1-13 1-9 1-1 1 4 1 9 1 3 1 4 1 1 1-7 1-4 1-4 1-3 1-2 1 4 1-1 1-6 1-4 1 3 1 1 1-7 1-6 1-6 1-4 1-3 1-4 1-2 1 2 1 0 1-8 1 2 1-8 1-8 1-11 1-2 1 8 1-3 1 3 1-1 1 0 1 2 1-10 1-15 1 5 1 15 1 4 1-10 1-9 1-3 1 2 1-9 1-1 1 6 1-1 1-2 1 0 1-10 1-4 1 3 1 1 1 1 1 4 1-8 1-2 1-4 1 0 1-4 1 0 1 5 1-4 1 1 1-9 1-2 1 1 1-14 1-1 1 8 1 3 1-3 1-8 1-5 1 6 1-3 1-8 1 3 1 6 1-9 1-9 1 0 1 3 1 6 1 2 1-6 1 2 1 9 1 2 1-4 1-13 1-2 1 5 1-6 1 3 1 0 1 0 1 8 1-3 1-3 1 3 1 0 1-5 1 2 1 0 1 2 1 15 1 9 1-3 1-9 1 7 1 4 1-2 1 3 1-6 1-1 1 3 1 2 1 2 1 7 1-5 1 1 1 5 1 9 1-7 1 5 1 4 1-10 1-1 1 2 1 1 1 8 1-1 1 4 1-1 1-1 1 2 1-1 1 0 1-8 1 1 1 5 1-9 1 5 1 0 1-3 1 2 1 4 1-6 1 4" stroke="#d9544f" stroke-width="1.3" vector-effect="non-scaling-stroke" stroke-dasharray="1.6 2.4"/><path transform="matrix(1.89205 0 0 -0.63080 638.80 3758.32)" d="M0 899l1-75 1-75 1-42 1-21 1-16 1-4 1-6 1-8 1-10 1-7 1-3 1 0 1-3 1-5 1-3 1 0 1-6 1 1 1-1 1-6 1-5 1 0 1 1 1-5 1-6 1 3 1 4 1 0 1-4 1-6 1-6 1 3 1 0 1 0 1 2 1-4 1-2 1-1 1-5 1-3 1-1 1 3 1-2 1-3 1 2 1-5 1-5 1 2 1-2 1-4 1 3 1-1 1-1 1-1 1-8 1 0 1 4 1 1 1-3 1-3 1-1 1 3 1 1 1-8 1-3 1 4 1 0 1-1 1 4 1 0 1-5 1 0 1 1 1-4 1-4 1 2 1-1 1 1 1-2 1 0 1 2 1-3 1-4 1 1 1 6 1-2 1-9 1-1 1 4 1-3 1 1 1 2 1-3 1-2 1-2 1 0 1 3 1 3 1-2 1-4 1 0 1-3 1-5 1 3 1 2 1-3 1 2 1-3 1-2 1-1 1 7 1-2 1-2 1-6 1-2 1 4 1-1 1 3 1-2 1 0 1-7 1-4 1 6 1-1 1 0 1 1 1-6 1-4 1-1 1-3 1-1 1 1 1 2 1 0 1-1 1 3 1 2 1-2 1-1 1-3 1 2 1 0 1-5 1-3 1 3 1 3 1 2 1-2 1 0 1-9 1 2 1 1 1 0 1 0 1 2 1 4 1-3 1 1 1-3 1-3 1-6 1 6 1 2 1-5 1-1 1 3 1 5 1-6 1-5 1-5 1 3 1 5 1-5 1-4 1 6 1 4 1 1 1-1 1 0 1 6 1-6 1-3 1-4 1-1 1 0 1 3 1-1 1-4 1-1 1 7 1 3 1-1 1-2 1 1 1 1 1 0 1 0 1-4 1-2 1-2 1 6 1-4 1 1 1 0 1-4 1 2 1 2 1-3 1-1 1-1 1-1 1 1 1 2 1 2 1 0 1-3 1-2 1 3 1 0 1 1 1-2 1 0 1 0 1-1 1-5 1 1 1 3 1 3 1-4 1-1 1-3 1-4 1 8 1 2 1-2 1-6 1 2 1-1 1-4" stroke="#7fc4f0" stroke-width="1.4" vector-effect="non-scaling-stroke"/><path transform="matrix(1.89205 0 0 -0.63080 638.80 3758.32)" d="M0 920l1-91 1-92 1-50 1-23 1-16 1-2 1-4 1-5 1-9 1 4 1-3 1-3 1-5 1-3 1 1 1-1 1-6 1-3 1-1 1-8 1-4 1 2 1-5 1-7 1 2 1 0 1-4 1-2 1 5 1 2 1-5 1-3 1 2 1 0 1-4 1 1 1 0 1-6 1-4 1 2 1 1 1-2 1-8 1-2 1-3 1-2 1 4 1 1 1-2 1 4 1 0 1-3 1-1 1-2 1-6 1 3 1-1 1-7 1 3 1 1 1 1 1-4 1 0 1 0 1-3 1 2 1-1 1-1 1-2 1 3 1-1 1-3 1 2 1 3 1-2 1-9 1 4 1 0 1-5 1-1 1 3 1-5 1 4 1 1 1-9 1-1 1 0 1 5 1 6 1-2 1-12 1 1 1 6 1 3 1-5 1-5 1 1 1 0 1-3 1-1 1 2 1 0 1-2 1-3 1-3 1 3 1 4 1-5 1-3 1 7 1 1 1 2 1-7 1-6 1-1 1 9 1 3 1-11 1-2 1 2 1-4 1 0 1 0 1 3 1 2 1-3 1 0 1-3 1-3 1-8 1 2 1 7 1-2 1 2 1 2 1 1 1-1 1-2 1-5 1-4 1-2 1 0 1-2 1 1 1 3 1 0 1-4 1-4 1 4 1 4 1 3 1-3 1-6 1 2 1 7 1 0 1 2 1-1 1-9 1 0 1 1 1 0 1 0 1-2 1-3 1-5 1 2 1 0 1 2 1 0 1 3 1 1 1-2 1-1 1-1 1-3 1 0 1 0 1 2 1 1 1-1 1-4 1 3 1-3 1-1 1 1 1 0 1 1 1-3 1-2 1 2 1 7 1-4 1-5 1 1 1 0 1 6 1-6 1 3 1 0 1-5 1 5 1 4 1-2 1-1 1 1 1-2 1-1 1 0 1 0 1-3 1 3 1-4 1-2 1 6 1 6 1-3 1-5 1 1 1-3 1 0 1-2 1-5 1 4 1-1 1-1 1-3 1-1 1 4 1 8 1 3 1-4 1 1 1-6 1-5 1 5 1 3 1-2 1 1" stroke="#2e86d4" stroke-width="1.4" vector-effect="non-scaling-stroke"/><path transform="matrix(1.89205 0 0 -0.63080 638.80 3758.32)" d="M0 940l1-74 1-75 1-39 1-9 1-22 1-5 1-3 1 4 1 3 1-5 1-6 1-11 1 0 1-1 1 5 1-4 1-6 1-7 1-3 1-4 1-8 1-6 1-3 1-5 1-3 1-2 1-1 1 0 1-8 1 3 1-5 1-6 1-4 1 2 1-1 1-2 1-4 1 2 1 4 1-8 1-6 1 1 1-4 1-1 1-3 1-9 1-9 1 4 1 3 1-3 1 2 1 0 1-5 1 4 1 2 1-3 1-2 1 0 1 0 1-9 1-5 1-1 1-9 1-5 1 2 1 5 1-2 1-11 1-4 1 5 1 2 1 0 1 3 1 1 1-4 1-3 1-9 1-1 1 5 1 3 1 0 1-1 1-1 1-4 1-11 1 1 1 6 1-2 1-6 1 5 1-4 1-1 1 2 1-2 1-6 1 5 1-2 1-5 1-3 1-6 1 4 1 4 1-2 1 0 1 1 1 2 1 2 1-4 1-2 1 5 1 3 1-8 1-3 1-5 1 9 1 1 1 0 1-8 1-4 1 6 1-1 1-9 1-3 1 6 1 4 1 6 1-11 1-5 1-1 1-6 1 4 1 9 1-5 1-7 1-1 1 6 1 2 1-3 1-4 1 2 1-1 1-4 1 0 1-10 1 0 1 6 1 0 1-3 1 6 1 4 1-3 1-2 1 1 1-4 1-7 1 4 1 4 1-8 1 1 1-2 1-4 1 0 1 4 1 2 1-3 1-7 1 3 1 5 1 3 1 0 1 0 1 1 1-3 1-7 1 0 1-5 1-8 1 6 1 13 1-10 1-8 1 9 1 9 1-4 1-1 1-2 1 1 1 6 1-2 1-4 1 4 1 0 1-5 1 0 1-1 1-1 1 4 1-4 1-5 1-5 1 4 1 9 1-5 1 1 1 0 1 3 1 0 1-6 1 1 1 2 1 1 1-2 1 0 1 5 1 3 1-4 1-6 1 3 1 1 1 3 1 4 1-7 1-4 1-3 1 1 1 3 1 7 1-4 1-2 1 5 1-8 1 5 1 3 1-3 1-4 1-1 1 1 1 0 1-9" stroke="#8c82f0" stroke-width="1.4" vector-effect="non-scaling-stroke"/><path transform="matrix(1.89205 0 0 -0.63080 638.80 3758.32)" d="M0 886l1-55 1-51 1-29 1-11 1-14 1-2 1-11 1-8 1 0 1-4 1-7 1-2 1 2 1-3 1-9 1-6 1-4 1 8 1-4 1 0 1-2 1 3 1-4 1-6 1-3 1-8 1 0 1-9 1 3 1 3 1-5 1-7 1-4 1 2 1 5 1-3 1-8 1-6 1 3 1-7 1-2 1 1 1 4 1-1 1-2 1-4 1-4 1 3 1 2 1-7 1-2 1-3 1 2 1-2 1-3 1-2 1 0 1-9 1-5 1-2 1 2 1-6 1-2 1 5 1 1 1-9 1-15 1 1 1-1 1-1 1 4 1 7 1-9 1-4 1 3 1-2 1-3 1-4 1 1 1-2 1-11 1 0 1 11 1 0 1-9 1-5 1 1 1-3 1 4 1 7 1-3 1-1 1-5 1 1 1 0 1-9 1 1 1 3 1 5 1 6 1-5 1-9 1 2 1-1 1 4 1 9 1-7 1 0 1 1 1 5 1 0 1-3 1 1 1 1 1-7 1-3 1 2 1 8 1-5 1-6 1 6 1 10 1-6 1-1 1-1 1-4 1-4 1 0 1-3 1-2 1 16 1-2 1-7 1-4 1-1 1 4 1-2 1-2 1-6 1 5 1 5 1-9 1-2 1-2 1 1 1-2 1-8 1-6 1 2 1-2 1-3 1 3 1-2 1-6 1 5 1 10 1-7 1-4 1 5 1-14 1-14 1-1 1 5 1 9 1 2 1-9 1 7 1-3 1 3 1 3 1 0 1-2 1-2 1-3 1 5 1 6 1 3 1 5 1-5 1-2 1 2 1-8 1-10 1-1 1 13 1 3 1-2 1-4 1 4 1 5 1-6 1-8 1 3 1 6 1-11 1-10 1 0 1 8 1 10 1-2 1-5 1-2 1 4 1 1 1-2 1 0 1 2 1 4 1-11 1 3 1 1 1 5 1-1 1 1 1 1 1 0 1-1 1-6 1 5 1-1 1 2 1 5 1 1 1-3 1-16 1 2 1 7 1-6 1 4 1 8 1-4 1-7 1 3 1 2 1-3 1-1 1-2 1-5 1 4" stroke="#f04848" stroke-width="1.4" vector-effect="non-scaling-stroke"/></g><rect x="616.0" y="3150.4" width="496.7" height="357.3" fill="none" stroke="#3a3a3a" stroke-width="1.5"/><rect x="903.3" y="3156.6" width="203.1" height="85.0" rx="2" fill="#fff" fill-opacity="0.85" stroke="#dcdcdc" stroke-width="1"/><line x1="906.8" y1="3165.7" x2="931.7" y2="3165.7" stroke="#d9544f" stroke-width="1.3" stroke-dasharray="1.6 2.4"/><text x="939.3" y="3169.3" class="lg">Original Image</text><line x1="906.8" y1="3182.2" x2="931.7" y2="3182.2" stroke="#8c82f0" stroke-width="1.8"/><text x="939.3" y="3185.8" class="lg">FFDC: Only HighPass Filter</text><line x1="906.8" y1="3198.7" x2="931.7" y2="3198.7" stroke="#2e86d4" stroke-width="1.8"/><text x="939.3" y="3202.3" class="lg">FFDC: Only LowPass Filter</text><line x1="906.8" y1="3215.2" x2="931.7" y2="3215.2" stroke="#7fc4f0" stroke-width="1.8"/><text x="939.3" y="3218.8" class="lg">FFDC: Without Fourier Transform</text><line x1="906.8" y1="3231.7" x2="931.7" y2="3231.7" stroke="#f04848" stroke-width="1.8"/><text x="939.3" y="3235.3" class="lg">FFDC</text><text x="758.0" y="3351.0" class="bl">AFSF block (7)</text><text transform="translate(599.9 3292.5) rotate(-90)" class="yl">Amplitude</text><text x="767.3" y="3544.0" class="xl">Frequency (π)</text><clipPath id="cp2"><rect x="1157.2" y="3150.0" width="497.1" height="357.7"/></clipPath><path d="M1180.0 3150.0V3507.7M1270.4 3150.0V3507.7M1360.8 3150.0V3507.7M1451.2 3150.0V3507.7M1541.6 3150.0V3507.7M1632.0 3150.0V3507.7M1157.2 3505.7H1654.3M1157.2 3444.6H1654.3M1157.2 3383.4H1654.3M1157.2 3322.3H1654.3M1157.2 3261.1H1654.3M1157.2 3200.0H1654.3" stroke="#d2d2d2" stroke-width="1.3" fill="none"/><path d="M1180.0 3507.7v4M1270.4 3507.7v4M1360.8 3507.7v4M1451.2 3507.7v4M1541.6 3507.7v4M1632.0 3507.7v4M1157.2 3505.7h-4M1157.2 3444.6h-4M1157.2 3383.4h-4M1157.2 3322.3h-4M1157.2 3261.1h-4M1157.2 3200.0h-4" stroke="#333" stroke-width="1" fill="none"/><text x="1180.0" y="3522.7" class="tk" text-anchor="middle">0.0 π</text><text x="1270.4" y="3522.7" class="tk" text-anchor="middle">0.1 π</text><text x="1360.8" y="3522.7" class="tk" text-anchor="middle">0.2 π</text><text x="1451.2" y="3522.7" class="tk" text-anchor="middle">0.3 π</text><text x="1541.6" y="3522.7" class="tk" text-anchor="middle">0.4 π</text><text x="1632.0" y="3522.7" class="tk" text-anchor="middle">0.5 π</text><text x="1151.2" y="3509.7" class="tk" text-anchor="end">4</text><text x="1151.2" y="3448.6" class="tk" text-anchor="end">5</text><text x="1151.2" y="3387.4" class="tk" text-anchor="end">6</text><text x="1151.2" y="3326.3" class="tk" text-anchor="end">7</text><text x="1151.2" y="3265.1" class="tk" text-anchor="end">8</text><text x="1151.2" y="3204.0" class="tk" text-anchor="end">9</text><g clip-path="url(#cp2)" fill="none" stroke-linejoin="round"><path transform="matrix(2.27136 0 0 -0.61140 1180.00 3750.26)" d="M0 876l1-61 1-78 1-35 1-5 1 14 1 9 1-6 1-18 1 1 1-9 1-23 1-10 1-4 1-1 1-1 1-9 1-5 1 4 1-1 1-9 1-4 1-5 1 8 1 5 1-9 1-11 1-10 1 0 1-4 1 9 1 6 1-4 1-7 1-3 1-5 1 2 1 0 1-6 1-10 1 9 1 2 1-5 1 3 1-2 1-10 1 6 1-4 1-4 1 3 1-2 1-1 1-2 1 0 1-2 1 1 1-2 1 0 1 7 1-3 1 0 1 2 1-7 1-10 1-7 1 4 1-2 1-3 1-8 1-8 1-7 1 3 1-6 1 0 1 3 1-4 1-3 1-4 1-10 1 5 1 6 1-4 1-9 1 5 1-1 1-9 1-3 1 6 1 7 1-6 1-9 1 3 1 2 1-6 1-4 1-3 1-8 1 3 1-4 1 1 1 2 1-4 1-5 1 1 1 1 1-9 1-1 1 5 1 1 1-5 1-3 1 1 1-1 1 7 1 0 1-4 1-14 1-3 1-1 1-5 1 2 1 3 1-8 1 1 1 5 1-4 1-4 1-6 1-5 1 0 1 0 1-3 1 1 1 1 1 5 1 8 1-4 1-7 1 4 1 9 1-3 1-14 1 1 1-6 1-8 1 13 1 9 1-8 1 0 1 6 1-4 1 0 1 3 1-2 1 5 1-1 1 6 1 9 1 3 1-6 1 2 1 0 1-6 1 7 1 6 1 5 1 6 1-6 1-3 1 1 1 2 1 5 1 3 1-8 1-2 1-8 1 4 1 7 1-3 1 10 1 5 1-7 1-2 1 4 1 0 1 0 1 1 1 6 1-1 1-6 1-9 1 5 1 6 1 2 1-4 1 4 1 1 1-5 1 2 1-2" stroke="#d9544f" stroke-width="1.3" vector-effect="non-scaling-stroke" stroke-dasharray="1.6 2.4"/><path transform="matrix(1.89121 0 0 -0.61140 1180.00 3750.26)" d="M0 900l1-22 1-22 1-24 1-22 1-24 1-10 1-7 1-4 1 1 1-7 1-9 1-10 1-9 1-7 1-1 1 4 1-4 1-6 1-4 1-4 1 4 1-8 1 2 1 2 1-19 1-4 1 3 1 0 1-8 1 2 1 1 1-6 1-9 1 9 1 4 1-8 1-9 1-7 1-7 1 10 1 5 1-10 1-17 1 4 1 2 1-1 1-1 1-11 1 0 1 5 1 0 1-5 1-1 1-6 1-7 1 3 1-9 1-8 1 7 1 5 1-4 1-5 1-11 1-11 1 7 1-5 1-13 1 1 1 3 1 4 1-4 1-4 1-5 1-11 1-5 1 5 1-5 1-10 1-11 1-10 1-7 1-12 1-5 1-3 1 1 1 11 1 14 1 9 1 2 1 8 1 10 1 5 1-3 1 2 1-4 1-9 1-3 1 11 1 8 1 4 1-11 1 0 1-5 1-7 1 8 1-1 1-1 1 8 1-4 1 0 1-3 1-2 1 3 1 2 1-6 1-2 1 12 1-3 1-8 1-1 1-3 1 5 1 2 1-8 1 8 1 1 1-5 1-1 1-2 1-4 1-2 1 10 1-5 1-1 1 0 1 2 1-1 1-6 1 2 1-2 1-1 1 8 1-1 1-10 1-3 1-4 1-3 1 1 1 3 1-8 1-2 1 5 1-1 1 2 1-7 1-4 1-4 1-5 1 9 1 4 1-2 1-5 1 0 1-3 1-2 1-3 1 0 1 0 1 3 1-5 1-2 1 3 1-1 1-6 1 2 1 4 1 6 1 3 1 0 1-5 1-5 1-1 1 6 1 1 1 4 1 6 1 1 1-9 1-1 1-3 1 5 1-4 1 0 1 1 1 9 1 0 1-1 1-4 1-1 1-5 1 3 1 5 1-9 1 5 1 8 1 1 1-3 1-2 1 3 1-5 1-4 1-4 1 5 1 1 1-3 1-8 1 3 1 5 1-1 1 9 1 6 1-6 1-3 1-3 1-3 1-2 1 5 1-4 1 0 1 0 1-2 1 2 1 5 1 5 1-1 1 2 1-2 1-2 1 1" stroke="#7fc4f0" stroke-width="1.4" vector-effect="non-scaling-stroke"/><path transform="matrix(1.89121 0 0 -0.61140 1180.00 3750.26)" d="M0 881l1-27 1-29 1-25 1-27 1-31 1-7 1-6 1 2 1 3 1-5 1-10 1-19 1-3 1 13 1 2 1 2 1-11 1-14 1 5 1-3 1-9 1-8 1 0 1 0 1 2 1-3 1 0 1-12 1 1 1-2 1-12 1-2 1 10 1-2 1-6 1-3 1-5 1-1 1-4 1 3 1 2 1-6 1-1 1-10 1-4 1-5 1 4 1 1 1-3 1 0 1 8 1-4 1-13 1 1 1-13 1-1 1 4 1-1 1-8 1-1 1 2 1-5 1-3 1 5 1-2 1-10 1-5 1-6 1-7 1-6 1-4 1 3 1-5 1-5 1-2 1 1 1-5 1-19 1-14 1-9 1-12 1 0 1-1 1-4 1-5 1 4 1 1 1-5 1-7 1-1 1 15 1 1 1 2 1 13 1 1 1-7 1 5 1 5 1 3 1-12 1 5 1 9 1 6 1-16 1-13 1 10 1 16 1 10 1 5 1-8 1-6 1 7 1-2 1-2 1 5 1 4 1-10 1-3 1 7 1 1 1-5 1 0 1 10 1 7 1-2 1-1 1-3 1-19 1-2 1 5 1-1 1 2 1 4 1-5 1-1 1-6 1 8 1 12 1-5 1 2 1 2 1-5 1 3 1 0 1-1 1-10 1-8 1 1 1 5 1 5 1-4 1-3 1 2 1 4 1-4 1 3 1-13 1 0 1 7 1-5 1-10 1-2 1-2 1 6 1-4 1-9 1 0 1-4 1 0 1-1 1-3 1 4 1 1 1 0 1 0 1-11 1-10 1 6 1 6 1 2 1 4 1 2 1-5 1-4 1 0 1 8 1-5 1-7 1 0 1 9 1 12 1-5 1-14 1 6 1 7 1 3 1-3 1-4 1 2 1-7 1-9 1 7 1 7 1 11 1 0 1-11 1 4 1-1 1-11 1-3 1 12 1 5 1-9 1-9 1 12 1 2 1-2 1 2 1 0 1 8 1 0 1-3 1 4 1-3 1-7 1 6 1-2 1-6 1 7 1 7 1 1 1 11 1 3 1-10 1 4 1 7 1-13 1-7 1 3" stroke="#2e86d4" stroke-width="1.4" vector-effect="non-scaling-stroke"/><path transform="matrix(1.89121 0 0 -0.61140 1180.00 3750.26)" d="M0 948l1-25 1-25 1-24 1-21 1-28 1 3 1-2 1-14 1-8 1 2 1 1 1-3 1-10 1-9 1-17 1-14 1-11 1-4 1 0 1-5 1-10 1 0 1-8 1-11 1 1 1 9 1-10 1-11 1 0 1 8 1-7 1 3 1-5 1-15 1 8 1-6 1-9 1 1 1 4 1-2 1-5 1-5 1 7 1 3 1-2 1-5 1 1 1-3 1-9 1-4 1-4 1-3 1-5 1-13 1 1 1 0 1-14 1 2 1 11 1-10 1-3 1 2 1-7 1-6 1-2 1-2 1-3 1 3 1 4 1-5 1 0 1-6 1-4 1-6 1-7 1-1 1-10 1-17 1-5 1-10 1-15 1-21 1-4 1 21 1 2 1-4 1 15 1 6 1 10 1 6 1 9 1-1 1 1 1 3 1 3 1-6 1 8 1-1 1-7 1-1 1-1 1 4 1 2 1-5 1 5 1 2 1 0 1 1 1-6 1 4 1 6 1-10 1-6 1 1 1 1 1-5 1-4 1-6 1 1 1 0 1 1 1 5 1 6 1-6 1-5 1 7 1-1 1-6 1 3 1-3 1 0 1 3 1 5 1-6 1 1 1 5 1 5 1-1 1-8 1 6 1 0 1 3 1-2 1-9 1-2 1-2 1 4 1 3 1-9 1-3 1 8 1-14 1-2 1-3 1-5 1 8 1 1 1-7 1-4 1-5 1-8 1 4 1-5 1 1 1 8 1 1 1-5 1 8 1 4 1-9 1-4 1-1 1-3 1-1 1 7 1 1 1-6 1-2 1-1 1-1 1-3 1 1 1 10 1-1 1 3 1 6 1-8 1-1 1-7 1 2 1 7 1-5 1-8 1 1 1 8 1-1 1 6 1 0 1-3 1 1 1 4 1-4 1-4 1 4 1-1 1 1 1 4 1 2 1 1 1-6 1-3 1 2 1 2 1-4 1-1 1-1 1 0 1 8 1 10 1-9 1-1 1-1 1-1 1 4 1 7 1-5 1 5 1-5 1-9 1-1 1 0 1 2 1 9 1 0 1-3 1-5 1 3 1 3 1 10" stroke="#8c82f0" stroke-width="1.4" vector-effect="non-scaling-stroke"/><path transform="matrix(1.89121 0 0 -0.61140 1180.00 3750.26)" d="M0 896l1-28 1-28 1-20 1-15 1-15 1-3 1-10 1-6 1-6 1-9 1-10 1-3 1 0 1-12 1-5 1-4 1-1 1 0 1 0 1-4 1-4 1-2 1-2 1-5 1 4 1 4 1-8 1 2 1 7 1-15 1-9 1 7 1 10 1-2 1-14 1 0 1-2 1-8 1-5 1 7 1-5 1 0 1 2 1 5 1-6 1-12 1 1 1 2 1-8 1 0 1-1 1-8 1-4 1-3 1 3 1-3 1 0 1-5 1-4 1-5 1-3 1-8 1-6 1 5 1 0 1-2 1-13 1-10 1-12 1-12 1 7 1 5 1-12 1-12 1 4 1-6 1-7 1-6 1-5 1-12 1-19 1-9 1 3 1 6 1 0 1 10 1 2 1 2 1-5 1 5 1-1 1-5 1 4 1 2 1 0 1 0 1 0 1 6 1 4 1-4 1 0 1 9 1 0 1 0 1 0 1 1 1 4 1-2 1-1 1-5 1 0 1 9 1 11 1-1 1 4 1-3 1-3 1-3 1 4 1 9 1-1 1-8 1 2 1 7 1-3 1 2 1-2 1 6 1 7 1-2 1-3 1 0 1 0 1 2 1 5 1-1 1-7 1-8 1 1 1 3 1-3 1-5 1 9 1 5 1-15 1 0 1 4 1-9 1-5 1 2 1-2 1-3 1-2 1-10 1 5 1-1 1-4 1-2 1-1 1 0 1-7 1-6 1-6 1 0 1 1 1-4 1 0 1 0 1 3 1 5 1-1 1-10 1 5 1 9 1 4 1-4 1-11 1 1 1 7 1 2 1-2 1-1 1-2 1-3 1 4 1 2 1-2 1 0 1-13 1 9 1 11 1 1 1 0 1-7 1-6 1 4 1 6 1-11 1-2 1 0 1 5 1 4 1 3 1 0 1 8 1-3 1-7 1-4 1 0 1 9 1 8 1-7 1-6 1 3 1-1 1-3 1-2 1 9 1 10 1 2 1-3 1-3 1 2 1 1 1-3 1 0 1 0 1 3 1-4 1 5 1 4 1 0 1-2 1-5 1-2 1 1 1 0 1-2 1 3" stroke="#f04848" stroke-width="1.4" vector-effect="non-scaling-stroke"/></g><rect x="1157.2" y="3150.0" width="497.1" height="357.7" fill="none" stroke="#3a3a3a" stroke-width="1.5"/><rect x="1445.4" y="3156.6" width="201.9" height="85.0" rx="2" fill="#fff" fill-opacity="0.85" stroke="#dcdcdc" stroke-width="1"/><line x1="1448.9" y1="3165.7" x2="1473.8" y2="3165.7" stroke="#d9544f" stroke-width="1.3" stroke-dasharray="1.6 2.4"/><text x="1481.4" y="3169.3" class="lg">Original Image</text><line x1="1448.9" y1="3182.2" x2="1473.8" y2="3182.2" stroke="#8c82f0" stroke-width="1.8"/><text x="1481.4" y="3185.8" class="lg">FFDC: Only HighPass Filter</text><line x1="1448.9" y1="3198.7" x2="1473.8" y2="3198.7" stroke="#2e86d4" stroke-width="1.8"/><text x="1481.4" y="3202.3" class="lg">FFDC: Only LowPass Filter</text><line x1="1448.9" y1="3215.2" x2="1473.8" y2="3215.2" stroke="#7fc4f0" stroke-width="1.8"/><text x="1481.4" y="3218.8" class="lg">FFDC: Without Fourier Transform</text><line x1="1448.9" y1="3231.7" x2="1473.8" y2="3231.7" stroke="#f04848" stroke-width="1.8"/><text x="1481.4" y="3235.3" class="lg">FFDC</text><text x="1321.0" y="3351.0" class="bl">AFSF block (6)</text><text transform="translate(1139.6 3293.0) rotate(-90)" class="yl">Amplitude</text><text x="1316.4" y="3544.0" class="xl">Frequency (π)</text><clipPath id="cp3"><rect x="1703.6" y="3153.3" width="491.7" height="354.4"/></clipPath><path d="M1725.6 3153.3V3507.7M1815.1 3153.3V3507.7M1904.7 3153.3V3507.7M1994.2 3153.3V3507.7M2083.8 3153.3V3507.7M2173.3 3153.3V3507.7M1703.6 3499.5H2195.3M1703.6 3442.1H2195.3M1703.6 3384.8H2195.3M1703.6 3327.4H2195.3M1703.6 3270.0H2195.3M1703.6 3212.7H2195.3M1703.6 3155.3H2195.3" stroke="#d2d2d2" stroke-width="1.3" fill="none"/><path d="M1725.6 3507.7v4M1815.1 3507.7v4M1904.7 3507.7v4M1994.2 3507.7v4M2083.8 3507.7v4M2173.3 3507.7v4M1703.6 3499.5h-4M1703.6 3442.1h-4M1703.6 3384.8h-4M1703.6 3327.4h-4M1703.6 3270.0h-4M1703.6 3212.7h-4M1703.6 3155.3h-4" stroke="#333" stroke-width="1" fill="none"/><text x="1725.6" y="3522.7" class="tk" text-anchor="middle">0.0 π</text><text x="1815.1" y="3522.7" class="tk" text-anchor="middle">0.1 π</text><text x="1904.7" y="3522.7" class="tk" text-anchor="middle">0.2 π</text><text x="1994.2" y="3522.7" class="tk" text-anchor="middle">0.3 π</text><text x="2083.8" y="3522.7" class="tk" text-anchor="middle">0.4 π</text><text x="2173.3" y="3522.7" class="tk" text-anchor="middle">0.5 π</text><text x="1697.6" y="3503.5" class="tk" text-anchor="end">4</text><text x="1697.6" y="3446.1" class="tk" text-anchor="end">5</text><text x="1697.6" y="3388.8" class="tk" text-anchor="end">6</text><text x="1697.6" y="3331.4" class="tk" text-anchor="end">7</text><text x="1697.6" y="3274.0" class="tk" text-anchor="end">8</text><text x="1697.6" y="3216.7" class="tk" text-anchor="end">9</text><text x="1697.6" y="3159.3" class="tk" text-anchor="end">10</text><g clip-path="url(#cp3)" fill="none" stroke-linejoin="round"><path transform="matrix(2.24975 0 0 -0.57367 1725.60 3728.97)" d="M0 876l1-64 1-76 1-33 1-2 1 1 1 8 1-5 1-15 1-4 1-15 1-11 1-4 1 0 1-5 1 3 1-10 1-6 1-2 1-6 1-8 1 0 1 4 1 4 1-6 1-8 1-11 1 3 1 4 1 5 1-2 1-9 1-4 1-4 1-4 1 1 1 0 1 2 1 0 1-2 1 0 1-8 1 1 1-2 1-6 1 7 1 4 1 1 1-7 1 0 1-2 1-8 1 3 1-3 1 6 1 3 1-5 1-8 1 8 1-1 1-3 1-10 1 0 1 4 1-10 1-8 1-1 1-1 1-11 1-2 1 2 1 9 1-5 1-9 1-5 1-5 1-4 1 1 1 4 1-9 1-5 1 4 1 4 1-6 1-8 1 2 1-1 1-7 1 1 1 3 1-1 1 5 1-6 1-7 1-3 1-4 1 0 1 3 1-6 1-11 1 1 1 5 1-5 1 2 1 4 1-6 1-4 1 0 1 2 1-8 1-5 1 6 1 5 1-3 1 2 1-5 1-11 1 0 1 0 1 1 1 4 1-1 1-4 1-4 1-8 1-1 1-7 1-4 1-1 1 6 1-3 1-2 1-5 1 6 1 5 1 0 1 0 1 1 1-2 1-5 1-1 1 4 1-4 1-3 1-1 1-6 1-2 1 6 1 12 1-2 1-1 1-7 1 5 1 5 1 2 1 6 1-1 1 2 1 9 1 4 1-5 1-4 1 3 1 5 1-7 1-2 1 5 1 9 1 0 1-6 1 0 1 4 1-1 1-2 1 2 1 3 1 1 1 3 1-1 1 1 1 5 1-1 1-7 1 6 1-1 1 0 1 7 1 1 1-1 1-1 1 6 1-4 1-4 1 6 1-6 1 4 1-6 1-5 1-1 1-1" stroke="#d9544f" stroke-width="1.3" vector-effect="non-scaling-stroke" stroke-dasharray="1.6 2.4"/><path transform="matrix(1.87322 0 0 -0.57367 1725.60 3728.97)" d="M0 964l1-27 1-29 1-20 1-10 1-1 1-34 1-8 1-19 1-15 1-22 1-14 1-14 1-16 1-11 1-8 1 5 1-4 1-25 1-12 1-6 1-17 1 6 1-7 1-13 1-10 1 10 1 4 1-16 1-10 1 2 1 1 1-9 1-1 1-1 1 13 1 16 1-5 1 3 1-28 1-15 1 5 1-137 1 141 1-5 1-6 1 4 1-7 1 2 1-2 1-4 1-6 1-6 1 9 1 0 1-1 1 19 1-21 1-27 1-7 1 1 1-4 1 16 1-3 1 3 1-9 1 12 1 12 1-12 1-22 1 8 1 6 1 12 1 3 1 7 1-18 1-19 1 5 1 16 1-12 1 12 1 17 1-21 1-13 1-75 1 80 1-14 1 11 1 0 1-4 1-9 1 6 1-7 1 2 1-17 1 5 1-2 1-21 1-9 1 10 1 3 1 2 1 13 1 20 1-9 1 2 1-6 1 1 1-6 1-7 1 8 1 5 1-29 1 7 1 4 1-13 1 10 1 5 1 7 1-6 1-8 1-9 1-11 1 30 1-11 1-23 1 1 1 7 1 1 1 4 1-3 1 6 1-6 1-5 1-11 1 4 1 6 1-5 1 4 1-4 1-5 1 15 1-6 1 21 1 2 1-10 1-11 1-2 1 25 1 3 1-18 1 14 1 1 1-6 1-8 1-9 1 0 1 8 1 4 1-19 1 2 1-5 1 7 1-2 1-1 1 13 1-2 1-19 1 3 1 11 1-3 1-6 1-22 1 14 1 11 1 14 1 14 1-20 1-2 1 12 1-5 1 10 1-13 1-23 1 17 1 17 1-10 1-5 1-1 1 3 1 9 1-5 1 2 1 8 1-31 1-4 1 6 1-4 1 1 1 32 1-12 1-5 1-8 1-3 1 25 1-13 1-7 1 0 1 7 1 8 1-24 1-31 1 15 1 11 1 13 1-2 1 5 1-2 1-5 1 8 1-10 1-15 1-5 1-1 1-7 1 23 1 7 1-18 1-13 1 16 1 22 1-4 1 0 1 1 1-2 1 0 1 8 1-2 1-15 1-2" stroke="#7fc4f0" stroke-width="1.4" vector-effect="non-scaling-stroke"/><path transform="matrix(1.87322 0 0 -0.57367 1725.60 3728.97)" d="M0 954l1-23 1-25 1-22 1-10 1-14 1-14 1-17 1-17 1-27 1 5 1-17 1-33 1-8 1-21 1-27 1 8 1-9 1-9 1-8 1-2 1 3 1-9 1-18 1 0 1-12 1-5 1 10 1 12 1-7 1-17 1-9 1 1 1 12 1 8 1-6 1 1 1 1 1-3 1-40 1-12 1 21 1-130 1 129 1-3 1-19 1-8 1 8 1 18 1-3 1-14 1 0 1-4 1-1 1-8 1 5 1-3 1 2 1-6 1-2 1 7 1-2 1 0 1-1 1 3 1-8 1 14 1 5 1-10 1 17 1 4 1-26 1-29 1-5 1 24 1 23 1-5 1-7 1-13 1-5 1 5 1-9 1 6 1 7 1-81 1 75 1-7 1 5 1-9 1-25 1-2 1 9 1 14 1-1 1-5 1-2 1 4 1-1 1-21 1-10 1 18 1-1 1-2 1-6 1-15 1 1 1 27 1 10 1-5 1-10 1-6 1-6 1 0 1-5 1-2 1 14 1 5 1-27 1 15 1 2 1-17 1 10 1 0 1-8 1-6 1 1 1 34 1 17 1-15 1-23 1-1 1-1 1-12 1 4 1 7 1-13 1-18 1 6 1 16 1-1 1 4 1 14 1-12 1-12 1 13 1 15 1-18 1 20 1 1 1-21 1-2 1 15 1-10 1-4 1 18 1-10 1-6 1-4 1-4 1 2 1-1 1 10 1 10 1 3 1 2 1 1 1-12 1-13 1 2 1-21 1 5 1 7 1-7 1 19 1-18 1-13 1 6 1 6 1 8 1 6 1 8 1-8 1-6 1-6 1 7 1-13 1-7 1 24 1-15 1-9 1 8 1 10 1-15 1 8 1 21 1 11 1-20 1-8 1 2 1 21 1-14 1-6 1-2 1-8 1 1 1 0 1 20 1-8 1-2 1 6 1-12 1 21 1 3 1-21 1 5 1 0 1 5 1-10 1-8 1 11 1-3 1 5 1 12 1 3 1-14 1-18 1 13 1 2 1 7 1-3 1 10 1-6 1-9 1-6 1-14 1 17 1-1 1-10 1 13 1 3" stroke="#2e86d4" stroke-width="1.4" vector-effect="non-scaling-stroke"/><path transform="matrix(1.87322 0 0 -0.57367 1725.60 3728.97)" d="M0 958l1-26 1-26 1-20 1-30 1-22 1 15 1-27 1-47 1-13 1-3 1 2 1-4 1-25 1-24 1-4 1-9 1-8 1-17 1-6 1 16 1-11 1-8 1-11 1-6 1 2 1 9 1 3 1-16 1-6 1 26 1-11 1-14 1-17 1-1 1 0 1-21 1 5 1 23 1 17 1-25 1-30 1-123 1 134 1-14 1 4 1 19 1-19 1-16 1 0 1 22 1 0 1-28 1-12 1 17 1 18 1-13 1-18 1 12 1 7 1-8 1-3 1-5 1-8 1-8 1-10 1-4 1 1 1 22 1 6 1-5 1 0 1-7 1-7 1 6 1-2 1-8 1-16 1 15 1 14 1-8 1-11 1-10 1 14 1-66 1 72 1 4 1-8 1 3 1-11 1 3 1 4 1-8 1-18 1-4 1-3 1 4 1 0 1 3 1 3 1-16 1-3 1 4 1 1 1-1 1 7 1-4 1 20 1-5 1-3 1-20 1 1 1 14 1 13 1-8 1 0 1-12 1 8 1-22 1-23 1 1 1 23 1 5 1 2 1-1 1 10 1 7 1-15 1-5 1-11 1-13 1 18 1 17 1-9 1 21 1-10 1-6 1 1 1-9 1 1 1 7 1-17 1-6 1-5 1 22 1 32 1-19 1-35 1-9 1 24 1 6 1-8 1 14 1-2 1 0 1 3 1-2 1-18 1-1 1 18 1-14 1-13 1 11 1 0 1 17 1 31 1-14 1-35 1-13 1 7 1-2 1 11 1 6 1 2 1-12 1-14 1 10 1 7 1 7 1 3 1-20 1 0 1-3 1 1 1 11 1 1 1 7 1-26 1 22 1-9 1-13 1 12 1 8 1 11 1-2 1-19 1 2 1 6 1-3 1 0 1 13 1-12 1-17 1 10 1 0 1 2 1 12 1 1 1-5 1 2 1 0 1-14 1 7 1 9 1-17 1-6 1 5 1 13 1-6 1 7 1-9 1 1 1 1 1-12 1-1 1 16 1-5 1 6 1-3 1-14 1 19 1-4 1-10 1-3 1 1 1 16 1 16 1-23 1-17 1 7" stroke="#8c82f0" stroke-width="1.4" vector-effect="non-scaling-stroke"/><path transform="matrix(1.87322 0 0 -0.57367 1725.60 3728.97)" d="M0 965l1-26 1-23 1-22 1-29 1 1 1-17 1-8 1-7 1-34 1-35 1-9 1-3 1-30 1-4 1-7 1-18 1 4 1-2 1-18 1-3 1 2 1-19 1 0 1 14 1-13 1-20 1 12 1 8 1-26 1 11 1 3 1-9 1-1 1-5 1 19 1-2 1-26 1-3 1 0 1 30 1-39 1-146 1 142 1-6 1 49 1-46 1-3 1-16 1 12 1 3 1-6 1 5 1-19 1-4 1 6 1-2 1 14 1-2 1 1 1-25 1-2 1 15 1-12 1 7 1-11 1 7 1 8 1-15 1-16 1 8 1 15 1-3 1 0 1-4 1-2 1-8 1-5 1 13 1-6 1 33 1-34 1 20 1-1 1-105 1 79 1 46 1-41 1-13 1 2 1-7 1-4 1-3 1 2 1-4 1 1 1 0 1 12 1 4 1-19 1-13 1 1 1-6 1-8 1 12 1 4 1 9 1-3 1 6 1-3 1-15 1-4 1-2 1 4 1 8 1-10 1-6 1 3 1 15 1-11 1-7 1-4 1 5 1-7 1-8 1-13 1 5 1 83 1-57 1-18 1 11 1 16 1 16 1-32 1-13 1 3 1 19 1 4 1-7 1 16 1 3 1-23 1-1 1-7 1-7 1 1 1 0 1-7 1 12 1 8 1-14 1-3 1 1 1 11 1 3 1 5 1-14 1-10 1 15 1 3 1 11 1-12 1-35 1 2 1 21 1-7 1-13 1 20 1 23 1-6 1 32 1-37 1 7 1-3 1 7 1-9 1 19 1 0 1-14 1-8 1-7 1-4 1 18 1 8 1-7 1-8 1-7 1-11 1-4 1-1 1 13 1-2 1 8 1-2 1 17 1 9 1-2 1-9 1-18 1-7 1 0 1 14 1 8 1-12 1 17 1-22 1-12 1 17 1 8 1-16 1-2 1 17 1-14 1 10 1-4 1-7 1-2 1-11 1 1 1 10 1-8 1 6 1 26 1 9 1-7 1-9 1-12 1-3 1-15 1-15 1 25 1 14 1 0 1-12 1 11 1-12 1-10 1 12 1 13 1-6" stroke="#f04848" stroke-width="1.4" vector-effect="non-scaling-stroke"/></g><rect x="1703.6" y="3153.3" width="491.7" height="354.4" fill="none" stroke="#3a3a3a" stroke-width="1.5"/><rect x="1985.5" y="3158.7" width="203.2" height="85.8" rx="2" fill="#fff" fill-opacity="0.85" stroke="#dcdcdc" stroke-width="1"/><line x1="1989.0" y1="3167.8" x2="2013.9" y2="3167.8" stroke="#d9544f" stroke-width="1.3" stroke-dasharray="1.6 2.4"/><text x="2021.5" y="3171.4" class="lg">Original Image</text><line x1="1989.0" y1="3184.3" x2="2013.9" y2="3184.3" stroke="#8c82f0" stroke-width="1.8"/><text x="2021.5" y="3187.9" class="lg">FFDC: Only HighPass Filter</text><line x1="1989.0" y1="3200.8" x2="2013.9" y2="3200.8" stroke="#2e86d4" stroke-width="1.8"/><text x="2021.5" y="3204.4" class="lg">FFDC: Only LowPass Filter</text><line x1="1989.0" y1="3217.3" x2="2013.9" y2="3217.3" stroke="#7fc4f0" stroke-width="1.8"/><text x="2021.5" y="3220.9" class="lg">FFDC: Without Fourier Transform</text><line x1="1989.0" y1="3233.8" x2="2013.9" y2="3233.8" stroke="#f04848" stroke-width="1.8"/><text x="2021.5" y="3237.4" class="lg">FFDC</text><text x="1826.0" y="3349.0" class="bl">AFSF block (5)</text><text transform="translate(1684.2 3293.0) rotate(-90)" class="yl">Amplitude</text><text x="1865.3" y="3544.0" class="xl">Frequency (π)</text><clipPath id="cp4"><rect x="74.6" y="3574.5" width="497.4" height="357.8"/></clipPath><path d="M97.8 3574.5V3932.3M188.2 3574.5V3932.3M278.6 3574.5V3932.3M369.0 3574.5V3932.3M459.4 3574.5V3932.3M549.8 3574.5V3932.3M74.6 3930.6H572.0M74.6 3867.4H572.0M74.6 3804.2H572.0M74.6 3741.1H572.0M74.6 3677.9H572.0M74.6 3614.7H572.0" stroke="#d2d2d2" stroke-width="1.3" fill="none"/><path d="M97.8 3932.3v4M188.2 3932.3v4M278.6 3932.3v4M369.0 3932.3v4M459.4 3932.3v4M549.8 3932.3v4M74.6 3930.6h-4M74.6 3867.4h-4M74.6 3804.2h-4M74.6 3741.1h-4M74.6 3677.9h-4M74.6 3614.7h-4" stroke="#333" stroke-width="1" fill="none"/><text x="97.8" y="3947.3" class="tk" text-anchor="middle">0.0 π</text><text x="188.2" y="3947.3" class="tk" text-anchor="middle">0.1 π</text><text x="278.6" y="3947.3" class="tk" text-anchor="middle">0.2 π</text><text x="369.0" y="3947.3" class="tk" text-anchor="middle">0.3 π</text><text x="459.4" y="3947.3" class="tk" text-anchor="middle">0.4 π</text><text x="549.8" y="3947.3" class="tk" text-anchor="middle">0.5 π</text><text x="68.6" y="3934.6" class="tk" text-anchor="end">4</text><text x="68.6" y="3871.4" class="tk" text-anchor="end">5</text><text x="68.6" y="3808.2" class="tk" text-anchor="end">6</text><text x="68.6" y="3745.1" class="tk" text-anchor="end">7</text><text x="68.6" y="3681.9" class="tk" text-anchor="end">8</text><text x="68.6" y="3618.7" class="tk" text-anchor="end">9</text><g clip-path="url(#cp4)" fill="none" stroke-linejoin="round"><path transform="matrix(2.27136 0 0 -0.63180 97.80 4183.32)" d="M0 876l1-63 1-78 1-32 1-3 1 12 1 14 1-12 1-17 1-10 1-5 1-14 1-8 1 0 1-6 1-8 1 3 1-5 1-4 1-3 1-2 1-9 1-5 1 4 1 2 1-6 1 0 1-2 1-11 1 5 1-2 1-9 1-4 1 0 1 2 1-4 1 4 1 0 1-11 1 3 1-1 1-2 1 1 1-4 1-7 1 2 1 1 1-4 1 1 1 14 1 1 1-4 1-10 1-9 1 6 1 5 1-5 1-2 1 4 1 5 1-8 1-8 1-4 1 4 1-6 1-7 1-6 1-4 1 3 1 4 1-8 1-6 1-6 1-2 1-5 1 5 1-6 1-2 1 0 1 1 1-4 1-5 1-10 1-2 1-1 1 0 1 2 1 6 1-3 1-5 1-6 1-4 1 0 1 7 1-2 1-1 1-5 1-7 1-3 1-6 1 7 1 0 1-2 1-1 1-1 1-4 1-3 1-4 1 0 1 3 1-1 1-8 1-9 1-2 1 4 1 1 1 5 1 2 1-8 1 4 1-2 1-12 1-1 1 1 1-7 1-3 1 3 1-6 1-2 1 4 1-2 1 0 1 6 1-2 1-8 1 7 1 2 1 2 1 3 1 2 1-6 1-7 1-4 1-7 1 6 1 1 1-7 1-2 1 2 1 5 1 7 1-1 1-1 1 5 1 7 1-3 1 2 1 10 1-6 1 4 1 4 1-2 1 1 1 6 1-1 1 1 1 1 1 4 1-8 1-4 1 3 1 5 1 2 1 1 1 0 1 2 1-6 1 0 1 5 1 0 1 0 1 1 1 2 1 5 1 5 1 2 1-5 1-5 1-3 1-2 1 1 1 10 1 5 1-6 1-5 1-8 1 5 1 1 1 1 1-2" stroke="#d9544f" stroke-width="1.3" vector-effect="non-scaling-stroke" stroke-dasharray="1.6 2.4"/><path transform="matrix(1.89121 0 0 -0.63180 97.80 4183.32)" d="M0 936l1-92 1-92 1-29 1 4 1 8 1 8 1-9 1-19 1-14 1-7 1-5 1-6 1-10 1-10 1-3 1 2 1-2 1-1 1-2 1 1 1-4 1-6 1-4 1-4 1-2 1 0 1 3 1-6 1-5 1 2 1-2 1-9 1-6 1 5 1 4 1-5 1 0 1-1 1-2 1-6 1 0 1 4 1-7 1-10 1 9 1 3 1-8 1-3 1-5 1 0 1-1 1-2 1 3 1-1 1-1 1-5 1-9 1 2 1-4 1 1 1 0 1-4 1 0 1-4 1 2 1 2 1-5 1-2 1-4 1 1 1-6 1-2 1 0 1 4 1-3 1 0 1 4 1 2 1-2 1-2 1 3 1-2 1-3 1 2 1-7 1 0 1 5 1-2 1-3 1-5 1-3 1 1 1 2 1-4 1-4 1 4 1 9 1-1 1-1 1-7 1-4 1 1 1 3 1-6 1 0 1 0 1-7 1 0 1 0 1 2 1 1 1-4 1 1 1-3 1 0 1-1 1-4 1-3 1 3 1 3 1 7 1-1 1-5 1-5 1 4 1-1 1-3 1 1 1-3 1-3 1-4 1-2 1 3 1-6 1 0 1-3 1 0 1-1 1 3 1-4 1-3 1-2 1-1 1 1 1 5 1-3 1-4 1 5 1-1 1 0 1-2 1-7 1-1 1 5 1 5 1-4 1-12 1 0 1 10 1 0 1 1 1-2 1-7 1 4 1 0 1 2 1 5 1-6 1-6 1 0 1 10 1-3 1-6 1 2 1 0 1-5 1 4 1 0 1 3 1-3 1-3 1-6 1 2 1 4 1 8 1-4 1-2 1-3 1 0 1 6 1 5 1-5 1 4 1 1 1-5 1 1 1-1 1-6 1-1 1-1 1 3 1 5 1 5 1-3 1-7 1-6 1 7 1-1 1 2 1 2 1 1 1-5 1 0 1-1 1 0 1 2 1-3 1-1 1 4 1-3 1-11 1 6 1 7 1 2 1-16 1 6 1 4 1 0 1 3 1-2 1-5 1-5 1 6 1 5 1 2 1-2 1 4 1-1 1-9" stroke="#7fc4f0" stroke-width="1.4" vector-effect="non-scaling-stroke"/><path transform="matrix(1.89121 0 0 -0.63180 97.80 4183.32)" d="M0 939l1-91 1-92 1-30 1 6 1 14 1 1 1-19 1-15 1-13 1-5 1 0 1-6 1-12 1-5 1 4 1-6 1-9 1-3 1-2 1 0 1 0 1-6 1-1 1-1 1-2 1-7 1 1 1 4 1-7 1-3 1-1 1-5 1 0 1 5 1-4 1-9 1-2 1-6 1-2 1 5 1 3 1-4 1-1 1-8 1 0 1-1 1-1 1 1 1-3 1-7 1-5 1 1 1 1 1-4 1-6 1 0 1 7 1-2 1-4 1 2 1-1 1-4 1-2 1 4 1 0 1 0 1-3 1-6 1-5 1-2 1-1 1 1 1 1 1 3 1-1 1-5 1-2 1-6 1-1 1-1 1 3 1-2 1-2 1-1 1-4 1 4 1 4 1 0 1-8 1-3 1-2 1 8 1-2 1-3 1-5 1 1 1-1 1-4 1-1 1 0 1-1 1 0 1 7 1-2 1-2 1-1 1-2 1 0 1 1 1-2 1 2 1-2 1-1 1-5 1 2 1 3 1 1 1-2 1-9 1 0 1 5 1-7 1-4 1 6 1-1 1-8 1 1 1 5 1-5 1-4 1 2 1 1 1-7 1 2 1 1 1 0 1 0 1-3 1 0 1 0 1-2 1-10 1 2 1 1 1-2 1 6 1-3 1-7 1 2 1 4 1-2 1-3 1 3 1-2 1-5 1 3 1 5 1-2 1-7 1 1 1 6 1-1 1-3 1-2 1 2 1 0 1-7 1 5 1-3 1-3 1 1 1-1 1 1 1 3 1 2 1 1 1-5 1 3 1-3 1 2 1 1 1 2 1-5 1 4 1 6 1-1 1-5 1 2 1 2 1-1 1 1 1-4 1-8 1 10 1 9 1-11 1-4 1 0 1-2 1 1 1 3 1 5 1-4 1-1 1-3 1-3 1-1 1 1 1 7 1-5 1-5 1 6 1 7 1-4 1-3 1 0 1-4 1 0 1 2 1-11 1 4 1 2 1 2 1 0 1 7 1 2 1-7 1-6 1 0 1 1 1-2 1 1 1 10 1-2 1-8 1-1 1 2 1 0 1 2" stroke="#2e86d4" stroke-width="1.4" vector-effect="non-scaling-stroke"/><path transform="matrix(1.89121 0 0 -0.63180 97.80 4183.32)" d="M0 941l1-93 1-91 1-30 1 1 1 10 1 8 1-13 1-13 1-14 1-5 1-5 1-8 1-4 1-9 1-8 1-1 1-4 1 1 1-4 1-4 1-3 1 2 1-5 1-5 1-1 1 1 1-1 1-2 1 0 1 1 1-9 1-6 1-1 1 4 1 0 1-7 1-6 1-1 1 4 1 0 1-4 1-6 1 0 1-1 1-1 1 0 1-3 1-1 1-3 1-1 1-3 1-7 1 0 1-1 1-2 1 2 1 3 1-6 1-1 1-7 1 1 1 2 1 1 1-1 1-2 1-6 1-1 1 2 1-5 1-7 1-2 1 2 1 4 1 0 1-1 1-3 1 0 1 1 1-3 1 0 1-4 1-1 1-2 1-1 1 3 1-2 1 0 1 2 1 0 1-2 1-3 1-3 1-2 1-6 1-1 1 0 1 2 1 3 1-3 1 1 1 4 1-3 1-1 1-5 1-1 1-2 1 2 1 1 1-6 1 4 1 0 1-5 1-3 1 2 1 0 1 1 1 1 1 3 1-7 1-4 1 2 1 2 1 2 1-2 1-2 1-1 1-8 1-3 1-1 1 0 1-2 1 4 1-3 1-6 1 1 1 5 1 3 1 5 1 1 1-11 1-10 1-4 1 5 1-2 1 0 1-1 1 3 1 3 1-3 1-4 1-5 1-3 1 3 1 5 1 4 1-3 1-1 1-6 1-4 1 0 1 4 1 7 1-5 1 0 1-2 1 4 1-1 1-2 1-1 1-1 1 2 1-3 1-4 1 0 1 7 1 5 1-4 1-2 1 2 1 3 1-4 1-2 1 4 1 1 1 1 1-5 1-7 1 1 1 11 1 1 1-7 1-1 1 3 1-7 1 0 1 4 1-2 1 0 1 1 1 2 1 3 1-3 1-3 1-7 1 3 1-1 1-2 1 1 1 4 1 2 1-5 1 1 1 0 1 2 1 4 1 1 1 0 1-6 1-3 1 1 1 2 1-1 1-4 1 3 1 4 1 8 1-3 1-10 1-3 1-3 1 3 1 5 1 1 1-6 1-4 1-3 1 4 1 0 1 1" stroke="#8c82f0" stroke-width="1.4" vector-effect="non-scaling-stroke"/><path transform="matrix(1.89121 0 0 -0.63180 97.80 4183.32)" d="M0 930l1-94 1-89 1-32 1-28 1 22 1 11 1-5 1-5 1 1 1-4 1-10 1-7 1-6 1-5 1-2 1-2 1 0 1-4 1-1 1 2 1-8 1-5 1 0 1-5 1 4 1 2 1-4 1-4 1-6 1 4 1-1 1-3 1 3 1-9 1-6 1-1 1 4 1 2 1-2 1-5 1-2 1 1 1-6 1-2 1 5 1-2 1-2 1-2 1-6 1-1 1 0 1-3 1-1 1-3 1-3 1 1 1-5 1 1 1 0 1 0 1-8 1-2 1 1 1 1 1 0 1-2 1-2 1 2 1 0 1-10 1 0 1 2 1-2 1 1 1-7 1-3 1 0 1-8 1 6 1 8 1-5 1-3 1-4 1 1 1 2 1 2 1-9 1-6 1 8 1 4 1-8 1-6 1 2 1 4 1-2 1-2 1-6 1 5 1 4 1-3 1-2 1 6 1 0 1-6 1 0 1 3 1-3 1 1 1 4 1-4 1-6 1-4 1 5 1 0 1 0 1 1 1-6 1-3 1 3 1 1 1-5 1-1 1 1 1 1 1 0 1 0 1-7 1 3 1 0 1 2 1 3 1-6 1-1 1-1 1-6 1 3 1 0 1-4 1-1 1-3 1-5 1-2 1 6 1 1 1-7 1-2 1-4 1 0 1-1 1-2 1 3 1 3 1-3 1-2 1 2 1-1 1 0 1-5 1 7 1-7 1-6 1 1 1 6 1 1 1-1 1-2 1-5 1-2 1-4 1 3 1 4 1-3 1 10 1-2 1-7 1 3 1 0 1-2 1 1 1-2 1 1 1 2 1 0 1 0 1 0 1 2 1-2 1-6 1 2 1 7 1 2 1-4 1-3 1 2 1-1 1-6 1 1 1-2 1 1 1 5 1 1 1-8 1 2 1 5 1 1 1-2 1-5 1 1 1 1 1 4 1-3 1-1 1-1 1-3 1 2 1-2 1 1 1 0 1 4 1 0 1 0 1-8 1 6 1 1 1-1 1 2 1-8 1 2 1 4 1-3 1-3 1 1 1-3 1-1 1 0 1 4 1 1 1 5 1-5" stroke="#f04848" stroke-width="1.4" vector-effect="non-scaling-stroke"/></g><rect x="74.6" y="3574.5" width="497.4" height="357.8" fill="none" stroke="#3a3a3a" stroke-width="1.5"/><rect x="362.8" y="3580.7" width="203.2" height="85.8" rx="2" fill="#fff" fill-opacity="0.85" stroke="#dcdcdc" stroke-width="1"/><line x1="366.3" y1="3589.8" x2="391.2" y2="3589.8" stroke="#d9544f" stroke-width="1.3" stroke-dasharray="1.6 2.4"/><text x="398.8" y="3593.4" class="lg">Original Image</text><line x1="366.3" y1="3606.3" x2="391.2" y2="3606.3" stroke="#8c82f0" stroke-width="1.8"/><text x="398.8" y="3609.9" class="lg">FFDC: Only HighPass Filter</text><line x1="366.3" y1="3622.8" x2="391.2" y2="3622.8" stroke="#2e86d4" stroke-width="1.8"/><text x="398.8" y="3626.4" class="lg">FFDC: Only LowPass Filter</text><line x1="366.3" y1="3639.3" x2="391.2" y2="3639.3" stroke="#7fc4f0" stroke-width="1.8"/><text x="398.8" y="3642.9" class="lg">FFDC: Without Fourier Transform</text><line x1="366.3" y1="3655.8" x2="391.2" y2="3655.8" stroke="#f04848" stroke-width="1.8"/><text x="398.8" y="3659.4" class="lg">FFDC</text><text x="251.7" y="3772.3" class="bl">AFSF block (1)</text><text transform="translate(48.6 3727.5) rotate(-90)" class="yl">Amplitude</text><text x="218.5" y="3978.7" class="xl">Frequency (π)</text><clipPath id="cp5"><rect x="622.2" y="3575.0" width="490.5" height="357.3"/></clipPath><path d="M644.6 3575.0V3932.3M733.9 3575.0V3932.3M823.2 3575.0V3932.3M912.4 3575.0V3932.3M1001.7 3575.0V3932.3M1091.0 3575.0V3932.3M622.2 3929.0H1112.7M622.2 3872.6H1112.7M622.2 3816.2H1112.7M622.2 3759.8H1112.7M622.2 3703.5H1112.7M622.2 3647.1H1112.7M622.2 3590.7H1112.7" stroke="#d2d2d2" stroke-width="1.3" fill="none"/><path d="M644.6 3932.3v4M733.9 3932.3v4M823.2 3932.3v4M912.4 3932.3v4M1001.7 3932.3v4M1091.0 3932.3v4M622.2 3929.0h-4M622.2 3872.6h-4M622.2 3816.2h-4M622.2 3759.8h-4M622.2 3703.5h-4M622.2 3647.1h-4M622.2 3590.7h-4" stroke="#333" stroke-width="1" fill="none"/><text x="644.6" y="3947.3" class="tk" text-anchor="middle">0.0 π</text><text x="733.9" y="3947.3" class="tk" text-anchor="middle">0.1 π</text><text x="823.2" y="3947.3" class="tk" text-anchor="middle">0.2 π</text><text x="912.4" y="3947.3" class="tk" text-anchor="middle">0.3 π</text><text x="1001.7" y="3947.3" class="tk" text-anchor="middle">0.4 π</text><text x="1091.0" y="3947.3" class="tk" text-anchor="middle">0.5 π</text><text x="616.2" y="3933.0" class="tk" text-anchor="end">4</text><text x="616.2" y="3876.6" class="tk" text-anchor="end">5</text><text x="616.2" y="3820.2" class="tk" text-anchor="end">6</text><text x="616.2" y="3763.8" class="tk" text-anchor="end">7</text><text x="616.2" y="3707.5" class="tk" text-anchor="end">8</text><text x="616.2" y="3651.1" class="tk" text-anchor="end">9</text><text x="616.2" y="3594.7" class="tk" text-anchor="end">10</text><g clip-path="url(#cp5)" fill="none" stroke-linejoin="round"><path transform="matrix(2.24322 0 0 -0.56383 644.60 4154.53)" d="M0 875l1-61 1-76 1-34 1-3 1 12 1 7 1-2 1-9 1-15 1-13 1-19 1-1 1-6 1-9 1-4 1-8 1-6 1-5 1 0 1-3 1 1 1 5 1-5 1-6 1 4 1 1 1-6 1-4 1-5 1-4 1 5 1-3 1-4 1-2 1 1 1 4 1-9 1-7 1 6 1 5 1-3 1-8 1-3 1 9 1-8 1-1 1-2 1-3 1-1 1-3 1 0 1 2 1 6 1 7 1-9 1 2 1-4 1-7 1-6 1 1 1-4 1 2 1-4 1-7 1 3 1-5 1-4 1-3 1-3 1 4 1 0 1-8 1 0 1 1 1-8 1-6 1 1 1-6 1-8 1-6 1 3 1-1 1-1 1-9 1 4 1 13 1 2 1-7 1-9 1-9 1 5 1-6 1-8 1 0 1 3 1 5 1 2 1 6 1-5 1-9 1-4 1-6 1 3 1-3 1-1 1 0 1-4 1-2 1 3 1-5 1-14 1 3 1 3 1-2 1 3 1 1 1-4 1-2 1 3 1-3 1-1 1 4 1-7 1-10 1 2 1-6 1-5 1-5 1 4 1-6 1 6 1 9 1-4 1-5 1-3 1 4 1 3 1-12 1 2 1 8 1-4 1 2 1-4 1-7 1 5 1 7 1-5 1 1 1 2 1-2 1 2 1 4 1 0 1 3 1 7 1 6 1-6 1 2 1 15 1-7 1-13 1 2 1 2 1 7 1-3 1 5 1 9 1-5 1 1 1 4 1 5 1 3 1-1 1-6 1-1 1-5 1 5 1 6 1 7 1-4 1-5 1-1 1-2 1 2 1 1 1 2 1 0 1 3 1 2 1-8 1-3 1 3 1 14 1 1 1-7 1-6 1-2 1 5 1-1" stroke="#d9544f" stroke-width="1.3" vector-effect="non-scaling-stroke" stroke-dasharray="1.6 2.4"/><path transform="matrix(1.86778 0 0 -0.56383 644.60 4154.53)" d="M0 956l1-71 1-71 1-34 1-2 1-11 1-4 1-4 1-7 1-9 1-10 1-3 1-4 1-8 1-15 1 0 1 6 1 2 1-5 1-6 1-1 1-4 1-11 1 5 1 1 1 0 1 0 1-4 1 2 1 0 1-2 1-1 1 2 1 0 1-11 1-7 1 5 1 5 1-10 1-6 1-6 1-4 1 3 1 10 1-13 1-8 1 3 1 1 1-8 1-3 1 3 1 0 1-8 1 4 1 3 1-12 1-5 1 5 1-2 1-8 1-4 1-1 1-4 1-6 1-6 1-12 1-1 1-4 1 0 1-3 1 0 1-9 1-7 1-4 1-5 1-11 1-11 1-4 1 3 1-2 1-13 1-6 1-10 1-2 1-8 1-5 1 12 1 6 1-7 1-2 1 6 1 9 1 4 1 1 1 3 1 6 1 4 1 6 1 0 1 7 1 1 1-1 1-4 1-4 1 9 1 4 1-7 1-6 1 1 1 1 1 5 1 11 1-1 1-1 1-4 1 5 1 2 1-1 1-6 1-1 1-3 1-3 1 2 1 5 1 0 1-2 1 2 1 7 1 1 1 0 1-2 1-1 1 2 1-4 1-2 1 2 1 0 1-5 1-2 1-1 1 4 1 2 1 3 1-7 1 2 1 7 1-5 1-17 1 0 1-6 1 0 1 5 1 2 1 1 1-10 1-2 1 0 1-3 1-6 1 0 1-9 1-2 1 4 1 1 1-5 1 3 1 2 1-11 1 2 1-3 1-10 1 3 1 7 1 1 1-3 1 4 1 5 1 2 1 0 1 1 1 2 1-6 1 8 1 2 1-1 1 1 1-5 1 4 1-1 1-8 1 0 1-1 1 3 1-1 1 0 1 2 1 7 1 3 1 2 1-3 1-7 1 0 1 4 1 1 1-3 1 0 1 3 1 2 1-3 1 5 1-3 1 0 1-1 1 4 1 5 1 0 1-7 1 0 1 3 1-5 1-4 1 9 1-2 1 1 1 1 1 5 1-8 1 2 1 4 1-7 1-9 1 3 1 0 1 4 1-5 1-3 1 7 1 11 1 0 1-10" stroke="#7fc4f0" stroke-width="1.4" vector-effect="non-scaling-stroke"/><path transform="matrix(1.86778 0 0 -0.56383 644.60 4154.53)" d="M0 949l1-71 1-70 1-32 1-11 1-13 1-1 1 4 1-13 1-10 1-2 1-1 1-2 1-1 1-15 1-7 1 7 1-3 1-5 1-7 1-1 1 4 1-10 1-4 1 1 1 7 1-5 1-6 1 4 1 2 1-14 1-4 1 4 1-3 1-8 1-1 1 3 1-1 1-8 1 4 1 3 1-2 1-17 1 0 1 4 1 2 1-10 1-2 1 3 1 0 1-4 1-6 1 6 1-7 1 0 1 0 1-6 1-4 1-9 1-2 1-6 1-9 1-2 1-2 1 1 1-10 1-9 1 0 1 2 1 8 1-7 1-15 1-7 1 4 1-13 1-15 1-2 1-8 1 4 1-8 1-14 1-8 1-7 1 7 1-7 1-5 1 4 1-3 1 1 1 6 1 6 1 1 1 6 1 8 1 3 1 0 1 0 1 5 1 9 1 6 1-1 1-5 1 3 1 3 1 2 1-5 1 6 1-1 1 2 1 12 1-4 1-14 1 4 1 7 1-1 1-8 1 5 1 0 1-2 1 4 1-3 1-1 1-1 1 6 1 2 1-5 1-3 1 3 1 3 1-1 1-1 1 3 1-4 1 2 1 4 1-8 1 0 1 1 1-6 1-5 1-1 1-2 1 9 1 4 1 4 1 2 1-9 1-5 1-2 1-9 1-8 1 1 1 3 1-1 1-4 1-4 1-1 1-3 1-4 1-6 1 0 1 6 1 5 1-5 1 0 1 3 1-8 1-10 1-7 1 9 1 7 1-7 1 0 1 3 1 1 1-2 1 7 1-1 1-10 1-6 1 14 1 3 1-4 1-7 1 3 1 6 1 3 1 1 1 2 1-8 1-2 1 8 1 5 1-11 1 1 1 11 1-5 1 3 1 3 1-7 1 2 1 3 1-3 1-2 1-1 1 3 1 3 1-10 1 8 1 2 1 0 1 0 1 1 1-1 1-7 1 9 1 3 1-3 1-1 1 7 1 6 1-1 1-7 1-11 1 10 1-4 1-5 1 5 1 1 1-9 1 5 1-1 1 0 1 0 1 3 1-3 1-5 1-2 1 3 1 5" stroke="#2e86d4" stroke-width="1.4" vector-effect="non-scaling-stroke"/><path transform="matrix(1.86778 0 0 -0.56383 644.60 4154.53)" d="M0 994l1-121 1-56 1-6 1-4 1-4 1-6 1-7 1-7 1 0 1-4 1 1 1-5 1-13 1 2 1-9 1-6 1 0 1 2 1 4 1-1 1-18 1-3 1 0 1-8 1-6 1 3 1 2 1-1 1-3 1 3 1-4 1-4 1-11 1-7 1 10 1 2 1-2 1-5 1-5 1-1 1 1 1-7 1-2 1 0 1 3 1 2 1-6 1 4 1-9 1-7 1-2 1 4 1 0 1-11 1-3 1-2 1-4 1-4 1 2 1-1 1-7 1-8 1-1 1 0 1-5 1-4 1-7 1-2 1-5 1-9 1-5 1-6 1-6 1-8 1-8 1-10 1-9 1-7 1-12 1-10 1-17 1-4 1-1 1-5 1 7 1 2 1 4 1 10 1 13 1 11 1 16 1 6 1-2 1-4 1 5 1 2 1 0 1 3 1 3 1 1 1-1 1-4 1 6 1 9 1 0 1-5 1 5 1 1 1-3 1 6 1 3 1 0 1 4 1-7 1 0 1 2 1-1 1-4 1 3 1 3 1 7 1-4 1-6 1 1 1-8 1 3 1 1 1-10 1 6 1-2 1-5 1 1 1-5 1 4 1-1 1-2 1-7 1 4 1 0 1-5 1 3 1-5 1 9 1-1 1-12 1 3 1-4 1-4 1-5 1-9 1 2 1 1 1-3 1-10 1 5 1 3 1-6 1 1 1-3 1-6 1-1 1-3 1-10 1 1 1-3 1-4 1-5 1 2 1 8 1 3 1-3 1-1 1 11 1 9 1 6 1-6 1 3 1-3 1-7 1 8 1 8 1 1 1 9 1-2 1-2 1 4 1 0 1 4 1 1 1-1 1-2 1 2 1 3 1 0 1 4 1 3 1-7 1-3 1 4 1 0 1 5 1-6 1-3 1 3 1-3 1 2 1 1 1-8 1 3 1-1 1 1 1 3 1-2 1-3 1-3 1 4 1-7 1-8 1 5 1-4 1 3 1-4 1 3 1 2 1-5 1 0 1-2 1-6 1 9 1-3 1-2 1 0 1 1 1-5 1-5 1 2 1-7 1 5 1-5" stroke="#8c82f0" stroke-width="1.4" vector-effect="non-scaling-stroke"/><path transform="matrix(1.86778 0 0 -0.56383 644.60 4154.53)" d="M0 990l1-133 1-61 1-9 1-12 1 2 1 1 1-4 1-6 1-10 1-8 1-1 1-4 1-9 1-8 1-2 1-2 1-8 1-3 1-1 1 7 1-4 1-7 1-1 1-6 1-5 1-1 1 3 1 8 1-20 1-12 1 8 1-6 1-1 1 7 1-9 1-6 1 2 1-3 1 3 1-5 1 2 1 6 1-4 1-18 1 0 1 2 1 2 1-7 1-2 1 8 1-1 1-11 1-12 1 2 1 1 1 9 1-4 1-6 1-3 1-8 1-11 1 0 1-8 1-13 1 7 1-3 1-8 1-5 1-7 1-1 1-10 1-6 1 7 1-8 1-10 1-6 1-2 1-2 1-7 1-10 1-17 1-10 1-4 1-2 1 1 1 1 1 7 1 10 1 3 1-1 1 10 1 7 1 4 1 7 1 5 1 5 1-7 1-3 1 6 1 2 1-4 1 6 1 0 1-4 1 5 1 8 1-1 1-6 1 5 1 3 1 6 1-6 1-2 1-4 1 8 1-2 1-3 1 1 1 1 1 1 1 4 1-3 1 5 1 11 1-8 1-2 1 0 1-2 1-1 1-3 1 7 1 1 1-3 1-3 1 2 1-8 1 0 1-4 1-2 1 10 1 2 1-5 1-10 1-6 1 0 1-5 1-6 1 8 1-2 1-10 1-6 1 2 1 3 1 5 1-10 1-8 1 0 1-8 1-1 1 4 1-5 1-8 1 0 1-1 1-3 1 0 1 1 1-1 1 1 1 10 1 7 1-2 1-8 1 2 1 7 1 2 1-1 1 5 1-2 1-6 1-1 1 7 1 4 1 7 1-8 1 4 1 10 1-9 1 4 1-1 1-4 1-2 1 6 1 8 1-3 1-3 1 1 1-4 1 2 1 4 1-2 1 0 1-4 1-2 1 5 1-2 1 6 1 2 1 0 1-3 1-7 1-4 1 1 1 3 1 3 1-6 1 7 1 0 1 3 1 3 1 1 1 0 1-7 1-2 1-1 1 5 1 3 1 4 1 3 1 2 1-4 1-11 1-4 1-2 1-1 1 5 1 0 1-6 1-5" stroke="#f04848" stroke-width="1.4" vector-effect="non-scaling-stroke"/></g><rect x="622.2" y="3575.0" width="490.5" height="357.3" fill="none" stroke="#3a3a3a" stroke-width="1.5"/><rect x="903.3" y="3580.7" width="202.7" height="85.3" rx="2" fill="#fff" fill-opacity="0.85" stroke="#dcdcdc" stroke-width="1"/><line x1="906.8" y1="3589.8" x2="931.7" y2="3589.8" stroke="#d9544f" stroke-width="1.3" stroke-dasharray="1.6 2.4"/><text x="939.3" y="3593.4" class="lg">Original Image</text><line x1="906.8" y1="3606.3" x2="931.7" y2="3606.3" stroke="#8c82f0" stroke-width="1.8"/><text x="939.3" y="3609.9" class="lg">FFDC: Only HighPass Filter</text><line x1="906.8" y1="3622.8" x2="931.7" y2="3622.8" stroke="#2e86d4" stroke-width="1.8"/><text x="939.3" y="3626.4" class="lg">FFDC: Only LowPass Filter</text><line x1="906.8" y1="3639.3" x2="931.7" y2="3639.3" stroke="#7fc4f0" stroke-width="1.8"/><text x="939.3" y="3642.9" class="lg">FFDC: Without Fourier Transform</text><line x1="906.8" y1="3655.8" x2="931.7" y2="3655.8" stroke="#f04848" stroke-width="1.8"/><text x="939.3" y="3659.4" class="lg">FFDC</text><text x="762.0" y="3771.4" class="bl">AFSF block (2)</text><text transform="translate(600.3 3726.0) rotate(-90)" class="yl">Amplitude</text><text x="767.3" y="3978.7" class="xl">Frequency (π)</text><clipPath id="cp6"><rect x="1164.3" y="3573.7" width="490.0" height="357.8"/></clipPath><path d="M1185.8 3573.7V3931.5M1275.2 3573.7V3931.5M1364.6 3573.7V3931.5M1453.9 3573.7V3931.5M1543.3 3573.7V3931.5M1632.7 3573.7V3931.5M1164.3 3928.2H1654.3M1164.3 3871.7H1654.3M1164.3 3815.1H1654.3M1164.3 3758.6H1654.3M1164.3 3702.1H1654.3M1164.3 3645.5H1654.3M1164.3 3589.0H1654.3" stroke="#d2d2d2" stroke-width="1.3" fill="none"/><path d="M1185.8 3931.5v4M1275.2 3931.5v4M1364.6 3931.5v4M1453.9 3931.5v4M1543.3 3931.5v4M1632.7 3931.5v4M1164.3 3928.2h-4M1164.3 3871.7h-4M1164.3 3815.1h-4M1164.3 3758.6h-4M1164.3 3702.1h-4M1164.3 3645.5h-4M1164.3 3589.0h-4" stroke="#333" stroke-width="1" fill="none"/><text x="1185.8" y="3946.5" class="tk" text-anchor="middle">0.0 π</text><text x="1275.2" y="3946.5" class="tk" text-anchor="middle">0.1 π</text><text x="1364.6" y="3946.5" class="tk" text-anchor="middle">0.2 π</text><text x="1453.9" y="3946.5" class="tk" text-anchor="middle">0.3 π</text><text x="1543.3" y="3946.5" class="tk" text-anchor="middle">0.4 π</text><text x="1632.7" y="3946.5" class="tk" text-anchor="middle">0.5 π</text><text x="1158.3" y="3932.2" class="tk" text-anchor="end">4</text><text x="1158.3" y="3875.7" class="tk" text-anchor="end">5</text><text x="1158.3" y="3819.1" class="tk" text-anchor="end">6</text><text x="1158.3" y="3762.6" class="tk" text-anchor="end">7</text><text x="1158.3" y="3706.1" class="tk" text-anchor="end">8</text><text x="1158.3" y="3649.5" class="tk" text-anchor="end">9</text><text x="1158.3" y="3593.0" class="tk" text-anchor="end">10</text><g clip-path="url(#cp6)" fill="none" stroke-linejoin="round"><path transform="matrix(2.24573 0 0 -0.56533 1185.80 4154.33)" d="M0 876l1-63 1-77 1-33 1-1 1 3 1 14 1-7 1-15 1-17 1-11 1-4 1-2 1-4 1-4 1-8 1-5 1-6 1-7 1-1 1-1 1 1 1-4 1-2 1 1 1-1 1-7 1-3 1 0 1-2 1-10 1 0 1 11 1-8 1-8 1-8 1 3 1 3 1-3 1 0 1 1 1 2 1-1 1-10 1-2 1 6 1-2 1-7 1-4 1 3 1 5 1 4 1 2 1-3 1-5 1 8 1-2 1-8 1-1 1 0 1-6 1-5 1 1 1-1 1-11 1-1 1-12 1-1 1 5 1-1 1-9 1 5 1-1 1-10 1-4 1-5 1-4 1 12 1-8 1-11 1 4 1 0 1-3 1 1 1 1 1-7 1-1 1 8 1-4 1-5 1 1 1-15 1 0 1 7 1-1 1-4 1-5 1-4 1-1 1 0 1 4 1 1 1-2 1-3 1-12 1-1 1 1 1 6 1-5 1-1 1-4 1-7 1-1 1 4 1 0 1-3 1 4 1-4 1-2 1-1 1-4 1-8 1 7 1-1 1-3 1-1 1-7 1-12 1-2 1-1 1 1 1 6 1 2 1-10 1 0 1 7 1 5 1 0 1-4 1 1 1-2 1-4 1 1 1-9 1 3 1 4 1 3 1 2 1-4 1 2 1 6 1 4 1-5 1 3 1 0 1-1 1 4 1-1 1 4 1 7 1 6 1-7 1 4 1 1 1-2 1 3 1 5 1-3 1 3 1 0 1 4 1-1 1-9 1 2 1 6 1 0 1-2 1 7 1 5 1-3 1-2 1-2 1 10 1 9 1 2 1-7 1 0 1-6 1 0 1-3 1-7 1 3 1 3 1 0 1-1 1 2 1 4 1-3 1-12 1 3" stroke="#d9544f" stroke-width="1.3" vector-effect="non-scaling-stroke" stroke-dasharray="1.6 2.4"/><path transform="matrix(1.86987 0 0 -0.56533 1185.80 4154.33)" d="M0 934l1-54 1-51 1-12 1-15 1 2 1 3 1-2 1-8 1-1 1-4 1-7 1-4 1-5 1-1 1-8 1-7 1 2 1-4 1-11 1 3 1 0 1-7 1-12 1-6 1 5 1-3 1-9 1-18 1-11 1-6 1-6 1-8 1-12 1-16 1-19 1-17 1-15 1-20 1-15 1-32 1-30 1 1 1 20 1 18 1 15 1 10 1 14 1 9 1 11 1 8 1 6 1 6 1 4 1 14 1 9 1-8 1-3 1-1 1 6 1 3 1 0 1-4 1 0 1 2 1 2 1-10 1 0 1-2 1-7 1-7 1-4 1-8 1-2 1-8 1-20 1-7 1-12 1-16 1-9 1-1 1-6 1-14 1-10 1-5 1 7 1 0 1 6 1 13 1 2 1 7 1 14 1 11 1 2 1 6 1 6 1 13 1-1 1 4 1 4 1 9 1 2 1-4 1-3 1 7 1 7 1-10 1-11 1 3 1-2 1-2 1-3 1-7 1 0 1-4 1-7 1-17 1-5 1 0 1-9 1-11 1-4 1-7 1-10 1-3 1 0 1-1 1 5 1 6 1-2 1 8 1 11 1 5 1 1 1 4 1 0 1 6 1 10 1 3 1-2 1 5 1 2 1 1 1-4 1-2 1 1 1 11 1 3 1-9 1-1 1-5 1-4 1 1 1 0 1 1 1-11 1-3 1-8 1-11 1 0 1-4 1-9 1-5 1 10 1-1 1-7 1-1 1 0 1 0 1 8 1-12 1 0 1 7 1 2 1-1 1 3 1 7 1-6 1 3 1 6 1 8 1 5 1-5 1-2 1 4 1 3 1 5 1 8 1-3 1 0 1-3 1 1 1 4 1-9 1-3 1 9 1 4 1-5 1 2 1-7 1-8 1 2 1 1 1-4 1-8 1-5 1 5 1-3 1 0 1-4 1-10 1 6 1 8 1-6 1-1 1-2 1-4 1 0 1 4 1 6 1-5 1 4 1 8 1-6 1-4 1 10 1 6 1-2 1-1 1 0 1-11 1 2 1 5 1 7 1-2 1-2 1 6 1 9 1-2 1 1" stroke="#7fc4f0" stroke-width="1.4" vector-effect="non-scaling-stroke"/><path transform="matrix(1.86987 0 0 -0.56533 1185.80 4154.33)" d="M0 934l1-55 1-50 1-12 1-19 1 3 1 0 1-10 1 3 1 9 1-20 1-13 1-2 1-10 1-9 1-11 1-9 1-3 1-2 1 4 1-5 1-9 1 0 1-10 1-5 1-7 1-9 1-16 1 1 1-8 1-4 1-17 1-12 1-8 1-8 1-12 1-20 1-20 1-16 1-27 1-29 1-31 1-6 1 25 1 11 1 3 1 19 1 20 1 12 1 15 1 20 1 13 1 4 1 0 1 4 1 1 1 3 1-1 1-5 1 5 1 10 1 6 1 1 1 3 1-7 1-11 1-2 1 7 1-13 1-10 1-1 1-9 1-8 1-13 1 1 1-6 1-17 1-14 1-7 1-9 1-20 1-12 1-6 1-15 1-10 1 9 1 8 1 5 1 4 1 0 1 21 1 17 1 6 1 5 1 16 1 6 1-3 1 7 1 6 1 2 1 11 1 1 1-6 1 2 1 4 1 1 1 2 1-4 1-7 1-8 1 2 1-12 1 4 1 2 1-14 1-15 1-10 1-9 1 2 1-12 1-11 1 1 1-13 1-11 1-14 1 0 1 9 1 4 1 4 1 11 1 2 1 13 1 2 1 2 1 7 1 8 1 10 1-6 1-5 1 8 1 0 1 4 1 4 1 8 1 8 1-2 1-5 1-7 1-4 1-1 1 0 1-3 1-6 1-13 1 6 1-5 1-14 1 7 1-7 1-11 1 0 1-6 1 1 1 3 1 1 1-5 1-13 1-10 1 8 1 10 1 5 1-3 1-5 1 3 1 1 1 3 1-2 1 10 1 6 1-2 1 4 1-8 1 9 1 0 1 4 1 8 1 1 1-7 1 5 1-2 1 5 1 2 1-1 1-6 1-1 1-2 1 6 1 4 1-3 1-5 1 3 1-2 1-1 1-6 1-6 1 2 1 1 1-6 1-3 1-3 1 4 1-9 1-6 1 8 1-3 1 6 1-7 1-5 1 4 1 9 1-1 1 3 1-3 1 7 1 1 1 5 1 10 1-15 1-1 1-6 1 2 1 0 1 3 1 3 1-2 1 5 1-1 1 5 1-3 1 1" stroke="#2e86d4" stroke-width="1.4" vector-effect="non-scaling-stroke"/><path transform="matrix(1.86987 0 0 -0.56533 1185.80 4154.33)" d="M0 934l1-56 1-50 1-10 1-15 1-7 1-3 1-9 1 0 1 3 1-4 1 0 1 1 1-11 1-3 1 0 1-5 1-1 1-1 1-1 1 9 1-8 1-7 1-11 1-13 1-2 1-6 1-3 1-7 1-11 1-15 1-11 1-9 1-7 1-12 1-14 1-21 1-15 1-13 1-25 1-19 1-29 1-10 1 14 1 20 1 17 1 9 1 5 1 16 1 12 1 11 1 0 1 9 1 10 1 4 1 5 1 9 1 5 1-1 1 1 1-1 1-11 1-5 1 4 1 7 1-2 1-10 1 6 1-1 1-12 1-8 1-6 1-6 1-10 1-11 1-13 1-10 1-2 1-13 1-13 1-12 1-11 1-8 1-13 1-4 1 17 1 11 1 5 1 3 1 12 1 13 1 4 1 5 1 9 1 5 1-1 1 7 1 6 1 8 1 1 1 0 1 0 1 1 1 2 1 1 1 0 1 3 1 0 1-10 1-4 1-2 1 3 1-2 1-9 1-10 1-5 1-7 1-14 1-7 1-1 1-7 1-7 1-8 1-10 1-7 1 0 1 3 1 6 1 8 1 7 1 5 1-1 1 2 1 13 1 2 1 6 1 4 1 8 1 10 1-1 1 3 1 2 1 2 1-1 1-3 1-2 1-1 1-1 1-1 1 1 1-11 1 0 1 0 1-6 1 0 1-5 1-12 1-5 1 4 1-6 1-10 1-4 1 1 1 2 1-7 1 0 1-3 1-4 1 11 1 5 1-10 1-3 1 11 1 5 1-2 1 1 1 1 1-5 1 6 1 3 1 6 1-3 1 3 1 2 1-4 1 5 1 11 1 9 1 2 1 1 1 0 1-4 1-7 1-7 1 0 1 6 1-8 1-2 1 4 1-3 1-1 1-4 1-2 1-3 1 1 1-1 1 1 1-7 1-6 1 2 1 6 1-2 1-3 1 0 1-1 1-5 1 6 1 3 1-11 1 1 1 3 1 6 1 3 1-1 1-1 1-2 1 6 1 9 1 0 1-1 1-4 1 0 1-5 1 4 1 1 1-3 1 6 1 1 1 10 1-3" stroke="#8c82f0" stroke-width="1.4" vector-effect="non-scaling-stroke"/><path transform="matrix(1.86987 0 0 -0.56533 1185.80 4154.33)" d="M0 936l1-55 1-52 1-11 1-6 1-7 1-3 1-4 1 1 1 1 1-5 1-6 1-9 1-7 1 1 1 0 1 0 1-4 1-3 1 0 1 1 1-5 1-7 1-6 1-5 1-7 1-8 1-3 1-7 1-10 1-11 1-14 1-14 1-9 1-12 1-14 1-20 1-15 1-17 1-26 1-22 1-21 1-5 1 12 1 18 1 14 1 12 1 16 1 13 1 10 1 14 1 5 1 0 1 2 1 7 1 6 1 4 1 5 1 3 1-1 1-2 1 1 1 5 1-7 1-3 1-1 1-3 1 5 1-5 1-9 1-9 1-8 1-8 1-9 1-4 1-7 1-15 1-8 1-9 1-15 1-8 1-14 1-17 1-8 1-3 1 13 1 7 1 5 1 12 1 12 1 5 1 8 1 10 1 5 1 2 1 5 1 4 1 6 1 11 1 0 1-4 1 0 1 0 1 4 1 10 1 1 1-4 1-8 1-4 1-6 1 0 1 0 1-5 1-3 1-9 1-7 1-3 1-7 1-7 1-11 1-10 1-7 1-4 1-3 1-7 1-7 1-1 1 11 1 9 1 4 1 5 1 4 1 4 1 5 1 1 1 10 1 7 1 4 1 4 1-1 1-2 1 2 1 7 1 0 1-1 1 0 1 0 1 0 1-4 1-5 1-3 1-1 1 3 1-1 1-7 1-4 1-1 1-2 1-9 1-4 1-6 1-3 1-2 1-9 1-3 1 0 1-1 1-3 1 4 1 1 1 0 1 0 1 5 1 2 1 2 1 1 1-2 1 3 1 3 1 6 1 5 1 0 1 1 1 4 1 2 1-4 1 2 1 5 1 4 1-1 1-3 1 0 1 1 1 1 1 2 1-1 1-3 1-1 1-4 1-6 1-5 1 0 1 3 1-2 1-4 1 3 1-7 1-2 1 4 1-1 1 1 1-2 1-7 1 2 1 0 1-2 1 1 1 4 1 2 1-1 1 1 1 0 1 1 1 1 1 2 1 4 1 0 1-5 1 5 1 0 1 2 1 1 1-3 1 1 1 0 1 1 1 1 1-3 1 0 1 3" stroke="#f04848" stroke-width="1.4" vector-effect="non-scaling-stroke"/></g><rect x="1164.3" y="3573.7" width="490.0" height="357.8" fill="none" stroke="#3a3a3a" stroke-width="1.5"/><rect x="1445.4" y="3580.0" width="201.9" height="85.0" rx="2" fill="#fff" fill-opacity="0.85" stroke="#dcdcdc" stroke-width="1"/><line x1="1448.9" y1="3589.1" x2="1473.8" y2="3589.1" stroke="#d9544f" stroke-width="1.3" stroke-dasharray="1.6 2.4"/><text x="1481.4" y="3592.7" class="lg">Original Image</text><line x1="1448.9" y1="3605.6" x2="1473.8" y2="3605.6" stroke="#8c82f0" stroke-width="1.8"/><text x="1481.4" y="3609.2" class="lg">FFDC: Only HighPass Filter</text><line x1="1448.9" y1="3622.1" x2="1473.8" y2="3622.1" stroke="#2e86d4" stroke-width="1.8"/><text x="1481.4" y="3625.7" class="lg">FFDC: Only LowPass Filter</text><line x1="1448.9" y1="3638.6" x2="1473.8" y2="3638.6" stroke="#7fc4f0" stroke-width="1.8"/><text x="1481.4" y="3642.2" class="lg">FFDC: Without Fourier Transform</text><line x1="1448.9" y1="3655.1" x2="1473.8" y2="3655.1" stroke="#f04848" stroke-width="1.8"/><text x="1481.4" y="3658.7" class="lg">FFDC</text><text x="1336.3" y="3772.3" class="bl">AFSF block (3)</text><text transform="translate(1141.6 3725.5) rotate(-90)" class="yl">Amplitude</text><text x="1316.4" y="3978.7" class="xl">Frequency (π)</text><clipPath id="cp7"><rect x="1703.6" y="3569.0" width="491.7" height="358.0"/></clipPath><path d="M1725.6 3569.0V3927.0M1815.1 3569.0V3927.0M1904.7 3569.0V3927.0M1994.2 3569.0V3927.0M2083.8 3569.0V3927.0M2173.3 3569.0V3927.0M1703.6 3923.6H2195.3M1703.6 3865.9H2195.3M1703.6 3808.2H2195.3M1703.6 3750.5H2195.3M1703.6 3692.8H2195.3M1703.6 3635.1H2195.3M1703.6 3577.4H2195.3" stroke="#d2d2d2" stroke-width="1.3" fill="none"/><path d="M1725.6 3927.0v4M1815.1 3927.0v4M1904.7 3927.0v4M1994.2 3927.0v4M2083.8 3927.0v4M2173.3 3927.0v4M1703.6 3923.6h-4M1703.6 3865.9h-4M1703.6 3808.2h-4M1703.6 3750.5h-4M1703.6 3692.8h-4M1703.6 3635.1h-4M1703.6 3577.4h-4" stroke="#333" stroke-width="1" fill="none"/><text x="1725.6" y="3942.0" class="tk" text-anchor="middle">0.0 π</text><text x="1815.1" y="3942.0" class="tk" text-anchor="middle">0.1 π</text><text x="1904.7" y="3942.0" class="tk" text-anchor="middle">0.2 π</text><text x="1994.2" y="3942.0" class="tk" text-anchor="middle">0.3 π</text><text x="2083.8" y="3942.0" class="tk" text-anchor="middle">0.4 π</text><text x="2173.3" y="3942.0" class="tk" text-anchor="middle">0.5 π</text><text x="1697.6" y="3927.6" class="tk" text-anchor="end">4</text><text x="1697.6" y="3869.9" class="tk" text-anchor="end">5</text><text x="1697.6" y="3812.2" class="tk" text-anchor="end">6</text><text x="1697.6" y="3754.5" class="tk" text-anchor="end">7</text><text x="1697.6" y="3696.8" class="tk" text-anchor="end">8</text><text x="1697.6" y="3639.1" class="tk" text-anchor="end">9</text><text x="1697.6" y="3581.4" class="tk" text-anchor="end">10</text><g clip-path="url(#cp7)" fill="none" stroke-linejoin="round"><path transform="matrix(2.24975 0 0 -0.57700 1725.60 4154.40)" d="M0 875l1-64 1-75 1-32 1-7 1 11 1 10 1 0 1-19 1-12 1 0 1-10 1-20 1-14 1-2 1 6 1-4 1-9 1 5 1-4 1-9 1-1 1-1 1-3 1 1 1-5 1-2 1 2 1-6 1-10 1 0 1-3 1 2 1-1 1-5 1 8 1 4 1-8 1-9 1 2 1 3 1 0 1-2 1-7 1 0 1 8 1 7 1-11 1-5 1 3 1 4 1-10 1-12 1 5 1 1 1-3 1-2 1 5 1 12 1-6 1-10 1-10 1 0 1 0 1-4 1-2 1 5 1-3 1-11 1-11 1 0 1-6 1-2 1 2 1 1 1-4 1-13 1 4 1-3 1-3 1-2 1 7 1-3 1-2 1-4 1 3 1-3 1-6 1 0 1-4 1 0 1 6 1-4 1-9 1-4 1 6 1-3 1-6 1-1 1 8 1-3 1-9 1-5 1-1 1 0 1-3 1-7 1 1 1 4 1 4 1-3 1-6 1-5 1 3 1 3 1 0 1-2 1-9 1-2 1 3 1-5 1 0 1-6 1-8 1 2 1-1 1-4 1-4 1-5 1 1 1 2 1 4 1-3 1 4 1 3 1-8 1 8 1 1 1-6 1-3 1 6 1-3 1-7 1-3 1 10 1 3 1-9 1 2 1 5 1 3 1-1 1 7 1-4 1-3 1-2 1 3 1 9 1 0 1-3 1 2 1 11 1 4 1-1 1-3 1 0 1 7 1 4 1-4 1 0 1 5 1-5 1 5 1 8 1-6 1-7 1-7 1 5 1 10 1 6 1-5 1 9 1-5 1-3 1 1 1-4 1 8 1 3 1-13 1-2 1 2 1 6 1 4 1 3 1-8 1 3 1-3 1 1 1-1 1 0 1-5" stroke="#d9544f" stroke-width="1.3" vector-effect="non-scaling-stroke" stroke-dasharray="1.6 2.4"/><path transform="matrix(1.87322 0 0 -0.57700 1725.60 4154.40)" d="M0 924l1-1 1 3 1-11 1-9 1-33 1-6 1-10 1-14 1-25 1-2 1-3 1-32 1-7 1 2 1-16 1-2 1-26 1-18 1-15 1-29 1-3 1 9 1 5 1 30 1 4 1 2 1-7 1-16 1 9 1 6 1-25 1-15 1 11 1 8 1 1 1-15 1-29 1-20 1-27 1-22 1-14 1-17 1 13 1 4 1 21 1 29 1 28 1 10 1-8 1-3 1-5 1 11 1-17 1 4 1 2 1-20 1 1 1 9 1-4 1-36 1-16 1-24 1 20 1 1 1-6 1 15 1 14 1-7 1 4 1 22 1-10 1-17 1 9 1 14 1-4 1 12 1-7 1-25 1-18 1-12 1-2 1-7 1-12 1 15 1 4 1 14 1 15 1 13 1-15 1 6 1 4 1-1 1 15 1-1 1-14 1-3 1-10 1 10 1-11 1 2 1 11 1-22 1-7 1-3 1-19 1-8 1-3 1 10 1 11 1-10 1-12 1 11 1 17 1-13 1 13 1 8 1 8 1 3 1-6 1-14 1-9 1 15 1-6 1 0 1 7 1-6 1 1 1 25 1-11 1-30 1-8 1-1 1 13 1 4 1-7 1 24 1-10 1-5 1-4 1-8 1 0 1 10 1 14 1 0 1-13 1-30 1 9 1 24 1-12 1-4 1 7 1 6 1 4 1-1 1-18 1 2 1-7 1 4 1-6 1-7 1 4 1 4 1-3 1 2 1 6 1-14 1 12 1-1 1-2 1-12 1 9 1 26 1 11 1-19 1-11 1 3 1-4 1 18 1-6 1-8 1-11 1 0 1 5 1 3 1-8 1 21 1-7 1-28 1 6 1 24 1 0 1-2 1-5 1 1 1-4 1 7 1 0 1 5 1-20 1-1 1 23 1-1 1-8 1-10 1 14 1-5 1-8 1-2 1 4 1 5 1 2 1-4 1 9 1-7 1-3 1 3 1 24 1-11 1-21 1 20 1-5 1-17 1-4 1 33 1 6 1-14 1 2 1-19 1-7 1 6 1 1 1-6 1 2 1 2 1-24 1 14 1 15 1 1 1 0" stroke="#7fc4f0" stroke-width="1.4" vector-effect="non-scaling-stroke"/><path transform="matrix(1.87322 0 0 -0.57700 1725.60 4154.40)" d="M0 921l1 0 1-1 1-10 1-9 1-15 1-23 1-33 1-11 1-4 1-2 1-16 1-15 1-4 1-14 1-22 1-2 1-14 1-12 1-28 1-35 1 2 1 5 1 27 1 16 1-1 1 10 1-15 1-6 1 10 1-9 1 0 1 6 1 2 1-21 1-8 1-1 1-23 1-28 1-22 1-39 1-25 1-6 1 23 1 26 1 16 1 16 1-5 1 18 1 12 1-8 1-14 1-11 1 15 1-7 1 4 1-12 1 6 1 5 1-38 1-23 1-14 1-26 1 22 1 17 1 4 1 6 1 14 1-2 1 1 1 2 1 12 1 0 1 6 1-12 1-1 1 3 1 9 1-1 1-9 1-7 1-29 1-32 1 4 1 11 1 5 1 1 1 6 1 1 1-10 1 18 1 28 1 4 1-20 1-3 1 11 1 1 1-11 1-4 1 15 1-2 1-33 1-13 1 11 1-11 1-22 1 5 1 13 1 12 1 0 1 1 1 1 1-4 1-1 1 3 1 6 1-12 1-3 1 24 1 14 1 13 1-16 1-20 1 1 1 22 1-13 1-28 1 3 1 13 1 8 1-22 1-16 1 18 1-9 1-1 1-9 1 10 1 2 1-17 1 7 1 15 1 0 1 5 1-14 1-12 1 4 1 20 1 8 1-5 1 3 1-6 1-24 1-1 1 12 1 5 1 0 1-6 1-5 1 6 1 1 1-2 1 5 1-7 1-1 1 1 1-1 1 11 1-15 1-1 1-11 1 4 1-3 1 10 1 20 1-13 1-4 1 1 1 27 1 7 1-42 1-18 1 14 1 22 1-15 1-25 1 8 1 19 1 7 1 12 1-10 1-12 1-5 1-4 1-1 1 12 1 10 1-12 1 1 1 12 1 10 1-8 1-2 1 4 1-4 1-3 1 0 1 13 1-9 1-9 1 9 1-7 1-13 1 10 1-2 1 5 1 15 1 4 1-4 1-2 1 1 1-14 1 18 1-4 1-23 1-11 1 15 1 1 1-10 1 3 1 15 1 1 1-6 1 3 1-10 1-16 1 3 1 14 1 0 1 5 1 5" stroke="#2e86d4" stroke-width="1.4" vector-effect="non-scaling-stroke"/><path transform="matrix(1.87322 0 0 -0.57700 1725.60 4154.40)" d="M0 918l1 2 1 0 1-14 1-38 1-3 1 9 1-10 1-22 1-20 1-26 1-14 1 6 1-4 1-26 1-27 1 5 1-8 1-22 1-12 1-17 1-16 1 3 1 9 1 16 1-3 1 20 1 8 1 0 1 3 1-15 1 1 1-8 1-11 1-6 1-18 1-15 1-29 1-8 1-10 1-21 1-24 1-4 1 13 1-3 1 19 1 18 1 23 1 25 1 3 1-15 1-15 1-6 1 22 1-3 1 9 1-9 1-20 1-22 1-9 1-7 1-11 1-16 1-8 1 12 1 20 1 23 1 8 1-7 1-7 1-6 1 2 1-17 1 4 1 14 1 16 1 6 1-3 1-13 1-24 1-14 1-13 1-5 1-17 1 15 1 35 1 0 1-19 1 0 1 16 1 4 1 14 1 15 1-20 1-1 1 4 1 12 1-11 1-10 1 12 1-9 1-22 1-16 1-17 1 2 1-2 1-4 1-1 1 7 1 3 1 8 1 7 1-4 1-9 1 2 1 7 1-9 1 15 1-4 1-31 1 13 1 15 1-2 1 18 1 6 1-8 1-3 1 4 1 3 1-2 1-3 1 4 1-4 1-6 1 8 1-19 1 5 1-3 1 7 1 4 1 3 1-1 1 7 1 5 1-34 1-18 1 36 1 4 1-18 1-8 1-4 1 2 1 0 1 15 1 1 1-5 1-3 1 20 1 7 1-23 1-13 1-3 1-5 1 4 1 4 1 7 1 3 1-1 1-19 1-8 1 33 1 8 1-18 1 5 1 25 1-10 1-28 1-11 1 13 1 7 1 5 1 7 1 10 1-26 1-16 1 6 1 3 1 0 1 6 1 4 1-4 1 4 1-12 1-19 1 16 1 14 1 3 1-4 1 7 1-23 1-1 1 14 1 21 1-4 1-3 1 2 1-22 1 3 1 9 1-9 1-12 1 16 1 17 1 9 1-10 1-19 1 5 1 5 1 4 1-8 1 7 1-3 1-11 1-26 1 20 1 19 1 1 1 3 1-11 1 8 1 15 1-2 1-12 1-1 1-5 1 2 1-14 1-5 1 6 1-6" stroke="#8c82f0" stroke-width="1.4" vector-effect="non-scaling-stroke"/><path transform="matrix(1.87322 0 0 -0.57700 1725.60 4154.40)" d="M0 968l1-6 1-9 1-18 1-28 1-39 1 1 1-21 1-12 1 3 1-32 1-11 1 12 1 2 1-26 1-21 1 0 1-36 1-42 1-54 1-72 1-26 1 41 1 64 1 43 1-8 1 18 1 13 1 9 1-9 1 11 1 10 1-12 1-7 1-19 1-7 1 2 1-29 1-34 1-29 1-22 1-20 1-5 1 36 1 22 1 28 1 18 1 4 1 2 1-17 1 19 1 12 1 8 1 19 1 0 1-15 1-28 1-11 1-36 1-21 1-19 1-27 1-23 1 10 1-4 1 24 1 14 1 23 1 26 1 5 1 1 1 18 1-11 1 3 1 9 1-21 1-6 1 0 1-26 1-12 1-12 1 16 1-28 1-22 1-11 1 36 1-6 1 25 1 47 1-3 1-6 1 16 1-2 1-3 1-3 1-1 1-1 1-9 1-5 1 0 1-9 1-16 1-15 1-13 1-5 1-11 1 12 1 3 1 26 1-3 1 5 1 15 1 2 1 19 1 18 1 2 1-20 1-21 1 10 1-32 1-23 1 41 1 6 1-5 1-3 1-2 1 15 1 15 1-14 1-9 1-17 1-18 1 5 1 4 1 6 1-4 1-14 1-21 1-6 1-2 1-11 1 12 1 22 1-14 1-18 1 2 1 21 1 8 1 2 1 2 1-4 1-3 1-9 1 7 1 3 1-12 1 7 1 18 1 24 1-11 1-4 1 1 1-3 1 6 1-27 1-11 1 10 1-5 1-6 1-1 1-15 1 17 1 0 1 2 1-8 1 7 1 10 1-9 1 12 1 2 1 10 1-23 1 10 1 0 1 7 1-22 1-11 1 13 1 6 1-4 1 1 1-3 1-8 1-3 1 23 1 2 1-9 1 13 1-4 1-3 1-2 1 17 1 12 1-11 1-14 1-12 1 11 1-8 1-1 1 12 1 8 1-1 1 15 1-8 1-18 1 8 1 12 1-8 1 2 1 28 1 15 1-26 1-38 1 5 1-5 1-9 1 1 1-1 1 10 1 9 1 1 1-1 1-8 1 5 1 26 1-10 1-7 1 10 1 0 1-17" stroke="#f04848" stroke-width="1.4" vector-effect="non-scaling-stroke"/></g><rect x="1703.6" y="3569.0" width="491.7" height="358.0" fill="none" stroke="#3a3a3a" stroke-width="1.5"/><rect x="1986.4" y="3575.8" width="202.3" height="84.9" rx="2" fill="#fff" fill-opacity="0.85" stroke="#dcdcdc" stroke-width="1"/><line x1="1989.9" y1="3584.9" x2="2014.8" y2="3584.9" stroke="#d9544f" stroke-width="1.3" stroke-dasharray="1.6 2.4"/><text x="2022.4" y="3588.5" class="lg">Original Image</text><line x1="1989.9" y1="3601.4" x2="2014.8" y2="3601.4" stroke="#8c82f0" stroke-width="1.8"/><text x="2022.4" y="3605.0" class="lg">FFDC: Only HighPass Filter</text><line x1="1989.9" y1="3617.9" x2="2014.8" y2="3617.9" stroke="#2e86d4" stroke-width="1.8"/><text x="2022.4" y="3621.5" class="lg">FFDC: Only LowPass Filter</text><line x1="1989.9" y1="3634.4" x2="2014.8" y2="3634.4" stroke="#7fc4f0" stroke-width="1.8"/><text x="2022.4" y="3638.0" class="lg">FFDC: Without Fourier Transform</text><line x1="1989.9" y1="3650.9" x2="2014.8" y2="3650.9" stroke="#f04848" stroke-width="1.8"/><text x="2022.4" y="3654.5" class="lg">FFDC</text><text x="1851.6" y="3769.4" class="bl">AFSF block (4)</text><text transform="translate(1684.2 3726.0) rotate(-90)" class="yl">Amplitude</text><text x="1865.3" y="3978.7" class="xl">Frequency (π)</text><line x1="150.5" y1="4001.5" x2="204" y2="4001.5" stroke="#d9544f" stroke-width="4" stroke-linecap="round" stroke-dasharray="0.1 12.8"/><text x="213.5" y="4014.8" class="bg">Original Image</text><line x1="446.5" y1="4010" x2="520" y2="4010" stroke="#f04848" stroke-width="1.8"/><text x="533.8" y="4021" class="bs">FFDC</text><line x1="636.8" y1="4010" x2="709" y2="4010" stroke="#7fc4f0" stroke-width="1.8"/><text x="721.7" y="4021" class="bs">FFDC: Without Fourier Transform</text><line x1="1165.6" y1="4012.9" x2="1241.8" y2="4012.9" stroke="#8c82f0" stroke-width="1.8"/><text x="1255" y="4022" class="bs">FFDC: Ohly HighPass Filter</text><line x1="1657" y1="4020.6" x2="1731.6" y2="4020.6" stroke="#2e86d4" stroke-width="1.8"/><text x="1751" y="4031.5" class="bs">FFDC: Ohly LowPass Filter</text><text x="418" y="4082.3" style="font:bold 41.2px 'Liberation Serif',serif;fill:#000">(d) Changes in the low-frequency components and high-frequency components</text></svg></body></html>
